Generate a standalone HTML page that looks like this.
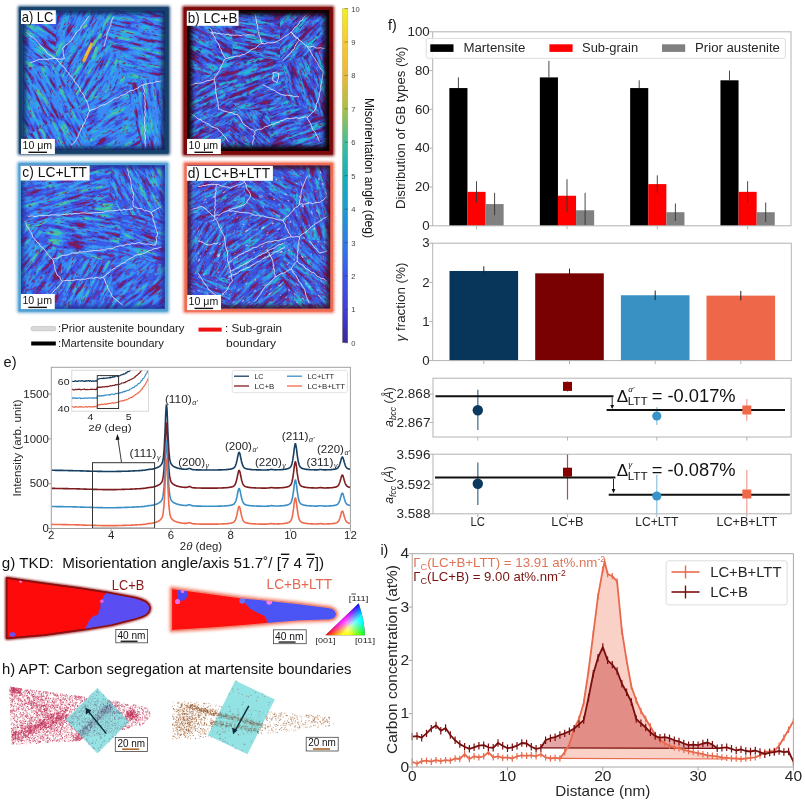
<!DOCTYPE html>
<html><head><meta charset="utf-8"><style>
html,body{margin:0;padding:0;background:#fff;width:805px;height:802px;overflow:hidden}
svg{display:block;font-family:"Liberation Sans",sans-serif}
text{font-family:"Liberation Sans",sans-serif}
</style></head><body>
<svg width="805" height="802" viewBox="0 0 805 802">
<defs><linearGradient id="parula" x1="0" y1="1" x2="0" y2="0"><stop offset="0.0" stop-color="#3a2a9a"/><stop offset="0.05" stop-color="#3d31b8"/><stop offset="0.1" stop-color="#4040d8"/><stop offset="0.2" stop-color="#3c56ea"/><stop offset="0.3" stop-color="#2d7ce8"/><stop offset="0.4" stop-color="#1a9ad8"/><stop offset="0.5" stop-color="#15b0bc"/><stop offset="0.6" stop-color="#40bea0"/><stop offset="0.7" stop-color="#a8c048"/><stop offset="0.8" stop-color="#eab83c"/><stop offset="0.9" stop-color="#f8c835"/><stop offset="1.0" stop-color="#f2f020"/></linearGradient><filter id="spka0" x="0" y="0" width="100%" height="100%" color-interpolation-filters="sRGB"><feTurbulence type="fractalNoise" baseFrequency="0.16 0.7" numOctaves="2" seed="77" result="n"/><feColorMatrix in="n" type="matrix" values="0 0 0 0 0  0 0 0 0 0  0 0 0 0 0  9.0 0 0 0 -5.80" result="m"/><feComposite in="SourceGraphic" in2="m" operator="in"/><feGaussianBlur stdDeviation="0.35"/></filter><filter id="spka1" x="0" y="0" width="100%" height="100%" color-interpolation-filters="sRGB"><feTurbulence type="fractalNoise" baseFrequency="0.14 0.6" numOctaves="2" seed="90" result="n"/><feColorMatrix in="n" type="matrix" values="0 0 0 0 0  0 0 0 0 0  0 0 0 0 0  9.0 0 0 0 -6.08" result="m"/><feComposite in="SourceGraphic" in2="m" operator="in"/><feGaussianBlur stdDeviation="0.35"/></filter><filter id="spkb0" x="0" y="0" width="100%" height="100%" color-interpolation-filters="sRGB"><feTurbulence type="fractalNoise" baseFrequency="0.16 0.7" numOctaves="2" seed="154" result="n"/><feColorMatrix in="n" type="matrix" values="0 0 0 0 0  0 0 0 0 0  0 0 0 0 0  9.0 0 0 0 -5.40" result="m"/><feComposite in="SourceGraphic" in2="m" operator="in"/><feGaussianBlur stdDeviation="0.35"/></filter><filter id="spkb1" x="0" y="0" width="100%" height="100%" color-interpolation-filters="sRGB"><feTurbulence type="fractalNoise" baseFrequency="0.14 0.6" numOctaves="2" seed="167" result="n"/><feColorMatrix in="n" type="matrix" values="0 0 0 0 0  0 0 0 0 0  0 0 0 0 0  9.0 0 0 0 -5.58" result="m"/><feComposite in="SourceGraphic" in2="m" operator="in"/><feGaussianBlur stdDeviation="0.35"/></filter><filter id="spkc0" x="0" y="0" width="100%" height="100%" color-interpolation-filters="sRGB"><feTurbulence type="fractalNoise" baseFrequency="0.16 0.7" numOctaves="2" seed="231" result="n"/><feColorMatrix in="n" type="matrix" values="0 0 0 0 0  0 0 0 0 0  0 0 0 0 0  9.0 0 0 0 -5.54" result="m"/><feComposite in="SourceGraphic" in2="m" operator="in"/><feGaussianBlur stdDeviation="0.35"/></filter><filter id="spkc1" x="0" y="0" width="100%" height="100%" color-interpolation-filters="sRGB"><feTurbulence type="fractalNoise" baseFrequency="0.14 0.6" numOctaves="2" seed="244" result="n"/><feColorMatrix in="n" type="matrix" values="0 0 0 0 0  0 0 0 0 0  0 0 0 0 0  9.0 0 0 0 -5.85" result="m"/><feComposite in="SourceGraphic" in2="m" operator="in"/><feGaussianBlur stdDeviation="0.35"/></filter><filter id="spkd0" x="0" y="0" width="100%" height="100%" color-interpolation-filters="sRGB"><feTurbulence type="fractalNoise" baseFrequency="0.16 0.7" numOctaves="2" seed="308" result="n"/><feColorMatrix in="n" type="matrix" values="0 0 0 0 0  0 0 0 0 0  0 0 0 0 0  9.0 0 0 0 -5.45" result="m"/><feComposite in="SourceGraphic" in2="m" operator="in"/><feGaussianBlur stdDeviation="0.35"/></filter><filter id="spkd1" x="0" y="0" width="100%" height="100%" color-interpolation-filters="sRGB"><feTurbulence type="fractalNoise" baseFrequency="0.14 0.6" numOctaves="2" seed="321" result="n"/><feColorMatrix in="n" type="matrix" values="0 0 0 0 0  0 0 0 0 0  0 0 0 0 0  9.0 0 0 0 -5.76" result="m"/><feComposite in="SourceGraphic" in2="m" operator="in"/><feGaussianBlur stdDeviation="0.35"/></filter><filter id="spkd2" x="0" y="0" width="100%" height="100%" color-interpolation-filters="sRGB"><feTurbulence type="fractalNoise" baseFrequency="0.2 0.6" numOctaves="2" seed="334" result="n"/><feColorMatrix in="n" type="matrix" values="0 0 0 0 0  0 0 0 0 0  0 0 0 0 0  9.0 0 0 0 -6.21" result="m"/><feComposite in="SourceGraphic" in2="m" operator="in"/><feGaussianBlur stdDeviation="0.35"/></filter><filter id="nfa0" x="0" y="0" width="100%" height="100%" color-interpolation-filters="sRGB"><feTurbulence type="fractalNoise" baseFrequency="0.045 0.28" numOctaves="2" seed="11"/><feColorMatrix type="matrix" values="1 0 0 0 0  1 0 0 0 0  1 0 0 0 0  0 0 0 0 1"/><feComponentTransfer><feFuncR type="linear" slope="2.3" intercept="-0.6499999999999999"/><feFuncG type="linear" slope="2.3" intercept="-0.6499999999999999"/><feFuncB type="linear" slope="2.3" intercept="-0.6499999999999999"/></feComponentTransfer><feComponentTransfer><feFuncR type="discrete" tableValues="0.478 0.227 0.290 0.290 0.290 0.290 0.227 0.227 0.227 0.227 0.227 0.227 0.227 0.227 0.227 0.227 0.227 0.227 0.227 0.227 0.227 0.227 0.227 0.227 0.227 0.227 0.227 0.227 0.196 0.196 0.196 0.196 0.196 0.196 0.196 0.133 0.133 0.133 0.133 0.298"/><feFuncG type="discrete" tableValues="0.102 0.165 0.282 0.282 0.282 0.282 0.384 0.384 0.384 0.384 0.384 0.384 0.384 0.384 0.549 0.549 0.549 0.549 0.549 0.549 0.549 0.549 0.549 0.549 0.549 0.549 0.549 0.549 0.651 0.651 0.651 0.651 0.651 0.651 0.651 0.722 0.722 0.722 0.722 0.769"/><feFuncB type="discrete" tableValues="0.353 0.565 0.847 0.847 0.847 0.847 0.918 0.918 0.918 0.918 0.918 0.918 0.918 0.918 0.961 0.961 0.961 0.961 0.961 0.961 0.961 0.961 0.961 0.961 0.961 0.961 0.961 0.961 0.933 0.933 0.933 0.933 0.933 0.933 0.933 0.816 0.816 0.816 0.816 0.627"/></feComponentTransfer><feGaussianBlur stdDeviation="0.45"/></filter><filter id="nfa1" x="0" y="0" width="100%" height="100%" color-interpolation-filters="sRGB"><feTurbulence type="fractalNoise" baseFrequency="0.045 0.28" numOctaves="2" seed="28"/><feColorMatrix type="matrix" values="1 0 0 0 0  1 0 0 0 0  1 0 0 0 0  0 0 0 0 1"/><feComponentTransfer><feFuncR type="linear" slope="2.3" intercept="-0.6499999999999999"/><feFuncG type="linear" slope="2.3" intercept="-0.6499999999999999"/><feFuncB type="linear" slope="2.3" intercept="-0.6499999999999999"/></feComponentTransfer><feComponentTransfer><feFuncR type="discrete" tableValues="0.478 0.227 0.290 0.290 0.290 0.290 0.227 0.227 0.227 0.227 0.227 0.227 0.227 0.227 0.227 0.227 0.227 0.227 0.227 0.227 0.227 0.227 0.227 0.227 0.227 0.227 0.227 0.227 0.196 0.196 0.196 0.196 0.196 0.196 0.196 0.133 0.133 0.133 0.133 0.298"/><feFuncG type="discrete" tableValues="0.102 0.165 0.282 0.282 0.282 0.282 0.384 0.384 0.384 0.384 0.384 0.384 0.384 0.384 0.549 0.549 0.549 0.549 0.549 0.549 0.549 0.549 0.549 0.549 0.549 0.549 0.549 0.549 0.651 0.651 0.651 0.651 0.651 0.651 0.651 0.722 0.722 0.722 0.722 0.769"/><feFuncB type="discrete" tableValues="0.353 0.565 0.847 0.847 0.847 0.847 0.918 0.918 0.918 0.918 0.918 0.918 0.918 0.918 0.961 0.961 0.961 0.961 0.961 0.961 0.961 0.961 0.961 0.961 0.961 0.961 0.961 0.961 0.933 0.933 0.933 0.933 0.933 0.933 0.933 0.816 0.816 0.816 0.816 0.627"/></feComponentTransfer><feGaussianBlur stdDeviation="0.45"/></filter><filter id="nfa2" x="0" y="0" width="100%" height="100%" color-interpolation-filters="sRGB"><feTurbulence type="fractalNoise" baseFrequency="0.045 0.28" numOctaves="2" seed="45"/><feColorMatrix type="matrix" values="1 0 0 0 0  1 0 0 0 0  1 0 0 0 0  0 0 0 0 1"/><feComponentTransfer><feFuncR type="linear" slope="2.3" intercept="-0.6499999999999999"/><feFuncG type="linear" slope="2.3" intercept="-0.6499999999999999"/><feFuncB type="linear" slope="2.3" intercept="-0.6499999999999999"/></feComponentTransfer><feComponentTransfer><feFuncR type="discrete" tableValues="0.478 0.227 0.290 0.290 0.290 0.290 0.227 0.227 0.227 0.227 0.227 0.227 0.227 0.227 0.227 0.227 0.227 0.227 0.227 0.227 0.227 0.227 0.227 0.227 0.227 0.227 0.227 0.227 0.196 0.196 0.196 0.196 0.196 0.196 0.196 0.133 0.133 0.133 0.133 0.298"/><feFuncG type="discrete" tableValues="0.102 0.165 0.282 0.282 0.282 0.282 0.384 0.384 0.384 0.384 0.384 0.384 0.384 0.384 0.549 0.549 0.549 0.549 0.549 0.549 0.549 0.549 0.549 0.549 0.549 0.549 0.549 0.549 0.651 0.651 0.651 0.651 0.651 0.651 0.651 0.722 0.722 0.722 0.722 0.769"/><feFuncB type="discrete" tableValues="0.353 0.565 0.847 0.847 0.847 0.847 0.918 0.918 0.918 0.918 0.918 0.918 0.918 0.918 0.961 0.961 0.961 0.961 0.961 0.961 0.961 0.961 0.961 0.961 0.961 0.961 0.961 0.961 0.933 0.933 0.933 0.933 0.933 0.933 0.933 0.816 0.816 0.816 0.816 0.627"/></feComponentTransfer><feGaussianBlur stdDeviation="0.45"/></filter><filter id="nfb0" x="0" y="0" width="100%" height="100%" color-interpolation-filters="sRGB"><feTurbulence type="fractalNoise" baseFrequency="0.045 0.28" numOctaves="2" seed="22"/><feColorMatrix type="matrix" values="1 0 0 0 0  1 0 0 0 0  1 0 0 0 0  0 0 0 0 1"/><feComponentTransfer><feFuncR type="linear" slope="2.6" intercept="-0.8"/><feFuncG type="linear" slope="2.6" intercept="-0.8"/><feFuncB type="linear" slope="2.6" intercept="-0.8"/></feComponentTransfer><feComponentTransfer><feFuncR type="discrete" tableValues="0.478 0.478 0.200 0.200 0.200 0.200 0.290 0.290 0.290 0.290 0.290 0.290 0.290 0.227 0.227 0.227 0.227 0.227 0.227 0.227 0.227 0.227 0.227 0.227 0.227 0.227 0.227 0.227 0.227 0.227 0.227 0.227 0.227 0.227 0.196 0.196 0.196 0.196 0.133 0.133"/><feFuncG type="discrete" tableValues="0.102 0.102 0.157 0.157 0.157 0.157 0.267 0.267 0.267 0.267 0.267 0.267 0.267 0.353 0.353 0.353 0.353 0.353 0.353 0.353 0.353 0.353 0.353 0.533 0.533 0.533 0.533 0.533 0.533 0.533 0.533 0.533 0.533 0.533 0.651 0.651 0.651 0.651 0.722 0.722"/><feFuncB type="discrete" tableValues="0.353 0.353 0.541 0.541 0.541 0.541 0.816 0.816 0.816 0.816 0.816 0.816 0.816 0.902 0.902 0.902 0.902 0.902 0.902 0.902 0.902 0.902 0.902 0.941 0.941 0.941 0.941 0.941 0.941 0.941 0.941 0.941 0.941 0.941 0.933 0.933 0.933 0.933 0.816 0.816"/></feComponentTransfer><feGaussianBlur stdDeviation="0.45"/></filter><filter id="nfb1" x="0" y="0" width="100%" height="100%" color-interpolation-filters="sRGB"><feTurbulence type="fractalNoise" baseFrequency="0.045 0.28" numOctaves="2" seed="39"/><feColorMatrix type="matrix" values="1 0 0 0 0  1 0 0 0 0  1 0 0 0 0  0 0 0 0 1"/><feComponentTransfer><feFuncR type="linear" slope="2.6" intercept="-0.8"/><feFuncG type="linear" slope="2.6" intercept="-0.8"/><feFuncB type="linear" slope="2.6" intercept="-0.8"/></feComponentTransfer><feComponentTransfer><feFuncR type="discrete" tableValues="0.478 0.478 0.200 0.200 0.200 0.200 0.290 0.290 0.290 0.290 0.290 0.290 0.290 0.227 0.227 0.227 0.227 0.227 0.227 0.227 0.227 0.227 0.227 0.227 0.227 0.227 0.227 0.227 0.227 0.227 0.227 0.227 0.227 0.227 0.196 0.196 0.196 0.196 0.133 0.133"/><feFuncG type="discrete" tableValues="0.102 0.102 0.157 0.157 0.157 0.157 0.267 0.267 0.267 0.267 0.267 0.267 0.267 0.353 0.353 0.353 0.353 0.353 0.353 0.353 0.353 0.353 0.353 0.533 0.533 0.533 0.533 0.533 0.533 0.533 0.533 0.533 0.533 0.533 0.651 0.651 0.651 0.651 0.722 0.722"/><feFuncB type="discrete" tableValues="0.353 0.353 0.541 0.541 0.541 0.541 0.816 0.816 0.816 0.816 0.816 0.816 0.816 0.902 0.902 0.902 0.902 0.902 0.902 0.902 0.902 0.902 0.902 0.941 0.941 0.941 0.941 0.941 0.941 0.941 0.941 0.941 0.941 0.941 0.933 0.933 0.933 0.933 0.816 0.816"/></feComponentTransfer><feGaussianBlur stdDeviation="0.45"/></filter><filter id="nfb2" x="0" y="0" width="100%" height="100%" color-interpolation-filters="sRGB"><feTurbulence type="fractalNoise" baseFrequency="0.045 0.28" numOctaves="2" seed="56"/><feColorMatrix type="matrix" values="1 0 0 0 0  1 0 0 0 0  1 0 0 0 0  0 0 0 0 1"/><feComponentTransfer><feFuncR type="linear" slope="2.6" intercept="-0.8"/><feFuncG type="linear" slope="2.6" intercept="-0.8"/><feFuncB type="linear" slope="2.6" intercept="-0.8"/></feComponentTransfer><feComponentTransfer><feFuncR type="discrete" tableValues="0.478 0.478 0.200 0.200 0.200 0.200 0.290 0.290 0.290 0.290 0.290 0.290 0.290 0.227 0.227 0.227 0.227 0.227 0.227 0.227 0.227 0.227 0.227 0.227 0.227 0.227 0.227 0.227 0.227 0.227 0.227 0.227 0.227 0.227 0.196 0.196 0.196 0.196 0.133 0.133"/><feFuncG type="discrete" tableValues="0.102 0.102 0.157 0.157 0.157 0.157 0.267 0.267 0.267 0.267 0.267 0.267 0.267 0.353 0.353 0.353 0.353 0.353 0.353 0.353 0.353 0.353 0.353 0.533 0.533 0.533 0.533 0.533 0.533 0.533 0.533 0.533 0.533 0.533 0.651 0.651 0.651 0.651 0.722 0.722"/><feFuncB type="discrete" tableValues="0.353 0.353 0.541 0.541 0.541 0.541 0.816 0.816 0.816 0.816 0.816 0.816 0.816 0.902 0.902 0.902 0.902 0.902 0.902 0.902 0.902 0.902 0.902 0.941 0.941 0.941 0.941 0.941 0.941 0.941 0.941 0.941 0.941 0.941 0.933 0.933 0.933 0.933 0.816 0.816"/></feComponentTransfer><feGaussianBlur stdDeviation="0.45"/></filter><filter id="nfc0" x="0" y="0" width="100%" height="100%" color-interpolation-filters="sRGB"><feTurbulence type="fractalNoise" baseFrequency="0.045 0.28" numOctaves="2" seed="33"/><feColorMatrix type="matrix" values="1 0 0 0 0  1 0 0 0 0  1 0 0 0 0  0 0 0 0 1"/><feComponentTransfer><feFuncR type="linear" slope="2.3" intercept="-0.6499999999999999"/><feFuncG type="linear" slope="2.3" intercept="-0.6499999999999999"/><feFuncB type="linear" slope="2.3" intercept="-0.6499999999999999"/></feComponentTransfer><feComponentTransfer><feFuncR type="discrete" tableValues="0.502 0.227 0.227 0.290 0.290 0.290 0.290 0.290 0.227 0.227 0.227 0.227 0.227 0.227 0.227 0.227 0.227 0.227 0.227 0.227 0.227 0.227 0.227 0.227 0.227 0.227 0.227 0.227 0.227 0.227 0.227 0.227 0.204 0.204 0.204 0.204 0.204 0.133 0.133 0.298"/><feFuncG type="discrete" tableValues="0.110 0.165 0.165 0.267 0.267 0.267 0.267 0.267 0.361 0.361 0.361 0.361 0.361 0.361 0.361 0.361 0.361 0.361 0.361 0.361 0.549 0.549 0.549 0.549 0.549 0.549 0.549 0.549 0.549 0.549 0.549 0.549 0.659 0.659 0.659 0.659 0.659 0.722 0.722 0.769"/><feFuncB type="discrete" tableValues="0.353 0.565 0.565 0.847 0.847 0.847 0.847 0.847 0.918 0.918 0.918 0.918 0.918 0.918 0.918 0.918 0.918 0.918 0.918 0.918 0.961 0.961 0.961 0.961 0.961 0.961 0.961 0.961 0.961 0.961 0.961 0.961 0.933 0.933 0.933 0.933 0.933 0.816 0.816 0.627"/></feComponentTransfer><feGaussianBlur stdDeviation="0.45"/></filter><filter id="nfc1" x="0" y="0" width="100%" height="100%" color-interpolation-filters="sRGB"><feTurbulence type="fractalNoise" baseFrequency="0.045 0.28" numOctaves="2" seed="50"/><feColorMatrix type="matrix" values="1 0 0 0 0  1 0 0 0 0  1 0 0 0 0  0 0 0 0 1"/><feComponentTransfer><feFuncR type="linear" slope="2.3" intercept="-0.6499999999999999"/><feFuncG type="linear" slope="2.3" intercept="-0.6499999999999999"/><feFuncB type="linear" slope="2.3" intercept="-0.6499999999999999"/></feComponentTransfer><feComponentTransfer><feFuncR type="discrete" tableValues="0.502 0.227 0.227 0.290 0.290 0.290 0.290 0.290 0.227 0.227 0.227 0.227 0.227 0.227 0.227 0.227 0.227 0.227 0.227 0.227 0.227 0.227 0.227 0.227 0.227 0.227 0.227 0.227 0.227 0.227 0.227 0.227 0.204 0.204 0.204 0.204 0.204 0.133 0.133 0.298"/><feFuncG type="discrete" tableValues="0.110 0.165 0.165 0.267 0.267 0.267 0.267 0.267 0.361 0.361 0.361 0.361 0.361 0.361 0.361 0.361 0.361 0.361 0.361 0.361 0.549 0.549 0.549 0.549 0.549 0.549 0.549 0.549 0.549 0.549 0.549 0.549 0.659 0.659 0.659 0.659 0.659 0.722 0.722 0.769"/><feFuncB type="discrete" tableValues="0.353 0.565 0.565 0.847 0.847 0.847 0.847 0.847 0.918 0.918 0.918 0.918 0.918 0.918 0.918 0.918 0.918 0.918 0.918 0.918 0.961 0.961 0.961 0.961 0.961 0.961 0.961 0.961 0.961 0.961 0.961 0.961 0.933 0.933 0.933 0.933 0.933 0.816 0.816 0.627"/></feComponentTransfer><feGaussianBlur stdDeviation="0.45"/></filter><filter id="nfc2" x="0" y="0" width="100%" height="100%" color-interpolation-filters="sRGB"><feTurbulence type="fractalNoise" baseFrequency="0.045 0.28" numOctaves="2" seed="67"/><feColorMatrix type="matrix" values="1 0 0 0 0  1 0 0 0 0  1 0 0 0 0  0 0 0 0 1"/><feComponentTransfer><feFuncR type="linear" slope="2.3" intercept="-0.6499999999999999"/><feFuncG type="linear" slope="2.3" intercept="-0.6499999999999999"/><feFuncB type="linear" slope="2.3" intercept="-0.6499999999999999"/></feComponentTransfer><feComponentTransfer><feFuncR type="discrete" tableValues="0.502 0.227 0.227 0.290 0.290 0.290 0.290 0.290 0.227 0.227 0.227 0.227 0.227 0.227 0.227 0.227 0.227 0.227 0.227 0.227 0.227 0.227 0.227 0.227 0.227 0.227 0.227 0.227 0.227 0.227 0.227 0.227 0.204 0.204 0.204 0.204 0.204 0.133 0.133 0.298"/><feFuncG type="discrete" tableValues="0.110 0.165 0.165 0.267 0.267 0.267 0.267 0.267 0.361 0.361 0.361 0.361 0.361 0.361 0.361 0.361 0.361 0.361 0.361 0.361 0.549 0.549 0.549 0.549 0.549 0.549 0.549 0.549 0.549 0.549 0.549 0.549 0.659 0.659 0.659 0.659 0.659 0.722 0.722 0.769"/><feFuncB type="discrete" tableValues="0.353 0.565 0.565 0.847 0.847 0.847 0.847 0.847 0.918 0.918 0.918 0.918 0.918 0.918 0.918 0.918 0.918 0.918 0.918 0.918 0.961 0.961 0.961 0.961 0.961 0.961 0.961 0.961 0.961 0.961 0.961 0.961 0.933 0.933 0.933 0.933 0.933 0.816 0.816 0.627"/></feComponentTransfer><feGaussianBlur stdDeviation="0.45"/></filter><filter id="nfd0" x="0" y="0" width="100%" height="100%" color-interpolation-filters="sRGB"><feTurbulence type="fractalNoise" baseFrequency="0.045 0.28" numOctaves="2" seed="44"/><feColorMatrix type="matrix" values="1 0 0 0 0  1 0 0 0 0  1 0 0 0 0  0 0 0 0 1"/><feComponentTransfer><feFuncR type="linear" slope="2.3" intercept="-0.6499999999999999"/><feFuncG type="linear" slope="2.3" intercept="-0.6499999999999999"/><feFuncB type="linear" slope="2.3" intercept="-0.6499999999999999"/></feComponentTransfer><feComponentTransfer><feFuncR type="discrete" tableValues="0.502 0.502 0.227 0.227 0.227 0.290 0.290 0.290 0.290 0.290 0.290 0.290 0.227 0.227 0.227 0.227 0.227 0.227 0.227 0.227 0.227 0.227 0.227 0.227 0.227 0.227 0.227 0.227 0.227 0.227 0.227 0.227 0.227 0.227 0.196 0.196 0.196 0.196 0.133 0.133"/><feFuncG type="discrete" tableValues="0.110 0.110 0.165 0.165 0.165 0.267 0.267 0.267 0.267 0.267 0.267 0.267 0.353 0.353 0.353 0.353 0.353 0.353 0.353 0.353 0.353 0.353 0.353 0.533 0.533 0.533 0.533 0.533 0.533 0.533 0.533 0.533 0.533 0.533 0.651 0.651 0.651 0.651 0.722 0.722"/><feFuncB type="discrete" tableValues="0.353 0.353 0.565 0.565 0.565 0.816 0.816 0.816 0.816 0.816 0.816 0.816 0.902 0.902 0.902 0.902 0.902 0.902 0.902 0.902 0.902 0.902 0.902 0.941 0.941 0.941 0.941 0.941 0.941 0.941 0.941 0.941 0.941 0.941 0.933 0.933 0.933 0.933 0.816 0.816"/></feComponentTransfer><feGaussianBlur stdDeviation="0.45"/></filter><filter id="nfd1" x="0" y="0" width="100%" height="100%" color-interpolation-filters="sRGB"><feTurbulence type="fractalNoise" baseFrequency="0.045 0.28" numOctaves="2" seed="61"/><feColorMatrix type="matrix" values="1 0 0 0 0  1 0 0 0 0  1 0 0 0 0  0 0 0 0 1"/><feComponentTransfer><feFuncR type="linear" slope="2.3" intercept="-0.6499999999999999"/><feFuncG type="linear" slope="2.3" intercept="-0.6499999999999999"/><feFuncB type="linear" slope="2.3" intercept="-0.6499999999999999"/></feComponentTransfer><feComponentTransfer><feFuncR type="discrete" tableValues="0.502 0.502 0.227 0.227 0.227 0.290 0.290 0.290 0.290 0.290 0.290 0.290 0.227 0.227 0.227 0.227 0.227 0.227 0.227 0.227 0.227 0.227 0.227 0.227 0.227 0.227 0.227 0.227 0.227 0.227 0.227 0.227 0.227 0.227 0.196 0.196 0.196 0.196 0.133 0.133"/><feFuncG type="discrete" tableValues="0.110 0.110 0.165 0.165 0.165 0.267 0.267 0.267 0.267 0.267 0.267 0.267 0.353 0.353 0.353 0.353 0.353 0.353 0.353 0.353 0.353 0.353 0.353 0.533 0.533 0.533 0.533 0.533 0.533 0.533 0.533 0.533 0.533 0.533 0.651 0.651 0.651 0.651 0.722 0.722"/><feFuncB type="discrete" tableValues="0.353 0.353 0.565 0.565 0.565 0.816 0.816 0.816 0.816 0.816 0.816 0.816 0.902 0.902 0.902 0.902 0.902 0.902 0.902 0.902 0.902 0.902 0.902 0.941 0.941 0.941 0.941 0.941 0.941 0.941 0.941 0.941 0.941 0.941 0.933 0.933 0.933 0.933 0.816 0.816"/></feComponentTransfer><feGaussianBlur stdDeviation="0.45"/></filter><filter id="nfd2" x="0" y="0" width="100%" height="100%" color-interpolation-filters="sRGB"><feTurbulence type="fractalNoise" baseFrequency="0.045 0.28" numOctaves="2" seed="78"/><feColorMatrix type="matrix" values="1 0 0 0 0  1 0 0 0 0  1 0 0 0 0  0 0 0 0 1"/><feComponentTransfer><feFuncR type="linear" slope="2.3" intercept="-0.6499999999999999"/><feFuncG type="linear" slope="2.3" intercept="-0.6499999999999999"/><feFuncB type="linear" slope="2.3" intercept="-0.6499999999999999"/></feComponentTransfer><feComponentTransfer><feFuncR type="discrete" tableValues="0.502 0.502 0.227 0.227 0.227 0.290 0.290 0.290 0.290 0.290 0.290 0.290 0.227 0.227 0.227 0.227 0.227 0.227 0.227 0.227 0.227 0.227 0.227 0.227 0.227 0.227 0.227 0.227 0.227 0.227 0.227 0.227 0.227 0.227 0.196 0.196 0.196 0.196 0.133 0.133"/><feFuncG type="discrete" tableValues="0.110 0.110 0.165 0.165 0.165 0.267 0.267 0.267 0.267 0.267 0.267 0.267 0.353 0.353 0.353 0.353 0.353 0.353 0.353 0.353 0.353 0.353 0.353 0.533 0.533 0.533 0.533 0.533 0.533 0.533 0.533 0.533 0.533 0.533 0.651 0.651 0.651 0.651 0.722 0.722"/><feFuncB type="discrete" tableValues="0.353 0.353 0.565 0.565 0.565 0.816 0.816 0.816 0.816 0.816 0.816 0.816 0.902 0.902 0.902 0.902 0.902 0.902 0.902 0.902 0.902 0.902 0.902 0.941 0.941 0.941 0.941 0.941 0.941 0.941 0.941 0.941 0.941 0.941 0.933 0.933 0.933 0.933 0.816 0.816"/></feComponentTransfer><feGaussianBlur stdDeviation="0.45"/></filter><filter id="gblur" x="-10%" y="-20%" width="120%" height="140%"><feGaussianBlur stdDeviation="1.2"/></filter><filter id="gblur2" x="-10%" y="-30%" width="120%" height="160%"><feGaussianBlur stdDeviation="1.8"/></filter><linearGradient id="ipfR" gradientUnits="userSpaceOnUse" x1="325.3" y1="635.3" x2="363.5" y2="627.8"><stop offset="0" stop-color="#ff0000"/><stop offset="0.6" stop-color="#ff0000"/><stop offset="1" stop-color="#000"/></linearGradient><linearGradient id="ipfG" gradientUnits="userSpaceOnUse" x1="365.0" y1="635.3" x2="346.0" y2="615.5"><stop offset="0" stop-color="#00ff00"/><stop offset="0.6" stop-color="#00ff00"/><stop offset="1" stop-color="#000"/></linearGradient><linearGradient id="ipfB" gradientUnits="userSpaceOnUse" x1="358.7" y1="603.3" x2="358.7" y2="635.3"><stop offset="0" stop-color="#0000ff"/><stop offset="0.6" stop-color="#0000ff"/><stop offset="1" stop-color="#000"/></linearGradient><filter id="glow" x="-10%" y="-10%" width="120%" height="120%"><feGaussianBlur stdDeviation="1.6"/></filter><filter id="vblur" x="-10%" y="-10%" width="120%" height="120%"><feGaussianBlur stdDeviation="2.2"/></filter><filter id="soft" x="-20%" y="-20%" width="140%" height="140%"><feGaussianBlur stdDeviation="1.2"/></filter></defs>
<rect width="805" height="802" fill="#fff"/>
<g id="panel_f">
<text x="388.00" y="29.60" font-size="14.20" text-anchor="start" fill="#111">f)</text>
<rect x="449.35" y="88.06" width="18.10" height="137.74" fill="#000"/>
<rect x="467.45" y="191.85" width="18.10" height="33.95" fill="#ff0000"/>
<rect x="485.55" y="204.07" width="18.10" height="21.73" fill="#808080"/>
<line x1="458.40" y1="77.39" x2="458.40" y2="88.06" stroke="#333" stroke-width="0.9"/>
<line x1="476.50" y1="181.18" x2="476.50" y2="202.52" stroke="#333" stroke-width="0.9"/>
<line x1="494.60" y1="192.82" x2="494.60" y2="215.13" stroke="#333" stroke-width="0.9"/>
<rect x="539.85" y="77.39" width="18.10" height="148.41" fill="#000"/>
<rect x="557.95" y="195.73" width="18.10" height="30.07" fill="#ff0000"/>
<rect x="576.05" y="210.28" width="18.10" height="15.52" fill="#808080"/>
<line x1="548.90" y1="60.90" x2="548.90" y2="77.39" stroke="#333" stroke-width="0.9"/>
<line x1="567.00" y1="179.24" x2="567.00" y2="212.22" stroke="#333" stroke-width="0.9"/>
<line x1="585.10" y1="192.82" x2="585.10" y2="224.83" stroke="#333" stroke-width="0.9"/>
<rect x="630.15" y="88.06" width="18.10" height="137.74" fill="#000"/>
<rect x="648.25" y="184.09" width="18.10" height="41.71" fill="#ff0000"/>
<rect x="666.35" y="212.22" width="18.10" height="13.58" fill="#808080"/>
<line x1="639.20" y1="80.30" x2="639.20" y2="88.06" stroke="#333" stroke-width="0.9"/>
<line x1="657.30" y1="175.36" x2="657.30" y2="192.82" stroke="#333" stroke-width="0.9"/>
<line x1="675.40" y1="203.49" x2="675.40" y2="220.95" stroke="#333" stroke-width="0.9"/>
<rect x="720.45" y="80.30" width="18.10" height="145.50" fill="#000"/>
<rect x="738.55" y="191.85" width="18.10" height="33.95" fill="#ff0000"/>
<rect x="756.65" y="212.22" width="18.10" height="13.58" fill="#808080"/>
<line x1="729.50" y1="70.60" x2="729.50" y2="80.30" stroke="#333" stroke-width="0.9"/>
<line x1="747.60" y1="181.18" x2="747.60" y2="202.52" stroke="#333" stroke-width="0.9"/>
<line x1="765.70" y1="202.52" x2="765.70" y2="221.92" stroke="#333" stroke-width="0.9"/>
<rect x="432.7" y="31.8" width="358.3" height="194.0" fill="none" stroke="#b3b3b3" stroke-width="1"/>
<line x1="429.20" y1="225.80" x2="432.70" y2="225.80" stroke="#b3b3b3" stroke-width="1"/>
<text x="429.70" y="230.00" font-size="12.30" text-anchor="end" fill="#262626" textLength="7.38" lengthAdjust="spacingAndGlyphs">0</text>
<line x1="429.20" y1="187.00" x2="432.70" y2="187.00" stroke="#b3b3b3" stroke-width="1"/>
<text x="429.70" y="191.20" font-size="12.30" text-anchor="end" fill="#262626" textLength="14.76" lengthAdjust="spacingAndGlyphs">20</text>
<line x1="429.20" y1="148.20" x2="432.70" y2="148.20" stroke="#b3b3b3" stroke-width="1"/>
<text x="429.70" y="152.40" font-size="12.30" text-anchor="end" fill="#262626" textLength="14.76" lengthAdjust="spacingAndGlyphs">40</text>
<line x1="429.20" y1="109.40" x2="432.70" y2="109.40" stroke="#b3b3b3" stroke-width="1"/>
<text x="429.70" y="113.60" font-size="12.30" text-anchor="end" fill="#262626" textLength="14.76" lengthAdjust="spacingAndGlyphs">60</text>
<line x1="429.20" y1="70.60" x2="432.70" y2="70.60" stroke="#b3b3b3" stroke-width="1"/>
<text x="429.70" y="74.80" font-size="12.30" text-anchor="end" fill="#262626" textLength="14.76" lengthAdjust="spacingAndGlyphs">80</text>
<line x1="429.20" y1="31.80" x2="432.70" y2="31.80" stroke="#b3b3b3" stroke-width="1"/>
<text x="429.70" y="36.00" font-size="12.30" text-anchor="end" fill="#262626" textLength="22.14" lengthAdjust="spacingAndGlyphs">100</text>
<line x1="476.50" y1="225.80" x2="476.50" y2="229.30" stroke="#b3b3b3" stroke-width="1"/>
<line x1="567.00" y1="225.80" x2="567.00" y2="229.30" stroke="#b3b3b3" stroke-width="1"/>
<line x1="657.30" y1="225.80" x2="657.30" y2="229.30" stroke="#b3b3b3" stroke-width="1"/>
<line x1="747.60" y1="225.80" x2="747.60" y2="229.30" stroke="#b3b3b3" stroke-width="1"/>
<rect x="426.2" y="38.4" width="359.2" height="19.9" rx="2" fill="#fff" fill-opacity="0.85" stroke="#dcdcdc" stroke-width="1"/>
<rect x="430.30" y="44.30" width="23.20" height="7.60" fill="#000"/>
<text x="463.40" y="52.40" font-size="12.30" text-anchor="start" fill="#262626" textLength="61.88" lengthAdjust="spacingAndGlyphs">Martensite</text>
<rect x="549.40" y="44.30" width="23.20" height="7.60" fill="#ff0000"/>
<text x="582.00" y="52.40" font-size="12.30" text-anchor="start" fill="#262626" textLength="56.08" lengthAdjust="spacingAndGlyphs">Sub-grain</text>
<rect x="662.00" y="44.30" width="23.20" height="7.60" fill="#808080"/>
<text x="695.10" y="52.40" font-size="12.30" text-anchor="start" fill="#262626" textLength="84.79" lengthAdjust="spacingAndGlyphs">Prior austenite</text>
<text x="405.20" y="127.80" font-size="12.30" text-anchor="middle" fill="#262626" textLength="162.58" lengthAdjust="spacingAndGlyphs" transform="rotate(-90 405.20 127.80)">Distribution of GB types (%)</text>
<rect x="449.50" y="270.98" width="68.60" height="89.62" fill="#07365a"/>
<line x1="483.80" y1="266.29" x2="483.80" y2="275.68" stroke="#222" stroke-width="1"/>
<rect x="535.20" y="273.33" width="68.60" height="87.27" fill="#7a0101"/>
<line x1="569.50" y1="268.64" x2="569.50" y2="278.03" stroke="#222" stroke-width="1"/>
<rect x="620.90" y="295.25" width="68.60" height="65.35" fill="#3990c3"/>
<line x1="655.20" y1="290.55" x2="655.20" y2="299.94" stroke="#222" stroke-width="1"/>
<rect x="706.50" y="295.64" width="68.60" height="64.96" fill="#ee6749"/>
<line x1="740.80" y1="290.94" x2="740.80" y2="300.33" stroke="#222" stroke-width="1"/>
<rect x="432.7" y="243.2" width="358.59999999999997" height="117.40000000000003" fill="none" stroke="#b3b3b3" stroke-width="1"/>
<line x1="429.20" y1="360.60" x2="432.70" y2="360.60" stroke="#b3b3b3" stroke-width="1"/>
<text x="429.70" y="364.80" font-size="12.30" text-anchor="end" fill="#262626" textLength="7.38" lengthAdjust="spacingAndGlyphs">0</text>
<line x1="429.20" y1="321.47" x2="432.70" y2="321.47" stroke="#b3b3b3" stroke-width="1"/>
<text x="429.70" y="325.67" font-size="12.30" text-anchor="end" fill="#262626" textLength="7.38" lengthAdjust="spacingAndGlyphs">1</text>
<line x1="429.20" y1="282.33" x2="432.70" y2="282.33" stroke="#b3b3b3" stroke-width="1"/>
<text x="429.70" y="286.53" font-size="12.30" text-anchor="end" fill="#262626" textLength="7.38" lengthAdjust="spacingAndGlyphs">2</text>
<line x1="429.20" y1="243.20" x2="432.70" y2="243.20" stroke="#b3b3b3" stroke-width="1"/>
<text x="429.70" y="247.40" font-size="12.30" text-anchor="end" fill="#262626" textLength="7.38" lengthAdjust="spacingAndGlyphs">3</text>
<line x1="483.80" y1="360.60" x2="483.80" y2="364.10" stroke="#b3b3b3" stroke-width="1"/>
<line x1="569.50" y1="360.60" x2="569.50" y2="364.10" stroke="#b3b3b3" stroke-width="1"/>
<line x1="655.20" y1="360.60" x2="655.20" y2="364.10" stroke="#b3b3b3" stroke-width="1"/>
<line x1="740.80" y1="360.60" x2="740.80" y2="364.10" stroke="#b3b3b3" stroke-width="1"/>
<text x="405.2" y="302" font-size="12.3" text-anchor="middle" fill="#262626" transform="rotate(-90 405.2 302)" textLength="78.9" lengthAdjust="spacingAndGlyphs"><tspan font-style="italic">γ</tspan> fraction (%)</text>
<rect x="433.0" y="378.2" width="358.1" height="58.80000000000001" fill="none" stroke="#b3b3b3" stroke-width="1"/>
<line x1="429.50" y1="394.00" x2="433.00" y2="394.00" stroke="#b3b3b3" stroke-width="1"/>
<text x="430.40" y="398.30" font-size="12.51" text-anchor="end" fill="#262626" textLength="33.78" lengthAdjust="spacingAndGlyphs">2.868</text>
<line x1="429.50" y1="422.50" x2="433.00" y2="422.50" stroke="#b3b3b3" stroke-width="1"/>
<text x="430.40" y="426.80" font-size="12.51" text-anchor="end" fill="#262626" textLength="33.78" lengthAdjust="spacingAndGlyphs">2.867</text>
<line x1="477.80" y1="437.00" x2="477.80" y2="440.50" stroke="#b3b3b3" stroke-width="1"/>
<line x1="567.50" y1="437.00" x2="567.50" y2="440.50" stroke="#b3b3b3" stroke-width="1"/>
<line x1="656.80" y1="437.00" x2="656.80" y2="440.50" stroke="#b3b3b3" stroke-width="1"/>
<line x1="746.80" y1="437.00" x2="746.80" y2="440.50" stroke="#b3b3b3" stroke-width="1"/>
<line x1="477.80" y1="389.70" x2="477.80" y2="430.00" stroke="#6b8fa8" stroke-width="1.6"/>
<line x1="567.50" y1="381.50" x2="567.50" y2="391.50" stroke="#a65050" stroke-width="1.2"/>
<line x1="656.80" y1="407.00" x2="656.80" y2="425.00" stroke="#8cc0e0" stroke-width="1.2"/>
<line x1="746.80" y1="399.00" x2="746.80" y2="421.00" stroke="#f0a090" stroke-width="1.2"/>
<line x1="435.50" y1="396.20" x2="613.50" y2="396.20" stroke="#111" stroke-width="2"/>
<line x1="606.60" y1="410.00" x2="785.00" y2="410.00" stroke="#111" stroke-width="2"/>
<line x1="612.20" y1="397.50" x2="612.20" y2="407.50" stroke="#111" stroke-width="0.9"/>
<polygon points="610.3,405.0 614.1,405.0 612.2,409.0" fill="#111"/>
<circle cx="477.8" cy="410.2" r="5.2" fill="#0b3a5e"/>
<rect x="563.00" y="381.90" width="9.00" height="9.00" fill="#870000"/>
<circle cx="656.8" cy="416.0" r="4.6" fill="#3a93c8"/>
<rect x="742.30" y="405.50" width="9.00" height="9.00" fill="#ef6a4b"/>
<text x="616.7" y="401.5" font-size="17" fill="#111">Δ</text>
<text x="628.2" y="392.0" font-size="8" fill="#111" font-style="italic">α'</text>
<text x="627.7" y="405.0" font-size="11" fill="#111" textLength="20" lengthAdjust="spacingAndGlyphs">LTT</text>
<text x="651.7" y="401.5" font-size="19" fill="#111" textLength="83.9" lengthAdjust="spacingAndGlyphs">= -0.017%</text>
<text x="392.6" y="407.0" font-size="12.3" text-anchor="middle" fill="#262626" transform="rotate(-90 392.6 407.0)"><tspan font-style="italic">a</tspan><tspan font-size="8.5" font-style="italic" dy="3">bcc</tspan><tspan dy="-3"> (</tspan><tspan font-style="italic">Å</tspan>)</text>
<rect x="433.0" y="454.2" width="358.1" height="59.599999999999966" fill="none" stroke="#b3b3b3" stroke-width="1"/>
<line x1="429.50" y1="454.20" x2="433.00" y2="454.20" stroke="#b3b3b3" stroke-width="1"/>
<text x="430.40" y="458.50" font-size="12.51" text-anchor="end" fill="#262626" textLength="33.78" lengthAdjust="spacingAndGlyphs">3.596</text>
<line x1="429.50" y1="484.30" x2="433.00" y2="484.30" stroke="#b3b3b3" stroke-width="1"/>
<text x="430.40" y="488.60" font-size="12.51" text-anchor="end" fill="#262626" textLength="33.78" lengthAdjust="spacingAndGlyphs">3.592</text>
<line x1="429.50" y1="513.80" x2="433.00" y2="513.80" stroke="#b3b3b3" stroke-width="1"/>
<text x="430.40" y="518.10" font-size="12.51" text-anchor="end" fill="#262626" textLength="33.78" lengthAdjust="spacingAndGlyphs">3.588</text>
<line x1="477.80" y1="513.80" x2="477.80" y2="517.30" stroke="#b3b3b3" stroke-width="1"/>
<line x1="567.50" y1="513.80" x2="567.50" y2="517.30" stroke="#b3b3b3" stroke-width="1"/>
<line x1="656.80" y1="513.80" x2="656.80" y2="517.30" stroke="#b3b3b3" stroke-width="1"/>
<line x1="746.80" y1="513.80" x2="746.80" y2="517.30" stroke="#b3b3b3" stroke-width="1"/>
<line x1="477.80" y1="462.40" x2="477.80" y2="505.00" stroke="#6b8fa8" stroke-width="1.6"/>
<line x1="567.50" y1="454.50" x2="567.50" y2="499.60" stroke="#a65050" stroke-width="1.2"/>
<line x1="656.80" y1="474.70" x2="656.80" y2="513.80" stroke="#8cc0e0" stroke-width="1.2"/>
<line x1="746.80" y1="470.00" x2="746.80" y2="513.80" stroke="#f0a090" stroke-width="1.2"/>
<line x1="435.00" y1="477.40" x2="615.40" y2="477.40" stroke="#111" stroke-width="2"/>
<line x1="608.70" y1="494.80" x2="789.80" y2="494.80" stroke="#111" stroke-width="2"/>
<line x1="613.50" y1="479.00" x2="613.50" y2="491.50" stroke="#111" stroke-width="0.9"/>
<polygon points="611.6,489.0 615.4,489.0 613.5,493.3" fill="#111"/>
<circle cx="477.8" cy="483.7" r="5.2" fill="#0b3a5e"/>
<rect x="563.00" y="467.70" width="9.00" height="9.00" fill="#870000"/>
<circle cx="656.8" cy="496.0" r="4.6" fill="#3a93c8"/>
<rect x="742.30" y="489.50" width="9.00" height="9.00" fill="#ef6a4b"/>
<text x="616.7" y="476.0" font-size="17" fill="#111">Δ</text>
<text x="628.2" y="466.5" font-size="8" fill="#111" font-style="italic">γ</text>
<text x="627.7" y="479.5" font-size="11" fill="#111" textLength="20" lengthAdjust="spacingAndGlyphs">LTT</text>
<text x="651.7" y="476.0" font-size="19" fill="#111" textLength="83.9" lengthAdjust="spacingAndGlyphs">= -0.087%</text>
<text x="392.6" y="485.0" font-size="12.3" text-anchor="middle" fill="#262626" transform="rotate(-90 392.6 485.0)"><tspan font-style="italic">a</tspan><tspan font-size="8.5" font-style="italic" dy="3">fcc</tspan><tspan dy="-3"> (</tspan><tspan font-style="italic">Å</tspan>)</text>
<text x="477.80" y="525.80" font-size="12.30" text-anchor="middle" fill="#262626" textLength="14.56" lengthAdjust="spacingAndGlyphs">LC</text>
<text x="567.50" y="525.80" font-size="12.30" text-anchor="middle" fill="#262626" textLength="32.24" lengthAdjust="spacingAndGlyphs">LC+B</text>
<text x="656.80" y="525.80" font-size="12.30" text-anchor="middle" fill="#262626" textLength="43.12" lengthAdjust="spacingAndGlyphs">LC+LTT</text>
<text x="746.80" y="525.80" font-size="12.30" text-anchor="middle" fill="#262626" textLength="60.79" lengthAdjust="spacingAndGlyphs">LC+B+LTT</text>
</g>
<g id="panel_e">
<text x="3.60" y="367.10" font-size="14.60" text-anchor="start" fill="#111">e)</text>
<clipPath id="xrdclip"><rect x="51.3" y="367.3" width="299.09999999999997" height="161.2"/></clipPath>
<g clip-path="url(#xrdclip)">
<polyline points="51.3,470.3 51.6,470.3 52.0,470.3 52.3,470.3 52.6,470.3 53.0,470.3 53.3,470.3 53.6,470.3 54.0,470.3 54.3,470.3 54.6,470.3 55.0,470.3 55.3,470.4 55.6,470.4 56.0,470.4 56.3,470.4 56.6,470.4 56.9,470.4 57.3,470.4 57.6,470.4 57.9,470.4 58.3,470.4 58.6,470.4 58.9,470.4 59.3,470.4 59.6,470.4 59.9,470.4 60.3,470.4 60.6,470.4 60.9,470.4 61.3,470.4 61.6,470.4 61.9,470.4 62.3,470.4 62.6,470.4 62.9,470.4 63.3,470.5 63.6,470.5 63.9,470.5 64.3,470.5 64.6,470.5 64.9,470.5 65.3,470.5 65.6,470.5 65.9,470.5 66.3,470.5 66.6,470.5 66.9,470.5 67.3,470.5 67.6,470.5 67.9,470.5 68.2,470.5 68.6,470.6 68.9,470.6 69.2,470.6 69.6,470.6 69.9,470.6 70.2,470.6 70.6,470.6 70.9,470.6 71.2,470.6 71.6,470.6 71.9,470.6 72.2,470.6 72.6,470.6 72.9,470.7 73.2,470.7 73.6,470.7 73.9,470.7 74.2,470.7 74.6,470.7 74.9,470.7 75.2,470.7 75.6,470.7 75.9,470.7 76.2,470.7 76.6,470.8 76.9,470.8 77.2,470.8 77.6,470.8 77.9,470.8 78.2,470.8 78.6,470.8 78.9,470.8 79.2,470.8 79.5,470.8 79.9,470.8 80.2,470.9 80.5,470.9 80.9,470.9 81.2,470.9 81.5,470.9 81.9,470.9 82.2,470.9 82.5,470.9 82.9,470.9 83.2,470.9 83.5,471.0 83.9,471.0 84.2,471.0 84.5,471.0 84.9,471.0 85.2,471.0 85.5,471.0 85.9,471.0 86.2,471.0 86.5,471.0 86.9,471.1 87.2,471.1 87.5,471.1 87.9,471.1 88.2,471.1 88.5,471.1 88.9,471.1 89.2,471.1 89.5,471.1 89.9,471.2 90.2,471.2 90.5,471.2 90.8,471.2 91.2,471.2 91.5,471.2 91.8,471.2 92.2,471.2 92.5,471.2 92.8,471.2 93.2,471.2 93.5,471.3 93.8,471.3 94.2,471.3 94.5,471.3 94.8,471.3 95.2,471.3 95.5,471.3 95.8,471.3 96.2,471.3 96.5,471.3 96.8,471.3 97.2,471.3 97.5,471.4 97.8,471.4 98.2,471.4 98.5,471.4 98.8,471.4 99.2,471.4 99.5,471.4 99.8,471.4 100.2,471.4 100.5,471.4 100.8,471.4 101.2,471.4 101.5,471.4 101.8,471.4 102.1,471.4 102.5,471.5 102.8,471.5 103.1,471.5 103.5,471.5 103.8,471.5 104.1,471.5 104.5,471.5 104.8,471.5 105.1,471.5 105.5,471.5 105.8,471.5 106.1,471.5 106.5,471.5 106.8,471.5 107.1,471.5 107.5,471.5 107.8,471.5 108.1,471.5 108.5,471.5 108.8,471.5 109.1,471.5 109.5,471.5 109.8,471.5 110.1,471.5 110.5,471.5 110.8,471.5 111.1,471.5 111.5,471.5 111.8,471.5 112.1,471.5 112.4,471.5 112.8,471.5 113.1,471.5 113.4,471.5 113.8,471.5 114.1,471.5 114.4,471.5 114.8,471.5 115.1,471.5 115.4,471.5 115.8,471.5 116.1,471.5 116.4,471.5 116.8,471.4 117.1,471.4 117.4,471.4 117.8,471.4 118.1,471.4 118.4,471.4 118.8,471.4 119.1,471.4 119.4,471.4 119.8,471.4 120.1,471.4 120.4,471.4 120.8,471.4 121.1,471.4 121.4,471.4 121.8,471.3 122.1,471.3 122.4,471.3 122.8,471.3 123.1,471.3 123.4,471.3 123.7,471.3 124.1,471.3 124.4,471.3 124.7,471.3 125.1,471.2 125.4,471.2 125.7,471.2 126.1,471.2 126.4,471.2 126.7,471.2 127.1,471.2 127.4,471.2 127.7,471.2 128.1,471.1 128.4,471.1 128.7,471.1 129.1,471.1 129.4,471.1 129.7,471.1 130.1,471.1 130.4,471.0 130.7,471.0 131.1,471.0 131.4,471.0 131.7,471.0 132.1,471.0 132.4,471.0 132.7,470.9 133.1,470.9 133.4,470.9 133.7,470.9 134.1,470.9 134.4,470.9 134.7,470.9 135.0,470.8 135.4,470.8 135.7,470.8 136.0,470.8 136.4,470.8 136.7,470.7 137.0,470.7 137.4,470.7 137.7,470.7 138.0,470.7 138.4,470.7 138.7,470.6 139.0,470.6 139.4,470.6 139.7,470.6 140.0,470.6 140.4,470.5 140.7,470.5 141.0,470.5 141.4,470.5 141.7,470.4 142.0,470.4 142.4,470.4 142.7,470.4 143.0,470.3 143.4,470.3 143.7,470.3 144.0,470.2 144.4,470.2 144.7,470.2 145.0,470.1 145.4,470.1 145.7,470.0 146.0,470.0 146.3,469.9 146.7,469.8 147.0,469.8 147.3,469.7 147.7,469.6 148.0,469.5 148.3,469.5 148.7,469.4 149.0,469.4 149.3,469.4 149.7,469.4 150.0,469.3 150.3,469.3 150.7,469.3 151.0,469.3 151.3,469.2 151.7,469.2 152.0,469.1 152.3,469.1 152.7,469.0 153.0,468.9 153.3,468.9 153.7,468.8 154.0,468.7 154.3,468.6 154.7,468.5 155.0,468.4 155.3,468.3 155.7,468.2 156.0,468.1 156.3,468.0 156.6,467.9 157.0,467.7 157.3,467.6 157.6,467.4 158.0,467.3 158.3,467.1 158.6,466.9 159.0,466.7 159.3,466.5 159.6,466.3 160.0,466.0 160.3,465.7 160.6,465.4 161.0,465.0 161.3,464.6 161.6,464.1 162.0,463.5 162.3,462.6 162.6,461.5 163.0,460.0 163.3,457.9 163.6,455.0 164.0,451.2 164.3,446.2 164.6,439.9 165.0,432.5 165.3,424.3 165.6,416.1 166.0,409.2 166.3,405.0 166.6,405.0 167.0,409.1 167.3,416.1 167.6,424.3 167.9,432.5 168.3,439.8 168.6,446.1 168.9,451.1 169.3,455.0 169.6,457.9 169.9,459.9 170.3,461.4 170.6,462.5 170.9,463.4 171.3,464.0 171.6,464.5 171.9,464.9 172.3,465.3 172.6,465.6 172.9,465.9 173.3,466.1 173.6,466.4 173.9,466.6 174.3,466.7 174.6,466.9 174.9,467.1 175.3,467.2 175.6,467.4 175.9,467.5 176.3,467.6 176.6,467.8 176.9,467.9 177.3,468.0 177.6,468.1 177.9,468.2 178.3,468.2 178.6,468.3 178.9,468.4 179.2,468.5 179.6,468.6 179.9,468.6 180.2,468.7 180.6,468.8 180.9,468.8 181.2,468.9 181.6,468.9 181.9,469.0 182.2,469.0 182.6,469.1 182.9,469.1 183.2,469.1 183.6,469.2 183.9,469.2 184.2,469.2 184.6,469.3 184.9,469.3 185.2,469.3 185.6,469.3 185.9,469.3 186.2,469.3 186.6,469.2 186.9,469.2 187.2,469.1 187.6,469.0 187.9,468.9 188.2,468.8 188.6,468.6 188.9,468.5 189.2,468.5 189.6,468.5 189.9,468.5 190.2,468.6 190.5,468.8 190.9,469.0 191.2,469.1 191.5,469.3 191.9,469.4 192.2,469.5 192.5,469.6 192.9,469.6 193.2,469.7 193.5,469.7 193.9,469.7 194.2,469.8 194.5,469.8 194.9,469.8 195.2,469.8 195.5,469.8 195.9,469.8 196.2,469.9 196.5,469.9 196.9,469.9 197.2,469.9 197.5,469.9 197.9,469.9 198.2,469.9 198.5,469.9 198.9,469.9 199.2,469.9 199.5,469.9 199.9,469.9 200.2,469.9 200.5,469.9 200.8,469.9 201.2,470.0 201.5,470.0 201.8,470.0 202.2,470.0 202.5,470.0 202.8,470.0 203.2,470.0 203.5,470.0 203.8,470.0 204.2,470.0 204.5,470.0 204.8,470.0 205.2,470.0 205.5,470.0 205.8,470.0 206.2,470.0 206.5,470.0 206.8,470.0 207.2,470.0 207.5,470.0 207.8,470.0 208.2,470.0 208.5,470.0 208.8,470.0 209.2,470.0 209.5,470.0 209.8,470.0 210.2,470.0 210.5,470.0 210.8,470.0 211.2,470.0 211.5,470.0 211.8,470.0 212.1,470.0 212.5,470.0 212.8,470.0 213.1,470.0 213.5,470.0 213.8,470.0 214.1,470.0 214.5,470.0 214.8,470.0 215.1,470.0 215.5,470.0 215.8,470.0 216.1,470.0 216.5,470.0 216.8,470.0 217.1,470.0 217.5,470.0 217.8,469.9 218.1,469.9 218.5,469.9 218.8,469.9 219.1,469.9 219.5,469.9 219.8,469.9 220.1,469.9 220.5,469.9 220.8,469.9 221.1,469.9 221.5,469.9 221.8,469.9 222.1,469.8 222.5,469.8 222.8,469.8 223.1,469.8 223.4,469.8 223.8,469.8 224.1,469.8 224.4,469.7 224.8,469.7 225.1,469.7 225.4,469.7 225.8,469.7 226.1,469.6 226.4,469.6 226.8,469.6 227.1,469.5 227.4,469.5 227.8,469.5 228.1,469.4 228.4,469.4 228.8,469.4 229.1,469.3 229.4,469.3 229.8,469.2 230.1,469.2 230.4,469.1 230.8,469.1 231.1,469.0 231.4,468.9 231.8,468.8 232.1,468.7 232.4,468.6 232.8,468.5 233.1,468.3 233.4,468.2 233.8,468.0 234.1,467.7 234.4,467.4 234.7,466.9 235.1,466.4 235.4,465.8 235.7,464.9 236.1,464.0 236.4,462.8 236.7,461.5 237.1,460.0 237.4,458.3 237.7,456.7 238.1,455.1 238.4,453.7 238.7,452.7 239.1,452.3 239.4,452.5 239.7,453.2 240.1,454.5 240.4,456.0 240.7,457.7 241.1,459.3 241.4,460.9 241.7,462.3 242.1,463.5 242.4,464.6 242.7,465.5 243.1,466.2 243.4,466.7 243.7,467.2 244.1,467.6 244.4,467.9 244.7,468.1 245.1,468.3 245.4,468.4 245.7,468.6 246.0,468.7 246.4,468.8 246.7,468.9 247.0,469.0 247.4,469.0 247.7,469.1 248.0,469.2 248.4,469.2 248.7,469.3 249.0,469.3 249.4,469.4 249.7,469.4 250.0,469.4 250.4,469.5 250.7,469.5 251.0,469.5 251.4,469.6 251.7,469.6 252.0,469.6 252.4,469.7 252.7,469.7 253.0,469.7 253.4,469.7 253.7,469.7 254.0,469.8 254.4,469.8 254.7,469.8 255.0,469.8 255.4,469.8 255.7,469.8 256.0,469.8 256.3,469.9 256.7,469.9 257.0,469.9 257.3,469.9 257.7,469.9 258.0,469.9 258.3,469.9 258.7,469.9 259.0,469.9 259.3,469.9 259.7,469.9 260.0,469.9 260.3,469.9 260.7,469.9 261.0,470.0 261.3,470.0 261.7,470.0 262.0,470.0 262.3,470.0 262.7,470.0 263.0,470.0 263.3,470.0 263.7,470.0 264.0,470.0 264.3,470.0 264.7,470.0 265.0,470.0 265.3,470.0 265.7,470.0 266.0,470.0 266.3,470.0 266.7,470.0 267.0,469.9 267.3,469.9 267.6,469.9 268.0,469.9 268.3,469.9 268.6,469.9 269.0,469.8 269.3,469.8 269.6,469.7 270.0,469.7 270.3,469.6 270.6,469.5 271.0,469.5 271.3,469.4 271.6,469.4 272.0,469.5 272.3,469.5 272.6,469.6 273.0,469.6 273.3,469.7 273.6,469.7 274.0,469.8 274.3,469.8 274.6,469.8 275.0,469.8 275.3,469.8 275.6,469.9 276.0,469.9 276.3,469.8 276.6,469.8 277.0,469.8 277.3,469.8 277.6,469.8 278.0,469.8 278.3,469.8 278.6,469.8 278.9,469.8 279.3,469.8 279.6,469.7 279.9,469.7 280.3,469.7 280.6,469.7 280.9,469.7 281.3,469.6 281.6,469.6 281.9,469.6 282.3,469.6 282.6,469.5 282.9,469.5 283.3,469.5 283.6,469.4 283.9,469.4 284.3,469.4 284.6,469.3 284.9,469.3 285.3,469.2 285.6,469.2 285.9,469.1 286.3,469.0 286.6,469.0 286.9,468.9 287.3,468.8 287.6,468.7 287.9,468.6 288.3,468.5 288.6,468.4 288.9,468.2 289.3,468.0 289.6,467.8 289.9,467.6 290.2,467.3 290.6,466.9 290.9,466.4 291.2,465.8 291.6,464.9 291.9,463.9 292.2,462.6 292.6,460.9 292.9,459.0 293.2,456.8 293.6,454.3 293.9,451.7 294.2,449.0 294.6,446.6 294.9,444.8 295.2,443.8 295.6,443.9 295.9,445.1 296.2,447.1 296.6,449.5 296.9,452.2 297.2,454.8 297.6,457.3 297.9,459.4 298.2,461.3 298.6,462.8 298.9,464.1 299.2,465.1 299.6,465.9 299.9,466.5 300.2,467.0 300.6,467.4 300.9,467.7 301.2,467.9 301.5,468.1 301.9,468.2 302.2,468.4 302.5,468.5 302.9,468.6 303.2,468.7 303.5,468.8 303.9,468.9 304.2,469.0 304.5,469.0 304.9,469.1 305.2,469.2 305.5,469.2 305.9,469.3 306.2,469.3 306.5,469.4 306.9,469.4 307.2,469.4 307.5,469.5 307.9,469.5 308.2,469.5 308.5,469.6 308.9,469.6 309.2,469.6 309.5,469.6 309.9,469.7 310.2,469.7 310.5,469.7 310.9,469.7 311.2,469.7 311.5,469.8 311.8,469.8 312.2,469.8 312.5,469.8 312.8,469.8 313.2,469.8 313.5,469.8 313.8,469.8 314.2,469.8 314.5,469.9 314.8,469.9 315.2,469.9 315.5,469.9 315.8,469.9 316.2,469.9 316.5,469.9 316.8,469.9 317.2,469.9 317.5,469.8 317.8,469.8 318.2,469.8 318.5,469.7 318.8,469.7 319.2,469.6 319.5,469.6 319.8,469.5 320.2,469.5 320.5,469.5 320.8,469.5 321.2,469.5 321.5,469.6 321.8,469.6 322.2,469.7 322.5,469.7 322.8,469.8 323.1,469.8 323.5,469.8 323.8,469.8 324.1,469.9 324.5,469.9 324.8,469.9 325.1,469.9 325.5,469.9 325.8,469.9 326.1,469.9 326.5,469.8 326.8,469.8 327.1,469.8 327.5,469.8 327.8,469.8 328.1,469.8 328.5,469.8 328.8,469.8 329.1,469.8 329.5,469.7 329.8,469.7 330.1,469.7 330.5,469.7 330.8,469.7 331.1,469.6 331.5,469.6 331.8,469.6 332.1,469.5 332.5,469.5 332.8,469.5 333.1,469.4 333.5,469.4 333.8,469.3 334.1,469.3 334.4,469.2 334.8,469.2 335.1,469.1 335.4,469.0 335.8,469.0 336.1,468.9 336.4,468.7 336.8,468.6 337.1,468.4 337.4,468.2 337.8,467.9 338.1,467.6 338.4,467.1 338.8,466.6 339.1,465.9 339.4,465.2 339.8,464.2 340.1,463.2 340.4,462.0 340.8,460.8 341.1,459.6 341.4,458.5 341.8,457.6 342.1,457.0 342.4,457.0 342.8,457.3 343.1,458.1 343.4,459.1 343.8,460.3 344.1,461.6 344.4,462.7 344.8,463.8 345.1,464.8 345.4,465.7 345.7,466.4 346.1,467.0 346.4,467.4 346.7,467.8 347.1,468.1 347.4,468.4 347.7,468.6 348.1,468.7 348.4,468.8 348.7,468.9 349.1,469.0 349.4,469.1 349.7,469.2 350.1,469.3 350.4,469.3" fill="none" stroke="#173f61" stroke-width="1.6" stroke-linejoin="round"/>
<polyline points="51.3,488.4 51.6,488.4 52.0,488.4 52.3,488.4 52.6,488.4 53.0,488.4 53.3,488.4 53.6,488.4 54.0,488.4 54.3,488.4 54.6,488.4 55.0,488.4 55.3,488.5 55.6,488.5 56.0,488.5 56.3,488.5 56.6,488.5 56.9,488.5 57.3,488.5 57.6,488.5 57.9,488.5 58.3,488.5 58.6,488.5 58.9,488.5 59.3,488.5 59.6,488.5 59.9,488.5 60.3,488.5 60.6,488.5 60.9,488.5 61.3,488.5 61.6,488.5 61.9,488.5 62.3,488.5 62.6,488.5 62.9,488.5 63.3,488.6 63.6,488.6 63.9,488.6 64.3,488.6 64.6,488.6 64.9,488.6 65.3,488.6 65.6,488.6 65.9,488.6 66.3,488.6 66.6,488.6 66.9,488.6 67.3,488.6 67.6,488.6 67.9,488.6 68.2,488.6 68.6,488.7 68.9,488.7 69.2,488.7 69.6,488.7 69.9,488.7 70.2,488.7 70.6,488.7 70.9,488.7 71.2,488.7 71.6,488.7 71.9,488.7 72.2,488.7 72.6,488.7 72.9,488.8 73.2,488.8 73.6,488.8 73.9,488.8 74.2,488.8 74.6,488.8 74.9,488.8 75.2,488.8 75.6,488.8 75.9,488.8 76.2,488.8 76.6,488.8 76.9,488.9 77.2,488.9 77.6,488.9 77.9,488.9 78.2,488.9 78.6,488.9 78.9,488.9 79.2,488.9 79.5,488.9 79.9,488.9 80.2,489.0 80.5,489.0 80.9,489.0 81.2,489.0 81.5,489.0 81.9,489.0 82.2,489.0 82.5,489.0 82.9,489.0 83.2,489.0 83.5,489.1 83.9,489.1 84.2,489.1 84.5,489.1 84.9,489.1 85.2,489.1 85.5,489.1 85.9,489.1 86.2,489.1 86.5,489.1 86.9,489.2 87.2,489.2 87.5,489.2 87.9,489.2 88.2,489.2 88.5,489.2 88.9,489.2 89.2,489.2 89.5,489.2 89.9,489.2 90.2,489.3 90.5,489.3 90.8,489.3 91.2,489.3 91.5,489.3 91.8,489.3 92.2,489.3 92.5,489.3 92.8,489.3 93.2,489.3 93.5,489.4 93.8,489.4 94.2,489.4 94.5,489.4 94.8,489.4 95.2,489.4 95.5,489.4 95.8,489.4 96.2,489.4 96.5,489.4 96.8,489.4 97.2,489.4 97.5,489.5 97.8,489.5 98.2,489.5 98.5,489.5 98.8,489.5 99.2,489.5 99.5,489.5 99.8,489.5 100.2,489.5 100.5,489.5 100.8,489.5 101.2,489.5 101.5,489.5 101.8,489.5 102.1,489.5 102.5,489.6 102.8,489.6 103.1,489.6 103.5,489.6 103.8,489.6 104.1,489.6 104.5,489.6 104.8,489.6 105.1,489.6 105.5,489.6 105.8,489.6 106.1,489.6 106.5,489.6 106.8,489.6 107.1,489.6 107.5,489.6 107.8,489.6 108.1,489.6 108.5,489.6 108.8,489.6 109.1,489.6 109.5,489.6 109.8,489.6 110.1,489.6 110.5,489.6 110.8,489.6 111.1,489.6 111.5,489.6 111.8,489.6 112.1,489.6 112.4,489.6 112.8,489.6 113.1,489.6 113.4,489.6 113.8,489.6 114.1,489.6 114.4,489.6 114.8,489.6 115.1,489.6 115.4,489.6 115.8,489.6 116.1,489.6 116.4,489.6 116.8,489.5 117.1,489.5 117.4,489.5 117.8,489.5 118.1,489.5 118.4,489.5 118.8,489.5 119.1,489.5 119.4,489.5 119.8,489.5 120.1,489.5 120.4,489.5 120.8,489.5 121.1,489.5 121.4,489.5 121.8,489.4 122.1,489.4 122.4,489.4 122.8,489.4 123.1,489.4 123.4,489.4 123.7,489.4 124.1,489.4 124.4,489.4 124.7,489.4 125.1,489.3 125.4,489.3 125.7,489.3 126.1,489.3 126.4,489.3 126.7,489.3 127.1,489.3 127.4,489.3 127.7,489.3 128.1,489.2 128.4,489.2 128.7,489.2 129.1,489.2 129.4,489.2 129.7,489.2 130.1,489.2 130.4,489.1 130.7,489.1 131.1,489.1 131.4,489.1 131.7,489.1 132.1,489.1 132.4,489.1 132.7,489.0 133.1,489.0 133.4,489.0 133.7,489.0 134.1,489.0 134.4,489.0 134.7,489.0 135.0,488.9 135.4,488.9 135.7,488.9 136.0,488.9 136.4,488.9 136.7,488.8 137.0,488.8 137.4,488.8 137.7,488.8 138.0,488.8 138.4,488.8 138.7,488.7 139.0,488.7 139.4,488.7 139.7,488.7 140.0,488.7 140.4,488.6 140.7,488.6 141.0,488.6 141.4,488.6 141.7,488.5 142.0,488.5 142.4,488.5 142.7,488.5 143.0,488.4 143.4,488.4 143.7,488.4 144.0,488.3 144.4,488.3 144.7,488.3 145.0,488.2 145.4,488.2 145.7,488.1 146.0,488.1 146.3,488.0 146.7,487.9 147.0,487.9 147.3,487.8 147.7,487.7 148.0,487.6 148.3,487.6 148.7,487.5 149.0,487.5 149.3,487.5 149.7,487.5 150.0,487.4 150.3,487.4 150.7,487.4 151.0,487.4 151.3,487.3 151.7,487.3 152.0,487.2 152.3,487.2 152.7,487.1 153.0,487.0 153.3,487.0 153.7,486.9 154.0,486.8 154.3,486.7 154.7,486.6 155.0,486.5 155.3,486.4 155.7,486.3 156.0,486.2 156.3,486.1 156.6,486.0 157.0,485.8 157.3,485.7 157.6,485.5 158.0,485.4 158.3,485.2 158.6,485.0 159.0,484.8 159.3,484.6 159.6,484.4 160.0,484.1 160.3,483.8 160.6,483.5 161.0,483.1 161.3,482.7 161.6,482.2 162.0,481.6 162.3,480.7 162.6,479.6 163.0,478.1 163.3,476.0 163.6,473.1 164.0,469.3 164.3,464.3 164.6,458.0 165.0,450.6 165.3,442.4 165.6,434.2 166.0,427.3 166.3,423.1 166.6,423.1 167.0,427.2 167.3,434.2 167.6,442.4 167.9,450.6 168.3,457.9 168.6,464.2 168.9,469.2 169.3,473.1 169.6,476.0 169.9,478.0 170.3,479.5 170.6,480.6 170.9,481.5 171.3,482.1 171.6,482.6 171.9,483.0 172.3,483.4 172.6,483.7 172.9,484.0 173.3,484.2 173.6,484.5 173.9,484.7 174.3,484.8 174.6,485.0 174.9,485.2 175.3,485.3 175.6,485.5 175.9,485.6 176.3,485.7 176.6,485.8 176.9,486.0 177.3,486.1 177.6,486.2 177.9,486.3 178.3,486.3 178.6,486.4 178.9,486.5 179.2,486.6 179.6,486.7 179.9,486.7 180.2,486.8 180.6,486.9 180.9,486.9 181.2,487.0 181.6,487.0 181.9,487.1 182.2,487.1 182.6,487.2 182.9,487.2 183.2,487.2 183.6,487.3 183.9,487.3 184.2,487.3 184.6,487.4 184.9,487.4 185.2,487.4 185.6,487.4 185.9,487.4 186.2,487.4 186.6,487.3 186.9,487.3 187.2,487.2 187.6,487.1 187.9,487.0 188.2,486.9 188.6,486.7 188.9,486.6 189.2,486.6 189.6,486.6 189.9,486.6 190.2,486.7 190.5,486.9 190.9,487.1 191.2,487.2 191.5,487.4 191.9,487.5 192.2,487.6 192.5,487.7 192.9,487.7 193.2,487.8 193.5,487.8 193.9,487.8 194.2,487.9 194.5,487.9 194.9,487.9 195.2,487.9 195.5,487.9 195.9,487.9 196.2,488.0 196.5,488.0 196.9,488.0 197.2,488.0 197.5,488.0 197.9,488.0 198.2,488.0 198.5,488.0 198.9,488.0 199.2,488.0 199.5,488.0 199.9,488.0 200.2,488.0 200.5,488.0 200.8,488.0 201.2,488.1 201.5,488.1 201.8,488.1 202.2,488.1 202.5,488.1 202.8,488.1 203.2,488.1 203.5,488.1 203.8,488.1 204.2,488.1 204.5,488.1 204.8,488.1 205.2,488.1 205.5,488.1 205.8,488.1 206.2,488.1 206.5,488.1 206.8,488.1 207.2,488.1 207.5,488.1 207.8,488.1 208.2,488.1 208.5,488.1 208.8,488.1 209.2,488.1 209.5,488.1 209.8,488.1 210.2,488.1 210.5,488.1 210.8,488.1 211.2,488.1 211.5,488.1 211.8,488.1 212.1,488.1 212.5,488.1 212.8,488.1 213.1,488.1 213.5,488.1 213.8,488.1 214.1,488.1 214.5,488.1 214.8,488.1 215.1,488.1 215.5,488.1 215.8,488.1 216.1,488.1 216.5,488.1 216.8,488.1 217.1,488.1 217.5,488.1 217.8,488.0 218.1,488.0 218.5,488.0 218.8,488.0 219.1,488.0 219.5,488.0 219.8,488.0 220.1,488.0 220.5,488.0 220.8,488.0 221.1,488.0 221.5,488.0 221.8,488.0 222.1,487.9 222.5,487.9 222.8,487.9 223.1,487.9 223.4,487.9 223.8,487.9 224.1,487.9 224.4,487.8 224.8,487.8 225.1,487.8 225.4,487.8 225.8,487.8 226.1,487.7 226.4,487.7 226.8,487.7 227.1,487.6 227.4,487.6 227.8,487.6 228.1,487.5 228.4,487.5 228.8,487.5 229.1,487.4 229.4,487.4 229.8,487.3 230.1,487.3 230.4,487.2 230.8,487.1 231.1,487.1 231.4,487.0 231.8,486.9 232.1,486.8 232.4,486.7 232.8,486.6 233.1,486.4 233.4,486.3 233.8,486.1 234.1,485.8 234.4,485.5 234.7,485.0 235.1,484.5 235.4,483.9 235.7,483.0 236.1,482.1 236.4,480.9 236.7,479.6 237.1,478.1 237.4,476.4 237.7,474.8 238.1,473.2 238.4,471.8 238.7,470.8 239.1,470.4 239.4,470.6 239.7,471.3 240.1,472.6 240.4,474.1 240.7,475.8 241.1,477.4 241.4,479.0 241.7,480.4 242.1,481.6 242.4,482.7 242.7,483.6 243.1,484.3 243.4,484.8 243.7,485.3 244.1,485.7 244.4,486.0 244.7,486.2 245.1,486.4 245.4,486.5 245.7,486.7 246.0,486.8 246.4,486.9 246.7,487.0 247.0,487.1 247.4,487.1 247.7,487.2 248.0,487.3 248.4,487.3 248.7,487.4 249.0,487.4 249.4,487.5 249.7,487.5 250.0,487.5 250.4,487.6 250.7,487.6 251.0,487.6 251.4,487.7 251.7,487.7 252.0,487.7 252.4,487.7 252.7,487.8 253.0,487.8 253.4,487.8 253.7,487.8 254.0,487.9 254.4,487.9 254.7,487.9 255.0,487.9 255.4,487.9 255.7,487.9 256.0,487.9 256.3,488.0 256.7,488.0 257.0,488.0 257.3,488.0 257.7,488.0 258.0,488.0 258.3,488.0 258.7,488.0 259.0,488.0 259.3,488.0 259.7,488.0 260.0,488.0 260.3,488.0 260.7,488.0 261.0,488.1 261.3,488.1 261.7,488.1 262.0,488.1 262.3,488.1 262.7,488.1 263.0,488.1 263.3,488.1 263.7,488.1 264.0,488.1 264.3,488.1 264.7,488.1 265.0,488.1 265.3,488.1 265.7,488.1 266.0,488.1 266.3,488.1 266.7,488.1 267.0,488.0 267.3,488.0 267.6,488.0 268.0,488.0 268.3,488.0 268.6,488.0 269.0,487.9 269.3,487.9 269.6,487.8 270.0,487.8 270.3,487.7 270.6,487.6 271.0,487.6 271.3,487.5 271.6,487.5 272.0,487.6 272.3,487.6 272.6,487.7 273.0,487.7 273.3,487.8 273.6,487.8 274.0,487.9 274.3,487.9 274.6,487.9 275.0,487.9 275.3,487.9 275.6,488.0 276.0,488.0 276.3,487.9 276.6,487.9 277.0,487.9 277.3,487.9 277.6,487.9 278.0,487.9 278.3,487.9 278.6,487.9 278.9,487.9 279.3,487.9 279.6,487.8 279.9,487.8 280.3,487.8 280.6,487.8 280.9,487.8 281.3,487.7 281.6,487.7 281.9,487.7 282.3,487.7 282.6,487.6 282.9,487.6 283.3,487.6 283.6,487.5 283.9,487.5 284.3,487.5 284.6,487.4 284.9,487.4 285.3,487.3 285.6,487.3 285.9,487.2 286.3,487.1 286.6,487.1 286.9,487.0 287.3,486.9 287.6,486.8 287.9,486.7 288.3,486.6 288.6,486.5 288.9,486.3 289.3,486.1 289.6,485.9 289.9,485.7 290.2,485.4 290.6,485.0 290.9,484.5 291.2,483.9 291.6,483.0 291.9,482.0 292.2,480.7 292.6,479.0 292.9,477.1 293.2,474.9 293.6,472.4 293.9,469.8 294.2,467.1 294.6,464.7 294.9,462.9 295.2,461.9 295.6,462.0 295.9,463.2 296.2,465.2 296.6,467.6 296.9,470.3 297.2,472.9 297.6,475.4 297.9,477.5 298.2,479.4 298.6,480.9 298.9,482.2 299.2,483.2 299.6,484.0 299.9,484.6 300.2,485.1 300.6,485.5 300.9,485.8 301.2,486.0 301.5,486.2 301.9,486.3 302.2,486.5 302.5,486.6 302.9,486.7 303.2,486.8 303.5,486.9 303.9,487.0 304.2,487.1 304.5,487.1 304.9,487.2 305.2,487.3 305.5,487.3 305.9,487.4 306.2,487.4 306.5,487.5 306.9,487.5 307.2,487.5 307.5,487.6 307.9,487.6 308.2,487.6 308.5,487.7 308.9,487.7 309.2,487.7 309.5,487.7 309.9,487.8 310.2,487.8 310.5,487.8 310.9,487.8 311.2,487.8 311.5,487.9 311.8,487.9 312.2,487.9 312.5,487.9 312.8,487.9 313.2,487.9 313.5,487.9 313.8,487.9 314.2,487.9 314.5,488.0 314.8,488.0 315.2,488.0 315.5,488.0 315.8,488.0 316.2,488.0 316.5,488.0 316.8,488.0 317.2,488.0 317.5,487.9 317.8,487.9 318.2,487.9 318.5,487.8 318.8,487.8 319.2,487.7 319.5,487.7 319.8,487.6 320.2,487.6 320.5,487.6 320.8,487.6 321.2,487.6 321.5,487.7 321.8,487.7 322.2,487.8 322.5,487.8 322.8,487.9 323.1,487.9 323.5,487.9 323.8,487.9 324.1,488.0 324.5,488.0 324.8,488.0 325.1,488.0 325.5,488.0 325.8,488.0 326.1,488.0 326.5,487.9 326.8,487.9 327.1,487.9 327.5,487.9 327.8,487.9 328.1,487.9 328.5,487.9 328.8,487.9 329.1,487.9 329.5,487.8 329.8,487.8 330.1,487.8 330.5,487.8 330.8,487.7 331.1,487.7 331.5,487.7 331.8,487.7 332.1,487.6 332.5,487.6 332.8,487.6 333.1,487.5 333.5,487.5 333.8,487.4 334.1,487.4 334.4,487.3 334.8,487.3 335.1,487.2 335.4,487.1 335.8,487.1 336.1,487.0 336.4,486.8 336.8,486.7 337.1,486.5 337.4,486.3 337.8,486.0 338.1,485.7 338.4,485.2 338.8,484.7 339.1,484.0 339.4,483.3 339.8,482.3 340.1,481.3 340.4,480.1 340.8,478.9 341.1,477.7 341.4,476.6 341.8,475.7 342.1,475.1 342.4,475.1 342.8,475.4 343.1,476.2 343.4,477.2 343.8,478.4 344.1,479.7 344.4,480.8 344.8,481.9 345.1,482.9 345.4,483.8 345.7,484.5 346.1,485.1 346.4,485.5 346.7,485.9 347.1,486.2 347.4,486.5 347.7,486.7 348.1,486.8 348.4,486.9 348.7,487.0 349.1,487.1 349.4,487.2 349.7,487.3 350.1,487.4 350.4,487.4" fill="none" stroke="#7d1d1f" stroke-width="1.6" stroke-linejoin="round"/>
<polyline points="51.3,506.5 51.6,506.5 52.0,506.5 52.3,506.5 52.6,506.5 53.0,506.5 53.3,506.5 53.6,506.5 54.0,506.5 54.3,506.5 54.6,506.5 55.0,506.5 55.3,506.5 55.6,506.6 56.0,506.6 56.3,506.6 56.6,506.6 56.9,506.6 57.3,506.6 57.6,506.6 57.9,506.6 58.3,506.6 58.6,506.6 58.9,506.6 59.3,506.6 59.6,506.6 59.9,506.6 60.3,506.6 60.6,506.6 60.9,506.6 61.3,506.6 61.6,506.6 61.9,506.6 62.3,506.6 62.6,506.6 62.9,506.6 63.3,506.7 63.6,506.7 63.9,506.7 64.3,506.7 64.6,506.7 64.9,506.7 65.3,506.7 65.6,506.7 65.9,506.7 66.3,506.7 66.6,506.7 66.9,506.7 67.3,506.7 67.6,506.7 67.9,506.7 68.2,506.7 68.6,506.8 68.9,506.8 69.2,506.8 69.6,506.8 69.9,506.8 70.2,506.8 70.6,506.8 70.9,506.8 71.2,506.8 71.6,506.8 71.9,506.8 72.2,506.8 72.6,506.8 72.9,506.9 73.2,506.9 73.6,506.9 73.9,506.9 74.2,506.9 74.6,506.9 74.9,506.9 75.2,506.9 75.6,506.9 75.9,506.9 76.2,506.9 76.6,506.9 76.9,507.0 77.2,507.0 77.6,507.0 77.9,507.0 78.2,507.0 78.6,507.0 78.9,507.0 79.2,507.0 79.5,507.0 79.9,507.0 80.2,507.1 80.5,507.1 80.9,507.1 81.2,507.1 81.5,507.1 81.9,507.1 82.2,507.1 82.5,507.1 82.9,507.1 83.2,507.1 83.5,507.2 83.9,507.2 84.2,507.2 84.5,507.2 84.9,507.2 85.2,507.2 85.5,507.2 85.9,507.2 86.2,507.2 86.5,507.2 86.9,507.3 87.2,507.3 87.5,507.3 87.9,507.3 88.2,507.3 88.5,507.3 88.9,507.3 89.2,507.3 89.5,507.3 89.9,507.3 90.2,507.4 90.5,507.4 90.8,507.4 91.2,507.4 91.5,507.4 91.8,507.4 92.2,507.4 92.5,507.4 92.8,507.4 93.2,507.4 93.5,507.5 93.8,507.5 94.2,507.5 94.5,507.5 94.8,507.5 95.2,507.5 95.5,507.5 95.8,507.5 96.2,507.5 96.5,507.5 96.8,507.5 97.2,507.5 97.5,507.6 97.8,507.6 98.2,507.6 98.5,507.6 98.8,507.6 99.2,507.6 99.5,507.6 99.8,507.6 100.2,507.6 100.5,507.6 100.8,507.6 101.2,507.6 101.5,507.6 101.8,507.6 102.1,507.6 102.5,507.6 102.8,507.7 103.1,507.7 103.5,507.7 103.8,507.7 104.1,507.7 104.5,507.7 104.8,507.7 105.1,507.7 105.5,507.7 105.8,507.7 106.1,507.7 106.5,507.7 106.8,507.7 107.1,507.7 107.5,507.7 107.8,507.7 108.1,507.7 108.5,507.7 108.8,507.7 109.1,507.7 109.5,507.7 109.8,507.7 110.1,507.7 110.5,507.7 110.8,507.7 111.1,507.7 111.5,507.7 111.8,507.7 112.1,507.7 112.4,507.7 112.8,507.7 113.1,507.7 113.4,507.7 113.8,507.7 114.1,507.7 114.4,507.7 114.8,507.7 115.1,507.7 115.4,507.7 115.8,507.7 116.1,507.7 116.4,507.7 116.8,507.6 117.1,507.6 117.4,507.6 117.8,507.6 118.1,507.6 118.4,507.6 118.8,507.6 119.1,507.6 119.4,507.6 119.8,507.6 120.1,507.6 120.4,507.6 120.8,507.6 121.1,507.6 121.4,507.5 121.8,507.5 122.1,507.5 122.4,507.5 122.8,507.5 123.1,507.5 123.4,507.5 123.7,507.5 124.1,507.5 124.4,507.5 124.7,507.5 125.1,507.4 125.4,507.4 125.7,507.4 126.1,507.4 126.4,507.4 126.7,507.4 127.1,507.4 127.4,507.4 127.7,507.3 128.1,507.3 128.4,507.3 128.7,507.3 129.1,507.3 129.4,507.3 129.7,507.3 130.1,507.3 130.4,507.2 130.7,507.2 131.1,507.2 131.4,507.2 131.7,507.2 132.1,507.2 132.4,507.2 132.7,507.1 133.1,507.1 133.4,507.1 133.7,507.1 134.1,507.1 134.4,507.1 134.7,507.0 135.0,507.0 135.4,507.0 135.7,507.0 136.0,507.0 136.4,507.0 136.7,506.9 137.0,506.9 137.4,506.9 137.7,506.9 138.0,506.9 138.4,506.9 138.7,506.8 139.0,506.8 139.4,506.8 139.7,506.8 140.0,506.8 140.4,506.7 140.7,506.7 141.0,506.7 141.4,506.7 141.7,506.6 142.0,506.6 142.4,506.6 142.7,506.6 143.0,506.5 143.4,506.5 143.7,506.5 144.0,506.4 144.4,506.4 144.7,506.4 145.0,506.3 145.4,506.3 145.7,506.2 146.0,506.2 146.3,506.1 146.7,506.0 147.0,506.0 147.3,505.9 147.7,505.8 148.0,505.7 148.3,505.7 148.7,505.6 149.0,505.6 149.3,505.6 149.7,505.6 150.0,505.5 150.3,505.5 150.7,505.5 151.0,505.5 151.3,505.4 151.7,505.4 152.0,505.3 152.3,505.3 152.7,505.2 153.0,505.1 153.3,505.1 153.7,505.0 154.0,504.9 154.3,504.8 154.7,504.7 155.0,504.6 155.3,504.5 155.7,504.4 156.0,504.3 156.3,504.2 156.6,504.1 157.0,503.9 157.3,503.8 157.6,503.6 158.0,503.5 158.3,503.3 158.6,503.1 159.0,502.9 159.3,502.7 159.6,502.5 160.0,502.2 160.3,501.9 160.6,501.6 161.0,501.2 161.3,500.8 161.6,500.3 162.0,499.7 162.3,498.8 162.6,497.7 163.0,496.2 163.3,494.1 163.6,491.2 164.0,487.4 164.3,482.4 164.6,476.1 165.0,468.7 165.3,460.5 165.6,452.3 166.0,445.4 166.3,441.2 166.6,441.2 167.0,445.3 167.3,452.3 167.6,460.5 167.9,468.7 168.3,476.0 168.6,482.3 168.9,487.3 169.3,491.2 169.6,494.1 169.9,496.1 170.3,497.6 170.6,498.7 170.9,499.6 171.3,500.2 171.6,500.7 171.9,501.1 172.3,501.5 172.6,501.8 172.9,502.1 173.3,502.3 173.6,502.5 173.9,502.8 174.3,502.9 174.6,503.1 174.9,503.3 175.3,503.4 175.6,503.6 175.9,503.7 176.3,503.8 176.6,503.9 176.9,504.1 177.3,504.2 177.6,504.3 177.9,504.4 178.3,504.4 178.6,504.5 178.9,504.6 179.2,504.7 179.6,504.8 179.9,504.8 180.2,504.9 180.6,505.0 180.9,505.0 181.2,505.1 181.6,505.1 181.9,505.2 182.2,505.2 182.6,505.3 182.9,505.3 183.2,505.3 183.6,505.4 183.9,505.4 184.2,505.4 184.6,505.5 184.9,505.5 185.2,505.5 185.6,505.5 185.9,505.5 186.2,505.5 186.6,505.4 186.9,505.4 187.2,505.3 187.6,505.2 187.9,505.1 188.2,505.0 188.6,504.8 188.9,504.7 189.2,504.7 189.6,504.7 189.9,504.7 190.2,504.8 190.5,505.0 190.9,505.2 191.2,505.3 191.5,505.5 191.9,505.6 192.2,505.7 192.5,505.8 192.9,505.8 193.2,505.9 193.5,505.9 193.9,505.9 194.2,506.0 194.5,506.0 194.9,506.0 195.2,506.0 195.5,506.0 195.9,506.0 196.2,506.1 196.5,506.1 196.9,506.1 197.2,506.1 197.5,506.1 197.9,506.1 198.2,506.1 198.5,506.1 198.9,506.1 199.2,506.1 199.5,506.1 199.9,506.1 200.2,506.1 200.5,506.1 200.8,506.1 201.2,506.1 201.5,506.2 201.8,506.2 202.2,506.2 202.5,506.2 202.8,506.2 203.2,506.2 203.5,506.2 203.8,506.2 204.2,506.2 204.5,506.2 204.8,506.2 205.2,506.2 205.5,506.2 205.8,506.2 206.2,506.2 206.5,506.2 206.8,506.2 207.2,506.2 207.5,506.2 207.8,506.2 208.2,506.2 208.5,506.2 208.8,506.2 209.2,506.2 209.5,506.2 209.8,506.2 210.2,506.2 210.5,506.2 210.8,506.2 211.2,506.2 211.5,506.2 211.8,506.2 212.1,506.2 212.5,506.2 212.8,506.2 213.1,506.2 213.5,506.2 213.8,506.2 214.1,506.2 214.5,506.2 214.8,506.2 215.1,506.2 215.5,506.2 215.8,506.2 216.1,506.2 216.5,506.2 216.8,506.2 217.1,506.2 217.5,506.2 217.8,506.1 218.1,506.1 218.5,506.1 218.8,506.1 219.1,506.1 219.5,506.1 219.8,506.1 220.1,506.1 220.5,506.1 220.8,506.1 221.1,506.1 221.5,506.1 221.8,506.1 222.1,506.0 222.5,506.0 222.8,506.0 223.1,506.0 223.4,506.0 223.8,506.0 224.1,506.0 224.4,505.9 224.8,505.9 225.1,505.9 225.4,505.9 225.8,505.9 226.1,505.8 226.4,505.8 226.8,505.8 227.1,505.7 227.4,505.7 227.8,505.7 228.1,505.6 228.4,505.6 228.8,505.6 229.1,505.5 229.4,505.5 229.8,505.4 230.1,505.4 230.4,505.3 230.8,505.2 231.1,505.2 231.4,505.1 231.8,505.0 232.1,504.9 232.4,504.8 232.8,504.7 233.1,504.5 233.4,504.4 233.8,504.2 234.1,503.9 234.4,503.6 234.7,503.1 235.1,502.6 235.4,502.0 235.7,501.1 236.1,500.2 236.4,499.0 236.7,497.7 237.1,496.2 237.4,494.5 237.7,492.9 238.1,491.3 238.4,489.9 238.7,488.9 239.1,488.5 239.4,488.7 239.7,489.4 240.1,490.7 240.4,492.2 240.7,493.9 241.1,495.5 241.4,497.1 241.7,498.5 242.1,499.7 242.4,500.8 242.7,501.7 243.1,502.4 243.4,502.9 243.7,503.4 244.1,503.8 244.4,504.1 244.7,504.3 245.1,504.5 245.4,504.6 245.7,504.8 246.0,504.9 246.4,505.0 246.7,505.1 247.0,505.2 247.4,505.2 247.7,505.3 248.0,505.4 248.4,505.4 248.7,505.5 249.0,505.5 249.4,505.6 249.7,505.6 250.0,505.6 250.4,505.7 250.7,505.7 251.0,505.7 251.4,505.8 251.7,505.8 252.0,505.8 252.4,505.8 252.7,505.9 253.0,505.9 253.4,505.9 253.7,505.9 254.0,506.0 254.4,506.0 254.7,506.0 255.0,506.0 255.4,506.0 255.7,506.0 256.0,506.0 256.3,506.1 256.7,506.1 257.0,506.1 257.3,506.1 257.7,506.1 258.0,506.1 258.3,506.1 258.7,506.1 259.0,506.1 259.3,506.1 259.7,506.1 260.0,506.1 260.3,506.1 260.7,506.1 261.0,506.1 261.3,506.2 261.7,506.2 262.0,506.2 262.3,506.2 262.7,506.2 263.0,506.2 263.3,506.2 263.7,506.2 264.0,506.2 264.3,506.2 264.7,506.2 265.0,506.2 265.3,506.2 265.7,506.2 266.0,506.2 266.3,506.2 266.7,506.2 267.0,506.1 267.3,506.1 267.6,506.1 268.0,506.1 268.3,506.1 268.6,506.1 269.0,506.0 269.3,506.0 269.6,505.9 270.0,505.8 270.3,505.8 270.6,505.7 271.0,505.7 271.3,505.6 271.6,505.6 272.0,505.7 272.3,505.7 272.6,505.8 273.0,505.8 273.3,505.9 273.6,505.9 274.0,506.0 274.3,506.0 274.6,506.0 275.0,506.0 275.3,506.0 275.6,506.0 276.0,506.0 276.3,506.0 276.6,506.0 277.0,506.0 277.3,506.0 277.6,506.0 278.0,506.0 278.3,506.0 278.6,506.0 278.9,506.0 279.3,506.0 279.6,505.9 279.9,505.9 280.3,505.9 280.6,505.9 280.9,505.9 281.3,505.8 281.6,505.8 281.9,505.8 282.3,505.8 282.6,505.7 282.9,505.7 283.3,505.7 283.6,505.6 283.9,505.6 284.3,505.6 284.6,505.5 284.9,505.5 285.3,505.4 285.6,505.4 285.9,505.3 286.3,505.2 286.6,505.2 286.9,505.1 287.3,505.0 287.6,504.9 287.9,504.8 288.3,504.7 288.6,504.6 288.9,504.4 289.3,504.2 289.6,504.0 289.9,503.8 290.2,503.5 290.6,503.1 290.9,502.6 291.2,502.0 291.6,501.1 291.9,500.1 292.2,498.8 292.6,497.1 292.9,495.2 293.2,493.0 293.6,490.5 293.9,487.9 294.2,485.2 294.6,482.8 294.9,481.0 295.2,480.0 295.6,480.1 295.9,481.3 296.2,483.3 296.6,485.7 296.9,488.4 297.2,491.0 297.6,493.5 297.9,495.6 298.2,497.5 298.6,499.0 298.9,500.3 299.2,501.3 299.6,502.1 299.9,502.7 300.2,503.2 300.6,503.6 300.9,503.8 301.2,504.1 301.5,504.3 301.9,504.4 302.2,504.6 302.5,504.7 302.9,504.8 303.2,504.9 303.5,505.0 303.9,505.1 304.2,505.2 304.5,505.2 304.9,505.3 305.2,505.4 305.5,505.4 305.9,505.5 306.2,505.5 306.5,505.6 306.9,505.6 307.2,505.6 307.5,505.7 307.9,505.7 308.2,505.7 308.5,505.8 308.9,505.8 309.2,505.8 309.5,505.8 309.9,505.9 310.2,505.9 310.5,505.9 310.9,505.9 311.2,505.9 311.5,506.0 311.8,506.0 312.2,506.0 312.5,506.0 312.8,506.0 313.2,506.0 313.5,506.0 313.8,506.0 314.2,506.0 314.5,506.1 314.8,506.1 315.2,506.1 315.5,506.1 315.8,506.1 316.2,506.1 316.5,506.1 316.8,506.1 317.2,506.1 317.5,506.0 317.8,506.0 318.2,506.0 318.5,505.9 318.8,505.9 319.2,505.8 319.5,505.8 319.8,505.7 320.2,505.7 320.5,505.7 320.8,505.7 321.2,505.7 321.5,505.8 321.8,505.8 322.2,505.9 322.5,505.9 322.8,506.0 323.1,506.0 323.5,506.0 323.8,506.0 324.1,506.1 324.5,506.1 324.8,506.1 325.1,506.1 325.5,506.1 325.8,506.1 326.1,506.1 326.5,506.0 326.8,506.0 327.1,506.0 327.5,506.0 327.8,506.0 328.1,506.0 328.5,506.0 328.8,506.0 329.1,505.9 329.5,505.9 329.8,505.9 330.1,505.9 330.5,505.9 330.8,505.8 331.1,505.8 331.5,505.8 331.8,505.8 332.1,505.7 332.5,505.7 332.8,505.7 333.1,505.6 333.5,505.6 333.8,505.5 334.1,505.5 334.4,505.4 334.8,505.4 335.1,505.3 335.4,505.2 335.8,505.2 336.1,505.1 336.4,504.9 336.8,504.8 337.1,504.6 337.4,504.4 337.8,504.1 338.1,503.8 338.4,503.3 338.8,502.8 339.1,502.1 339.4,501.4 339.8,500.4 340.1,499.4 340.4,498.2 340.8,497.0 341.1,495.8 341.4,494.7 341.8,493.8 342.1,493.2 342.4,493.2 342.8,493.5 343.1,494.3 343.4,495.3 343.8,496.5 344.1,497.8 344.4,498.9 344.8,500.0 345.1,501.0 345.4,501.9 345.7,502.6 346.1,503.2 346.4,503.6 346.7,504.0 347.1,504.3 347.4,504.6 347.7,504.8 348.1,504.9 348.4,505.0 348.7,505.1 349.1,505.2 349.4,505.3 349.7,505.4 350.1,505.5 350.4,505.5" fill="none" stroke="#3b8fc6" stroke-width="1.6" stroke-linejoin="round"/>
<polyline points="51.3,524.4 51.6,524.4 52.0,524.4 52.3,524.4 52.6,524.4 53.0,524.4 53.3,524.5 53.6,524.5 54.0,524.5 54.3,524.5 54.6,524.5 55.0,524.5 55.3,524.5 55.6,524.5 56.0,524.5 56.3,524.5 56.6,524.5 56.9,524.5 57.3,524.5 57.6,524.5 57.9,524.5 58.3,524.5 58.6,524.5 58.9,524.5 59.3,524.5 59.6,524.5 59.9,524.5 60.3,524.5 60.6,524.5 60.9,524.5 61.3,524.5 61.6,524.5 61.9,524.6 62.3,524.6 62.6,524.6 62.9,524.6 63.3,524.6 63.6,524.6 63.9,524.6 64.3,524.6 64.6,524.6 64.9,524.6 65.3,524.6 65.6,524.6 65.9,524.6 66.3,524.6 66.6,524.6 66.9,524.6 67.3,524.6 67.6,524.7 67.9,524.7 68.2,524.7 68.6,524.7 68.9,524.7 69.2,524.7 69.6,524.7 69.9,524.7 70.2,524.7 70.6,524.7 70.9,524.7 71.2,524.7 71.6,524.7 71.9,524.7 72.2,524.8 72.6,524.8 72.9,524.8 73.2,524.8 73.6,524.8 73.9,524.8 74.2,524.8 74.6,524.8 74.9,524.8 75.2,524.8 75.6,524.8 75.9,524.9 76.2,524.9 76.6,524.9 76.9,524.9 77.2,524.9 77.6,524.9 77.9,524.9 78.2,524.9 78.6,524.9 78.9,524.9 79.2,524.9 79.5,525.0 79.9,525.0 80.2,525.0 80.5,525.0 80.9,525.0 81.2,525.0 81.5,525.0 81.9,525.0 82.2,525.0 82.5,525.0 82.9,525.1 83.2,525.1 83.5,525.1 83.9,525.1 84.2,525.1 84.5,525.1 84.9,525.1 85.2,525.1 85.5,525.1 85.9,525.1 86.2,525.2 86.5,525.2 86.9,525.2 87.2,525.2 87.5,525.2 87.9,525.2 88.2,525.2 88.5,525.2 88.9,525.2 89.2,525.2 89.5,525.3 89.9,525.3 90.2,525.3 90.5,525.3 90.8,525.3 91.2,525.3 91.5,525.3 91.8,525.3 92.2,525.3 92.5,525.3 92.8,525.4 93.2,525.4 93.5,525.4 93.8,525.4 94.2,525.4 94.5,525.4 94.8,525.4 95.2,525.4 95.5,525.4 95.8,525.4 96.2,525.4 96.5,525.5 96.8,525.5 97.2,525.5 97.5,525.5 97.8,525.5 98.2,525.5 98.5,525.5 98.8,525.5 99.2,525.5 99.5,525.5 99.8,525.5 100.2,525.5 100.5,525.5 100.8,525.5 101.2,525.5 101.5,525.6 101.8,525.6 102.1,525.6 102.5,525.6 102.8,525.6 103.1,525.6 103.5,525.6 103.8,525.6 104.1,525.6 104.5,525.6 104.8,525.6 105.1,525.6 105.5,525.6 105.8,525.6 106.1,525.6 106.5,525.6 106.8,525.6 107.1,525.6 107.5,525.6 107.8,525.6 108.1,525.6 108.5,525.6 108.8,525.6 109.1,525.6 109.5,525.6 109.8,525.6 110.1,525.6 110.5,525.6 110.8,525.6 111.1,525.6 111.5,525.6 111.8,525.6 112.1,525.6 112.4,525.6 112.8,525.6 113.1,525.6 113.4,525.6 113.8,525.6 114.1,525.6 114.4,525.6 114.8,525.6 115.1,525.6 115.4,525.6 115.8,525.6 116.1,525.6 116.4,525.6 116.8,525.6 117.1,525.6 117.4,525.6 117.8,525.5 118.1,525.5 118.4,525.5 118.8,525.5 119.1,525.5 119.4,525.5 119.8,525.5 120.1,525.5 120.4,525.5 120.8,525.5 121.1,525.5 121.4,525.5 121.8,525.5 122.1,525.5 122.4,525.4 122.8,525.4 123.1,525.4 123.4,525.4 123.7,525.4 124.1,525.4 124.4,525.4 124.7,525.4 125.1,525.4 125.4,525.4 125.7,525.3 126.1,525.3 126.4,525.3 126.7,525.3 127.1,525.3 127.4,525.3 127.7,525.3 128.1,525.3 128.4,525.2 128.7,525.2 129.1,525.2 129.4,525.2 129.7,525.2 130.1,525.2 130.4,525.2 130.7,525.2 131.1,525.1 131.4,525.1 131.7,525.1 132.1,525.1 132.4,525.1 132.7,525.1 133.1,525.0 133.4,525.0 133.7,525.0 134.1,525.0 134.4,525.0 134.7,525.0 135.0,525.0 135.4,524.9 135.7,524.9 136.0,524.9 136.4,524.9 136.7,524.9 137.0,524.8 137.4,524.8 137.7,524.8 138.0,524.8 138.4,524.8 138.7,524.8 139.0,524.7 139.4,524.7 139.7,524.7 140.0,524.7 140.4,524.7 140.7,524.6 141.0,524.6 141.4,524.6 141.7,524.6 142.0,524.5 142.4,524.5 142.7,524.5 143.0,524.5 143.4,524.4 143.7,524.4 144.0,524.4 144.4,524.3 144.7,524.3 145.0,524.2 145.4,524.2 145.7,524.2 146.0,524.1 146.3,524.0 146.7,524.0 147.0,523.9 147.3,523.8 147.7,523.7 148.0,523.6 148.3,523.6 148.7,523.5 149.0,523.5 149.3,523.5 149.7,523.5 150.0,523.5 150.3,523.5 150.7,523.4 151.0,523.4 151.3,523.4 151.7,523.3 152.0,523.3 152.3,523.2 152.7,523.1 153.0,523.1 153.3,523.0 153.7,522.9 154.0,522.8 154.3,522.7 154.7,522.6 155.0,522.6 155.3,522.4 155.7,522.3 156.0,522.2 156.3,522.1 156.6,522.0 157.0,521.9 157.3,521.7 157.6,521.6 158.0,521.4 158.3,521.2 158.6,521.0 159.0,520.9 159.3,520.6 159.6,520.4 160.0,520.1 160.3,519.9 160.6,519.5 161.0,519.2 161.3,518.7 161.6,518.2 162.0,517.6 162.3,516.8 162.6,515.7 163.0,514.1 163.3,512.0 163.6,509.2 164.0,505.3 164.3,500.3 164.6,494.0 165.0,486.6 165.3,478.4 165.6,470.2 166.0,463.3 166.3,459.2 166.6,459.2 167.0,463.3 167.3,470.2 167.6,478.4 167.9,486.6 168.3,494.0 168.6,500.2 168.9,505.2 169.3,509.1 169.6,512.0 169.9,514.1 170.3,515.6 170.6,516.7 170.9,517.5 171.3,518.1 171.6,518.6 171.9,519.0 172.3,519.4 172.6,519.7 172.9,520.0 173.3,520.2 173.6,520.5 173.9,520.7 174.3,520.9 174.6,521.0 174.9,521.2 175.3,521.4 175.6,521.5 175.9,521.6 176.3,521.8 176.6,521.9 176.9,522.0 177.3,522.1 177.6,522.2 177.9,522.3 178.3,522.4 178.6,522.4 178.9,522.5 179.2,522.6 179.6,522.7 179.9,522.7 180.2,522.8 180.6,522.9 180.9,522.9 181.2,523.0 181.6,523.0 181.9,523.1 182.2,523.1 182.6,523.2 182.9,523.2 183.2,523.3 183.6,523.3 183.9,523.3 184.2,523.4 184.6,523.4 184.9,523.4 185.2,523.4 185.6,523.4 185.9,523.4 186.2,523.4 186.6,523.4 186.9,523.3 187.2,523.2 187.6,523.1 187.9,523.0 188.2,522.9 188.6,522.8 188.9,522.6 189.2,522.6 189.6,522.6 189.9,522.6 190.2,522.8 190.5,522.9 190.9,523.1 191.2,523.2 191.5,523.4 191.9,523.5 192.2,523.6 192.5,523.7 192.9,523.8 193.2,523.8 193.5,523.8 193.9,523.9 194.2,523.9 194.5,523.9 194.9,523.9 195.2,523.9 195.5,524.0 195.9,524.0 196.2,524.0 196.5,524.0 196.9,524.0 197.2,524.0 197.5,524.0 197.9,524.0 198.2,524.0 198.5,524.0 198.9,524.0 199.2,524.0 199.5,524.0 199.9,524.1 200.2,524.1 200.5,524.1 200.8,524.1 201.2,524.1 201.5,524.1 201.8,524.1 202.2,524.1 202.5,524.1 202.8,524.1 203.2,524.1 203.5,524.1 203.8,524.1 204.2,524.1 204.5,524.1 204.8,524.1 205.2,524.1 205.5,524.1 205.8,524.1 206.2,524.1 206.5,524.1 206.8,524.1 207.2,524.1 207.5,524.1 207.8,524.1 208.2,524.1 208.5,524.1 208.8,524.1 209.2,524.1 209.5,524.1 209.8,524.1 210.2,524.1 210.5,524.1 210.8,524.1 211.2,524.1 211.5,524.1 211.8,524.1 212.1,524.1 212.5,524.1 212.8,524.1 213.1,524.1 213.5,524.1 213.8,524.1 214.1,524.1 214.5,524.1 214.8,524.1 215.1,524.1 215.5,524.1 215.8,524.1 216.1,524.1 216.5,524.1 216.8,524.1 217.1,524.1 217.5,524.1 217.8,524.1 218.1,524.1 218.5,524.1 218.8,524.0 219.1,524.0 219.5,524.0 219.8,524.0 220.1,524.0 220.5,524.0 220.8,524.0 221.1,524.0 221.5,524.0 221.8,524.0 222.1,524.0 222.5,524.0 222.8,523.9 223.1,523.9 223.4,523.9 223.8,523.9 224.1,523.9 224.4,523.9 224.8,523.8 225.1,523.8 225.4,523.8 225.8,523.8 226.1,523.8 226.4,523.7 226.8,523.7 227.1,523.7 227.4,523.6 227.8,523.6 228.1,523.6 228.4,523.5 228.8,523.5 229.1,523.4 229.4,523.4 229.8,523.3 230.1,523.3 230.4,523.2 230.8,523.2 231.1,523.1 231.4,523.0 231.8,522.9 232.1,522.8 232.4,522.7 232.8,522.6 233.1,522.5 233.4,522.3 233.8,522.1 234.1,521.8 234.4,521.5 234.7,521.1 235.1,520.5 235.4,519.9 235.7,519.1 236.1,518.1 236.4,516.9 236.7,515.6 237.1,514.1 237.4,512.5 237.7,510.8 238.1,509.2 238.4,507.8 238.7,506.8 239.1,506.4 239.4,506.6 239.7,507.4 240.1,508.6 240.4,510.1 240.7,511.8 241.1,513.4 241.4,515.0 241.7,516.4 242.1,517.6 242.4,518.7 242.7,519.6 243.1,520.3 243.4,520.9 243.7,521.3 244.1,521.7 244.4,522.0 244.7,522.2 245.1,522.4 245.4,522.6 245.7,522.7 246.0,522.8 246.4,522.9 246.7,523.0 247.0,523.1 247.4,523.1 247.7,523.2 248.0,523.3 248.4,523.3 248.7,523.4 249.0,523.4 249.4,523.5 249.7,523.5 250.0,523.6 250.4,523.6 250.7,523.6 251.0,523.7 251.4,523.7 251.7,523.7 252.0,523.7 252.4,523.8 252.7,523.8 253.0,523.8 253.4,523.8 253.7,523.9 254.0,523.9 254.4,523.9 254.7,523.9 255.0,523.9 255.4,523.9 255.7,523.9 256.0,524.0 256.3,524.0 256.7,524.0 257.0,524.0 257.3,524.0 257.7,524.0 258.0,524.0 258.3,524.0 258.7,524.0 259.0,524.0 259.3,524.0 259.7,524.1 260.0,524.1 260.3,524.1 260.7,524.1 261.0,524.1 261.3,524.1 261.7,524.1 262.0,524.1 262.3,524.1 262.7,524.1 263.0,524.1 263.3,524.1 263.7,524.1 264.0,524.1 264.3,524.1 264.7,524.1 265.0,524.1 265.3,524.1 265.7,524.1 266.0,524.1 266.3,524.1 266.7,524.1 267.0,524.1 267.3,524.1 267.6,524.0 268.0,524.0 268.3,524.0 268.6,524.0 269.0,523.9 269.3,523.9 269.6,523.8 270.0,523.8 270.3,523.7 270.6,523.6 271.0,523.6 271.3,523.6 271.6,523.6 272.0,523.6 272.3,523.6 272.6,523.7 273.0,523.8 273.3,523.8 273.6,523.9 274.0,523.9 274.3,523.9 274.6,523.9 275.0,524.0 275.3,524.0 275.6,524.0 276.0,524.0 276.3,524.0 276.6,524.0 277.0,524.0 277.3,523.9 277.6,523.9 278.0,523.9 278.3,523.9 278.6,523.9 278.9,523.9 279.3,523.9 279.6,523.9 279.9,523.8 280.3,523.8 280.6,523.8 280.9,523.8 281.3,523.8 281.6,523.7 281.9,523.7 282.3,523.7 282.6,523.7 282.9,523.6 283.3,523.6 283.6,523.6 283.9,523.5 284.3,523.5 284.6,523.4 284.9,523.4 285.3,523.3 285.6,523.3 285.9,523.2 286.3,523.1 286.6,523.1 286.9,523.0 287.3,522.9 287.6,522.8 287.9,522.7 288.3,522.6 288.6,522.5 288.9,522.3 289.3,522.2 289.6,522.0 289.9,521.7 290.2,521.4 290.6,521.0 290.9,520.5 291.2,519.9 291.6,519.1 291.9,518.0 292.2,516.7 292.6,515.1 292.9,513.1 293.2,510.9 293.6,508.4 293.9,505.8 294.2,503.2 294.6,500.8 294.9,498.9 295.2,498.0 295.6,498.1 295.9,499.2 296.2,501.2 296.6,503.7 296.9,506.3 297.2,508.9 297.6,511.4 297.9,513.6 298.2,515.4 298.6,517.0 298.9,518.2 299.2,519.2 299.6,520.0 299.9,520.6 300.2,521.1 300.6,521.5 300.9,521.8 301.2,522.0 301.5,522.2 301.9,522.4 302.2,522.5 302.5,522.6 302.9,522.7 303.2,522.8 303.5,522.9 303.9,523.0 304.2,523.1 304.5,523.2 304.9,523.2 305.2,523.3 305.5,523.3 305.9,523.4 306.2,523.4 306.5,523.5 306.9,523.5 307.2,523.6 307.5,523.6 307.9,523.6 308.2,523.7 308.5,523.7 308.9,523.7 309.2,523.7 309.5,523.8 309.9,523.8 310.2,523.8 310.5,523.8 310.9,523.8 311.2,523.9 311.5,523.9 311.8,523.9 312.2,523.9 312.5,523.9 312.8,523.9 313.2,523.9 313.5,524.0 313.8,524.0 314.2,524.0 314.5,524.0 314.8,524.0 315.2,524.0 315.5,524.0 315.8,524.0 316.2,524.0 316.5,524.0 316.8,524.0 317.2,524.0 317.5,524.0 317.8,523.9 318.2,523.9 318.5,523.9 318.8,523.8 319.2,523.8 319.5,523.7 319.8,523.7 320.2,523.6 320.5,523.6 320.8,523.6 321.2,523.7 321.5,523.7 321.8,523.8 322.2,523.8 322.5,523.9 322.8,523.9 323.1,523.9 323.5,524.0 323.8,524.0 324.1,524.0 324.5,524.0 324.8,524.0 325.1,524.0 325.5,524.0 325.8,524.0 326.1,524.0 326.5,524.0 326.8,524.0 327.1,523.9 327.5,523.9 327.8,523.9 328.1,523.9 328.5,523.9 328.8,523.9 329.1,523.9 329.5,523.9 329.8,523.8 330.1,523.8 330.5,523.8 330.8,523.8 331.1,523.7 331.5,523.7 331.8,523.7 332.1,523.7 332.5,523.6 332.8,523.6 333.1,523.5 333.5,523.5 333.8,523.5 334.1,523.4 334.4,523.4 334.8,523.3 335.1,523.2 335.4,523.2 335.8,523.1 336.1,523.0 336.4,522.9 336.8,522.7 337.1,522.5 337.4,522.3 337.8,522.0 338.1,521.7 338.4,521.3 338.8,520.7 339.1,520.1 339.4,519.3 339.8,518.3 340.1,517.3 340.4,516.1 340.8,514.9 341.1,513.7 341.4,512.6 341.8,511.7 342.1,511.2 342.4,511.1 342.8,511.4 343.1,512.2 343.4,513.3 343.8,514.4 344.1,515.7 344.4,516.9 344.8,518.0 345.1,518.9 345.4,519.8 345.7,520.5 346.1,521.1 346.4,521.6 346.7,521.9 347.1,522.2 347.4,522.5 347.7,522.7 348.1,522.8 348.4,523.0 348.7,523.1 349.1,523.2 349.4,523.2 349.7,523.3 350.1,523.4 350.4,523.4" fill="none" stroke="#ee6a4c" stroke-width="1.6" stroke-linejoin="round"/>
</g>
<rect x="92.5" y="462.7" width="62.1" height="65.5" fill="none" stroke="#333" stroke-width="1"/>
<rect x="51.3" y="367.3" width="299.09999999999997" height="161.2" fill="none" stroke="#a0a0a0" stroke-width="1"/>
<line x1="48.30" y1="528.50" x2="51.30" y2="528.50" stroke="#a0a0a0" stroke-width="1"/>
<text x="48.80" y="532.10" font-size="10.60" text-anchor="end" fill="#262626" textLength="6.36" lengthAdjust="spacingAndGlyphs">0</text>
<line x1="48.30" y1="483.70" x2="51.30" y2="483.70" stroke="#a0a0a0" stroke-width="1"/>
<text x="48.80" y="487.30" font-size="10.60" text-anchor="end" fill="#262626" textLength="19.09" lengthAdjust="spacingAndGlyphs">500</text>
<line x1="48.30" y1="438.90" x2="51.30" y2="438.90" stroke="#a0a0a0" stroke-width="1"/>
<text x="48.80" y="442.50" font-size="10.60" text-anchor="end" fill="#262626" textLength="25.45" lengthAdjust="spacingAndGlyphs">1000</text>
<line x1="48.30" y1="394.10" x2="51.30" y2="394.10" stroke="#a0a0a0" stroke-width="1"/>
<text x="48.80" y="397.70" font-size="10.60" text-anchor="end" fill="#262626" textLength="25.45" lengthAdjust="spacingAndGlyphs">1500</text>
<line x1="51.30" y1="528.50" x2="51.30" y2="531.50" stroke="#a0a0a0" stroke-width="1"/>
<text x="51.30" y="539.00" font-size="10.60" text-anchor="middle" fill="#262626" textLength="6.36" lengthAdjust="spacingAndGlyphs">2</text>
<line x1="111.12" y1="528.50" x2="111.12" y2="531.50" stroke="#a0a0a0" stroke-width="1"/>
<text x="111.12" y="539.00" font-size="10.60" text-anchor="middle" fill="#262626" textLength="6.36" lengthAdjust="spacingAndGlyphs">4</text>
<line x1="170.94" y1="528.50" x2="170.94" y2="531.50" stroke="#a0a0a0" stroke-width="1"/>
<text x="170.94" y="539.00" font-size="10.60" text-anchor="middle" fill="#262626" textLength="6.36" lengthAdjust="spacingAndGlyphs">6</text>
<line x1="230.76" y1="528.50" x2="230.76" y2="531.50" stroke="#a0a0a0" stroke-width="1"/>
<text x="230.76" y="539.00" font-size="10.60" text-anchor="middle" fill="#262626" textLength="6.36" lengthAdjust="spacingAndGlyphs">8</text>
<line x1="290.58" y1="528.50" x2="290.58" y2="531.50" stroke="#a0a0a0" stroke-width="1"/>
<text x="290.58" y="539.00" font-size="10.60" text-anchor="middle" fill="#262626" textLength="12.72" lengthAdjust="spacingAndGlyphs">10</text>
<line x1="350.40" y1="528.50" x2="350.40" y2="531.50" stroke="#a0a0a0" stroke-width="1"/>
<text x="350.40" y="539.00" font-size="10.60" text-anchor="middle" fill="#262626" textLength="12.72" lengthAdjust="spacingAndGlyphs">12</text>
<text x="201.0" y="550.2" font-size="10.6" text-anchor="middle" fill="#262626" textLength="42.3" lengthAdjust="spacingAndGlyphs">2<tspan font-style="italic">θ</tspan> (deg)</text>
<text x="20.60" y="448.10" font-size="10.60" text-anchor="middle" fill="#262626" textLength="96.83" lengthAdjust="spacingAndGlyphs" transform="rotate(-90 20.60 448.10)">Intensity (arb. unit)</text>
<text x="164.90" y="403.20" font-size="10.60" text-anchor="start" fill="#262626" textLength="26.89" lengthAdjust="spacingAndGlyphs">(110)</text>
<text x="192.3" y="405.4" font-size="7" fill="#262626" font-style="italic">α'</text>
<text x="225.00" y="449.60" font-size="10.60" text-anchor="start" fill="#262626" textLength="26.89" lengthAdjust="spacingAndGlyphs">(200)</text>
<text x="252.4" y="451.8" font-size="7" fill="#262626" font-style="italic">α'</text>
<text x="281.70" y="440.00" font-size="10.60" text-anchor="start" fill="#262626" textLength="26.89" lengthAdjust="spacingAndGlyphs">(211)</text>
<text x="309.1" y="442.2" font-size="7" fill="#262626" font-style="italic">α'</text>
<text x="317.00" y="452.70" font-size="10.60" text-anchor="start" fill="#262626" textLength="26.89" lengthAdjust="spacingAndGlyphs">(220)</text>
<text x="344.4" y="454.9" font-size="7" fill="#262626" font-style="italic">α'</text>
<text x="178.20" y="465.70" font-size="10.60" text-anchor="start" fill="#262626" textLength="26.89" lengthAdjust="spacingAndGlyphs">(200)</text>
<text x="205.6" y="467.9" font-size="7" fill="#262626" font-style="italic">γ</text>
<text x="254.90" y="465.70" font-size="10.60" text-anchor="start" fill="#262626" textLength="26.89" lengthAdjust="spacingAndGlyphs">(220)</text>
<text x="282.3" y="467.9" font-size="7" fill="#262626" font-style="italic">γ</text>
<text x="306.50" y="465.70" font-size="10.60" text-anchor="start" fill="#262626" textLength="26.89" lengthAdjust="spacingAndGlyphs">(311)</text>
<text x="333.9" y="467.9" font-size="7" fill="#262626" font-style="italic">γ</text>
<text x="129.50" y="457.30" font-size="10.60" text-anchor="start" fill="#262626" textLength="26.89" lengthAdjust="spacingAndGlyphs">(111)</text>
<text x="156.9" y="459.5" font-size="7" fill="#262626" font-style="italic">γ</text>
<line x1="121.50" y1="462.50" x2="118.00" y2="439.00" stroke="#222" stroke-width="0.9"/>
<polygon points="117.4,434.0 115.6,440.0 119.6,439.6" fill="#111"/>
<rect x="232.2" y="370.4" width="115.3" height="22.2" rx="2" fill="#fff" fill-opacity="0.85" stroke="#dcdcdc" stroke-width="0.8"/>
<line x1="234.00" y1="376.20" x2="249.00" y2="376.20" stroke="#173f61" stroke-width="1.3"/>
<text x="254.40" y="378.80" font-size="7.63" text-anchor="start" fill="#262626" textLength="9.04" lengthAdjust="spacingAndGlyphs">LC</text>
<line x1="234.00" y1="386.00" x2="249.00" y2="386.00" stroke="#7d1d1f" stroke-width="1.3"/>
<text x="254.40" y="388.60" font-size="7.63" text-anchor="start" fill="#262626" textLength="20.01" lengthAdjust="spacingAndGlyphs">LC+B</text>
<line x1="287.00" y1="376.20" x2="302.00" y2="376.20" stroke="#3b8fc6" stroke-width="1.3"/>
<text x="307.40" y="378.80" font-size="7.63" text-anchor="start" fill="#262626" textLength="26.76" lengthAdjust="spacingAndGlyphs">LC+LTT</text>
<line x1="287.00" y1="386.00" x2="302.00" y2="386.00" stroke="#ee6a4c" stroke-width="1.3"/>
<text x="307.40" y="388.60" font-size="7.63" text-anchor="start" fill="#262626" textLength="37.73" lengthAdjust="spacingAndGlyphs">LC+B+LTT</text>
<rect x="71.80" y="370.20" width="76.60" height="41.00" fill="#fff"/>
<clipPath id="insclip"><rect x="71.8" y="370.2" width="76.60000000000001" height="41.0"/></clipPath>
<g clip-path="url(#insclip)">
<polyline points="71.3,381.2 72.0,381.3 72.6,381.4 73.3,381.5 74.0,381.3 74.6,381.5 75.3,380.7 76.0,381.0 76.6,381.5 77.3,381.2 78.0,381.4 78.7,380.7 79.3,381.0 80.0,380.8 80.7,381.1 81.3,381.1 82.0,380.6 82.7,380.8 83.3,380.9 84.0,381.4 84.7,381.3 85.3,380.7 86.0,381.3 86.7,380.7 87.3,381.1 88.0,380.7 88.7,380.6 89.3,381.3 90.0,380.7 90.7,380.7 91.4,381.4 92.0,381.3 92.7,380.8 93.4,381.4 94.0,381.0 94.7,381.1 95.4,380.7 96.0,381.3 96.7,381.1 97.4,379.6 98.0,379.4 98.7,378.8 99.4,378.8 100.0,378.6 100.7,378.5 101.4,378.3 102.1,378.5 102.7,378.7 103.4,378.0 104.1,378.6 104.7,378.2 105.4,378.1 106.1,378.4 106.7,378.0 107.4,377.8 108.1,377.9 108.7,378.0 109.4,377.3 110.1,378.0 110.7,377.0 111.4,377.6 112.1,377.5 112.7,376.7 113.4,377.2 114.1,376.7 114.8,376.8 115.4,376.1 116.1,376.0 116.8,376.0 117.4,376.5 118.1,375.6 118.8,376.0 119.4,375.9 120.1,375.7 120.8,375.0 121.4,374.8 122.1,374.7 122.8,374.6 123.4,373.8 124.1,374.1 124.8,373.8 125.4,373.6 126.1,372.5 126.8,372.9 127.5,371.8 128.1,371.6 128.8,371.4 129.5,371.3 130.1,370.3 130.8,370.3 131.5,369.4 132.1,368.6 132.8,368.0 133.5,367.2 134.1,366.4 134.8,365.7 135.5,365.4 136.1,364.8 136.8,363.1 137.5,362.0 138.2,361.8 138.8,360.3 139.5,359.0 140.2,357.5 140.8,356.5 141.5,355.2 142.2,353.3 142.8,351.6 143.5,349.4 144.2,348.3 144.8,345.4 145.5,343.6 146.2,341.6 146.8,338.4 147.5,336.2 148.2,333.5 148.8,330.1 149.5,326.9 150.2,322.7 150.9,319.2 151.5,314.8" fill="none" stroke="#173f61" stroke-width="1.2" stroke-linejoin="round"/>
<polyline points="71.3,389.8 72.0,389.3 72.6,389.4 73.3,389.9 74.0,389.8 74.6,389.9 75.3,389.4 76.0,389.4 76.6,389.7 77.3,389.4 78.0,389.3 78.7,389.4 79.3,389.1 80.0,389.3 80.7,389.9 81.3,389.8 82.0,389.5 82.7,389.4 83.3,389.3 84.0,389.0 84.7,389.2 85.3,389.7 86.0,389.7 86.7,389.3 87.3,389.6 88.0,389.6 88.7,389.5 89.3,389.5 90.0,389.6 90.7,389.2 91.4,389.5 92.0,389.1 92.7,389.3 93.4,389.5 94.0,389.5 94.7,389.1 95.4,389.7 96.0,389.4 96.7,389.3 97.4,387.0 98.0,387.4 98.7,387.1 99.4,387.4 100.0,387.1 100.7,387.4 101.4,387.2 102.1,387.2 102.7,386.7 103.4,386.9 104.1,386.9 104.7,386.9 105.4,386.4 106.1,386.8 106.7,386.7 107.4,386.4 108.1,386.6 108.7,386.5 109.4,386.0 110.1,385.9 110.7,385.5 111.4,386.0 112.1,385.9 112.7,385.4 113.4,385.5 114.1,385.4 114.8,385.3 115.4,384.6 116.1,385.0 116.8,384.7 117.4,384.7 118.1,384.3 118.8,384.3 119.4,384.3 120.1,384.0 120.8,383.9 121.4,383.1 122.1,383.0 122.8,383.0 123.4,383.0 124.1,382.4 124.8,382.6 125.4,382.3 126.1,381.5 126.8,381.6 127.5,381.1 128.1,380.7 128.8,380.4 129.5,380.3 130.1,379.8 130.8,379.5 131.5,379.0 132.1,378.9 132.8,378.5 133.5,378.2 134.1,377.7 134.8,376.9 135.5,377.0 136.1,375.7 136.8,375.5 137.5,374.8 138.2,374.3 138.8,373.3 139.5,373.3 140.2,372.1 140.8,371.0 141.5,370.7 142.2,369.4 142.8,368.9 143.5,367.7 144.2,366.9 144.8,366.1 145.5,364.9 146.2,363.3 146.8,362.3 147.5,360.8 148.2,359.1 148.8,357.4 149.5,356.2 150.2,354.5 150.9,353.0 151.5,351.1" fill="none" stroke="#7d1d1f" stroke-width="1.2" stroke-linejoin="round"/>
<polyline points="71.3,398.3 72.0,398.0 72.6,398.5 73.3,397.7 74.0,397.8 74.6,398.2 75.3,398.3 76.0,397.8 76.6,398.3 77.3,398.5 78.0,398.0 78.7,398.1 79.3,397.9 80.0,398.0 80.7,398.6 81.3,398.0 82.0,398.5 82.7,398.5 83.3,398.2 84.0,397.9 84.7,398.5 85.3,398.1 86.0,398.0 86.7,397.9 87.3,398.5 88.0,398.1 88.7,397.9 89.3,398.0 90.0,397.7 90.7,398.2 91.4,398.0 92.0,397.8 92.7,398.3 93.4,398.3 94.0,397.6 94.7,398.0 95.4,397.8 96.0,398.4 96.7,398.2 97.4,396.0 98.0,395.9 98.7,395.7 99.4,396.4 100.0,395.7 100.7,395.9 101.4,395.7 102.1,395.8 102.7,395.7 103.4,395.8 104.1,395.1 104.7,395.6 105.4,395.1 106.1,395.2 106.7,395.0 107.4,394.9 108.1,395.0 108.7,394.8 109.4,394.6 110.1,394.9 110.7,394.6 111.4,394.0 112.1,394.1 112.7,394.2 113.4,394.5 114.1,394.4 114.8,393.9 115.4,393.3 116.1,393.9 116.8,393.4 117.4,393.4 118.1,393.4 118.8,393.2 119.4,392.9 120.1,393.1 120.8,392.5 121.4,392.3 122.1,392.6 122.8,391.8 123.4,391.7 124.1,391.9 124.8,391.0 125.4,391.5 126.1,391.1 126.8,390.7 127.5,390.3 128.1,390.5 128.8,390.3 129.5,389.3 130.1,389.3 130.8,389.0 131.5,388.6 132.1,388.1 132.8,387.6 133.5,387.6 134.1,387.4 134.8,386.2 135.5,385.9 136.1,386.0 136.8,385.4 137.5,384.8 138.2,383.6 138.8,383.6 139.5,383.2 140.2,382.6 140.8,381.6 141.5,380.3 142.2,380.2 142.8,378.8 143.5,378.3 144.2,377.6 144.8,376.4 145.5,374.9 146.2,373.9 146.8,373.3 147.5,371.4 148.2,370.5 148.8,368.9 149.5,367.2 150.2,366.1 150.9,364.0 151.5,362.3" fill="none" stroke="#3b8fc6" stroke-width="1.2" stroke-linejoin="round"/>
<polyline points="71.3,406.9 72.0,406.6 72.6,406.6 73.3,407.0 74.0,407.2 74.6,407.3 75.3,406.6 76.0,406.9 76.6,406.8 77.3,407.0 78.0,406.9 78.7,407.3 79.3,406.8 80.0,406.5 80.7,407.1 81.3,406.6 82.0,407.0 82.7,406.9 83.3,407.3 84.0,407.0 84.7,407.0 85.3,406.7 86.0,406.9 86.7,406.7 87.3,407.1 88.0,406.9 88.7,406.5 89.3,406.6 90.0,406.7 90.7,407.1 91.4,406.6 92.0,407.0 92.7,407.0 93.4,406.4 94.0,407.0 94.7,406.4 95.4,406.4 96.0,406.9 96.7,406.5 97.4,405.3 98.0,404.9 98.7,404.7 99.4,405.0 100.0,404.3 100.7,404.8 101.4,404.2 102.1,404.2 102.7,404.8 103.4,404.5 104.1,404.0 104.7,403.8 105.4,404.5 106.1,404.2 106.7,404.2 107.4,403.5 108.1,403.9 108.7,403.5 109.4,403.3 110.1,403.3 110.7,403.5 111.4,403.1 112.1,403.0 112.7,402.7 113.4,403.2 114.1,402.9 114.8,403.0 115.4,402.5 116.1,402.8 116.8,402.3 117.4,402.3 118.1,402.1 118.8,402.1 119.4,401.6 120.1,401.2 120.8,401.0 121.4,401.0 122.1,400.6 122.8,401.2 123.4,400.6 124.1,400.7 124.8,399.8 125.4,400.0 126.1,400.1 126.8,399.6 127.5,399.2 128.1,399.0 128.8,398.4 129.5,398.1 130.1,397.8 130.8,397.7 131.5,397.3 132.1,397.4 132.8,396.4 133.5,396.1 134.1,395.7 134.8,395.1 135.5,394.8 136.1,394.2 136.8,393.9 137.5,393.0 138.2,393.2 138.8,392.1 139.5,392.0 140.2,391.1 140.8,390.4 141.5,389.4 142.2,389.1 142.8,387.5 143.5,387.1 144.2,385.8 144.8,385.2 145.5,384.2 146.2,382.6 146.8,381.5 147.5,380.1 148.2,378.9 148.8,377.4 149.5,376.3 150.2,375.2 150.9,373.0 151.5,371.3" fill="none" stroke="#ee6a4c" stroke-width="1.2" stroke-linejoin="round"/>
</g>
<rect x="97.3" y="375.6" width="21.3" height="32.9" fill="none" stroke="#333" stroke-width="1"/>
<rect x="71.8" y="370.2" width="76.60000000000001" height="41.0" fill="none" stroke="#cfcfcf" stroke-width="0.8"/>
<text x="69.60" y="384.90" font-size="9.75" text-anchor="end" fill="#262626" textLength="11.71" lengthAdjust="spacingAndGlyphs">60</text>
<text x="69.60" y="411.60" font-size="9.75" text-anchor="end" fill="#262626" textLength="11.71" lengthAdjust="spacingAndGlyphs">40</text>
<text x="90.40" y="419.80" font-size="9.75" text-anchor="middle" fill="#262626" textLength="5.85" lengthAdjust="spacingAndGlyphs">4</text>
<text x="128.60" y="419.80" font-size="9.75" text-anchor="middle" fill="#262626" textLength="5.85" lengthAdjust="spacingAndGlyphs">5</text>
<text x="110.0" y="431.2" font-size="9.8" text-anchor="middle" fill="#262626" textLength="43.5" lengthAdjust="spacingAndGlyphs">2<tspan font-style="italic">θ</tspan> (deg)</text>
</g>
<g id="panel_ebsd">
<rect x="18.0" y="6.0" width="151.8" height="148.8" fill="#15406a" filter="url(#glow)"/>
<rect x="19.2" y="7.2" width="149.4" height="146.4" fill="#15406a"/>
<clipPath id="clipa"><rect x="22.5" y="10.5" width="142.7" height="139.8"/></clipPath>
<g clip-path="url(#clipa)">
<rect x="22.50" y="10.50" width="142.70" height="139.80" fill="#3468e8"/>
<clipPath id="vca0"><polygon points="22.5,10.5 57.4,10.5 54.9,62.8 53.4,65.5 22.5,67.5"/></clipPath>
<g clip-path="url(#vca0)"><g transform="rotate(35 35.0 28.0)"><rect x="-70.0" y="-77.0" width="210" height="210" filter="url(#nfa0)"/><rect x="-70.0" y="-77.0" width="210" height="210" fill="#8a2060" opacity="0.9" filter="url(#spka0)"/><rect x="-70.0" y="-77.0" width="210" height="210" fill="#4a2a8a" opacity="0.9" filter="url(#spka1)"/></g></g>
<clipPath id="vca1"><polygon points="22.5,138.2 22.5,67.5 53.4,65.5 81.2,101.0 80.1,105.3"/></clipPath>
<g clip-path="url(#vca1)"><g transform="rotate(62 40.0 105.0)"><rect x="-65.0" y="0.0" width="210" height="210" filter="url(#nfa1)"/><rect x="-65.0" y="0.0" width="210" height="210" fill="#8a2060" opacity="0.9" filter="url(#spka0)"/><rect x="-65.0" y="0.0" width="210" height="210" fill="#4a2a8a" opacity="0.9" filter="url(#spka1)"/></g></g>
<clipPath id="vca2"><polygon points="57.4,10.5 113.6,10.5 107.2,35.0 54.9,62.8"/></clipPath>
<g clip-path="url(#vca2)"><g transform="rotate(-62 78.0 30.0)"><rect x="-27.0" y="-75.0" width="210" height="210" filter="url(#nfa2)"/><rect x="-27.0" y="-75.0" width="210" height="210" fill="#8a2060" opacity="0.9" filter="url(#spka0)"/><rect x="-27.0" y="-75.0" width="210" height="210" fill="#4a2a8a" opacity="0.9" filter="url(#spka1)"/></g></g>
<clipPath id="vca3"><polygon points="81.2,101.0 53.4,65.5 54.9,62.8 107.2,35.0 128.3,84.8 126.7,86.6"/></clipPath>
<g clip-path="url(#vca3)"><g transform="rotate(-60 95.0 62.0)"><rect x="-10.0" y="-43.0" width="210" height="210" filter="url(#nfa0)"/><rect x="-10.0" y="-43.0" width="210" height="210" fill="#8a2060" opacity="0.9" filter="url(#spka0)"/><rect x="-10.0" y="-43.0" width="210" height="210" fill="#4a2a8a" opacity="0.9" filter="url(#spka1)"/></g></g>
<clipPath id="vca4"><polygon points="113.6,10.5 165.2,10.5 165.2,74.2 128.3,84.8 107.2,35.0"/></clipPath>
<g clip-path="url(#vca4)"><g transform="rotate(12 135.0 45.0)"><rect x="30.0" y="-60.0" width="210" height="210" filter="url(#nfa1)"/><rect x="30.0" y="-60.0" width="210" height="210" fill="#8a2060" opacity="0.9" filter="url(#spka0)"/><rect x="30.0" y="-60.0" width="210" height="210" fill="#4a2a8a" opacity="0.9" filter="url(#spka1)"/></g></g>
<clipPath id="vca5"><polygon points="142.6,150.3 92.4,150.3 80.1,105.3 81.2,101.0 126.7,86.6"/></clipPath>
<g clip-path="url(#vca5)"><g transform="rotate(-30 115.0 125.0)"><rect x="10.0" y="20.0" width="210" height="210" filter="url(#nfa2)"/><rect x="10.0" y="20.0" width="210" height="210" fill="#8a2060" opacity="0.9" filter="url(#spka0)"/><rect x="10.0" y="20.0" width="210" height="210" fill="#4a2a8a" opacity="0.9" filter="url(#spka1)"/></g></g>
<clipPath id="vca6"><polygon points="165.2,74.2 165.2,150.3 142.6,150.3 126.7,86.6 128.3,84.8"/></clipPath>
<g clip-path="url(#vca6)"><g transform="rotate(80 155.0 115.0)"><rect x="50.0" y="10.0" width="210" height="210" filter="url(#nfa0)"/><rect x="50.0" y="10.0" width="210" height="210" fill="#8a2060" opacity="0.9" filter="url(#spka0)"/><rect x="50.0" y="10.0" width="210" height="210" fill="#4a2a8a" opacity="0.9" filter="url(#spka1)"/></g></g>
<clipPath id="vca7"><polygon points="92.4,150.3 22.5,150.3 22.5,138.2 80.1,105.3"/></clipPath>
<g clip-path="url(#vca7)"><g transform="rotate(60 60.0 140.0)"><rect x="-45.0" y="35.0" width="210" height="210" filter="url(#nfa1)"/><rect x="-45.0" y="35.0" width="210" height="210" fill="#8a2060" opacity="0.9" filter="url(#spka0)"/><rect x="-45.0" y="35.0" width="210" height="210" fill="#4a2a8a" opacity="0.9" filter="url(#spka1)"/></g></g>
<path d="M83.5 61.5L92.2 43.0" stroke="#e8b030" stroke-width="3.2"/><path d="M85.5 56L90.5 46" stroke="#f5c040" stroke-width="1.6"/><path d="M93 46l3 -6M95 52l2 -5M83 28l4 -3M99 38l2 -4" stroke="#5cc890" stroke-width="2.4"/>
<polyline points="26.1,32.3 28.4,33.6 30.1,35.7 32.3,37.0 34.4,38.5 36.2,40.4 37.8,42.2 39.3,43.9 40.8,45.7 42.3,47.4 44.0,49.0 45.6,50.8 46.7,52.9 48.4,54.5 50.5,55.4 52.3,56.7 54.3,57.9 56.4,58.6 59.1,59.0 61.8,59.1 64.5,58.6 63.7,56.1 63.2,53.6 63.3,50.9 62.5,48.5 64.2,46.9 65.6,44.9 67.7,43.6 69.5,42.1 71.2,40.3 72.6,38.4 73.8,36.2 75.4,34.2 76.7,32.0 78.7,30.3 80.6,28.6 81.3,26.1 83.2,24.4 84.5,22.2 86.0,20.3 87.3,18.2 88.8,16.2" fill="none" stroke="#e8e2ff" stroke-width="0.95" stroke-opacity="0.9" stroke-linejoin="round"/>
<polyline points="30.2,62.6 32.9,61.8 35.7,60.9 38.3,59.6 40.5,59.5 42.8,59.3 45.1,59.1 47.4,59.7 49.6,58.7 51.9,58.4 54.1,58.4 56.4,58.6" fill="none" stroke="#e8e2ff" stroke-width="0.95" stroke-opacity="0.9" stroke-linejoin="round"/>
<polyline points="56.4,58.6 57.6,60.7 59.3,62.3 60.7,64.1 62.1,66.0 64.2,67.2 65.4,69.3 66.7,71.3 68.6,72.7 69.6,75.0 71.4,76.8 73.2,78.5 74.4,80.7 75.3,83.2 77.6,84.6 78.7,86.9 80.0,88.8 80.5,91.2 82.2,92.9 83.6,94.8 84.6,96.8 85.2,99.2 86.7,101.0 87.7,103.5 88.3,106.0 88.9,108.6 89.8,111.1 88.4,112.9 87.8,115.1 87.2,117.4 85.6,119.1 85.2,121.4 84.1,123.4 82.7,125.2 82.0,127.7 80.5,129.8 79.9,132.4 78.4,134.6 78.0,137.2 76.6,139.4 74.9,141.7 73.0,143.8 70.6,145.4" fill="none" stroke="#e8e2ff" stroke-width="0.95" stroke-opacity="0.9" stroke-linejoin="round"/>
<polyline points="89.8,111.1 91.8,109.7 94.2,109.3 96.4,108.2 98.5,107.0 100.6,105.7 102.9,105.0 105.1,104.3 107.1,103.3 109.0,102.0 111.0,101.0 112.8,99.7 114.7,98.4 117.0,97.8 119.1,97.0 120.8,95.5 123.1,94.9 125.3,94.2 127.0,92.6 129.0,91.6 130.9,90.4 133.5,90.4 135.3,89.1 137.4,88.3 139.3,87.0 141.0,85.3 143.3,84.8 145.5,84.1 147.8,83.8 150.0,82.9 152.5,83.3 154.6,82.2 156.8,81.4 159.3,81.7 161.5,80.8" fill="none" stroke="#e8e2ff" stroke-width="0.95" stroke-opacity="0.9" stroke-linejoin="round"/>
<polyline points="143.3,84.8 143.0,87.1 144.2,89.3 144.5,91.5 143.6,93.9 144.8,96.0 145.1,98.3 144.7,100.6 145.3,102.8 145.3,105.0 144.8,107.3 145.5,109.5 144.6,111.8 145.3,114.0 145.0,116.2 144.5,118.5 144.8,120.7 144.4,123.0 144.9,125.2 144.7,127.6 145.5,129.9 144.6,132.3 145.0,134.7 145.4,137.0 145.5,139.4 144.8,141.7 145.2,144.1 145.3,146.4" fill="none" stroke="#e8e2ff" stroke-width="0.95" stroke-opacity="0.9" stroke-linejoin="round"/>
<polyline points="114.0,16.2 112.6,18.2 111.7,20.5 110.9,22.8 110.9,25.4 109.5,27.5 108.8,29.8 107.8,32.1 106.9,34.3 106.8,36.9 106.1,39.3 105.2,41.6 104.8,44.1 103.9,46.5" fill="none" stroke="#e8e2ff" stroke-width="0.95" stroke-opacity="0.9" stroke-linejoin="round"/>
<rect x="22.5" y="10.5" width="142.7" height="139.8" fill="none" stroke="#0a2450" stroke-width="6" filter="url(#vblur)"/>
</g>
<rect x="21.00" y="10.30" width="34.80" height="13.70" fill="#fff"/>
<text x="21.70" y="22.10" font-size="14.60" text-anchor="start" fill="#111" textLength="31.70" lengthAdjust="spacingAndGlyphs">a) LC</text>
<rect x="21.00" y="138.90" width="33.90" height="15.10" fill="#fff"/>
<text x="22.50" y="148.60" font-size="11.00" text-anchor="start" fill="#111" textLength="29.60" lengthAdjust="spacingAndGlyphs">10 μm</text>
<rect x="28.40" y="151.60" width="18.60" height="1.40" fill="#111"/>
<rect x="182.5" y="6.0" width="151.5" height="149.8" fill="#7c0a0a" filter="url(#glow)"/>
<rect x="183.7" y="7.2" width="149.1" height="147.4" fill="#7c0a0a"/>
<clipPath id="clipb"><rect x="187.0" y="10.0" width="142.5" height="141.0"/></clipPath>
<g clip-path="url(#clipb)">
<rect x="187.00" y="10.00" width="142.50" height="141.00" fill="#3a4ed8"/>
<clipPath id="vcb0"><polygon points="187.0,10.0 232.5,10.0 232.5,55.2 211.0,74.8 187.0,76.1"/></clipPath>
<g clip-path="url(#vcb0)"><g transform="rotate(30 205.0 30.0)"><rect x="100.0" y="-75.0" width="210" height="210" filter="url(#nfb0)"/><rect x="100.0" y="-75.0" width="210" height="210" fill="#8a2060" opacity="0.9" filter="url(#spkb0)"/><rect x="100.0" y="-75.0" width="210" height="210" fill="#3a2280" opacity="0.9" filter="url(#spkb1)"/></g></g>
<clipPath id="vcb1"><polygon points="237.1,108.5 211.0,74.8 232.5,55.2 280.0,59.5 283.3,62.3 286.5,100.2 270.0,111.8"/></clipPath>
<g clip-path="url(#vcb1)"><g transform="rotate(-20 255.0 85.0)"><rect x="150.0" y="-20.0" width="210" height="210" filter="url(#nfb1)"/><rect x="150.0" y="-20.0" width="210" height="210" fill="#8a2060" opacity="0.9" filter="url(#spkb0)"/><rect x="150.0" y="-20.0" width="210" height="210" fill="#3a2280" opacity="0.9" filter="url(#spkb1)"/></g></g>
<clipPath id="vcb2"><polygon points="280.0,10.0 329.5,10.0 329.5,48.4 283.3,62.3 280.0,59.5"/></clipPath>
<g clip-path="url(#vcb2)"><g transform="rotate(-45 300.0 30.0)"><rect x="195.0" y="-75.0" width="210" height="210" filter="url(#nfb2)"/><rect x="195.0" y="-75.0" width="210" height="210" fill="#8a2060" opacity="0.9" filter="url(#spkb0)"/><rect x="195.0" y="-75.0" width="210" height="210" fill="#3a2280" opacity="0.9" filter="url(#spkb1)"/></g></g>
<clipPath id="vcb3"><polygon points="329.5,48.4 329.5,119.8 286.5,100.2 283.3,62.3"/></clipPath>
<g clip-path="url(#vcb3)"><g transform="rotate(70 315.0 80.0)"><rect x="210.0" y="-25.0" width="210" height="210" filter="url(#nfb0)"/><rect x="210.0" y="-25.0" width="210" height="210" fill="#8a2060" opacity="0.9" filter="url(#spkb0)"/><rect x="210.0" y="-25.0" width="210" height="210" fill="#3a2280" opacity="0.9" filter="url(#spkb1)"/></g></g>
<clipPath id="vcb4"><polygon points="221.2,151.0 187.0,151.0 187.0,76.1 211.0,74.8 237.1,108.5"/></clipPath>
<g clip-path="url(#vcb4)"><g transform="rotate(-30 210.0 120.0)"><rect x="105.0" y="15.0" width="210" height="210" filter="url(#nfb1)"/><rect x="105.0" y="15.0" width="210" height="210" fill="#8a2060" opacity="0.9" filter="url(#spkb0)"/><rect x="105.0" y="15.0" width="210" height="210" fill="#3a2280" opacity="0.9" filter="url(#spkb1)"/></g></g>
<clipPath id="vcb5"><polygon points="329.5,119.8 329.5,151.0 270.0,151.0 270.0,111.8 286.5,100.2"/></clipPath>
<g clip-path="url(#vcb5)"><g transform="rotate(-20 290.0 135.0)"><rect x="185.0" y="30.0" width="210" height="210" filter="url(#nfb2)"/><rect x="185.0" y="30.0" width="210" height="210" fill="#8a2060" opacity="0.9" filter="url(#spkb0)"/><rect x="185.0" y="30.0" width="210" height="210" fill="#3a2280" opacity="0.9" filter="url(#spkb1)"/></g></g>
<clipPath id="vcb6"><polygon points="270.0,151.0 221.2,151.0 237.1,108.5 270.0,111.8"/></clipPath>
<g clip-path="url(#vcb6)"><g transform="rotate(45 250.0 135.0)"><rect x="145.0" y="30.0" width="210" height="210" filter="url(#nfb0)"/><rect x="145.0" y="30.0" width="210" height="210" fill="#8a2060" opacity="0.9" filter="url(#spkb0)"/><rect x="145.0" y="30.0" width="210" height="210" fill="#3a2280" opacity="0.9" filter="url(#spkb1)"/></g></g>
<clipPath id="vcb7"><polygon points="232.5,10.0 280.0,10.0 280.0,59.5 232.5,55.2"/></clipPath>
<g clip-path="url(#vcb7)"><g transform="rotate(10 260.0 30.0)"><rect x="155.0" y="-75.0" width="210" height="210" filter="url(#nfb1)"/><rect x="155.0" y="-75.0" width="210" height="210" fill="#8a2060" opacity="0.9" filter="url(#spkb0)"/><rect x="155.0" y="-75.0" width="210" height="210" fill="#3a2280" opacity="0.9" filter="url(#spkb1)"/></g></g>

<polyline points="210.3,28.3 211.8,30.4 212.4,32.9 213.3,35.3 214.9,37.2 215.3,39.7 216.6,41.7 218.2,43.5 219.3,45.7 219.7,48.1 221.4,49.9 221.9,52.4 223.1,54.4 224.4,56.5 225.5,58.6 224.0,60.4 223.1,62.6 222.1,64.6 221.1,66.7 220.2,68.8 219.2,70.9 217.8,72.8 216.7,74.8 215.2,76.6 214.4,78.8 212.0,79.8 209.5,80.5 206.9,80.7 204.6,81.9 202.2,82.8 199.8,83.0 197.4,83.4 194.9,83.5 192.6,84.8 190.1,84.8" fill="none" stroke="#e8e2ff" stroke-width="0.95" stroke-opacity="0.9" stroke-linejoin="round"/>
<polyline points="225.5,58.6 227.9,58.1 230.2,57.3 232.7,57.2 235.0,56.3 237.5,56.0 240.0,56.1 242.2,54.6 244.7,54.5 246.4,53.1 248.6,52.2 250.1,50.4 252.1,49.2 254.4,48.7 256.4,47.6 257.9,45.7 259.7,44.3 261.8,43.4 264.5,43.8 267.1,42.8 269.7,42.9 272.3,42.7 275.0,42.4 277.1,41.3 279.3,40.3 281.3,39.1 283.2,37.6 285.3,36.4 287.3,35.1 289.2,33.7 291.1,32.3 292.6,30.5 293.9,28.6 295.4,26.8 297.6,25.6 298.9,23.6 299.8,21.4 302.1,20.3 303.2,18.2 305.1,16.0 307.4,14.3 309.3,12.1" fill="none" stroke="#e8e2ff" stroke-width="0.95" stroke-opacity="0.9" stroke-linejoin="round"/>
<polyline points="254.8,14.1 255.6,16.3 255.8,18.5 256.7,20.6 256.4,23.0 257.6,25.0 257.7,27.3 257.8,29.6 258.9,31.6 258.7,34.0 259.5,36.1 260.3,38.2 260.8,40.4 261.8,43.4" fill="none" stroke="#e8e2ff" stroke-width="0.95" stroke-opacity="0.9" stroke-linejoin="round"/>
<polyline points="210.3,32.3 212.4,33.2 214.8,32.3 216.9,33.4 219.1,33.4 221.3,34.2 223.6,33.9 225.7,34.7 228.0,34.1 230.1,35.4 232.4,35.0 234.6,35.3 236.8,35.0 239.0,35.2 241.3,35.5 243.5,34.8 245.8,35.2 248.0,34.8 250.3,34.8 252.5,35.0 254.8,35.3" fill="none" stroke="#e8e2ff" stroke-width="0.95" stroke-opacity="0.9" stroke-linejoin="round"/>
<polyline points="291.1,32.3 292.8,34.0 294.4,35.8 296.5,37.0 298.1,38.8 299.7,40.6 301.9,41.8 303.5,43.5 305.3,45.1 307.3,46.5 309.5,47.1 311.9,46.4 314.1,46.8 316.3,48.1 318.6,48.0 320.9,47.7 323.1,48.5 325.4,48.5" fill="none" stroke="#e8e2ff" stroke-width="0.95" stroke-opacity="0.9" stroke-linejoin="round"/>
<polyline points="307.3,46.5 308.0,48.6 309.9,50.0 310.7,52.1 311.9,53.9 312.6,56.1 314.3,57.6 315.4,59.6 316.4,61.5 317.8,63.3 318.4,65.5 319.6,67.3 320.9,69.1 322.7,70.6 323.4,72.7 322.4,74.8 322.6,77.1 322.1,79.4 321.8,81.6 321.4,83.8 320.5,86.0 320.9,88.3 320.6,90.6 319.2,92.6 319.4,94.9 319.0,97.4 318.3,99.7 317.4,102.0 316.2,104.2 316.2,106.8 315.3,109.1 314.1,111.1 312.3,112.5 310.7,114.1 309.3,115.9 307.3,117.1 305.0,116.9 302.8,117.3 300.6,118.2 298.4,118.3 296.1,117.6 293.9,118.1 291.7,118.6 289.5,118.7 287.2,118.4 285.0,119.2 283.0,120.3 280.7,120.8 278.8,122.3 276.4,122.6 274.3,123.8 272.1,124.5 269.9,125.3 267.8,126.2 265.4,126.5 263.5,128.0 261.5,129.2 258.9,129.2 256.7,129.9 254.8,131.3 252.9,129.7 250.6,129.1 248.6,127.8 246.8,126.2 244.7,125.2 243.0,123.5 241.8,121.5 241.0,119.2 239.5,117.3 238.6,115.1 236.3,114.5 234.0,114.2 232.0,112.6 229.6,112.4 227.3,111.9 225.1,111.3 222.8,110.7 220.7,109.4 218.4,109.1 218.4,106.7 218.1,104.4 218.0,102.0 217.3,99.7 216.7,97.4 216.4,95.1 215.8,92.8 215.8,90.4 215.6,88.1 215.7,85.7 215.1,83.4 214.2,81.2 214.4,78.8" fill="none" stroke="#e8e2ff" stroke-width="0.95" stroke-opacity="0.9" stroke-linejoin="round"/>
<polyline points="254.8,131.3 254.9,133.7 253.5,135.9 254.2,138.4 253.1,140.7 252.7,143.0 252.7,145.4" fill="none" stroke="#e8e2ff" stroke-width="0.95" stroke-opacity="0.9" stroke-linejoin="round"/>
<polyline points="307.3,117.1 307.8,119.4 309.2,121.2 310.3,123.2 311.3,125.2 312.0,127.4 312.8,129.5 314.4,131.2 315.6,133.2 316.5,135.3 317.8,137.1 318.2,139.4 319.4,141.4" fill="none" stroke="#e8e2ff" stroke-width="0.95" stroke-opacity="0.9" stroke-linejoin="round"/>
<polyline points="272.9,72.7 276.1,72.7 279.0,73.7 278.4,76.0 278.5,78.4 277.5,80.5 277.0,82.8 275.2,81.3 272.9,80.8 272.7,78.1 273.5,75.4 272.9,72.7" fill="none" stroke="#e8e2ff" stroke-width="0.95" stroke-opacity="0.9" stroke-linejoin="round"/>
<polyline points="190.1,113.1 192.1,114.5 194.4,115.5 196.1,117.3 197.9,118.9 200.5,119.4 202.2,121.2 204.3,122.1 206.4,123.1 208.4,124.0 210.1,125.6 212.1,126.7 214.2,127.6 216.4,128.2 218.4,129.3 219.5,131.3 221.6,132.4 222.7,134.5 224.2,136.2 226.0,137.6 227.0,139.7 228.5,141.4" fill="none" stroke="#e8e2ff" stroke-width="0.95" stroke-opacity="0.9" stroke-linejoin="round"/>
<polyline points="291.1,32.3 293.0,33.7 294.0,35.9 295.6,37.5 298.0,38.4 299.2,40.4 297.5,42.2 296.3,44.3 295.0,46.3 294.3,48.8 292.1,50.3 291.1,52.5 289.6,54.2 287.6,55.5 286.2,57.3 284.4,58.8 283.0,60.6" fill="none" stroke="#e8e2ff" stroke-width="0.95" stroke-opacity="0.9" stroke-linejoin="round"/>
<polyline points="262.8,84.8 265.0,85.6 266.8,86.9 269.0,87.6 270.7,89.2 272.9,89.8 275.0,90.7 276.8,92.3 278.8,93.2 280.8,94.3 283.0,94.9 285.3,95.4 287.7,95.1 290.0,95.7 292.3,95.8 294.5,96.7 297.0,96.1 299.2,97.0" fill="none" stroke="#e8e2ff" stroke-width="0.95" stroke-opacity="0.9" stroke-linejoin="round"/>
<rect x="187.0" y="10.0" width="142.5" height="141.0" fill="none" stroke="#0a0004" stroke-width="10" filter="url(#vblur)"/>
</g>
<rect x="186.80" y="10.60" width="51.80" height="15.20" fill="#fff"/>
<text x="187.70" y="23.00" font-size="14.60" text-anchor="start" fill="#111" textLength="49.70" lengthAdjust="spacingAndGlyphs">b) LC+B</text>
<rect x="187.00" y="138.90" width="33.90" height="15.10" fill="#fff"/>
<text x="188.50" y="148.60" font-size="11.00" text-anchor="start" fill="#111" textLength="29.60" lengthAdjust="spacingAndGlyphs">10 μm</text>
<rect x="194.40" y="151.60" width="18.60" height="1.40" fill="#111"/>
<rect x="17.5" y="162.0" width="151.3" height="150.6" fill="#4f9fd2" filter="url(#glow)"/>
<rect x="18.7" y="163.2" width="148.9" height="148.2" fill="#4f9fd2"/>
<clipPath id="clipc"><rect x="21.0" y="165.3" width="143.8" height="143.5"/></clipPath>
<g clip-path="url(#clipc)">
<rect x="21.00" y="165.30" width="143.80" height="143.50" fill="#3458e2"/>
<clipPath id="vcc0"><polygon points="21.0,165.3 111.4,165.3 109.5,196.0 37.0,226.8 21.0,220.9"/></clipPath>
<g clip-path="url(#vcc0)"><g transform="rotate(-15 70.0 185.0)"><rect x="-35.0" y="80.0" width="210" height="210" filter="url(#nfc0)"/><rect x="-35.0" y="80.0" width="210" height="210" fill="#8a2060" opacity="0.9" filter="url(#spkc0)"/><rect x="-35.0" y="80.0" width="210" height="210" fill="#4a2a8a" opacity="0.9" filter="url(#spkc1)"/></g></g>
<clipPath id="vcc1"><polygon points="111.4,165.3 164.8,165.3 164.8,215.0 122.8,215.0 109.5,196.0"/></clipPath>
<g clip-path="url(#vcc1)"><g transform="rotate(60 150.0 190.0)"><rect x="45.0" y="85.0" width="210" height="210" filter="url(#nfc1)"/><rect x="45.0" y="85.0" width="210" height="210" fill="#8a2060" opacity="0.9" filter="url(#spkc0)"/><rect x="45.0" y="85.0" width="210" height="210" fill="#4a2a8a" opacity="0.9" filter="url(#spkc1)"/></g></g>
<clipPath id="vcc2"><polygon points="62.6,256.2 37.0,226.8 109.5,196.0 122.8,215.0 117.7,253.2 110.5,260.7"/></clipPath>
<g clip-path="url(#vcc2)"><g transform="rotate(10 90.0 232.0)"><rect x="-15.0" y="127.0" width="210" height="210" filter="url(#nfc2)"/><rect x="-15.0" y="127.0" width="210" height="210" fill="#8a2060" opacity="0.9" filter="url(#spkc0)"/><rect x="-15.0" y="127.0" width="210" height="210" fill="#4a2a8a" opacity="0.9" filter="url(#spkc1)"/></g></g>
<clipPath id="vcc3"><polygon points="57.4,308.8 21.0,308.8 21.0,220.9 37.0,226.8 62.6,256.2"/></clipPath>
<g clip-path="url(#vcc3)"><g transform="rotate(-50 35.0 280.0)"><rect x="-70.0" y="175.0" width="210" height="210" filter="url(#nfc0)"/><rect x="-70.0" y="175.0" width="210" height="210" fill="#8a2060" opacity="0.9" filter="url(#spkc0)"/><rect x="-70.0" y="175.0" width="210" height="210" fill="#4a2a8a" opacity="0.9" filter="url(#spkc1)"/></g></g>
<clipPath id="vcc4"><polygon points="114.9,308.8 57.4,308.8 62.6,256.2 110.5,260.7"/></clipPath>
<g clip-path="url(#vcc4)"><g transform="rotate(-60 85.0 285.0)"><rect x="-20.0" y="180.0" width="210" height="210" filter="url(#nfc1)"/><rect x="-20.0" y="180.0" width="210" height="210" fill="#8a2060" opacity="0.9" filter="url(#spkc0)"/><rect x="-20.0" y="180.0" width="210" height="210" fill="#4a2a8a" opacity="0.9" filter="url(#spkc1)"/></g></g>
<clipPath id="vcc5"><polygon points="164.8,264.9 164.8,308.8 114.9,308.8 110.5,260.7 117.7,253.2"/></clipPath>
<g clip-path="url(#vcc5)"><g transform="rotate(-40 140.0 280.0)"><rect x="35.0" y="175.0" width="210" height="210" filter="url(#nfc2)"/><rect x="35.0" y="175.0" width="210" height="210" fill="#8a2060" opacity="0.9" filter="url(#spkc0)"/><rect x="35.0" y="175.0" width="210" height="210" fill="#4a2a8a" opacity="0.9" filter="url(#spkc1)"/></g></g>
<clipPath id="vcc6"><polygon points="164.8,215.0 164.8,264.9 117.7,253.2 122.8,215.0"/></clipPath>
<g clip-path="url(#vcc6)"><g transform="rotate(20 150.0 240.0)"><rect x="45.0" y="135.0" width="210" height="210" filter="url(#nfc0)"/><rect x="45.0" y="135.0" width="210" height="210" fill="#8a2060" opacity="0.9" filter="url(#spkc0)"/><rect x="45.0" y="135.0" width="210" height="210" fill="#4a2a8a" opacity="0.9" filter="url(#spkc1)"/></g></g>

<polyline points="127.1,168.1 127.3,170.4 128.8,172.4 128.4,174.8 129.5,176.9 130.5,179.0 130.9,181.2 131.0,183.5 131.4,185.8 131.7,188.0 132.3,190.2 133.2,192.4 133.7,194.7 132.8,197.1 133.7,199.4 132.8,201.8 133.2,204.1 133.2,206.5 135.4,207.3 137.6,208.3 140.1,208.4 142.4,209.0 144.4,210.7 146.9,210.7 149.2,211.6 151.4,212.6 153.1,210.9 155.3,210.0 157.3,208.7 159.4,207.7 161.5,206.5" fill="none" stroke="#e8e2ff" stroke-width="0.95" stroke-opacity="0.9" stroke-linejoin="round"/>
<polyline points="28.2,216.6 30.4,216.0 32.7,216.0 35.0,216.6 37.3,216.1 39.6,215.7 41.9,215.6 44.2,215.7 46.5,215.3 48.8,215.6 51.0,214.8 53.3,214.9 55.6,214.7 57.9,215.1 60.2,215.1 62.5,214.6 64.8,214.5 67.1,214.8 69.3,213.7 71.7,214.2 73.9,213.6 76.2,213.4 78.5,213.7 80.8,213.0 83.1,212.8 85.4,213.0 87.7,213.2 90.0,213.1 92.3,213.2 94.5,212.5 96.8,212.6 99.1,212.5 101.4,212.6 103.7,212.3 105.9,211.2 108.2,211.1 110.4,210.7 112.7,210.9 115.0,210.5 117.3,210.4 119.5,209.8 121.9,210.3 124.0,209.1 126.4,209.9 128.7,209.4 130.9,209.1 133.2,208.5" fill="none" stroke="#e8e2ff" stroke-width="0.95" stroke-opacity="0.9" stroke-linejoin="round"/>
<polyline points="151.4,212.6 152.2,214.8 153.1,216.9 152.9,219.4 153.9,221.6 154.7,223.8 155.2,226.1 155.7,228.4 156.5,230.6 157.4,232.8 157.5,235.2 156.0,237.5 156.7,240.1 156.2,242.5 155.4,244.9 153.1,245.0 150.8,244.5 148.6,243.9 146.3,244.3 144.0,244.0 141.8,243.4 139.5,242.7 137.2,242.9 134.9,243.8 132.3,243.2 130.0,244.4 127.5,244.0 125.1,244.9 122.8,245.9 120.3,245.7 117.9,246.3 115.5,247.0 113.3,248.1 111.0,248.9 108.7,248.6 106.4,249.0 104.3,250.2 102.0,249.8 99.8,250.2 97.5,250.4 95.3,250.5 93.0,250.7 90.8,250.9 88.5,251.3 86.3,251.9 84.0,251.8 81.7,252.2 79.4,251.8 77.2,253.0 74.9,253.1 72.6,253.0 70.3,253.6 68.2,254.8 65.9,255.2 63.5,255.4 61.2,255.8 59.2,257.1 57.0,258.2 54.7,258.4 52.4,259.0" fill="none" stroke="#e8e2ff" stroke-width="0.95" stroke-opacity="0.9" stroke-linejoin="round"/>
<polyline points="24.1,220.6 25.7,222.4 26.3,224.7 27.0,227.0 29.0,228.5 29.4,230.9 31.2,232.5 32.1,234.7 32.7,237.0 34.2,238.8 35.9,240.3 37.1,242.3 39.1,243.5 40.0,245.8 41.8,247.2 43.7,248.5 45.1,250.3 46.4,252.2 47.6,254.2 49.3,255.7 50.5,257.7 52.4,259.0 53.5,261.2 53.8,263.7 54.9,265.9 54.7,268.5 55.5,270.9 56.4,273.1 57.5,275.5 59.9,276.8 60.6,279.5 62.5,281.2 61.2,283.3 59.6,285.0 58.1,286.9 56.4,288.5 54.4,290.0 53.2,292.1 51.4,293.7 49.7,295.4 48.4,297.4" fill="none" stroke="#e8e2ff" stroke-width="0.95" stroke-opacity="0.9" stroke-linejoin="round"/>
<polyline points="62.5,281.2 64.7,280.6 66.9,280.3 69.2,280.7 71.5,280.4 73.7,280.3 75.9,279.7 78.2,279.6 80.5,279.9 82.7,279.2 85.0,279.4 87.2,278.5 89.4,278.3 91.6,277.8 93.9,278.4 96.1,277.3 98.4,277.9 100.7,278.0 102.9,277.2 105.2,275.9 106.8,273.8 109.2,272.6 110.7,270.4 113.0,269.1 115.2,268.2 116.8,266.4 119.2,265.7 120.8,263.8 123.1,263.1 125.4,262.3 127.0,260.3 128.9,259.0 131.1,258.1 133.2,257.0 135.2,255.5 137.5,254.7 140.0,254.5 142.4,253.9 144.6,253.0 146.8,251.9 148.9,250.6 151.3,250.1 153.4,248.9 156.1,248.5 158.8,247.9 161.5,246.9" fill="none" stroke="#e8e2ff" stroke-width="0.95" stroke-opacity="0.9" stroke-linejoin="round"/>
<polyline points="102.9,277.2 104.3,279.0 105.3,281.1 105.7,283.3 107.3,285.1 107.5,287.5 108.6,289.5 109.7,291.5 111.0,293.3 111.6,295.5 113.0,297.4 115.2,298.8 117.0,300.7 119.1,302.1 121.1,303.8 123.1,305.5" fill="none" stroke="#e8e2ff" stroke-width="0.95" stroke-opacity="0.9" stroke-linejoin="round"/>
<rect x="21.0" y="165.3" width="143.8" height="143.5" fill="none" stroke="#1a2a90" stroke-width="5" filter="url(#vblur)"/>
</g>
<rect x="20.60" y="165.60" width="69.00" height="14.90" fill="#fff"/>
<text x="22.30" y="177.40" font-size="14.60" text-anchor="start" fill="#111" textLength="64.80" lengthAdjust="spacingAndGlyphs">c) LC+LTT</text>
<rect x="20.90" y="294.00" width="33.90" height="15.10" fill="#fff"/>
<text x="22.40" y="303.70" font-size="11.00" text-anchor="start" fill="#111" textLength="29.60" lengthAdjust="spacingAndGlyphs">10 μm</text>
<rect x="28.30" y="306.70" width="18.60" height="1.40" fill="#111"/>
<rect x="183.5" y="162.0" width="150.5" height="150.8" fill="#f06a50" filter="url(#glow)"/>
<rect x="184.7" y="163.2" width="148.1" height="148.4" fill="#f06a50"/>
<clipPath id="clipd"><rect x="187.5" y="165.5" width="142.7" height="143.1"/></clipPath>
<g clip-path="url(#clipd)">
<rect x="187.50" y="165.50" width="142.70" height="143.10" fill="#3a52de"/>
<clipPath id="vcd0"><polygon points="187.5,165.5 245.0,165.5 245.0,210.2 225.0,224.8 187.5,219.0"/></clipPath>
<g clip-path="url(#vcd0)"><g transform="rotate(-30 215.0 190.0)"><rect x="110.0" y="85.0" width="210" height="210" filter="url(#nfd0)"/><rect x="110.0" y="85.0" width="210" height="210" fill="#8a2060" opacity="0.9" filter="url(#spkd0)"/><rect x="110.0" y="85.0" width="210" height="210" fill="#4a2a8a" opacity="0.9" filter="url(#spkd1)"/><rect x="110.0" y="85.0" width="210" height="210" fill="#f0e8ff" opacity="0.85" filter="url(#spkd2)"/></g></g>
<clipPath id="vcd1"><polygon points="245.0,165.5 307.0,165.5 284.8,224.7 245.0,210.2"/></clipPath>
<g clip-path="url(#vcd1)"><g transform="rotate(30 275.0 190.0)"><rect x="170.0" y="85.0" width="210" height="210" filter="url(#nfd1)"/><rect x="170.0" y="85.0" width="210" height="210" fill="#8a2060" opacity="0.9" filter="url(#spkd0)"/><rect x="170.0" y="85.0" width="210" height="210" fill="#4a2a8a" opacity="0.9" filter="url(#spkd1)"/><rect x="170.0" y="85.0" width="210" height="210" fill="#f0e8ff" opacity="0.85" filter="url(#spkd2)"/></g></g>
<clipPath id="vcd2"><polygon points="307.0,165.5 330.2,165.5 330.2,241.3 294.1,238.7 284.8,224.7"/></clipPath>
<g clip-path="url(#vcd2)"><g transform="rotate(70 315.0 205.0)"><rect x="210.0" y="100.0" width="210" height="210" filter="url(#nfd2)"/><rect x="210.0" y="100.0" width="210" height="210" fill="#8a2060" opacity="0.9" filter="url(#spkd0)"/><rect x="210.0" y="100.0" width="210" height="210" fill="#4a2a8a" opacity="0.9" filter="url(#spkd1)"/><rect x="210.0" y="100.0" width="210" height="210" fill="#f0e8ff" opacity="0.85" filter="url(#spkd2)"/></g></g>
<clipPath id="vcd3"><polygon points="234.5,272.3 225.0,224.8 245.0,210.2 284.8,224.7 294.1,238.7 278.2,267.9"/></clipPath>
<g clip-path="url(#vcd3)"><g transform="rotate(-35 255.0 245.0)"><rect x="150.0" y="140.0" width="210" height="210" filter="url(#nfd0)"/><rect x="150.0" y="140.0" width="210" height="210" fill="#8a2060" opacity="0.9" filter="url(#spkd0)"/><rect x="150.0" y="140.0" width="210" height="210" fill="#4a2a8a" opacity="0.9" filter="url(#spkd1)"/><rect x="150.0" y="140.0" width="210" height="210" fill="#f0e8ff" opacity="0.85" filter="url(#spkd2)"/></g></g>
<clipPath id="vcd4"><polygon points="187.5,273.1 187.5,219.0 225.0,224.8 234.5,272.3 230.0,278.4"/></clipPath>
<g clip-path="url(#vcd4)"><g transform="rotate(-60 205.0 255.0)"><rect x="100.0" y="150.0" width="210" height="210" filter="url(#nfd1)"/><rect x="100.0" y="150.0" width="210" height="210" fill="#8a2060" opacity="0.9" filter="url(#spkd0)"/><rect x="100.0" y="150.0" width="210" height="210" fill="#4a2a8a" opacity="0.9" filter="url(#spkd1)"/><rect x="100.0" y="150.0" width="210" height="210" fill="#f0e8ff" opacity="0.85" filter="url(#spkd2)"/></g></g>
<clipPath id="vcd5"><polygon points="330.2,241.3 330.2,308.6 294.4,308.6 278.2,267.9 294.1,238.7"/></clipPath>
<g clip-path="url(#vcd5)"><g transform="rotate(45 310.0 275.0)"><rect x="205.0" y="170.0" width="210" height="210" filter="url(#nfd2)"/><rect x="205.0" y="170.0" width="210" height="210" fill="#8a2060" opacity="0.9" filter="url(#spkd0)"/><rect x="205.0" y="170.0" width="210" height="210" fill="#4a2a8a" opacity="0.9" filter="url(#spkd1)"/><rect x="205.0" y="170.0" width="210" height="210" fill="#f0e8ff" opacity="0.85" filter="url(#spkd2)"/></g></g>
<clipPath id="vcd6"><polygon points="294.4,308.6 230.0,308.6 230.0,278.4 234.5,272.3 278.2,267.9"/></clipPath>
<g clip-path="url(#vcd6)"><g transform="rotate(-40 260.0 295.0)"><rect x="155.0" y="190.0" width="210" height="210" filter="url(#nfd0)"/><rect x="155.0" y="190.0" width="210" height="210" fill="#8a2060" opacity="0.9" filter="url(#spkd0)"/><rect x="155.0" y="190.0" width="210" height="210" fill="#4a2a8a" opacity="0.9" filter="url(#spkd1)"/><rect x="155.0" y="190.0" width="210" height="210" fill="#f0e8ff" opacity="0.85" filter="url(#spkd2)"/></g></g>
<clipPath id="vcd7"><polygon points="230.0,308.6 187.5,308.6 187.5,273.1 230.0,278.4"/></clipPath>
<g clip-path="url(#vcd7)"><g transform="rotate(20 200.0 295.0)"><rect x="95.0" y="190.0" width="210" height="210" filter="url(#nfd1)"/><rect x="95.0" y="190.0" width="210" height="210" fill="#8a2060" opacity="0.9" filter="url(#spkd0)"/><rect x="95.0" y="190.0" width="210" height="210" fill="#4a2a8a" opacity="0.9" filter="url(#spkd1)"/><rect x="95.0" y="190.0" width="210" height="210" fill="#f0e8ff" opacity="0.85" filter="url(#spkd2)"/></g></g>

<polyline points="190.1,210.5 192.4,209.4 194.8,208.5 197.4,208.0 199.7,206.9 202.2,206.5 204.0,207.9 206.0,209.0 207.4,210.8 209.1,212.3 211.0,213.6 212.4,215.4 214.4,216.6 216.5,215.1 219.3,215.1 221.4,213.5 223.6,212.2 226.1,211.4 228.5,210.5 230.8,209.6 232.9,208.2 235.5,208.2 237.8,207.2 240.1,206.3 242.4,205.5 244.7,204.5 246.6,202.7 247.7,200.4 249.2,198.5 250.7,196.4 250.2,193.8 249.1,191.5 247.3,189.5 246.2,187.2 246.1,184.4 244.7,182.3 243.6,180.2 241.7,178.5 240.7,176.4 239.6,174.3 238.6,172.2" fill="none" stroke="#e8e2ff" stroke-width="0.95" stroke-opacity="0.9" stroke-linejoin="round"/>
<polyline points="214.4,216.6 215.1,218.7 216.7,220.5 217.8,222.4 218.5,224.6 219.1,226.8 220.6,228.6 221.0,230.9 222.3,232.8 223.4,234.8 224.5,236.8 224.7,239.0 225.0,241.2 225.4,243.4 225.4,245.6 225.9,247.8 226.5,249.9 227.4,252.0 227.5,254.2 227.9,256.4 227.4,258.7 227.6,260.9 228.5,263.0 229.1,265.3 229.2,267.7 230.5,269.8 230.1,272.2 231.5,274.3 231.1,276.8 231.9,279.0 232.5,281.2 230.7,283.0 229.4,285.1 228.3,287.3 227.2,289.6 225.6,291.5 223.5,293.1 222.4,295.4" fill="none" stroke="#e8e2ff" stroke-width="0.95" stroke-opacity="0.9" stroke-linejoin="round"/>
<polyline points="228.5,210.5 230.7,211.3 233.2,210.7 235.4,211.7 237.7,211.7 240.0,212.5 242.3,212.3 244.7,212.6 246.9,212.9 249.2,213.0 251.4,213.8 253.5,214.9 255.8,215.4 258.2,215.0 260.3,216.1 262.7,215.8 264.9,216.6 267.1,217.2 269.4,217.5 271.7,217.8 274.0,218.5 276.2,219.4 278.4,219.8 280.8,219.9 283.0,220.6 284.3,218.7 285.8,217.0 288.2,216.1 289.5,214.2 291.1,212.5 292.7,210.9 294.0,209.0 295.7,207.5 298.0,206.5 299.2,204.5 299.5,202.0 300.0,199.6 300.9,197.3 300.9,194.8 301.2,192.4 301.7,189.9 302.4,187.6 303.4,185.3 304.2,183.0 305.2,180.7 306.0,178.4 307.3,176.2" fill="none" stroke="#e8e2ff" stroke-width="0.95" stroke-opacity="0.9" stroke-linejoin="round"/>
<polyline points="283.0,220.6 284.0,222.7 285.4,224.5 285.6,226.9 286.9,228.8 288.0,230.8 288.6,233.0 290.5,234.6 291.1,236.8 293.8,237.1 296.5,236.5 299.2,236.8 300.8,235.1 302.7,233.8 304.8,232.8 306.8,231.6 308.4,229.9 310.0,228.1 311.6,226.5 313.6,225.3 315.3,223.8 317.4,222.7 319.4,221.4 321.4,220.2 323.2,218.6 325.3,217.5 327.5,216.6" fill="none" stroke="#e8e2ff" stroke-width="0.95" stroke-opacity="0.9" stroke-linejoin="round"/>
<polyline points="299.2,236.8 299.5,239.0 298.7,241.2 298.8,243.4 298.0,245.6 298.1,247.8 298.1,250.0 297.4,252.2 298.0,254.4 297.1,256.6 297.4,258.8 297.2,261.0 295.5,262.9 293.7,264.7 292.3,266.9 291.1,269.1 289.0,270.0 286.9,270.8 285.3,272.6 283.1,273.2 280.8,273.8 278.9,274.9 277.0,276.2 275.0,277.2 273.5,279.1 271.7,280.7 270.0,282.3 268.5,284.2 266.2,285.2 264.9,287.3 263.3,289.2 261.9,291.3 260.8,293.6 259.3,295.5 257.7,297.4 256.5,299.7 254.8,301.4" fill="none" stroke="#e8e2ff" stroke-width="0.95" stroke-opacity="0.9" stroke-linejoin="round"/>
<polyline points="228.5,263.0 230.5,261.4 232.6,259.9 234.4,258.0 236.9,257.0 238.6,255.0 240.7,254.3 242.8,253.4 244.6,252.1 246.8,251.6 248.8,250.6 250.8,249.5 252.5,248.0 254.7,247.5 257.0,247.1 258.8,245.7 260.8,244.6 262.9,243.9 264.9,242.9 267.0,242.0 269.3,241.8 271.6,241.8 273.8,241.0 276.0,240.5 278.4,240.7 280.6,239.7 282.8,239.2 285.0,238.8 287.9,237.3 291.1,236.8" fill="none" stroke="#e8e2ff" stroke-width="0.95" stroke-opacity="0.9" stroke-linejoin="round"/>
<polyline points="228.5,273.1 230.2,271.5 232.3,270.4 234.5,269.6 236.3,268.1 238.8,267.8 240.3,265.7 242.6,265.1 244.7,264.0 246.6,262.7 248.9,262.1 250.5,260.3 252.6,259.4 254.7,258.3 256.6,257.1 258.5,255.7 260.8,255.1 262.6,253.6 264.9,253.0 266.9,251.9 268.6,250.3 270.8,249.4 272.9,248.4 275.2,247.8 276.7,245.8 278.8,244.7 281.2,244.3 283.0,242.9" fill="none" stroke="#e8e2ff" stroke-width="0.95" stroke-opacity="0.9" stroke-linejoin="round"/>
<polyline points="297.2,261.0 298.8,263.1 301.2,264.3 303.5,265.6 304.9,267.9 307.3,269.1 309.3,270.4 311.1,272.1 313.6,272.7 315.6,274.2 317.1,276.3 319.4,277.2 321.2,278.5 323.7,278.7 325.5,280.2 327.5,281.2" fill="none" stroke="#e8e2ff" stroke-width="0.95" stroke-opacity="0.9" stroke-linejoin="round"/>
<polyline points="275.0,277.2 275.1,274.8 274.0,272.6 274.5,270.2 273.6,268.0 273.8,265.6 273.0,263.4 272.9,261.0 272.0,259.0 271.0,256.9 269.4,255.2 269.1,252.8 267.5,251.1 266.9,248.9" fill="none" stroke="#e8e2ff" stroke-width="0.95" stroke-opacity="0.9" stroke-linejoin="round"/>
<polyline points="198.2,273.1 199.4,275.2 200.6,277.2 202.0,279.2 203.1,281.3 204.5,283.2 205.8,285.2 207.4,287.1 208.3,289.3 210.6,290.6 212.2,292.7 214.7,293.8 216.2,295.9 218.4,297.4" fill="none" stroke="#e8e2ff" stroke-width="0.95" stroke-opacity="0.9" stroke-linejoin="round"/>
<polyline points="299.2,204.5 301.4,203.7 303.7,204.2 305.9,203.9 308.1,203.1 310.4,202.8 312.7,203.7 314.9,202.8 317.1,202.4 319.4,202.5 321.5,201.1 323.7,199.8 325.3,197.7 327.5,196.4" fill="none" stroke="#e8e2ff" stroke-width="0.95" stroke-opacity="0.9" stroke-linejoin="round"/>
<polyline points="198.2,186.3 200.5,186.6 202.7,185.5 205.0,185.6 207.2,184.9 209.5,184.5 211.8,184.4 214.1,184.7 216.4,184.3 218.8,184.7 221.0,185.8 223.4,186.5 225.8,187.0 228.3,187.1 230.5,188.3 232.7,186.9 235.1,186.1 237.5,185.1 240.1,184.7 242.4,183.5 244.7,182.3" fill="none" stroke="#e8e2ff" stroke-width="0.95" stroke-opacity="0.9" stroke-linejoin="round"/>
<polyline points="216.4,184.3 216.1,186.6 215.7,188.9 216.2,191.2 215.3,193.5 215.2,195.8 215.0,198.1 215.4,200.4 215.1,202.7 215.3,205.1 214.6,207.3 215.3,209.7 214.6,212.0 214.9,214.3 214.4,216.6" fill="none" stroke="#e8e2ff" stroke-width="0.95" stroke-opacity="0.9" stroke-linejoin="round"/>
<polyline points="228.5,277.2 230.5,276.2 232.4,274.9 234.7,274.4 236.7,273.5 238.7,272.3 240.4,270.6 242.5,269.8 244.7,269.1 246.6,267.8 249.0,267.4 250.8,266.0 252.7,264.7 254.9,263.8 256.5,262.1 258.9,261.6 260.9,260.5 262.7,258.9 264.8,257.9 266.9,257.0 268.8,255.8 271.2,255.2 272.9,253.5 274.7,252.0 277.2,251.7 279.2,250.6 280.9,249.0 283.2,248.2 285.0,246.9" fill="none" stroke="#e8e2ff" stroke-width="0.95" stroke-opacity="0.9" stroke-linejoin="round"/>
<polyline points="291.1,269.1 292.6,271.0 293.5,273.3 295.6,274.9 296.7,277.0 298.0,279.1 298.8,281.5 300.7,283.1 301.8,285.3 303.2,287.3 304.5,289.4 305.3,291.8 305.6,294.3 306.6,296.5 307.3,298.9 308.5,301.1 309.3,303.4" fill="none" stroke="#e8e2ff" stroke-width="0.95" stroke-opacity="0.9" stroke-linejoin="round"/>
<polyline points="198.2,240.8 200.8,241.7 203.3,242.7 205.6,244.3 208.3,244.9 210.9,244.8 213.3,243.6 216.0,243.8 218.4,242.9" fill="none" stroke="#e8e2ff" stroke-width="0.95" stroke-opacity="0.9" stroke-linejoin="round"/>
<polyline points="309.3,240.8 310.7,242.6 312.2,244.3 313.4,246.2 314.8,248.0 316.6,249.4 317.9,251.3 319.4,253.0 322.1,252.4 324.8,251.8 327.5,250.9" fill="none" stroke="#e8e2ff" stroke-width="0.95" stroke-opacity="0.9" stroke-linejoin="round"/>
<rect x="187.5" y="165.5" width="142.7" height="143.1" fill="none" stroke="#3a0820" stroke-width="6" filter="url(#vblur)"/>
</g>
<rect x="186.80" y="165.90" width="86.10" height="14.90" fill="#fff"/>
<text x="187.70" y="177.60" font-size="14.60" text-anchor="start" fill="#111" textLength="82.40" lengthAdjust="spacingAndGlyphs">d) LC+B+LTT</text>
<rect x="187.10" y="295.00" width="33.90" height="15.10" fill="#fff"/>
<text x="188.60" y="304.70" font-size="11.00" text-anchor="start" fill="#111" textLength="29.60" lengthAdjust="spacingAndGlyphs">10 μm</text>
<rect x="194.50" y="307.70" width="18.60" height="1.40" fill="#111"/>
<rect x="342.3" y="8.6" width="5.6" height="334.2" fill="url(#parula)" stroke="#b0a060" stroke-width="0.3"/>
<line x1="344.50" y1="342.80" x2="347.90" y2="342.80" stroke="#333" stroke-width="0.4"/>
<text x="351.30" y="345.80" font-size="7.60" text-anchor="start" fill="#444">0</text>
<line x1="344.50" y1="309.38" x2="347.90" y2="309.38" stroke="#333" stroke-width="0.4"/>
<text x="351.30" y="312.38" font-size="7.60" text-anchor="start" fill="#444">1</text>
<line x1="344.50" y1="275.96" x2="347.90" y2="275.96" stroke="#333" stroke-width="0.4"/>
<text x="351.30" y="278.96" font-size="7.60" text-anchor="start" fill="#444">2</text>
<line x1="344.50" y1="242.54" x2="347.90" y2="242.54" stroke="#333" stroke-width="0.4"/>
<text x="351.30" y="245.54" font-size="7.60" text-anchor="start" fill="#444">3</text>
<line x1="344.50" y1="209.12" x2="347.90" y2="209.12" stroke="#333" stroke-width="0.4"/>
<text x="351.30" y="212.12" font-size="7.60" text-anchor="start" fill="#444">4</text>
<line x1="344.50" y1="175.70" x2="347.90" y2="175.70" stroke="#333" stroke-width="0.4"/>
<text x="351.30" y="178.70" font-size="7.60" text-anchor="start" fill="#444">5</text>
<line x1="344.50" y1="142.28" x2="347.90" y2="142.28" stroke="#333" stroke-width="0.4"/>
<text x="351.30" y="145.28" font-size="7.60" text-anchor="start" fill="#444">6</text>
<line x1="344.50" y1="108.86" x2="347.90" y2="108.86" stroke="#333" stroke-width="0.4"/>
<text x="351.30" y="111.86" font-size="7.60" text-anchor="start" fill="#444">7</text>
<line x1="344.50" y1="75.44" x2="347.90" y2="75.44" stroke="#333" stroke-width="0.4"/>
<text x="351.30" y="78.44" font-size="7.60" text-anchor="start" fill="#444">8</text>
<line x1="344.50" y1="42.02" x2="347.90" y2="42.02" stroke="#333" stroke-width="0.4"/>
<text x="351.30" y="45.02" font-size="7.60" text-anchor="start" fill="#444">9</text>
<line x1="344.50" y1="8.60" x2="347.90" y2="8.60" stroke="#333" stroke-width="0.4"/>
<text x="351.30" y="11.60" font-size="7.60" text-anchor="start" fill="#444">10</text>
<text x="365.30" y="168.00" font-size="13.00" text-anchor="middle" fill="#111" textLength="140.00" lengthAdjust="spacingAndGlyphs" transform="rotate(90 365.30 168.00)">Misorientation angle (deg)</text>
<rect x="31.2" y="326.4" width="24.6" height="4.4" rx="1.6" fill="#d8d8d8" stroke="#b8b8b8" stroke-width="0.6"/>
<text x="58.00" y="332.40" font-size="11.30" text-anchor="start" fill="#222" textLength="126.40" lengthAdjust="spacingAndGlyphs">:Prior austenite boundary</text>
<rect x="31.20" y="341.50" width="24.60" height="4.00" fill="#000"/>
<text x="58.00" y="346.90" font-size="11.30" text-anchor="start" fill="#222" textLength="106.00" lengthAdjust="spacingAndGlyphs">:Martensite boundary</text>
<rect x="198.50" y="327.60" width="23.20" height="4.00" fill="#ee1111"/>
<text x="225.00" y="332.40" font-size="11.30" text-anchor="start" fill="#222" textLength="57.00" lengthAdjust="spacingAndGlyphs">: Sub-grain</text>
<text x="226.00" y="346.90" font-size="11.30" text-anchor="start" fill="#222" textLength="50.00" lengthAdjust="spacingAndGlyphs">boundary</text>
</g>
<g id="panel_g">
<text x="1.8" y="567.6" font-size="14" fill="#111" textLength="322.2" lengthAdjust="spacingAndGlyphs">g) TKD:&#160; Misorientation angle/axis 51.7˚/ [<tspan text-decoration="overline">7</tspan> 4 <tspan text-decoration="overline">7</tspan>])</text>
<polygon points="6.7,578.0 44.7,583.5 78.3,588.0 107.3,592.5 134.2,597.6 141.5,599.6 146.0,601.8 148.8,604.6 150.0,608.1 150.0,608.1 149.0,611.8 146.5,614.5 142.0,616.8 134.2,619.3 111.8,624.9 85.0,629.4 44.7,635.0 6.7,638.3" fill="#8e1212" filter="url(#gblur)" stroke="#8e1212" stroke-width="3.2" stroke-linejoin="round"/>
<polygon points="6.7,578.0 44.7,583.5 78.3,588.0 107.3,592.5 134.2,597.6 141.5,599.6 146.0,601.8 148.8,604.6 150.0,608.1 150.0,608.1 149.0,611.8 146.5,614.5 142.0,616.8 134.2,619.3 111.8,624.9 85.0,629.4 44.7,635.0 6.7,638.3" fill="#ff0a0a" stroke="#9a1414" stroke-width="1.6" stroke-linejoin="round"/>
<clipPath id="g1c"><polygon points="6.7,578.0 44.7,583.5 78.3,588.0 107.3,592.5 134.2,597.6 141.5,599.6 146.0,601.8 148.8,604.6 150.0,608.1 150.0,608.1 149.0,611.8 146.5,614.5 142.0,616.8 134.2,619.3 111.8,624.9 85.0,629.4 44.7,635.0 6.7,638.3"/></clipPath>
<g clip-path="url(#g1c)">
<polygon points="106.2,592.5 105.1,594.7 103.3,595.8 103.3,598.1 101.7,599.2 101.7,602.5 100.2,603.7 100.6,608.6 98.8,609.9 98.4,614.8 95.0,615.3 93.9,616.6 91.7,617.1 90.6,619.3 89.0,619.8 88.3,622.7 86.8,624.9 86.1,627.1 85.0,629.6 111.8,624.9 134.2,619.3 145.5,614.8 148.8,612.0 149.9,608.1 148.6,604.5 143.5,601.5 134.2,598.0" fill="#5a4ef2"/>
<circle cx="101.8" cy="601.2" r="1.8" fill="#f060d8"/>
<circle cx="20.5" cy="581.5" r="1.4" fill="#f080e0"/>
<ellipse cx="12.5" cy="634.5" rx="3" ry="2.2" fill="#6a50f0"/>
</g>
<polygon points="6.7,578.0 44.7,583.5 78.3,588.0 107.3,592.5 134.2,597.6 141.5,599.6 146.0,601.8 148.8,604.6 150.0,608.1 150.0,608.1 149.0,611.8 146.5,614.5 142.0,616.8 134.2,619.3 111.8,624.9 85.0,629.4 44.7,635.0 6.7,638.3" fill="none" stroke="#8a0e0e" stroke-width="1.4" stroke-linejoin="round" stroke-opacity="0.9"/>
<text x="111.80" y="589.60" font-size="14.20" text-anchor="start" fill="#8a1a1a" textLength="32.40" lengthAdjust="spacingAndGlyphs">LC+B</text>
<rect x="115.8" y="629.4" width="31.8" height="13.4" fill="#fff" stroke="#444" stroke-width="0.8"/>
<text x="117.50" y="639.30" font-size="11.00" text-anchor="start" fill="#111" textLength="28.00" lengthAdjust="spacingAndGlyphs">40 nm</text>
<rect x="120.60" y="640.60" width="17.00" height="1.30" fill="#111"/>
<polygon points="171.5,588.3 242.0,597.8 296.7,603.3 324.0,606.9 329.5,607.6 333.0,608.8 335.3,610.8 336.5,613.4 336.5,614.8 335.3,617.4 333.0,619.0 329.5,619.8 324.0,620.0 296.7,621.0 266.6,623.6 214.7,627.9 171.5,630.6" fill="#f5a090" filter="url(#gblur2)" stroke="#f3907a" stroke-width="4" stroke-linejoin="round"/>
<polygon points="171.5,588.3 242.0,597.8 296.7,603.3 324.0,606.9 329.5,607.6 333.0,608.8 335.3,610.8 336.5,613.4 336.5,614.8 335.3,617.4 333.0,619.0 329.5,619.8 324.0,620.0 296.7,621.0 266.6,623.6 214.7,627.9 171.5,630.6" fill="#ff1010"/>
<clipPath id="g2c"><polygon points="171.5,588.3 242.0,597.8 296.7,603.3 324.0,606.9 329.5,607.6 333.0,608.8 335.3,610.8 336.5,613.4 336.5,614.8 335.3,617.4 333.0,619.0 329.5,619.8 324.0,620.0 296.7,621.0 266.6,623.6 214.7,627.9 171.5,630.6"/></clipPath>
<g clip-path="url(#g2c)">
<polygon points="239.3,596.0 243.0,601.0 250.2,608.8 258.0,613.0 263.9,615.6 266.6,619.0 267.0,624.5 296.7,621.0 340.0,620.0 340.0,600.0 296.7,600.0" fill="#4b55f5"/>
<polygon points="177.0,590.0 186.0,590.0 188.0,596.0 184.0,600.5 177.0,601.0" fill="#4a48f0"/>
<circle cx="177.5" cy="601.5" r="2.6" fill="#ee70e8"/>
<circle cx="182.5" cy="591.5" r="1.8" fill="#f070e0"/>
<polygon points="239.5,599.0 242.0,597.0 245.0,598.5 245.0,602.5 242.0,604.0 239.5,602.5" fill="#6a70f8"/>
<polygon points="266.5,599.5 269.0,598.0 272.0,599.5 272.0,603.5 269.0,605.0 266.5,603.5" fill="#f080e8"/>
</g>
<polygon points="171.5,588.3 242.0,597.8 296.7,603.3 324.0,606.9 329.5,607.6 333.0,608.8 335.3,610.8 336.5,613.4 336.5,614.8 335.3,617.4 333.0,619.0 329.5,619.8 324.0,620.0 296.7,621.0 266.6,623.6 214.7,627.9 171.5,630.6" fill="none" stroke="#f08a76" stroke-width="1.2" stroke-linejoin="round"/>
<text x="266.60" y="589.20" font-size="14.20" text-anchor="start" fill="#e2684f" textLength="65.60" lengthAdjust="spacingAndGlyphs">LC+B+LTT</text>
<rect x="273.4" y="629.8" width="32.8" height="13.9" fill="#fff" stroke="#444" stroke-width="0.8"/>
<text x="275.00" y="640.00" font-size="11.00" text-anchor="start" fill="#111" textLength="28.50" lengthAdjust="spacingAndGlyphs">40 nm</text>
<rect x="278.60" y="641.40" width="17.00" height="1.30" fill="#111"/>
<path d="M325.3 635.3 L365.0 635.3 Q364.2 619 358.7 603.3 Z" fill="#000"/>
<path d="M325.3 635.3 L365.0 635.3 Q364.2 619 358.7 603.3 Z" fill="url(#ipfR)" style="mix-blend-mode:screen"/>
<path d="M325.3 635.3 L365.0 635.3 Q364.2 619 358.7 603.3 Z" fill="url(#ipfG)" style="mix-blend-mode:screen"/>
<path d="M325.3 635.3 L365.0 635.3 Q364.2 619 358.7 603.3 Z" fill="url(#ipfB)" style="mix-blend-mode:screen"/>
<text x="315.50" y="642.60" font-size="8.00" text-anchor="start" fill="#222" textLength="20.00" lengthAdjust="spacingAndGlyphs">[001]</text>
<text x="355.00" y="642.60" font-size="8.00" text-anchor="start" fill="#222" textLength="20.00" lengthAdjust="spacingAndGlyphs">[011]</text>
<text x="348.8" y="600.6" font-size="8" fill="#222" textLength="19.5" lengthAdjust="spacingAndGlyphs">[<tspan text-decoration="overline">1</tspan>11]</text>
</g>
<g id="panel_h">
<text x="2.00" y="673.60" font-size="14.00" text-anchor="start" fill="#111" textLength="349.30" lengthAdjust="spacingAndGlyphs">h) APT: Carbon segregation at martensite boundaries</text>
<path d="M54.9 695.6h.1M98.5 720.5h.1M88.5 726.3h.1M22.7 728.0h.1M30.5 715.1h.1M91.3 713.2h.1M143.1 714.3h.1M82.2 722.5h.1M24.5 721.6h.1M23.3 707.9h.1M94.5 714.3h.1M75.1 714.8h.1M76.9 726.8h.1M29.7 718.2h.1M116.6 704.1h.1M82.5 707.4h.1M37.9 722.9h.1M77.0 724.6h.1M74.7 729.8h.1M11.9 733.0h.1M27.5 695.7h.1M33.4 714.2h.1M88.7 730.8h.1M26.2 712.4h.1M68.8 707.5h.1M87.6 712.3h.1M20.8 736.3h.1M46.5 693.9h.1M66.4 707.0h.1M94.0 726.9h.1M34.9 706.2h.1M44.2 731.7h.1M28.7 717.1h.1M80.4 717.8h.1M114.9 714.2h.1M74.9 713.8h.1M76.1 703.6h.1M125.5 716.3h.1M68.0 708.6h.1M26.0 740.4h.1M61.8 709.6h.1M142.6 718.6h.1M21.8 706.6h.1M62.5 706.4h.1M146.5 715.2h.1M24.4 695.8h.1M21.0 731.7h.1M84.0 712.1h.1M64.0 699.8h.1M60.4 709.8h.1M122.2 729.5h.1M136.3 714.9h.1M14.7 688.9h.1M60.5 706.2h.1M111.4 721.3h.1M60.3 732.0h.1M31.7 711.5h.1M97.0 725.8h.1M81.0 700.3h.1M14.6 703.8h.1M72.7 701.9h.1M137.0 711.4h.1M51.8 735.2h.1M147.5 714.8h.1M95.2 723.6h.1M14.7 719.3h.1M80.5 697.2h.1M80.6 724.8h.1M113.1 731.8h.1M101.7 732.2h.1M32.9 732.2h.1M73.3 717.0h.1M41.6 722.4h.1M68.3 707.9h.1M27.7 700.0h.1M66.0 702.1h.1M44.2 739.0h.1M52.9 704.2h.1M46.0 724.1h.1M76.0 717.5h.1M13.3 694.9h.1M107.9 729.4h.1M37.2 742.0h.1M38.1 693.4h.1M129.9 722.6h.1M89.3 728.1h.1M120.9 727.1h.1M114.8 711.3h.1M93.3 726.7h.1M45.7 742.0h.1M47.8 693.2h.1M70.4 701.9h.1M136.0 705.8h.1M64.1 715.2h.1M85.8 728.3h.1M112.5 722.3h.1M44.8 708.9h.1M74.6 696.4h.1M77.0 711.6h.1M127.0 723.4h.1M19.1 703.8h.1M95.5 726.6h.1M36.9 726.9h.1M114.3 712.2h.1M126.4 714.2h.1M43.9 696.4h.1M62.2 711.1h.1M34.6 707.7h.1M87.7 710.3h.1M96.5 723.1h.1M11.8 719.6h.1M79.6 717.0h.1M76.5 710.7h.1M98.0 711.5h.1M73.0 729.8h.1M13.4 690.4h.1M75.7 696.5h.1M89.4 703.8h.1M123.6 703.2h.1M92.3 734.0h.1M48.8 721.9h.1M78.1 735.7h.1M131.5 723.8h.1M54.2 700.4h.1M17.3 718.8h.1M16.8 695.3h.1M51.4 721.0h.1M71.6 733.5h.1M75.4 739.6h.1M31.2 735.0h.1M54.7 700.4h.1M88.5 735.1h.1M50.0 738.6h.1M91.7 698.6h.1M107.3 716.9h.1M14.1 727.4h.1M59.5 740.7h.1M32.8 704.9h.1M83.2 727.4h.1M107.5 721.3h.1M54.5 710.0h.1M44.3 711.3h.1M60.7 717.5h.1M55.0 698.5h.1M98.9 733.6h.1M139.3 722.9h.1M97.2 701.4h.1M64.0 712.3h.1M67.2 718.6h.1M107.2 730.0h.1M33.2 705.3h.1M126.3 716.5h.1M17.5 719.5h.1M31.2 730.7h.1M125.9 722.3h.1M33.0 702.3h.1M12.1 737.0h.1M26.7 730.2h.1M53.1 709.4h.1M54.5 725.1h.1M36.3 728.4h.1M104.1 720.1h.1M86.2 701.3h.1M32.8 706.9h.1M24.6 704.7h.1M50.0 719.1h.1M69.4 703.2h.1M111.9 708.8h.1M97.0 733.7h.1M131.9 717.5h.1M34.5 738.3h.1M40.3 735.2h.1M41.2 713.3h.1M89.5 736.0h.1M80.4 716.2h.1M36.1 714.3h.1M28.3 731.7h.1M28.2 739.3h.1M114.8 706.6h.1M86.9 733.2h.1M133.0 722.1h.1M135.9 720.9h.1M118.9 723.4h.1M19.3 697.9h.1M118.9 711.6h.1M48.1 701.8h.1M27.2 689.7h.1M47.4 724.0h.1M39.1 705.8h.1M33.7 736.7h.1M38.8 717.5h.1M12.9 694.6h.1M74.3 705.6h.1M24.2 729.2h.1M24.8 743.1h.1M13.6 700.4h.1M90.6 727.2h.1M15.8 738.5h.1M98.9 718.4h.1M84.2 735.3h.1M11.1 702.4h.1M46.9 705.7h.1M102.6 734.6h.1M44.8 719.0h.1M79.5 738.9h.1M78.7 716.4h.1M40.3 691.4h.1M81.5 711.1h.1M45.4 698.6h.1M73.8 727.7h.1M70.5 723.8h.1M56.2 710.1h.1M48.7 704.4h.1M91.1 704.2h.1M93.5 713.5h.1M22.3 737.6h.1M30.7 702.5h.1M55.0 701.1h.1M84.9 700.7h.1M30.7 702.1h.1M69.2 722.9h.1M50.4 738.3h.1M93.5 732.1h.1M115.2 721.2h.1M133.6 720.1h.1M126.2 710.3h.1M64.9 713.8h.1M26.1 726.3h.1M17.0 735.1h.1M112.5 730.2h.1M143.6 714.7h.1M29.4 720.8h.1M98.0 700.8h.1M31.9 720.1h.1M37.4 733.5h.1M94.6 734.7h.1M34.0 728.6h.1M27.9 706.4h.1M80.0 738.7h.1M95.9 702.8h.1M52.8 707.7h.1M60.0 727.3h.1M28.6 702.8h.1M80.6 711.4h.1M36.0 722.4h.1M19.8 738.7h.1M51.0 732.3h.1M12.8 733.8h.1M135.2 717.7h.1M117.1 719.8h.1M22.2 743.2h.1M46.3 695.8h.1M129.9 719.0h.1M80.3 722.7h.1M82.7 726.0h.1M127.9 728.3h.1M142.2 710.4h.1M101.0 699.5h.1M110.4 711.8h.1M60.3 695.1h.1M139.7 712.9h.1M72.1 728.9h.1M104.2 702.9h.1M29.3 692.5h.1M61.5 696.5h.1M32.5 730.8h.1M74.3 728.0h.1M138.2 711.5h.1M24.5 741.4h.1M123.5 723.3h.1M77.3 697.3h.1M98.1 733.7h.1M100.4 726.5h.1M34.1 710.7h.1M28.5 700.8h.1M142.8 710.4h.1M70.8 734.2h.1M101.8 716.5h.1M45.5 734.3h.1M33.8 714.7h.1M92.6 698.3h.1M11.6 693.5h.1M32.0 692.2h.1M74.5 698.3h.1M17.9 726.4h.1M108.0 728.2h.1M74.0 718.7h.1M105.9 725.0h.1M117.4 721.9h.1M125.0 724.1h.1M85.5 706.3h.1M105.1 724.5h.1M112.6 707.7h.1M23.2 705.8h.1M113.9 707.2h.1M38.5 718.2h.1M23.3 732.7h.1M31.3 723.7h.1M78.7 730.3h.1M11.4 724.4h.1M132.3 707.8h.1M127.7 711.4h.1M31.9 699.5h.1M29.2 720.9h.1M100.6 713.7h.1M87.7 725.1h.1M25.3 738.7h.1M79.3 707.9h.1M18.4 733.7h.1M31.7 726.7h.1M29.8 700.1h.1M24.1 695.2h.1M14.3 690.1h.1M72.3 714.8h.1M121.7 723.0h.1M72.2 722.8h.1M120.2 718.5h.1M33.8 709.0h.1M80.0 740.1h.1M103.3 722.4h.1M149.4 715.3h.1M106.0 727.1h.1M55.6 706.7h.1M50.5 727.9h.1M68.7 699.0h.1M38.1 716.2h.1M24.6 703.4h.1M53.4 719.7h.1M104.8 709.1h.1M82.0 711.6h.1M32.0 695.7h.1M52.8 719.6h.1M88.5 710.7h.1M28.9 740.3h.1M73.2 715.9h.1M116.1 706.4h.1M70.3 740.6h.1M70.5 725.1h.1M18.7 691.8h.1M15.3 728.2h.1M24.9 705.5h.1M147.9 712.2h.1M102.5 701.9h.1M15.1 703.8h.1M86.2 703.8h.1M109.7 713.2h.1M110.2 707.2h.1M56.0 736.0h.1M26.1 719.9h.1M56.3 700.8h.1M86.8 709.2h.1M144.6 708.2h.1M32.3 739.8h.1M125.7 724.6h.1M53.5 723.5h.1M27.6 708.4h.1M12.1 728.4h.1M51.6 729.3h.1M27.8 704.5h.1M111.6 707.3h.1M46.4 707.0h.1M71.4 716.0h.1M87.2 729.2h.1M17.4 719.9h.1M25.1 699.8h.1M29.2 709.6h.1M56.7 694.3h.1M25.3 729.1h.1M82.7 719.0h.1M138.3 712.3h.1M51.7 728.2h.1M80.5 723.7h.1M87.4 721.8h.1M143.1 710.5h.1M51.4 702.8h.1M124.0 719.1h.1M65.6 696.9h.1M149.9 713.8h.1M20.6 698.8h.1M72.6 699.2h.1M58.0 696.2h.1M15.6 715.8h.1M75.3 719.6h.1M17.1 712.6h.1M77.2 710.7h.1M67.7 735.9h.1M98.5 710.9h.1M37.7 706.3h.1M92.2 720.4h.1M79.9 717.3h.1M78.8 710.2h.1M79.7 711.8h.1M98.2 721.7h.1M138.7 719.6h.1M97.5 714.5h.1M10.9 705.4h.1M47.4 715.3h.1M127.6 726.2h.1M62.9 740.6h.1M78.1 735.2h.1M43.3 727.1h.1M37.6 704.6h.1M31.9 691.1h.1M21.9 725.4h.1M26.8 713.1h.1M68.4 703.7h.1M52.1 722.8h.1M81.5 697.9h.1M62.3 694.0h.1M33.5 701.6h.1M108.1 726.3h.1M79.9 716.4h.1M71.7 717.9h.1M101.9 699.8h.1M84.6 723.8h.1M53.1 706.7h.1M45.1 741.7h.1M79.8 708.0h.1M58.7 715.7h.1M82.5 714.4h.1M81.8 738.1h.1M35.6 728.9h.1M27.5 710.7h.1M70.7 727.1h.1M79.7 720.6h.1M79.3 697.0h.1M61.1 700.7h.1M132.6 725.8h.1M67.0 715.9h.1M18.2 737.2h.1M99.6 706.7h.1M120.8 726.0h.1M45.3 735.8h.1M49.0 702.6h.1M42.2 731.8h.1M34.4 737.3h.1M32.4 708.4h.1M27.2 703.9h.1M66.3 733.1h.1M117.6 717.8h.1M73.8 724.6h.1M57.2 705.4h.1M18.9 737.0h.1M28.6 725.7h.1M126.6 709.9h.1M12.2 702.7h.1M99.3 716.1h.1M61.4 722.2h.1M29.1 732.5h.1M92.7 734.5h.1M53.5 699.6h.1M11.2 689.7h.1M22.4 740.0h.1M84.6 701.6h.1M21.0 743.4h.1M88.6 715.4h.1M9.1 691.0h.1M85.9 702.1h.1M17.1 725.3h.1M95.5 733.6h.1M114.9 707.5h.1M11.5 731.4h.1M24.8 728.8h.1M84.1 723.5h.1M85.8 715.0h.1M63.2 698.7h.1M142.9 713.1h.1M40.0 721.0h.1M12.7 692.3h.1M118.3 718.0h.1M23.9 714.8h.1M64.1 694.6h.1M54.5 710.7h.1M146.1 712.2h.1M145.0 717.7h.1M47.4 715.0h.1M143.5 714.0h.1M40.8 702.3h.1M81.2 722.1h.1M144.4 721.2h.1M52.8 735.0h.1M31.1 731.9h.1M135.2 712.9h.1M42.3 705.6h.1M22.2 705.8h.1M26.0 693.0h.1M42.3 721.2h.1M9.6 694.6h.1M88.8 722.0h.1M118.5 716.7h.1M23.2 697.2h.1M25.2 694.4h.1M19.0 723.3h.1M31.7 708.0h.1M105.6 720.7h.1M25.5 716.7h.1M13.3 727.3h.1M101.6 715.8h.1M63.3 716.9h.1M36.3 735.4h.1M141.9 715.3h.1M18.4 702.6h.1M78.9 709.1h.1M48.2 716.6h.1M22.9 703.7h.1M60.6 702.8h.1M38.9 732.3h.1M59.9 709.3h.1M38.2 717.5h.1M122.4 711.8h.1M66.9 739.2h.1M76.5 740.7h.1M11.9 736.7h.1M126.5 724.5h.1M142.5 709.5h.1M68.6 716.1h.1M12.0 696.4h.1M145.0 715.1h.1M39.3 741.5h.1M39.7 710.3h.1M92.2 713.7h.1M46.1 739.3h.1M60.1 729.2h.1M86.1 707.3h.1M88.3 735.1h.1M24.9 716.9h.1M81.5 738.6h.1M76.8 733.1h.1M26.5 707.5h.1M119.7 716.4h.1M46.1 699.9h.1M82.0 719.1h.1M136.1 707.9h.1M113.4 702.4h.1M129.1 727.1h.1M81.4 720.0h.1M71.0 707.1h.1M116.0 727.9h.1M43.1 714.3h.1M115.8 720.1h.1M99.3 718.0h.1M18.4 701.3h.1M125.8 716.2h.1M28.4 727.2h.1M40.4 739.7h.1M38.6 716.2h.1M134.1 716.7h.1M40.9 705.3h.1M11.8 700.2h.1M35.7 696.9h.1M97.2 704.3h.1M62.4 726.6h.1M30.9 728.8h.1M117.6 728.4h.1M99.9 727.0h.1M21.1 699.4h.1M69.6 724.8h.1M20.1 690.4h.1M27.7 733.6h.1M54.9 700.7h.1M36.1 698.1h.1M92.7 718.7h.1M23.1 707.1h.1M142.6 712.7h.1M27.5 713.4h.1M77.5 699.5h.1M84.2 705.1h.1M119.2 705.9h.1M116.8 719.1h.1M65.2 736.4h.1M14.0 742.4h.1M16.7 699.7h.1M54.5 728.9h.1M63.1 726.2h.1M30.8 743.4h.1M112.7 710.7h.1M46.9 723.6h.1M82.5 730.2h.1M142.1 707.2h.1M41.6 724.4h.1M128.3 720.6h.1M70.3 707.9h.1M53.9 703.8h.1M148.5 714.0h.1M84.4 709.3h.1M57.6 704.8h.1M121.8 706.5h.1M92.1 729.8h.1M112.9 724.8h.1M136.1 721.3h.1M53.0 701.4h.1M15.7 725.5h.1M47.9 695.9h.1M31.7 710.5h.1M101.2 699.6h.1M91.1 731.5h.1M79.4 703.3h.1M44.4 737.1h.1M115.7 713.2h.1M132.9 705.4h.1M72.9 734.1h.1M80.6 718.3h.1M21.7 694.1h.1M114.0 722.8h.1M73.6 713.7h.1M60.8 734.3h.1M94.2 718.8h.1M62.9 701.6h.1M107.1 711.9h.1M60.6 731.3h.1M135.6 705.6h.1M84.0 727.4h.1M53.6 736.7h.1M40.2 724.4h.1M64.0 734.4h.1M72.4 717.8h.1M89.2 730.8h.1M124.0 709.4h.1M36.9 705.2h.1M64.6 730.4h.1M87.8 721.3h.1M113.7 732.0h.1M33.7 707.0h.1M61.2 720.8h.1M84.1 735.4h.1M31.5 721.7h.1M113.4 731.3h.1M33.2 703.7h.1M77.9 723.9h.1M57.9 714.8h.1M23.0 738.3h.1M126.5 720.1h.1M16.8 707.0h.1M41.8 709.3h.1M18.2 739.2h.1M134.4 705.3h.1M71.5 712.4h.1M136.9 706.8h.1M62.3 729.3h.1M115.9 729.1h.1M14.7 724.3h.1M28.8 734.9h.1M61.3 716.0h.1M75.5 712.4h.1M24.1 691.7h.1M20.8 713.9h.1M94.3 717.2h.1M108.4 727.0h.1M28.0 689.6h.1M108.9 725.3h.1M150.1 713.9h.1M24.1 717.0h.1M87.7 719.6h.1M60.7 699.4h.1M126.7 724.8h.1M48.7 717.4h.1M42.6 729.1h.1M85.2 712.9h.1M107.8 708.3h.1M116.7 702.3h.1M82.1 728.9h.1M90.0 703.9h.1M14.6 726.2h.1M119.9 721.7h.1M71.8 739.4h.1M56.6 702.9h.1M21.8 739.1h.1M58.8 742.0h.1M46.0 738.6h.1M89.9 704.3h.1M109.5 706.4h.1M86.0 733.3h.1M41.9 692.7h.1M21.6 703.3h.1M80.3 703.7h.1M70.0 732.7h.1M20.9 699.3h.1M16.9 699.4h.1M123.7 721.0h.1M74.2 740.5h.1M117.8 731.0h.1M11.9 691.0h.1M135.5 706.7h.1M35.0 699.8h.1M10.4 693.9h.1M42.7 737.4h.1M36.6 715.1h.1M77.5 720.9h.1M142.8 713.0h.1M122.1 717.6h.1M28.4 729.9h.1M63.4 703.0h.1M138.8 706.1h.1M59.3 739.2h.1M43.4 732.6h.1M46.1 693.2h.1M64.8 704.1h.1M52.1 703.9h.1M55.7 734.8h.1M29.4 725.9h.1M57.6 739.3h.1M26.6 744.0h.1M63.6 725.3h.1M112.4 710.9h.1M16.7 691.8h.1M56.1 720.4h.1M41.6 694.0h.1M33.6 700.3h.1M16.9 691.9h.1M46.8 696.3h.1M41.1 733.4h.1M35.2 728.6h.1M146.1 708.1h.1M37.2 713.8h.1M65.0 699.6h.1M31.8 711.3h.1M58.5 715.8h.1M123.5 712.8h.1M56.3 734.1h.1M137.8 722.2h.1M114.9 723.5h.1M71.8 712.9h.1M70.2 710.8h.1M89.5 716.4h.1M142.4 723.5h.1M12.9 739.6h.1M84.4 697.7h.1M41.3 729.6h.1M54.0 703.1h.1M10.9 698.1h.1M138.1 720.1h.1M42.1 715.6h.1M96.4 720.4h.1M25.6 693.8h.1M55.0 721.7h.1M20.1 699.3h.1M55.7 695.6h.1M96.6 705.8h.1M71.6 741.1h.1M125.5 704.3h.1M41.1 729.3h.1M25.1 732.0h.1M72.9 695.7h.1M47.5 701.3h.1M134.4 718.5h.1M99.0 726.6h.1M28.0 729.1h.1M125.7 705.3h.1M131.1 715.4h.1M87.6 720.0h.1M21.2 695.0h.1M54.5 724.6h.1M42.9 739.0h.1M72.5 699.2h.1M123.0 727.9h.1M119.1 706.7h.1M62.6 710.2h.1M15.7 688.8h.1M52.8 740.4h.1M116.5 707.2h.1M32.6 703.4h.1M33.7 733.9h.1M87.8 701.2h.1M117.1 706.0h.1M116.3 715.0h.1M88.4 737.7h.1M40.0 713.6h.1M93.7 701.2h.1M60.6 707.6h.1M66.3 705.4h.1M118.8 702.0h.1M77.5 706.9h.1M90.2 721.4h.1M27.3 738.0h.1M27.5 703.3h.1M14.5 714.8h.1M85.0 735.4h.1M35.6 717.5h.1M118.3 705.1h.1M14.2 694.9h.1M75.9 712.8h.1M86.3 709.4h.1M46.8 717.3h.1M139.3 719.6h.1M76.8 712.6h.1M36.3 701.0h.1M46.9 737.9h.1M40.5 738.1h.1M69.3 719.8h.1M105.7 725.0h.1M36.7 716.3h.1M71.5 712.0h.1M15.3 734.8h.1M133.7 704.9h.1M108.8 717.4h.1M53.0 736.9h.1M21.8 709.2h.1M19.8 721.3h.1M104.4 705.8h.1M122.2 719.9h.1M77.8 706.3h.1M46.4 727.6h.1M29.4 729.5h.1M142.5 710.3h.1M44.3 736.0h.1M68.9 713.6h.1M126.8 728.1h.1M30.6 735.7h.1M103.4 724.7h.1M80.5 711.9h.1M98.7 699.2h.1M139.9 722.7h.1M97.0 727.9h.1M34.4 727.0h.1M16.7 739.9h.1M50.0 715.4h.1M48.2 726.4h.1M29.3 733.7h.1M65.0 712.7h.1M42.6 720.4h.1M16.6 735.8h.1M66.1 714.4h.1M37.6 728.1h.1M50.6 722.0h.1M32.9 726.9h.1M39.7 719.4h.1M42.6 724.9h.1M25.6 726.5h.1M13.2 741.1h.1M46.7 725.4h.1M40.5 729.0h.1M27.2 731.4h.1M24.6 725.3h.1M53.4 721.1h.1M57.8 720.4h.1M36.3 731.3h.1M41.0 720.9h.1M26.8 735.5h.1M30.5 723.4h.1M19.2 731.5h.1M50.5 719.6h.1M33.2 726.5h.1M47.9 720.0h.1M59.2 715.6h.1M36.2 732.6h.1M51.1 720.6h.1M31.9 732.3h.1M28.1 728.9h.1M43.7 723.7h.1M46.0 724.7h.1M34.1 726.5h.1M28.0 731.6h.1M21.3 736.3h.1M26.0 728.2h.1M29.0 732.7h.1M44.2 723.0h.1M16.7 734.1h.1M17.6 737.7h.1M41.9 727.2h.1M29.6 732.7h.1M28.5 730.7h.1M53.3 721.0h.1M58.4 717.4h.1M50.2 721.1h.1M38.5 731.1h.1M12.5 734.6h.1M40.4 725.7h.1M20.4 734.1h.1M37.4 726.2h.1M47.3 721.3h.1M32.0 732.2h.1M65.9 720.5h.1M34.0 726.5h.1M58.3 714.2h.1M37.3 733.1h.1M43.6 724.6h.1M27.6 727.0h.1M64.7 717.0h.1M59.3 716.0h.1M15.2 733.9h.1M25.5 732.0h.1M29.6 730.3h.1M62.4 719.9h.1M59.5 718.5h.1M62.7 720.6h.1M27.9 729.1h.1M14.9 732.3h.1M29.4 730.6h.1M48.5 726.5h.1M56.2 721.0h.1M29.1 730.4h.1M49.1 723.6h.1M31.7 726.7h.1M36.5 722.4h.1M13.7 735.0h.1M27.0 736.0h.1M33.5 727.2h.1M66.8 714.1h.1M17.8 735.5h.1M62.5 719.3h.1M54.2 717.6h.1M56.1 719.8h.1M27.7 730.5h.1M54.6 720.8h.1M56.7 715.8h.1M29.3 730.1h.1M40.6 719.3h.1M41.2 724.1h.1M49.6 719.5h.1M29.8 733.8h.1M21.6 728.2h.1M31.1 726.4h.1M66.3 716.8h.1M42.4 723.4h.1M44.5 728.5h.1M36.7 731.1h.1M61.5 722.3h.1M56.1 722.0h.1M14.3 740.4h.1M53.4 719.8h.1M37.4 721.8h.1M51.0 721.8h.1M50.0 720.9h.1M22.7 738.7h.1M64.4 716.5h.1M24.0 732.3h.1M35.4 729.3h.1M39.4 724.0h.1M65.1 717.2h.1M33.9 729.9h.1M48.5 719.3h.1M12.3 740.0h.1M32.5 732.5h.1M45.6 726.8h.1M33.8 724.3h.1M38.0 726.9h.1M23.7 724.8h.1M35.6 728.0h.1M62.2 715.4h.1M55.8 715.1h.1M35.9 727.0h.1M47.8 721.9h.1M25.2 732.3h.1M38.2 726.3h.1M65.9 710.6h.1M39.1 723.3h.1M22.0 735.8h.1M16.4 733.7h.1M31.5 732.3h.1M40.0 728.7h.1M44.4 727.3h.1M15.5 736.5h.1M17.7 735.0h.1M23.1 733.5h.1M41.8 724.2h.1M68.3 714.7h.1M21.3 731.3h.1M59.8 720.5h.1M44.1 727.0h.1M35.5 728.0h.1M60.3 717.7h.1M25.4 728.0h.1M53.3 718.8h.1M32.1 730.9h.1M59.8 718.6h.1M60.1 717.2h.1M43.8 724.7h.1M59.5 719.5h.1M42.0 723.7h.1M12.8 739.7h.1M24.1 736.3h.1M38.6 724.5h.1M60.2 720.9h.1M61.3 715.7h.1M33.2 725.6h.1M58.7 717.2h.1M20.9 735.3h.1M24.4 729.4h.1M43.7 726.6h.1M28.0 729.4h.1M83.6 733.3h.1M97.0 720.3h.1M105.1 713.1h.1M102.0 710.9h.1M92.2 720.0h.1M90.7 721.7h.1M110.8 711.5h.1M85.7 729.5h.1M97.1 720.7h.1M107.1 713.3h.1M97.5 718.4h.1M92.7 722.7h.1M108.0 713.7h.1M84.5 728.9h.1M106.3 717.3h.1M82.7 733.4h.1M89.0 725.6h.1M84.4 724.7h.1M94.2 722.3h.1M84.7 733.8h.1M111.6 706.9h.1M108.9 709.0h.1M102.5 708.5h.1M94.5 715.3h.1M113.6 701.2h.1M81.7 736.7h.1M76.4 735.1h.1M85.1 726.3h.1M95.2 716.8h.1M78.8 738.4h.1M109.5 700.4h.1M87.7 732.6h.1M81.4 730.7h.1M111.2 708.2h.1M95.2 714.8h.1M91.7 727.9h.1M80.1 737.1h.1M96.4 719.0h.1M76.9 737.9h.1M96.5 721.1h.1M92.7 721.0h.1M103.2 717.1h.1M92.0 717.9h.1M80.6 737.0h.1M100.7 712.4h.1M87.2 726.9h.1M101.1 715.9h.1M89.9 732.5h.1M85.7 720.7h.1M96.7 717.8h.1M100.4 722.1h.1M93.8 722.6h.1M100.8 708.3h.1M82.5 737.0h.1M111.5 707.9h.1M79.0 732.7h.1M88.1 729.6h.1M87.9 725.3h.1M75.4 739.2h.1M106.5 712.8h.1M79.1 736.5h.1M78.9 738.2h.1M83.1 729.7h.1M74.6 739.7h.1M103.4 714.1h.1M88.2 725.2h.1M82.6 738.6h.1M92.2 719.3h.1M82.8 732.7h.1M88.4 726.8h.1M73.9 740.3h.1M104.9 719.6h.1M106.1 714.1h.1M91.4 719.6h.1M89.8 724.3h.1M98.2 712.5h.1M92.1 724.5h.1M80.1 732.8h.1M104.4 710.5h.1M96.4 714.5h.1M105.2 706.7h.1M80.9 736.2h.1M86.0 726.8h.1M81.7 733.7h.1M89.6 725.9h.1M97.9 719.4h.1M90.2 731.2h.1M95.9 715.9h.1M89.5 730.1h.1M99.6 709.9h.1M109.6 711.0h.1M104.6 712.5h.1M97.8 714.9h.1M82.2 731.1h.1M106.1 714.6h.1M90.9 723.3h.1M105.7 710.4h.1M108.8 705.5h.1M109.2 705.5h.1M81.1 729.4h.1M87.9 725.9h.1M96.7 715.9h.1M110.5 708.9h.1M104.0 717.2h.1M102.2 710.0h.1M79.7 735.5h.1M103.2 719.0h.1M82.1 732.0h.1M108.0 702.1h.1M102.1 716.6h.1M102.6 715.3h.1M76.4 733.8h.1M110.4 706.6h.1M102.2 712.6h.1M107.0 709.1h.1M76.9 736.4h.1M88.9 723.5h.1M74.6 737.3h.1M97.4 715.9h.1M87.2 729.1h.1M127.2 716.4h.1M133.0 716.2h.1M132.1 712.6h.1M127.8 715.8h.1M129.2 712.9h.1M128.2 716.8h.1M135.2 716.6h.1M131.7 716.1h.1M131.5 713.6h.1M129.5 714.1h.1M131.9 716.7h.1M133.8 710.0h.1M133.7 713.0h.1M129.5 719.4h.1M127.7 711.9h.1M130.9 719.0h.1M130.4 707.5h.1M139.7 713.0h.1M129.2 719.1h.1M132.3 713.8h.1M127.4 713.1h.1M124.8 721.2h.1M129.4 716.8h.1M133.7 714.2h.1M130.4 716.7h.1M134.2 714.7h.1M132.6 713.2h.1M131.7 710.7h.1M133.6 715.9h.1M131.3 717.0h.1M130.7 720.2h.1M127.2 718.4h.1M124.5 715.0h.1M134.3 714.6h.1M133.6 714.0h.1M125.8 708.9h.1M129.8 717.9h.1M131.6 715.1h.1M134.2 716.4h.1M131.5 713.9h.1M135.2 714.3h.1M130.6 713.6h.1M124.7 713.0h.1M135.6 714.5h.1M127.2 711.8h.1M131.3 713.9h.1M130.8 710.4h.1M126.1 714.5h.1M132.1 713.7h.1M130.1 719.8h.1M129.8 721.2h.1M133.4 718.6h.1M130.6 712.8h.1M129.0 712.8h.1M136.6 718.4h.1M131.2 714.3h.1M131.1 713.3h.1M127.1 707.6h.1M15.3 692.9h.1M15.4 691.0h.1M15.3 688.7h.1M14.7 689.7h.1M15.0 688.6h.1M15.6 693.4h.1M13.1 691.3h.1M17.1 691.5h.1M15.4 690.6h.1M18.4 688.7h.1M18.8 690.2h.1M11.3 690.5h.1M18.9 688.9h.1M17.6 691.5h.1M12.2 688.2h.1M16.1 693.5h.1M14.5 692.1h.1M16.1 690.2h.1M17.5 692.9h.1M12.9 690.7h.1M17.4 691.0h.1M17.9 691.5h.1M16.8 691.0h.1M14.2 692.7h.1M13.0 688.5h.1M12.0 691.5h.1M13.1 690.9h.1M13.1 687.8h.1M13.8 687.7h.1M15.1 689.5h.1M18.4 689.7h.1M16.3 688.1h.1M11.1 689.2h.1M16.1 691.1h.1M61.5 711.6h.1M31.6 705.1h.1M43.4 708.9h.1M31.3 701.3h.1M30.6 693.7h.1M59.6 722.4h.1M61.9 718.7h.1M43.5 719.7h.1M52.7 723.0h.1M37.6 716.1h.1M46.1 714.7h.1M64.1 721.0h.1M38.2 722.5h.1M56.6 718.8h.1M65.3 720.0h.1M29.3 700.3h.1M38.6 711.9h.1M59.0 707.9h.1M49.0 715.3h.1M39.5 711.3h.1M55.8 710.2h.1M46.9 715.7h.1M47.8 727.3h.1M60.4 728.9h.1M31.5 705.1h.1M42.6 714.4h.1M60.5 713.5h.1M45.6 707.7h.1M35.9 694.5h.1M31.6 701.2h.1M54.3 723.3h.1M59.6 721.0h.1M25.0 698.9h.1M57.5 722.9h.1M55.8 709.8h.1M48.8 723.2h.1M45.1 717.6h.1M53.3 717.0h.1M54.9 732.7h.1M58.5 722.8h.1M42.1 702.8h.1M59.7 718.7h.1M46.4 717.0h.1M56.3 715.1h.1M54.7 718.5h.1M36.8 707.2h.1M30.0 697.9h.1M50.9 714.8h.1M38.1 697.9h.1M39.5 702.6h.1M48.1 700.3h.1M40.0 721.1h.1M40.8 710.4h.1M68.8 730.1h.1M57.8 730.2h.1M57.0 728.9h.1M12.2 693.5h.1M34.0 719.0h.1M39.7 714.8h.1M43.5 700.8h.1M48.5 713.4h.1M48.3 714.4h.1M63.8 713.2h.1M46.9 708.5h.1M46.2 720.8h.1M54.3 717.3h.1M48.4 724.0h.1M58.7 728.2h.1M36.0 703.6h.1" stroke="#eaa0b4" stroke-width="0.85" stroke-linecap="round" stroke-opacity="1"/>
<path d="M17.3 719.5h.1M90.9 709.8h.1M60.3 701.2h.1M12.1 713.5h.1M95.7 715.4h.1M33.9 700.3h.1M34.8 703.2h.1M18.5 698.9h.1M138.0 707.4h.1M99.3 722.3h.1M144.6 707.9h.1M64.1 728.0h.1M102.3 707.1h.1M70.5 737.2h.1M12.9 699.2h.1M95.4 731.7h.1M71.9 722.2h.1M104.3 711.6h.1M104.0 732.1h.1M119.6 702.5h.1M14.2 688.0h.1M39.5 700.1h.1M127.2 727.7h.1M76.3 715.9h.1M52.1 700.3h.1M30.1 728.7h.1M126.3 720.6h.1M88.3 723.1h.1M117.9 722.5h.1M101.5 726.9h.1M72.8 702.4h.1M105.8 710.3h.1M16.2 725.1h.1M132.5 714.9h.1M88.1 709.7h.1M80.0 733.7h.1M69.6 718.5h.1M54.3 708.2h.1M67.6 710.8h.1M26.8 715.9h.1M23.0 704.2h.1M48.5 705.2h.1M76.4 700.4h.1M24.4 722.9h.1M64.8 699.2h.1M67.9 727.9h.1M21.4 727.6h.1M61.9 740.0h.1M81.6 709.5h.1M37.2 701.2h.1M42.4 703.1h.1M55.3 709.8h.1M23.4 714.3h.1M16.1 721.5h.1M141.1 708.4h.1M39.8 708.2h.1M14.3 729.1h.1M23.3 709.7h.1M58.3 696.2h.1M78.6 733.3h.1M137.4 722.7h.1M97.2 722.4h.1M39.9 710.0h.1M44.0 728.7h.1M101.1 704.7h.1M96.8 715.1h.1M49.8 733.7h.1M106.4 728.5h.1M80.3 740.0h.1M93.0 722.4h.1M113.1 730.0h.1M17.6 688.4h.1M21.0 716.2h.1M45.9 700.5h.1M130.8 712.1h.1M89.9 704.7h.1M64.5 720.7h.1M110.0 709.0h.1M23.1 692.5h.1M78.7 732.9h.1M144.9 716.6h.1M49.2 699.3h.1M58.4 705.7h.1M74.6 738.0h.1M81.0 702.3h.1M31.8 705.8h.1M32.3 724.9h.1M94.7 710.3h.1M129.1 725.4h.1M65.8 728.0h.1M11.7 736.4h.1M14.3 718.3h.1M142.5 717.3h.1M100.2 728.5h.1M75.4 703.9h.1M119.7 714.0h.1M91.1 736.2h.1M119.2 706.9h.1M38.5 710.1h.1M87.8 702.2h.1M77.7 730.6h.1M13.7 728.3h.1M57.4 731.8h.1M63.9 721.1h.1M20.7 714.1h.1M11.4 728.4h.1M60.9 730.0h.1M64.2 704.9h.1M54.6 702.4h.1M49.9 695.0h.1M87.6 732.9h.1M120.8 728.6h.1M80.8 698.5h.1M98.8 732.3h.1M14.3 698.5h.1M64.8 712.8h.1M61.6 700.5h.1M26.5 714.7h.1M110.3 718.8h.1M90.0 704.0h.1M136.1 725.5h.1M70.3 702.0h.1M123.6 706.6h.1M39.9 719.9h.1M128.7 717.0h.1M28.4 725.6h.1M43.5 692.0h.1M24.5 693.9h.1M85.9 700.0h.1M49.8 704.5h.1M20.9 721.0h.1M128.2 722.1h.1M13.3 706.2h.1M10.6 707.2h.1M50.9 731.5h.1M68.1 725.5h.1M47.1 723.3h.1M51.5 717.9h.1M70.8 708.7h.1M62.1 710.0h.1M135.1 711.2h.1M83.4 734.0h.1M80.6 697.8h.1M11.1 688.6h.1M37.1 721.6h.1M71.4 722.7h.1M40.6 696.1h.1M105.1 725.8h.1M33.5 707.6h.1M68.9 739.6h.1M103.3 706.6h.1M43.3 694.4h.1M47.2 735.1h.1M87.8 713.8h.1M38.5 741.8h.1M41.2 713.0h.1M84.9 710.2h.1M13.0 728.3h.1M107.6 731.7h.1M58.9 723.2h.1M50.3 702.5h.1M14.6 696.2h.1M113.8 718.8h.1M92.0 727.1h.1M107.6 709.6h.1M81.2 725.9h.1M69.8 716.4h.1M33.7 696.3h.1M37.5 704.8h.1M27.9 727.7h.1M128.2 710.3h.1M78.4 712.0h.1M35.3 723.7h.1M114.4 705.7h.1M100.9 707.5h.1M79.2 715.7h.1M82.3 711.6h.1M114.0 726.8h.1M14.8 727.4h.1M13.8 739.4h.1M24.6 733.1h.1M107.4 712.8h.1M15.3 695.3h.1M59.6 720.0h.1M88.6 731.4h.1M60.5 703.1h.1M114.0 716.3h.1M80.5 738.5h.1M141.0 720.8h.1M128.1 705.3h.1M116.7 723.0h.1M131.7 724.3h.1M57.4 694.8h.1M85.4 720.9h.1M86.1 698.7h.1M45.7 721.9h.1M84.0 707.1h.1M71.6 736.5h.1M104.7 707.1h.1M143.2 723.1h.1M133.9 715.7h.1M14.3 716.0h.1M69.8 697.2h.1M58.6 699.3h.1M112.8 702.7h.1M136.5 723.5h.1M98.3 718.2h.1M83.1 714.4h.1M116.5 707.9h.1M83.9 733.8h.1M27.4 715.1h.1M59.0 709.1h.1M23.4 692.0h.1M97.9 705.4h.1M102.2 727.9h.1M60.9 733.1h.1M66.6 728.9h.1M34.5 740.1h.1M122.9 717.7h.1M29.6 739.9h.1M82.3 713.8h.1M30.9 690.2h.1M122.2 727.7h.1M52.9 701.8h.1M30.5 733.0h.1M62.9 723.9h.1M102.0 727.0h.1M37.5 714.0h.1M22.5 718.7h.1M80.9 708.1h.1M49.2 718.9h.1M78.3 732.5h.1M106.8 700.1h.1M103.2 699.5h.1M39.4 731.5h.1M13.5 732.4h.1M113.2 726.1h.1M104.5 729.9h.1M43.0 720.8h.1M67.3 704.2h.1M66.8 718.0h.1M52.7 705.3h.1M88.1 712.7h.1M121.7 706.9h.1M31.9 729.5h.1M119.3 707.7h.1M80.1 710.5h.1M119.5 705.1h.1M58.6 697.6h.1M42.4 711.9h.1M90.4 702.7h.1M30.4 725.6h.1M26.2 741.9h.1M146.0 717.5h.1M39.9 732.7h.1M91.0 728.0h.1M81.7 720.9h.1M66.1 703.2h.1M71.2 698.3h.1M56.9 705.3h.1M118.9 728.8h.1M77.8 723.8h.1M75.6 737.7h.1M17.8 700.7h.1M113.8 724.3h.1M14.3 689.7h.1M22.6 695.2h.1M73.9 725.6h.1M38.6 727.8h.1M19.6 693.5h.1M140.2 720.0h.1M12.9 709.0h.1M31.8 717.5h.1M132.0 723.9h.1M45.1 709.7h.1M63.3 724.5h.1M145.8 707.9h.1M40.7 698.1h.1M66.4 714.9h.1M61.2 739.0h.1M36.1 730.1h.1M142.4 710.1h.1M89.7 731.3h.1M47.8 710.9h.1M54.5 730.4h.1M89.9 699.8h.1M107.2 701.7h.1M76.4 726.0h.1M75.0 705.6h.1M27.0 699.7h.1M100.1 723.5h.1M13.0 733.0h.1M21.1 701.3h.1M41.6 702.2h.1M57.5 715.3h.1M22.3 720.7h.1M28.5 698.0h.1M24.2 723.5h.1M21.6 689.7h.1M30.4 740.7h.1M18.4 733.3h.1M27.8 736.4h.1M13.4 739.4h.1M109.5 707.8h.1M64.8 698.5h.1M81.8 733.9h.1M116.4 731.3h.1M71.0 704.6h.1M75.7 713.5h.1M92.9 711.8h.1M51.8 705.9h.1M88.6 732.8h.1M80.3 738.8h.1M120.1 718.0h.1M82.3 697.0h.1M29.1 713.4h.1M75.9 698.3h.1M144.2 722.7h.1M19.7 699.0h.1M22.1 737.3h.1M14.4 705.8h.1M24.9 696.2h.1M37.0 707.6h.1M33.8 697.3h.1M102.7 716.4h.1M128.9 707.8h.1M56.3 714.6h.1M16.5 743.9h.1M58.9 736.0h.1M50.3 735.4h.1M56.7 696.4h.1M41.9 713.6h.1M106.3 707.8h.1M86.1 736.7h.1M82.1 707.1h.1M10.8 698.6h.1M139.5 708.3h.1M92.5 733.1h.1M43.3 734.4h.1M109.3 711.6h.1M92.3 715.6h.1M15.7 717.0h.1M81.5 696.6h.1M43.0 713.9h.1M46.7 725.6h.1M80.3 715.1h.1M27.0 726.5h.1M66.7 734.6h.1M131.8 723.6h.1M25.3 708.9h.1M84.7 704.9h.1M59.3 719.2h.1M96.9 725.0h.1M80.5 711.1h.1M125.2 714.7h.1M116.1 729.2h.1M56.8 693.2h.1M31.0 695.8h.1M25.1 705.4h.1M105.5 722.9h.1M38.3 720.3h.1M50.6 698.5h.1M43.1 736.3h.1M103.2 713.6h.1M133.7 704.8h.1M25.1 703.6h.1M86.5 733.1h.1M18.5 697.0h.1M45.7 724.1h.1M47.8 704.3h.1M86.5 722.5h.1M79.0 718.6h.1M20.4 722.9h.1M46.9 735.7h.1M12.2 722.6h.1M84.6 736.7h.1M62.4 733.4h.1M47.4 741.9h.1M139.4 714.1h.1M77.4 708.6h.1M45.0 734.8h.1M48.3 692.7h.1M31.8 720.7h.1M98.5 721.2h.1M108.0 731.9h.1M39.6 741.9h.1M98.0 723.4h.1M51.6 728.0h.1M71.7 705.7h.1M121.9 726.6h.1M63.3 712.0h.1M60.3 721.7h.1M69.3 741.1h.1M138.7 716.5h.1M45.4 733.9h.1M28.1 718.5h.1M45.7 722.5h.1M51.6 733.1h.1M43.1 729.8h.1M56.1 721.6h.1M128.9 725.5h.1M21.5 738.4h.1M76.9 736.8h.1M143.2 710.2h.1M91.6 716.0h.1M25.0 729.8h.1M70.1 737.8h.1M46.2 729.2h.1M122.8 716.2h.1M96.2 708.4h.1M24.0 707.0h.1M25.5 709.8h.1M120.4 717.6h.1M45.7 692.8h.1M140.5 714.5h.1M62.1 734.7h.1M21.5 743.3h.1M102.9 719.8h.1M14.9 690.7h.1M79.8 719.9h.1M38.5 732.1h.1M45.7 725.3h.1M99.3 712.5h.1M49.4 715.3h.1M51.1 739.7h.1M40.5 700.1h.1M45.6 726.7h.1M13.7 727.3h.1M47.9 693.7h.1M78.7 715.1h.1M25.6 735.9h.1M35.6 697.1h.1M109.0 728.9h.1M14.7 694.8h.1M81.6 716.5h.1M28.4 692.2h.1M77.7 737.6h.1M116.7 704.3h.1M101.0 731.9h.1M103.5 714.2h.1M92.4 712.3h.1M24.6 710.6h.1M72.6 705.5h.1M33.2 704.6h.1M46.1 712.2h.1M92.4 712.5h.1M126.3 724.1h.1M147.8 717.2h.1M63.1 702.6h.1M81.8 721.4h.1M87.1 705.8h.1M95.9 707.1h.1M61.2 716.6h.1M11.5 705.2h.1M12.5 690.4h.1M54.3 694.6h.1M63.6 718.7h.1M89.5 722.1h.1M11.6 692.5h.1M138.7 718.0h.1M10.4 700.6h.1M62.5 737.7h.1M78.4 735.9h.1M78.0 735.9h.1M26.5 706.8h.1M93.8 704.2h.1M72.8 700.5h.1M67.0 719.1h.1M22.0 728.1h.1M27.1 712.5h.1M11.5 711.8h.1M38.6 691.2h.1M87.0 738.6h.1M55.6 699.8h.1M80.5 715.4h.1M83.0 697.7h.1M55.1 699.0h.1M10.8 692.3h.1M20.6 730.2h.1M108.6 716.9h.1M112.8 722.4h.1M14.1 694.1h.1M97.1 711.2h.1M17.3 704.3h.1M101.2 729.2h.1M19.3 744.2h.1M9.6 697.5h.1M84.3 724.9h.1M90.5 725.8h.1M28.2 702.9h.1M83.5 736.1h.1M89.2 719.2h.1M40.9 706.0h.1M100.1 721.2h.1M135.4 707.5h.1M26.9 734.8h.1M90.4 736.7h.1M24.2 702.1h.1M44.4 723.6h.1M28.6 716.1h.1M78.4 699.3h.1M33.8 720.0h.1M43.0 705.9h.1M64.8 705.5h.1M86.7 707.5h.1M26.6 739.1h.1M54.5 739.2h.1M24.0 692.4h.1M77.4 725.3h.1M50.8 733.8h.1M18.8 707.5h.1M111.2 721.6h.1M18.7 741.8h.1M10.9 720.2h.1M17.6 719.3h.1M86.7 734.5h.1M77.3 729.8h.1M112.4 720.3h.1M101.8 726.7h.1M17.6 716.5h.1M29.7 697.5h.1M42.1 735.5h.1M70.9 711.4h.1M103.8 715.4h.1M17.0 695.9h.1M62.4 716.5h.1M103.7 718.1h.1M105.9 709.8h.1M70.3 735.3h.1M94.9 717.5h.1M21.4 737.8h.1M95.6 717.3h.1M60.4 713.8h.1M77.1 736.4h.1M38.3 722.1h.1M64.6 711.1h.1M18.0 698.8h.1M123.2 712.6h.1M138.1 721.9h.1M138.6 719.2h.1M33.2 739.8h.1M89.2 717.3h.1M39.7 694.0h.1M19.2 734.1h.1M96.7 716.8h.1M144.2 715.5h.1M19.9 701.6h.1M23.9 734.4h.1M88.4 723.9h.1M103.7 702.3h.1M49.0 702.8h.1M94.3 735.4h.1M93.8 715.3h.1M92.0 711.4h.1M41.8 714.4h.1M101.6 734.1h.1M17.6 738.0h.1M48.4 716.7h.1M73.9 709.5h.1M37.4 706.5h.1M46.4 727.1h.1M49.2 711.3h.1M96.8 724.1h.1M93.0 729.0h.1M13.1 736.4h.1M134.7 713.2h.1M119.9 709.2h.1M103.1 730.5h.1M83.8 733.4h.1M17.2 729.1h.1M34.4 719.7h.1M83.7 719.4h.1M97.5 727.0h.1M66.7 715.1h.1M107.9 707.5h.1M94.0 705.9h.1M23.4 725.8h.1M71.9 711.1h.1M38.3 701.6h.1M52.0 713.8h.1M16.0 715.0h.1M45.1 727.9h.1M51.2 727.9h.1M111.1 705.4h.1M28.9 741.4h.1M87.7 717.1h.1M85.4 735.4h.1M30.0 700.0h.1M24.6 713.6h.1M15.4 720.9h.1M70.9 714.8h.1M68.7 724.0h.1M11.9 703.1h.1M93.0 714.0h.1M116.2 727.6h.1M76.9 720.6h.1M69.8 715.0h.1M136.2 717.2h.1M64.4 728.8h.1M38.0 725.4h.1M96.5 710.4h.1M128.8 714.6h.1M19.6 705.2h.1M97.4 724.0h.1M100.8 726.0h.1M21.9 709.7h.1M41.6 697.8h.1M30.3 710.0h.1M127.8 726.0h.1M70.9 716.4h.1M45.2 716.5h.1M52.8 707.2h.1M114.6 703.3h.1M106.7 730.9h.1M14.4 724.5h.1M97.8 734.3h.1M30.3 742.9h.1M19.8 724.8h.1M98.6 724.0h.1M76.7 735.1h.1M45.8 707.0h.1M28.0 725.7h.1M116.7 702.8h.1M56.8 704.4h.1M124.6 710.3h.1M30.3 720.1h.1M101.1 712.1h.1M117.0 702.1h.1M60.7 697.4h.1M36.5 733.8h.1M58.6 713.7h.1M10.7 711.3h.1M83.2 729.0h.1M57.4 718.7h.1M126.0 719.6h.1M93.4 713.8h.1M54.6 714.2h.1M114.6 704.1h.1M48.0 729.9h.1M131.1 718.2h.1M25.4 693.1h.1M112.9 707.8h.1M43.1 712.3h.1M102.0 734.6h.1M148.9 712.1h.1M49.7 711.9h.1M38.5 711.1h.1M12.6 712.3h.1M115.6 705.1h.1M94.8 702.3h.1M112.0 725.9h.1M12.1 700.9h.1M53.0 734.4h.1M42.5 725.4h.1M10.8 718.8h.1M139.9 725.5h.1M23.7 737.1h.1M78.8 717.6h.1M45.7 714.5h.1M61.5 718.1h.1M28.7 731.7h.1M61.2 702.3h.1M25.9 711.0h.1M56.2 696.7h.1M49.4 738.9h.1M139.2 707.2h.1M25.8 710.8h.1M69.5 718.1h.1M80.6 711.8h.1M55.4 705.2h.1M47.9 731.4h.1M34.9 711.1h.1M39.6 735.3h.1M147.0 708.1h.1M67.7 732.3h.1M105.9 705.3h.1M55.4 721.9h.1M22.5 727.0h.1M28.6 709.3h.1M54.0 727.0h.1M84.0 722.8h.1M134.4 707.6h.1M87.6 704.5h.1M56.5 706.1h.1M42.9 702.1h.1M12.3 698.7h.1M96.9 707.3h.1M44.9 726.8h.1M143.6 709.0h.1M133.6 704.8h.1M68.5 704.3h.1M126.5 726.8h.1M115.5 705.9h.1M51.3 729.7h.1M80.6 709.7h.1M57.4 724.4h.1M74.1 709.9h.1M104.6 713.6h.1M39.0 722.8h.1M75.8 703.9h.1M76.7 722.4h.1M60.2 713.8h.1M24.3 726.6h.1M22.8 704.4h.1M51.9 702.6h.1M124.2 726.0h.1M80.8 730.1h.1M111.2 713.9h.1M50.4 733.1h.1M42.3 711.5h.1M61.7 701.8h.1M25.9 689.3h.1M92.0 720.2h.1M84.8 739.1h.1M127.1 718.1h.1M117.4 710.8h.1M74.0 716.0h.1M56.6 720.2h.1M36.2 699.4h.1M87.3 722.6h.1M117.1 731.2h.1M14.7 742.4h.1M27.4 698.5h.1M68.7 737.3h.1M64.5 720.2h.1M31.8 709.1h.1M128.2 723.5h.1M52.0 700.7h.1M42.2 711.7h.1M87.3 731.5h.1M82.1 712.5h.1M13.4 743.5h.1M16.9 744.0h.1M36.1 707.9h.1M71.7 726.4h.1M103.5 731.8h.1M36.2 720.9h.1M75.5 702.8h.1M102.4 727.0h.1M84.2 705.1h.1M135.5 707.3h.1M122.3 713.1h.1M109.1 722.1h.1M55.6 738.7h.1M49.3 719.9h.1M66.8 736.6h.1M70.8 710.8h.1M38.5 697.4h.1M145.0 718.3h.1M42.7 725.2h.1M76.9 711.8h.1M83.4 706.9h.1M44.2 699.9h.1M15.7 688.1h.1M126.6 712.3h.1M60.4 700.3h.1M36.8 716.2h.1M105.0 718.7h.1M64.0 708.6h.1M65.7 719.2h.1M14.1 732.3h.1M11.0 724.6h.1M114.7 719.6h.1M44.5 725.7h.1M145.1 718.2h.1M22.8 712.4h.1M37.5 698.3h.1M35.5 724.9h.1M101.2 725.5h.1M58.7 721.2h.1M12.5 711.6h.1M36.2 715.8h.1M40.5 741.9h.1M11.1 689.0h.1M47.6 713.6h.1M82.3 730.1h.1M142.9 713.3h.1M99.2 718.2h.1M96.7 702.1h.1M65.7 735.4h.1M33.1 736.0h.1M25.1 736.9h.1M54.5 717.3h.1M54.8 693.6h.1M109.9 731.3h.1M117.8 706.8h.1M119.2 725.5h.1M69.4 718.0h.1M45.9 741.0h.1M31.5 691.3h.1M30.4 717.1h.1M20.5 688.7h.1M27.0 714.4h.1M115.4 723.7h.1M19.3 693.4h.1M28.6 728.0h.1M56.0 730.6h.1M127.6 711.5h.1M48.6 742.1h.1M129.0 708.0h.1M119.5 729.1h.1M27.8 722.1h.1M60.1 702.1h.1M42.8 732.0h.1M32.2 741.2h.1M13.6 742.5h.1M21.9 723.3h.1M39.4 729.9h.1M107.5 723.5h.1M85.9 710.0h.1M113.8 718.7h.1M16.5 696.6h.1M102.6 717.7h.1M107.6 708.2h.1M53.7 718.6h.1M111.1 708.3h.1M51.7 708.9h.1M14.4 711.4h.1M19.6 690.1h.1M146.3 712.1h.1M20.3 720.5h.1M91.7 701.6h.1M27.4 730.5h.1M13.9 734.7h.1M22.5 737.0h.1M35.3 725.9h.1M58.1 720.3h.1M33.0 725.7h.1M62.2 713.2h.1M32.3 729.3h.1M33.9 725.9h.1M62.0 713.9h.1M18.5 731.6h.1M17.4 734.4h.1M40.6 726.8h.1M63.4 714.0h.1M16.9 735.9h.1M34.2 730.0h.1M45.3 723.7h.1M58.0 712.1h.1M24.6 733.8h.1M36.4 725.2h.1M56.6 717.8h.1M43.1 722.4h.1M63.2 720.9h.1M43.2 726.9h.1M56.6 717.7h.1M66.1 716.2h.1M46.5 723.2h.1M68.1 714.8h.1M12.1 740.1h.1M59.2 716.5h.1M34.8 730.0h.1M55.2 717.9h.1M25.6 734.6h.1M20.3 733.4h.1M17.6 739.3h.1M65.7 718.5h.1M63.2 720.2h.1M48.4 721.7h.1M21.9 730.9h.1M33.9 726.8h.1M30.0 731.5h.1M23.2 736.8h.1M17.8 741.0h.1M14.9 739.5h.1M33.8 727.0h.1M22.9 736.9h.1M18.3 733.6h.1M35.4 722.6h.1M26.2 731.4h.1M44.3 726.2h.1M21.7 737.7h.1M62.1 715.5h.1M37.8 725.4h.1M64.4 711.8h.1M17.5 739.4h.1M19.0 736.2h.1M55.5 721.7h.1M29.7 728.7h.1M52.1 714.8h.1M51.3 716.6h.1M39.2 727.2h.1M55.1 718.7h.1M25.2 737.2h.1M21.0 741.1h.1M43.9 722.0h.1M31.8 727.7h.1M62.0 714.2h.1M11.5 732.7h.1M16.8 734.2h.1M29.4 731.0h.1M32.3 724.1h.1M42.2 726.1h.1M20.9 732.5h.1M38.7 729.1h.1M33.6 733.4h.1M26.3 735.5h.1M65.9 717.5h.1M57.2 718.1h.1M34.2 731.0h.1M14.0 736.3h.1M35.5 728.2h.1M31.6 727.6h.1M50.2 722.1h.1M16.5 738.4h.1M36.2 720.7h.1M55.1 722.0h.1M38.4 729.5h.1M56.4 719.6h.1M15.5 736.7h.1M37.5 727.6h.1M43.2 720.3h.1M39.1 731.7h.1M59.3 718.7h.1M39.2 721.6h.1M63.7 713.5h.1M48.5 722.2h.1M64.6 716.4h.1M62.1 724.5h.1M29.4 732.5h.1M30.5 729.4h.1M46.1 722.5h.1M16.4 733.2h.1M37.1 724.7h.1M12.3 735.1h.1M34.3 725.6h.1M61.7 711.2h.1M12.5 730.9h.1M42.3 722.6h.1M37.4 724.0h.1M34.1 725.4h.1M20.0 732.5h.1M29.9 733.0h.1M29.9 724.2h.1M30.3 732.7h.1M34.7 728.7h.1M42.2 722.5h.1M51.0 720.4h.1M22.0 730.1h.1M50.3 720.0h.1M69.3 712.2h.1M37.1 731.0h.1M30.7 726.6h.1M28.0 728.8h.1M25.1 728.6h.1M40.2 723.4h.1M58.3 719.6h.1M20.5 740.5h.1M56.7 717.5h.1M36.0 728.3h.1M21.2 731.7h.1M58.2 713.0h.1M53.2 714.9h.1M30.5 729.3h.1M45.0 722.9h.1M31.1 732.0h.1M52.0 725.7h.1M18.4 731.4h.1M25.2 727.4h.1M61.3 716.4h.1M41.7 728.1h.1M27.2 730.8h.1M31.9 733.7h.1M27.9 735.5h.1M65.4 722.3h.1M65.6 717.2h.1M33.4 728.1h.1M48.9 724.7h.1M52.4 720.9h.1M30.5 729.9h.1M17.0 737.4h.1M52.7 717.9h.1M50.3 724.4h.1M22.4 729.1h.1M25.5 732.8h.1M20.2 737.2h.1M30.2 726.1h.1M32.9 726.5h.1M39.9 725.7h.1M17.9 736.8h.1M58.8 712.7h.1M27.3 736.2h.1M29.0 733.6h.1M11.9 734.3h.1M38.2 727.7h.1M58.8 717.9h.1M44.3 726.2h.1M24.1 727.7h.1M57.8 718.0h.1M53.9 714.3h.1M42.8 724.0h.1M12.0 737.5h.1M63.7 713.2h.1M81.6 736.8h.1M85.4 726.9h.1M98.9 711.2h.1M98.3 719.9h.1M75.0 735.1h.1M90.7 724.7h.1M107.0 703.2h.1M75.7 737.6h.1M101.8 716.7h.1M78.8 733.1h.1M105.3 711.3h.1M79.9 734.5h.1M104.0 709.9h.1M82.6 733.7h.1M104.6 713.3h.1M100.9 711.7h.1M94.9 719.9h.1M92.1 725.1h.1M104.0 708.5h.1M74.7 733.9h.1M103.3 708.0h.1M96.6 714.8h.1M95.6 722.0h.1M103.1 710.5h.1M105.6 707.1h.1M102.0 713.5h.1M105.4 710.3h.1M78.1 735.1h.1M107.8 707.1h.1M89.1 724.9h.1M87.3 731.6h.1M112.0 703.8h.1M88.7 721.8h.1M84.1 733.1h.1M98.6 711.3h.1M107.0 706.5h.1M84.7 728.6h.1M96.5 715.2h.1M92.6 724.5h.1M98.2 717.5h.1M92.2 719.9h.1M98.8 715.7h.1M97.7 718.1h.1M79.7 735.9h.1M111.5 705.2h.1M84.1 734.3h.1M87.2 725.4h.1M104.9 710.7h.1M100.8 712.9h.1M90.1 729.5h.1M76.2 738.9h.1M77.4 738.1h.1M94.4 719.3h.1M105.0 711.1h.1M90.4 730.5h.1M108.1 708.0h.1M105.1 711.8h.1M88.9 722.7h.1M82.6 734.6h.1M98.4 719.6h.1M93.8 718.3h.1M94.1 718.6h.1M87.8 727.7h.1M106.4 711.5h.1M87.2 729.1h.1M97.8 719.8h.1M101.3 715.5h.1M99.4 712.5h.1M76.5 738.2h.1M97.4 718.9h.1M85.7 728.9h.1M102.1 712.5h.1M89.2 729.5h.1M110.1 708.5h.1M106.5 712.5h.1M82.1 731.0h.1M102.5 717.4h.1M83.1 732.3h.1M110.0 710.2h.1M86.6 726.5h.1M79.3 739.3h.1M85.5 724.6h.1M112.6 708.3h.1M80.9 735.1h.1M107.3 714.6h.1M88.4 725.1h.1M92.1 729.1h.1M83.3 733.0h.1M97.1 720.0h.1M92.8 717.3h.1M83.3 734.9h.1M97.6 719.4h.1M84.8 730.5h.1M110.3 703.8h.1M99.9 713.6h.1M91.7 731.9h.1M101.1 712.5h.1M73.8 735.4h.1M98.9 715.5h.1M96.4 717.8h.1M80.7 738.4h.1M82.9 731.4h.1M92.0 720.6h.1M82.9 728.9h.1M95.7 712.3h.1M105.8 712.8h.1M84.8 730.3h.1M78.9 733.7h.1M92.7 726.6h.1M82.2 735.5h.1M81.8 730.6h.1M91.2 727.1h.1M97.9 716.7h.1M79.0 737.4h.1M79.5 737.2h.1M90.3 726.5h.1M91.1 723.7h.1M107.8 706.9h.1M110.3 705.9h.1M80.1 737.2h.1M130.6 713.2h.1M129.6 708.4h.1M133.0 716.2h.1M131.7 718.5h.1M134.5 716.6h.1M130.2 714.5h.1M133.0 716.9h.1M134.1 714.5h.1M132.1 712.9h.1M135.1 714.7h.1M131.2 714.3h.1M131.9 718.2h.1M134.1 717.4h.1M130.7 711.4h.1M132.0 716.2h.1M136.3 719.9h.1M132.7 716.8h.1M128.3 717.6h.1M132.4 718.3h.1M132.3 712.8h.1M125.1 717.0h.1M131.2 712.7h.1M129.2 715.2h.1M129.0 716.4h.1M133.4 714.2h.1M130.0 715.5h.1M132.6 716.3h.1M129.2 715.8h.1M126.2 718.3h.1M129.7 718.7h.1M127.2 713.3h.1M135.5 714.9h.1M133.6 716.4h.1M130.1 712.4h.1M131.5 715.8h.1M129.8 708.1h.1M133.2 713.1h.1M128.5 714.5h.1M126.8 715.0h.1M132.5 717.0h.1M132.8 716.1h.1M135.5 712.8h.1M135.7 715.1h.1M135.6 718.9h.1M127.8 712.2h.1M137.7 713.6h.1M136.7 716.8h.1M129.6 713.6h.1M134.3 716.6h.1M135.9 714.1h.1M127.0 722.6h.1M133.7 708.9h.1M139.2 714.5h.1M131.1 719.7h.1M132.4 709.3h.1M127.5 720.0h.1M132.1 713.8h.1M131.6 717.5h.1M13.9 692.9h.1M13.0 687.9h.1M14.4 691.1h.1M16.9 688.1h.1M12.9 688.8h.1M19.4 688.5h.1M16.5 688.5h.1M13.4 692.5h.1M15.9 692.2h.1M15.3 688.6h.1M18.3 691.5h.1M13.7 689.7h.1M15.3 690.6h.1M15.0 689.6h.1M12.8 690.4h.1M13.9 691.7h.1M18.8 692.3h.1M16.5 692.9h.1M15.0 690.5h.1M21.5 688.7h.1M17.9 689.6h.1M19.6 688.5h.1M14.4 689.3h.1M17.6 690.3h.1M18.1 689.2h.1M13.4 689.0h.1M11.0 688.9h.1M19.2 689.5h.1M19.3 690.7h.1M38.0 701.7h.1M39.5 722.3h.1M52.8 719.4h.1M41.5 712.4h.1M57.6 725.7h.1M24.2 700.4h.1M62.5 721.2h.1M48.3 707.8h.1M56.6 722.8h.1M35.0 698.5h.1M47.0 703.0h.1M29.7 714.6h.1M31.6 693.7h.1M44.9 709.1h.1M32.2 701.9h.1M37.2 717.9h.1M31.6 701.4h.1M56.0 724.5h.1M61.2 721.1h.1M49.3 700.8h.1M47.0 717.8h.1M44.2 703.7h.1M51.2 726.8h.1M53.2 722.9h.1M51.2 719.3h.1M49.7 720.9h.1M44.1 706.4h.1M63.4 723.9h.1M37.0 713.0h.1M39.8 707.7h.1M39.1 705.6h.1M56.1 723.1h.1M58.4 714.6h.1M51.8 720.6h.1M38.5 705.8h.1M20.6 705.6h.1M42.8 727.6h.1M48.9 726.7h.1M48.0 741.1h.1M51.3 714.1h.1M38.6 698.8h.1M55.8 712.2h.1M42.0 712.8h.1M45.9 712.0h.1M60.7 718.1h.1M39.1 709.6h.1M45.7 713.4h.1M54.9 722.8h.1M46.5 720.8h.1M53.1 697.8h.1M29.1 702.6h.1M48.7 706.2h.1M36.0 723.3h.1M49.6 716.8h.1M35.9 703.2h.1M41.0 708.1h.1M37.4 719.1h.1M62.9 724.1h.1M46.3 709.1h.1M37.6 702.2h.1M46.8 715.5h.1M35.7 701.1h.1M36.6 713.9h.1M45.9 706.8h.1M36.7 728.6h.1M39.9 714.8h.1M17.1 695.2h.1M29.3 693.1h.1M52.1 705.4h.1M32.3 706.3h.1M52.5 720.6h.1M31.1 715.6h.1M49.9 728.0h.1M57.2 714.4h.1M38.0 709.0h.1M34.4 703.2h.1M46.4 713.8h.1M40.5 717.0h.1M21.9 702.2h.1M40.5 706.7h.1M45.6 717.1h.1M52.7 713.6h.1M44.6 711.8h.1M43.5 721.5h.1M57.2 716.9h.1M33.2 700.0h.1M54.1 732.0h.1" stroke="#e07890" stroke-width="0.85" stroke-linecap="round" stroke-opacity="1"/>
<path d="M19.2 717.8h.1M15.5 736.4h.1M68.5 718.1h.1M91.5 723.8h.1M108.2 701.0h.1M25.7 711.0h.1M88.2 732.4h.1M49.3 709.2h.1M20.4 712.8h.1M68.4 708.2h.1M30.0 701.5h.1M29.4 730.2h.1M38.1 741.8h.1M107.8 702.0h.1M84.6 731.9h.1M76.0 698.1h.1M72.5 741.0h.1M23.4 714.0h.1M76.8 697.2h.1M88.5 701.2h.1M81.1 701.2h.1M142.4 724.0h.1M63.5 716.8h.1M11.3 692.0h.1M57.1 718.8h.1M34.6 740.7h.1M80.0 697.2h.1M103.4 708.9h.1M92.3 709.6h.1M21.0 689.3h.1M19.8 739.4h.1M19.9 695.4h.1M10.7 690.4h.1M39.8 715.2h.1M19.5 692.1h.1M60.2 711.6h.1M44.3 702.2h.1M33.2 710.8h.1M51.2 729.5h.1M79.7 720.0h.1M65.7 712.6h.1M139.6 724.1h.1M13.1 710.7h.1M38.1 742.9h.1M75.0 702.2h.1M64.8 738.7h.1M36.6 690.5h.1M46.2 728.2h.1M13.7 718.8h.1M119.7 703.9h.1M89.5 708.4h.1M23.9 721.3h.1M67.0 708.4h.1M21.6 722.8h.1M94.1 718.6h.1M18.2 707.1h.1M31.5 738.6h.1M137.5 713.2h.1M34.8 696.2h.1M51.0 716.7h.1M92.2 725.2h.1M59.7 699.8h.1M22.5 723.7h.1M16.9 734.3h.1M56.6 730.2h.1M55.3 737.7h.1M24.1 740.5h.1M50.7 706.3h.1M11.9 701.7h.1M15.8 730.7h.1M132.2 712.9h.1M33.0 712.2h.1M111.7 721.7h.1M107.4 715.8h.1M99.7 734.7h.1M98.2 725.8h.1M46.9 708.6h.1M77.3 733.4h.1M59.8 724.7h.1M102.6 707.8h.1M11.8 689.5h.1M57.0 736.6h.1M49.3 706.6h.1M87.6 734.6h.1M59.4 715.4h.1M80.5 702.6h.1M121.4 706.0h.1M52.9 727.9h.1M97.3 724.5h.1M11.1 695.6h.1M65.1 727.8h.1M63.6 718.1h.1M36.2 697.3h.1M92.3 699.2h.1M33.4 741.2h.1M98.2 713.0h.1M67.4 695.9h.1M45.5 698.5h.1M71.9 732.5h.1M82.6 707.0h.1M138.2 714.4h.1M44.2 719.4h.1M26.1 728.1h.1M79.0 715.8h.1M65.1 741.2h.1M57.0 700.8h.1M55.1 695.4h.1M13.8 723.9h.1M26.0 721.2h.1M71.4 716.4h.1M139.0 720.2h.1M43.5 692.0h.1M109.8 713.5h.1M96.0 714.0h.1M54.9 705.7h.1M87.2 721.9h.1M104.9 722.5h.1M90.2 711.0h.1M129.9 726.9h.1M83.7 721.3h.1M21.4 740.0h.1M51.5 717.9h.1M64.3 707.5h.1M78.1 712.3h.1M102.1 703.9h.1M67.4 732.3h.1M109.9 718.8h.1M79.6 718.8h.1M101.3 726.4h.1M29.4 700.6h.1M65.2 707.8h.1M63.9 713.8h.1M93.6 712.3h.1M18.6 739.6h.1M105.5 725.2h.1M24.8 731.0h.1M54.2 731.7h.1M143.4 711.4h.1M78.5 697.8h.1M27.8 723.9h.1M25.2 703.6h.1M31.8 712.6h.1M120.3 705.5h.1M139.6 724.1h.1M65.1 695.3h.1M23.4 728.4h.1M61.3 718.7h.1M77.0 699.5h.1M82.0 711.2h.1M71.9 719.4h.1M89.5 714.0h.1M111.6 706.0h.1M89.2 711.2h.1M77.2 724.3h.1M61.9 729.4h.1M127.7 720.8h.1M85.4 726.7h.1M60.2 717.4h.1M56.0 713.9h.1M47.6 702.7h.1M105.7 704.4h.1M56.4 727.5h.1M66.4 709.8h.1M51.7 704.7h.1M92.0 704.5h.1M65.7 698.5h.1M101.1 710.3h.1M12.6 705.2h.1M16.9 722.3h.1M59.7 707.8h.1M102.3 721.6h.1M88.4 707.8h.1M76.5 724.7h.1M43.3 707.3h.1M116.8 724.0h.1M76.7 740.8h.1M27.9 704.4h.1M101.7 718.3h.1M110.7 710.3h.1M106.2 712.4h.1M46.2 735.4h.1M26.4 695.8h.1M62.2 707.9h.1M34.3 728.3h.1M69.0 732.6h.1M70.1 721.9h.1M61.8 725.3h.1M46.2 705.0h.1M18.5 741.8h.1M79.7 725.8h.1M67.8 724.9h.1M14.8 735.1h.1M142.4 717.3h.1M77.3 705.9h.1M34.3 732.4h.1M91.0 707.3h.1M112.3 729.3h.1M33.0 741.2h.1M127.8 704.4h.1M37.9 740.3h.1M14.3 717.2h.1M22.0 728.3h.1M45.7 726.9h.1M92.8 712.0h.1M18.6 732.1h.1M64.6 732.1h.1M41.3 725.7h.1M69.5 704.5h.1M56.6 699.2h.1M47.5 742.2h.1M43.8 719.5h.1M28.1 730.4h.1M97.6 712.5h.1M60.1 739.0h.1M66.2 726.2h.1M115.8 702.8h.1M110.8 709.7h.1M84.5 727.2h.1M59.2 741.1h.1M119.0 709.7h.1M65.7 715.7h.1M84.5 717.0h.1M118.5 721.8h.1M40.8 723.2h.1M16.7 708.3h.1M98.4 702.1h.1M98.1 719.5h.1M15.2 697.0h.1M110.2 731.5h.1M129.7 717.4h.1M81.1 699.0h.1M9.9 698.7h.1M109.2 725.1h.1M61.1 704.4h.1M29.9 721.9h.1M16.7 722.6h.1M71.7 727.7h.1M85.3 706.6h.1M126.2 705.0h.1M71.1 726.5h.1M115.9 701.2h.1M111.6 724.3h.1M131.3 713.5h.1M21.6 732.0h.1M17.7 704.0h.1M28.6 732.4h.1M43.1 738.4h.1M25.7 690.8h.1M72.0 700.7h.1M43.0 696.7h.1M39.1 691.7h.1M38.1 725.2h.1M60.7 709.3h.1M72.3 715.7h.1M36.3 691.3h.1M97.6 714.1h.1M41.9 729.3h.1M62.9 715.4h.1M142.8 720.2h.1M57.9 730.7h.1M61.4 736.0h.1M93.5 710.7h.1M56.6 717.0h.1M50.4 730.0h.1M56.2 740.4h.1M107.9 702.1h.1M128.1 711.3h.1M115.6 715.8h.1M38.0 704.9h.1M121.8 704.8h.1M83.2 704.6h.1M120.5 728.3h.1M106.3 714.4h.1M119.7 728.7h.1M73.7 723.6h.1M84.2 727.3h.1M78.7 737.0h.1M53.4 729.0h.1M46.7 708.0h.1M96.7 709.7h.1M58.0 735.6h.1M75.8 738.8h.1M83.3 734.2h.1M28.3 726.6h.1M16.6 731.5h.1M110.1 727.9h.1M59.6 712.1h.1M93.0 714.2h.1M80.0 700.3h.1M60.9 736.0h.1M92.7 726.0h.1M87.3 724.5h.1M58.6 717.6h.1M99.7 714.4h.1M45.1 722.1h.1M70.6 709.5h.1M73.1 737.8h.1M53.9 708.6h.1M54.1 730.6h.1M71.7 728.8h.1M20.5 712.8h.1M22.8 715.4h.1M39.4 724.7h.1M118.2 726.9h.1M15.5 735.1h.1M116.6 724.1h.1M76.2 732.2h.1M136.6 714.0h.1M63.6 718.5h.1M26.5 703.3h.1M60.1 721.8h.1M15.9 711.5h.1M38.8 693.9h.1M24.6 730.0h.1M112.1 718.7h.1M18.8 691.6h.1M43.6 695.8h.1M66.9 717.8h.1M40.3 741.6h.1M58.3 727.0h.1M9.4 689.3h.1M20.9 704.6h.1M77.5 706.4h.1M118.3 727.5h.1M70.3 729.3h.1M99.2 726.9h.1M13.5 742.4h.1M78.2 708.2h.1M69.6 698.0h.1M47.5 716.4h.1M35.3 732.0h.1M42.1 720.7h.1M82.7 718.6h.1M73.6 739.9h.1M40.2 709.3h.1M94.4 719.2h.1M37.0 717.6h.1M13.0 699.6h.1M108.7 731.4h.1M104.4 729.8h.1M89.4 730.4h.1M31.6 703.8h.1M71.5 732.8h.1M17.3 703.4h.1M40.7 699.4h.1M12.7 730.4h.1M53.8 733.5h.1M33.4 738.6h.1M39.8 732.0h.1M31.3 704.6h.1M37.0 698.8h.1M49.7 732.5h.1M92.2 724.5h.1M71.5 730.9h.1M20.5 722.3h.1M71.6 720.7h.1M18.0 726.9h.1M11.9 713.2h.1M22.3 716.7h.1M41.4 693.5h.1M45.5 727.5h.1M64.5 711.4h.1M103.6 719.3h.1M35.6 741.7h.1M29.3 718.7h.1M30.8 718.0h.1M109.5 720.0h.1M124.4 719.6h.1M14.3 701.6h.1M38.7 699.0h.1M92.2 700.6h.1M100.6 716.1h.1M25.4 721.5h.1M15.4 737.6h.1M76.3 738.7h.1M90.9 708.8h.1M114.9 728.3h.1M72.6 735.6h.1M39.7 741.1h.1M99.0 734.9h.1M89.5 702.8h.1M43.3 732.4h.1M39.3 705.7h.1M77.3 709.0h.1M140.1 725.0h.1M55.0 734.8h.1M53.0 698.6h.1M143.2 723.4h.1M64.2 699.9h.1M39.5 715.7h.1M106.8 708.8h.1M60.3 695.1h.1M52.1 707.8h.1M87.8 709.0h.1M120.1 728.4h.1M51.3 728.6h.1M88.6 714.5h.1M47.3 737.9h.1M117.6 726.1h.1M57.5 729.0h.1M49.0 716.5h.1M28.4 708.0h.1M57.7 739.9h.1M88.7 714.3h.1M62.3 704.4h.1M75.7 740.7h.1M120.2 728.6h.1M23.7 718.1h.1M75.9 733.8h.1M71.2 721.2h.1M29.7 738.7h.1M133.4 711.1h.1M21.0 693.6h.1M57.8 734.5h.1M38.8 693.1h.1M139.8 724.3h.1M29.8 702.0h.1M30.4 689.9h.1M35.4 733.5h.1M95.9 735.7h.1M136.9 716.6h.1M72.4 728.8h.1M34.1 706.3h.1M45.8 699.1h.1M15.2 696.4h.1M36.3 715.1h.1M73.5 735.9h.1M65.4 731.9h.1M109.7 730.0h.1M101.9 706.5h.1M44.1 696.4h.1M135.7 724.3h.1M72.2 697.3h.1M109.2 732.8h.1M54.0 695.3h.1M107.4 708.3h.1M106.1 707.4h.1M14.5 733.6h.1M94.1 725.0h.1M91.3 717.5h.1M42.8 700.8h.1M75.8 713.7h.1M78.3 697.0h.1M55.6 720.5h.1M63.9 730.3h.1M55.8 728.3h.1M67.0 701.8h.1M68.1 741.4h.1M140.5 717.6h.1M57.7 710.5h.1M12.8 735.7h.1M114.9 725.5h.1M79.4 740.5h.1M37.8 706.8h.1M11.7 706.5h.1M65.1 699.7h.1M64.5 736.5h.1M19.8 692.5h.1M47.1 695.5h.1M77.4 739.4h.1M31.7 718.2h.1M124.6 726.5h.1M28.1 702.1h.1M19.8 707.1h.1M120.6 710.7h.1M32.2 735.0h.1M134.2 712.2h.1M76.8 702.9h.1M61.0 695.6h.1M30.1 742.6h.1M139.4 708.2h.1M149.7 716.1h.1M38.7 732.3h.1M91.3 712.6h.1M20.2 693.1h.1M34.6 720.5h.1M30.3 737.1h.1M12.6 737.9h.1M56.8 712.4h.1M75.5 716.8h.1M57.4 695.2h.1M78.9 705.7h.1M109.8 713.4h.1M46.9 731.4h.1M19.3 714.1h.1M104.9 709.0h.1M123.3 724.5h.1M45.1 710.6h.1M87.8 731.0h.1M84.9 715.6h.1M17.6 688.2h.1M64.2 711.4h.1M83.8 737.0h.1M78.8 697.8h.1M27.5 736.9h.1M17.3 690.5h.1M86.6 734.2h.1M147.8 718.6h.1M74.7 728.0h.1M66.1 716.9h.1M36.4 706.9h.1M105.0 707.9h.1M136.2 715.3h.1M50.3 713.2h.1M127.5 713.6h.1M61.9 708.4h.1M106.5 716.3h.1M12.4 694.4h.1M133.1 722.4h.1M26.2 737.1h.1M100.9 718.9h.1M59.9 716.6h.1M63.8 727.8h.1M58.4 732.3h.1M29.3 725.3h.1M53.4 735.9h.1M18.5 708.2h.1M21.3 735.8h.1M30.1 733.9h.1M65.0 741.4h.1M21.0 701.0h.1M57.7 729.7h.1M96.6 709.2h.1M61.3 728.7h.1M60.1 739.1h.1M20.5 689.6h.1M92.8 715.3h.1M45.7 705.0h.1M61.6 727.3h.1M123.5 710.9h.1M86.2 733.0h.1M32.2 733.0h.1M34.9 735.7h.1M99.2 730.5h.1M40.1 711.1h.1M22.0 714.5h.1M85.6 707.6h.1M109.4 721.8h.1M27.5 693.0h.1M36.3 697.0h.1M13.8 732.0h.1M97.5 700.4h.1M72.6 701.0h.1M60.3 734.2h.1M41.3 699.4h.1M116.7 706.1h.1M70.9 702.7h.1M46.8 732.5h.1M21.4 726.1h.1M12.3 690.4h.1M95.2 729.9h.1M40.5 691.4h.1M88.3 702.2h.1M37.5 696.9h.1M65.7 718.9h.1M25.4 734.3h.1M110.9 706.6h.1M63.1 731.4h.1M47.4 719.5h.1M68.2 727.7h.1M47.3 740.7h.1M14.8 736.7h.1M12.2 729.4h.1M65.8 711.3h.1M73.9 703.6h.1M135.8 719.8h.1M135.5 719.9h.1M79.9 716.6h.1M96.4 731.0h.1M51.6 726.0h.1M60.5 711.1h.1M88.4 724.0h.1M116.5 727.5h.1M35.1 718.2h.1M111.3 721.6h.1M121.8 704.4h.1M33.3 703.6h.1M88.9 717.8h.1M77.6 719.2h.1M122.7 728.5h.1M28.3 697.0h.1M25.3 716.6h.1M120.9 721.3h.1M122.9 709.9h.1M11.9 739.6h.1M52.4 741.0h.1M61.8 727.5h.1M87.0 718.3h.1M96.9 731.9h.1M20.4 734.7h.1M34.6 713.5h.1M43.6 726.7h.1M118.9 718.9h.1M117.3 702.9h.1M146.2 717.9h.1M81.0 713.1h.1M12.3 710.3h.1M90.5 722.9h.1M38.9 725.5h.1M46.2 717.5h.1M105.3 710.6h.1M56.5 713.8h.1M69.9 712.6h.1M52.1 730.9h.1M66.6 726.0h.1M15.4 738.2h.1M11.9 710.0h.1M70.4 722.5h.1M50.9 692.8h.1M42.0 734.9h.1M15.3 732.2h.1M54.7 726.7h.1M101.0 706.2h.1M18.9 700.2h.1M66.2 730.9h.1M69.6 700.2h.1M110.5 732.4h.1M70.6 740.4h.1M29.2 692.8h.1M18.9 733.2h.1M27.4 724.4h.1M17.2 721.3h.1M13.3 735.1h.1M39.0 701.8h.1M33.4 732.3h.1M110.8 715.5h.1M110.3 732.7h.1M59.7 720.3h.1M49.3 739.5h.1M60.8 693.7h.1M72.5 717.2h.1M149.6 713.4h.1M47.3 708.3h.1M82.9 725.9h.1M125.4 726.1h.1M53.6 699.3h.1M82.6 721.5h.1M147.1 719.5h.1M122.9 705.3h.1M18.9 711.3h.1M33.1 703.2h.1M10.5 714.7h.1M70.6 706.4h.1M28.5 733.4h.1M109.2 712.6h.1M139.9 717.5h.1M131.9 725.4h.1M26.5 702.9h.1M101.2 703.9h.1M79.2 716.5h.1M43.3 706.7h.1M48.2 697.6h.1M62.4 702.6h.1M107.7 713.7h.1M79.3 738.7h.1M38.8 726.7h.1M102.6 712.0h.1M76.6 696.9h.1M60.9 718.0h.1M97.9 703.2h.1M82.9 730.9h.1M11.5 704.6h.1M80.0 725.1h.1M131.4 719.7h.1M102.2 703.4h.1M73.6 718.6h.1M93.5 728.5h.1M97.0 729.2h.1M105.4 723.8h.1M21.2 695.0h.1M12.4 696.1h.1M39.5 696.9h.1M56.6 713.6h.1M84.3 697.1h.1M54.6 730.1h.1M21.8 690.3h.1M46.5 727.9h.1M84.2 718.1h.1M72.9 738.4h.1M51.5 725.2h.1M117.1 705.9h.1M77.0 710.0h.1M117.2 706.3h.1M105.1 701.8h.1M33.4 730.0h.1M32.2 701.4h.1M111.8 728.4h.1M56.1 741.0h.1M112.4 719.6h.1M101.5 715.6h.1M130.7 708.5h.1M78.4 715.9h.1M85.3 733.7h.1M15.3 703.3h.1M108.3 709.5h.1M52.4 701.8h.1M46.4 696.3h.1M28.3 697.4h.1M47.4 694.8h.1M137.2 717.5h.1M58.6 704.1h.1M29.2 701.3h.1M60.6 732.4h.1M27.6 730.7h.1M29.9 732.6h.1M37.9 709.7h.1M77.0 738.2h.1M122.2 718.2h.1M29.2 698.9h.1M107.4 715.6h.1M31.6 707.8h.1M45.8 698.4h.1M34.4 702.6h.1M90.0 732.7h.1M45.9 731.3h.1M70.1 702.5h.1M89.1 730.6h.1M54.7 704.2h.1M35.2 711.2h.1M83.2 704.5h.1M136.3 720.5h.1M109.9 716.6h.1M21.9 714.8h.1M24.2 735.5h.1M57.2 698.3h.1M44.1 709.2h.1M66.4 735.7h.1M27.0 698.1h.1M72.9 721.5h.1M90.4 720.6h.1M31.3 723.7h.1M20.0 739.7h.1M45.0 706.0h.1M43.0 706.5h.1M94.2 734.5h.1M67.1 729.7h.1M39.0 719.1h.1M25.0 700.5h.1M108.7 713.8h.1M25.9 716.2h.1M94.5 726.7h.1M51.4 725.7h.1M104.5 712.6h.1M147.5 711.0h.1M102.5 702.8h.1M115.4 713.1h.1M102.3 724.6h.1M13.9 716.8h.1M78.5 713.1h.1M26.0 690.6h.1M84.1 703.8h.1M70.6 696.7h.1M132.4 718.7h.1M109.9 718.5h.1M19.4 692.0h.1M74.5 698.7h.1M43.2 726.0h.1M84.9 704.2h.1M81.6 724.2h.1M45.1 733.1h.1M137.6 718.0h.1M30.0 731.3h.1M40.5 726.7h.1M117.4 715.5h.1M98.3 720.2h.1M17.9 727.7h.1M132.3 707.0h.1M79.6 733.9h.1M59.8 706.6h.1M77.7 697.1h.1M81.7 718.7h.1M54.9 728.0h.1M12.0 716.4h.1M35.4 703.7h.1M11.9 723.5h.1M23.5 737.5h.1M48.4 718.4h.1M66.0 711.3h.1M49.8 722.2h.1M50.9 718.7h.1M15.4 731.5h.1M35.6 726.7h.1M63.5 711.1h.1M20.1 733.1h.1M22.9 732.8h.1M67.4 714.4h.1M17.9 740.3h.1M23.0 730.0h.1M40.9 726.0h.1M52.6 719.2h.1M44.7 715.0h.1M67.1 715.7h.1M65.4 716.3h.1M61.4 710.9h.1M43.0 729.8h.1M16.9 738.9h.1M42.4 721.9h.1M19.0 738.5h.1M21.5 731.0h.1M12.0 734.7h.1M62.7 715.0h.1M53.0 723.2h.1M60.4 717.8h.1M53.5 722.6h.1M44.7 724.1h.1M15.6 739.7h.1M32.6 729.4h.1M28.1 725.2h.1M45.0 725.2h.1M39.4 725.6h.1M54.4 721.9h.1M42.3 724.4h.1M46.3 720.0h.1M15.3 738.3h.1M21.2 732.3h.1M39.2 724.9h.1M13.1 729.1h.1M60.3 717.0h.1M53.1 717.8h.1M12.1 740.9h.1M31.7 726.1h.1M30.5 731.3h.1M33.6 721.8h.1M18.6 735.3h.1M41.1 723.1h.1M11.9 737.3h.1M26.5 731.1h.1M15.5 736.5h.1M19.9 737.0h.1M13.5 734.9h.1M58.4 718.6h.1M13.0 737.9h.1M43.2 723.2h.1M14.8 738.2h.1M24.5 731.5h.1M41.6 724.0h.1M15.8 736.1h.1M13.2 743.5h.1M15.3 732.9h.1M47.8 722.6h.1M28.4 734.8h.1M56.6 717.0h.1M17.4 734.5h.1M49.1 718.3h.1M47.3 723.7h.1M34.7 726.2h.1M58.4 718.4h.1M26.0 730.8h.1M61.9 718.6h.1M52.9 722.6h.1M17.5 738.5h.1M29.6 729.8h.1M51.1 714.9h.1M63.8 716.6h.1M34.1 729.9h.1M45.1 724.9h.1M42.4 724.4h.1M51.2 720.4h.1M56.0 719.8h.1M36.3 727.1h.1M47.7 727.2h.1M65.6 716.9h.1M41.9 723.9h.1M50.7 722.6h.1M60.8 720.8h.1M44.3 722.8h.1M43.9 721.8h.1M23.4 733.5h.1M25.4 735.8h.1M44.0 722.9h.1M31.0 731.6h.1M22.6 727.8h.1M62.4 717.3h.1M31.9 733.2h.1M31.8 725.7h.1M61.4 717.8h.1M41.1 722.1h.1M58.1 719.8h.1M41.7 719.2h.1M62.6 714.0h.1M36.2 729.0h.1M40.1 722.6h.1M37.2 724.6h.1M48.3 723.2h.1M38.9 726.1h.1M19.5 738.0h.1M48.1 723.0h.1M48.4 723.6h.1M35.9 725.6h.1M37.0 727.6h.1M44.2 727.2h.1M71.7 718.3h.1M20.7 726.9h.1M28.8 728.6h.1M32.9 728.3h.1M43.9 717.6h.1M62.6 715.7h.1M30.3 729.8h.1M40.4 722.1h.1M47.3 719.7h.1M37.4 726.7h.1M35.1 726.0h.1M31.2 730.4h.1M62.7 714.5h.1M23.2 731.5h.1M22.0 725.2h.1M18.5 737.9h.1M30.8 733.4h.1M44.9 715.5h.1M66.0 718.7h.1M52.8 722.7h.1M34.5 725.1h.1M19.0 732.9h.1M62.7 718.7h.1M43.4 722.2h.1M52.7 719.9h.1M43.3 730.2h.1M63.1 717.7h.1M60.0 719.0h.1M57.4 721.4h.1M31.8 732.9h.1M45.0 725.9h.1M67.4 710.5h.1M37.1 730.1h.1M64.3 712.2h.1M21.6 730.6h.1M34.1 731.9h.1M33.2 728.3h.1M16.9 732.5h.1M56.2 717.6h.1M53.5 718.4h.1M55.8 719.7h.1M36.0 726.7h.1M41.3 724.7h.1M31.0 726.1h.1M44.4 731.2h.1M37.1 726.1h.1M19.1 739.6h.1M47.7 720.0h.1M57.8 720.5h.1M29.8 733.2h.1M63.3 711.1h.1M52.4 721.2h.1M63.8 714.9h.1M38.6 730.8h.1M13.7 732.4h.1M28.6 737.2h.1M17.2 732.0h.1M26.1 725.2h.1M37.4 725.6h.1M89.8 730.3h.1M100.8 713.2h.1M97.2 713.2h.1M98.8 716.1h.1M108.3 708.4h.1M81.0 735.7h.1M110.2 708.0h.1M91.0 722.7h.1M97.3 711.7h.1M106.3 706.4h.1M111.6 705.5h.1M79.8 738.4h.1M102.4 710.2h.1M77.3 736.5h.1M89.0 726.0h.1M88.8 725.0h.1M100.1 710.4h.1M85.8 731.8h.1M86.1 734.5h.1M84.0 731.2h.1M93.5 717.4h.1M110.7 703.1h.1M77.7 736.8h.1M95.2 717.9h.1M106.1 706.7h.1M95.8 717.7h.1M102.3 712.3h.1M82.4 734.9h.1M94.2 729.0h.1M104.6 707.4h.1M88.4 731.9h.1M77.9 730.5h.1M101.2 715.3h.1M108.4 710.1h.1M83.9 736.6h.1M79.1 732.7h.1M85.4 732.3h.1M112.1 702.8h.1M96.5 723.5h.1M100.6 705.5h.1M82.5 727.4h.1M104.8 713.3h.1M100.1 717.6h.1M103.1 715.9h.1M90.6 721.8h.1M88.5 731.8h.1M99.4 719.3h.1M78.3 740.0h.1M84.3 730.0h.1M104.6 708.0h.1M90.2 725.3h.1M79.2 734.1h.1M104.1 712.3h.1M100.4 710.2h.1M78.4 738.0h.1M106.3 709.4h.1M102.6 710.1h.1M90.2 729.4h.1M78.3 730.5h.1M102.3 711.9h.1M98.7 718.2h.1M107.0 706.8h.1M91.9 719.6h.1M98.8 711.6h.1M80.3 739.3h.1M106.2 708.4h.1M101.6 712.5h.1M95.6 720.8h.1M94.4 724.0h.1M112.9 707.8h.1M89.4 725.1h.1M81.4 736.9h.1M86.6 731.3h.1M94.7 722.0h.1M109.7 705.8h.1M90.9 719.7h.1M95.0 715.7h.1M97.2 718.0h.1M78.4 734.5h.1M110.2 706.3h.1M102.7 711.4h.1M99.3 716.5h.1M89.3 726.4h.1M103.2 710.5h.1M91.3 725.6h.1M81.5 733.0h.1M107.0 706.2h.1M77.7 736.4h.1M111.0 707.2h.1M107.5 703.1h.1M97.4 717.0h.1M102.5 715.3h.1M80.9 730.1h.1M109.9 708.3h.1M92.1 722.2h.1M86.9 728.3h.1M100.2 712.2h.1M78.2 735.2h.1M83.4 727.5h.1M88.6 729.2h.1M91.9 726.9h.1M94.7 722.9h.1M80.5 733.0h.1M87.8 731.2h.1M109.4 704.4h.1M83.2 726.3h.1M78.7 737.8h.1M92.6 721.2h.1M103.8 710.5h.1M99.1 713.0h.1M104.1 705.8h.1M112.4 709.7h.1M95.6 721.2h.1M108.3 703.8h.1M86.7 726.9h.1M82.2 737.5h.1M101.7 716.0h.1M81.6 731.3h.1M110.1 701.4h.1M109.1 704.8h.1M88.0 725.2h.1M115.5 706.2h.1M92.2 721.4h.1M106.9 703.5h.1M109.3 707.9h.1M87.3 727.0h.1M88.3 719.5h.1M91.2 727.1h.1M98.5 717.7h.1M100.2 718.4h.1M81.9 736.2h.1M90.6 723.1h.1M78.5 737.8h.1M111.5 702.8h.1M103.5 704.4h.1M97.3 712.6h.1M102.1 716.2h.1M86.7 731.1h.1M84.7 726.0h.1M128.1 716.3h.1M123.6 709.8h.1M128.7 712.4h.1M134.0 717.6h.1M132.0 719.2h.1M129.9 717.8h.1M132.7 715.5h.1M129.9 714.6h.1M121.5 712.5h.1M135.0 712.3h.1M127.6 715.2h.1M131.0 711.7h.1M128.8 712.9h.1M137.6 715.6h.1M132.9 714.6h.1M126.4 716.6h.1M130.3 714.2h.1M124.9 718.0h.1M128.0 715.0h.1M127.5 713.0h.1M126.3 713.3h.1M128.8 716.8h.1M130.2 715.4h.1M134.9 718.2h.1M126.6 717.5h.1M135.8 715.6h.1M135.2 716.0h.1M131.1 711.6h.1M130.4 711.9h.1M127.7 719.8h.1M137.5 709.6h.1M128.6 715.9h.1M126.8 716.3h.1M130.8 714.9h.1M130.5 715.4h.1M132.7 716.8h.1M124.8 717.4h.1M132.3 709.5h.1M133.7 710.2h.1M134.1 709.8h.1M127.8 713.6h.1M18.0 689.4h.1M20.3 695.5h.1M14.6 690.9h.1M14.7 690.7h.1M11.7 687.3h.1M15.0 689.1h.1M12.8 693.4h.1M15.8 689.5h.1M13.7 690.4h.1M14.9 689.0h.1M13.5 690.6h.1M12.7 691.1h.1M18.8 691.8h.1M18.2 690.9h.1M13.2 688.5h.1M13.4 689.4h.1M16.1 689.8h.1M18.0 692.9h.1M14.3 691.7h.1M17.3 690.3h.1M16.4 689.3h.1M14.1 696.1h.1M11.9 692.7h.1M14.2 691.5h.1M17.3 690.6h.1M13.2 689.9h.1M15.4 692.0h.1M13.0 690.9h.1M14.1 690.4h.1M19.4 695.4h.1M11.5 688.2h.1M14.5 688.0h.1M13.3 692.2h.1M16.8 692.8h.1M18.3 690.6h.1M15.9 689.8h.1M20.6 689.4h.1M15.0 689.7h.1M53.0 726.0h.1M41.4 706.6h.1M40.1 724.1h.1M32.5 695.6h.1M34.0 699.9h.1M65.2 717.6h.1M31.3 701.0h.1M47.8 717.8h.1M50.6 714.3h.1M58.5 716.1h.1M64.0 708.7h.1M44.6 704.2h.1M42.8 699.3h.1M44.0 702.7h.1M41.6 704.2h.1M34.9 705.3h.1M59.0 715.7h.1M50.3 717.8h.1M42.4 705.5h.1M49.4 728.3h.1M57.8 722.1h.1M43.4 721.0h.1M47.0 704.7h.1M43.7 715.3h.1M39.8 709.5h.1M51.0 714.4h.1M54.1 724.7h.1M36.7 711.4h.1M61.6 718.7h.1M62.5 722.9h.1M34.5 700.5h.1M53.1 725.7h.1M39.9 703.9h.1M44.7 724.4h.1M33.5 697.0h.1M48.2 715.2h.1M49.9 714.1h.1M48.0 713.7h.1M50.3 725.2h.1M54.7 713.3h.1M37.6 708.1h.1M59.1 718.5h.1M41.0 711.9h.1M48.9 727.2h.1M42.8 715.7h.1M54.6 720.1h.1M58.5 720.6h.1M52.4 705.4h.1M38.8 699.6h.1M52.1 714.7h.1M44.8 714.3h.1M42.2 695.9h.1M26.8 695.8h.1M44.8 719.6h.1M42.3 721.6h.1M40.1 704.8h.1M66.6 721.6h.1" stroke="#d04868" stroke-width="0.85" stroke-linecap="round" stroke-opacity="1"/>
<path d="M39.4 691.9h.1M18.8 692.1h.1M96.9 715.5h.1M119.3 713.8h.1M83.5 737.4h.1M57.2 707.1h.1M17.5 727.4h.1M44.1 709.5h.1M67.9 707.6h.1M73.8 737.2h.1M65.5 709.6h.1M18.9 698.9h.1M21.2 741.5h.1M27.0 695.6h.1M117.4 705.7h.1M103.0 733.9h.1M88.0 705.7h.1M14.9 692.5h.1M107.3 713.0h.1M37.7 712.7h.1M29.2 737.8h.1M40.1 741.9h.1M103.8 699.8h.1M66.6 717.9h.1M17.1 726.6h.1M84.4 698.8h.1M82.0 701.1h.1M24.0 734.2h.1M102.2 718.4h.1M74.2 696.0h.1M46.4 692.1h.1M102.3 728.2h.1M117.5 728.5h.1M15.1 735.1h.1M145.2 708.6h.1M101.3 713.5h.1M108.8 700.3h.1M64.9 696.1h.1M35.9 708.4h.1M15.9 729.2h.1M66.6 700.7h.1M73.3 706.1h.1M22.1 738.6h.1M12.0 688.8h.1M64.5 740.4h.1M100.9 731.0h.1M10.4 704.3h.1M16.8 698.1h.1M20.4 700.0h.1M13.7 706.4h.1M35.3 740.9h.1M13.4 725.2h.1M20.0 691.6h.1M59.6 734.3h.1M54.8 729.4h.1M13.2 710.6h.1M12.3 700.4h.1M110.6 713.8h.1M42.5 736.6h.1M20.8 692.5h.1M33.5 694.6h.1M20.0 688.7h.1M32.2 727.0h.1M100.5 709.4h.1M66.6 737.8h.1M16.2 695.1h.1M103.8 705.6h.1M69.4 724.9h.1M72.4 722.6h.1M59.9 708.0h.1M16.6 716.0h.1M36.4 743.5h.1M44.7 717.8h.1M113.8 708.3h.1M60.1 731.0h.1M30.1 722.4h.1M92.6 698.7h.1M122.8 727.7h.1M93.4 720.3h.1M29.1 698.4h.1M76.8 718.0h.1M75.0 729.7h.1M110.0 702.2h.1M94.3 708.8h.1M115.7 723.4h.1M118.2 721.6h.1M90.5 703.5h.1M98.1 707.4h.1M61.8 704.4h.1M137.0 715.8h.1M121.9 729.2h.1M48.8 738.0h.1M13.7 709.9h.1M137.9 711.7h.1M105.5 723.9h.1M44.4 711.3h.1M37.3 707.0h.1M38.8 726.4h.1M10.8 711.1h.1M24.4 704.4h.1M123.9 723.5h.1M59.1 723.8h.1M77.7 739.1h.1M31.7 705.4h.1M15.5 734.3h.1M95.4 724.9h.1M39.1 725.4h.1M118.9 711.2h.1M98.2 727.8h.1M95.4 705.1h.1M60.5 724.1h.1M76.7 731.8h.1M43.9 709.3h.1M47.8 736.0h.1M134.7 717.0h.1M60.5 719.5h.1M43.9 740.1h.1M13.7 744.0h.1M13.8 708.2h.1M120.6 727.8h.1M75.8 708.3h.1M71.3 695.5h.1M45.9 693.2h.1M29.4 723.8h.1M35.3 712.0h.1M20.2 691.9h.1M50.3 693.1h.1M113.9 702.0h.1M34.3 702.7h.1M29.8 720.0h.1M32.3 734.6h.1M40.9 711.2h.1M81.7 709.0h.1M125.6 716.8h.1M132.9 721.9h.1M111.6 703.8h.1M43.4 705.7h.1M12.5 701.7h.1M82.4 716.7h.1M18.6 700.1h.1M13.0 691.3h.1M17.9 698.0h.1M11.7 699.6h.1M53.6 738.8h.1M52.1 721.7h.1M67.7 709.9h.1M84.7 709.1h.1M31.5 707.3h.1M86.0 702.5h.1M41.1 694.2h.1M49.0 710.2h.1M108.9 713.6h.1M89.1 700.0h.1M110.7 701.6h.1M107.2 729.5h.1M106.4 715.0h.1M42.7 700.8h.1M56.3 733.9h.1M103.6 721.4h.1M17.1 693.1h.1M41.2 694.9h.1M21.6 689.2h.1M102.8 708.4h.1M60.1 700.8h.1M35.5 725.6h.1M82.1 713.4h.1M45.1 698.0h.1M11.9 743.9h.1M30.2 740.6h.1M57.6 695.6h.1M13.9 697.4h.1M38.9 734.2h.1M53.6 706.3h.1M58.7 718.7h.1M38.1 738.2h.1M21.3 722.3h.1M41.6 722.6h.1M52.8 731.5h.1M30.3 723.2h.1M99.3 706.8h.1M89.1 710.6h.1M13.3 688.1h.1M44.4 705.4h.1M118.9 712.2h.1M22.8 696.6h.1M21.7 706.5h.1M65.6 705.3h.1M63.3 695.6h.1M45.1 722.1h.1M73.6 720.2h.1M81.4 721.1h.1M42.2 723.2h.1M54.7 707.8h.1M107.7 712.8h.1M97.4 717.1h.1M46.6 712.2h.1M72.2 709.6h.1M24.2 719.4h.1M108.5 712.1h.1M33.9 690.7h.1M104.2 729.6h.1M50.7 705.9h.1M105.7 727.9h.1M131.5 718.7h.1M103.2 704.1h.1M52.5 701.2h.1M38.4 724.5h.1M13.9 699.6h.1M50.3 727.9h.1M28.4 737.7h.1M109.3 712.4h.1M74.9 728.9h.1M16.0 706.1h.1M123.9 728.7h.1M14.5 720.3h.1M124.7 706.6h.1M54.0 740.6h.1M97.7 735.7h.1M91.7 733.3h.1M24.6 733.8h.1M47.4 727.4h.1M62.3 738.6h.1M32.7 707.2h.1M113.6 725.9h.1M60.3 725.0h.1M17.4 724.7h.1M101.1 733.3h.1M47.6 738.3h.1M36.9 705.4h.1M64.9 709.1h.1M46.8 698.7h.1M48.5 717.8h.1M27.6 727.5h.1M85.3 713.9h.1M21.6 693.4h.1M102.4 701.4h.1M90.7 711.8h.1M24.1 695.8h.1M36.3 703.0h.1M39.3 720.7h.1M130.9 706.4h.1M37.3 713.2h.1M25.7 715.6h.1M87.9 720.3h.1M96.4 705.6h.1M12.3 734.8h.1M82.8 713.2h.1M47.9 701.3h.1M61.1 717.9h.1M102.1 721.4h.1M40.5 729.8h.1M18.6 727.5h.1M85.2 700.4h.1M74.1 728.7h.1M42.0 714.4h.1M75.7 704.8h.1M95.2 701.8h.1M76.4 718.5h.1M42.2 696.6h.1M28.6 691.1h.1M146.9 718.2h.1M81.4 737.9h.1M100.7 714.0h.1M105.0 732.0h.1M32.1 690.6h.1M121.7 713.0h.1M22.2 725.2h.1M50.2 723.8h.1M27.5 690.5h.1M18.9 709.2h.1M72.8 736.1h.1M118.4 708.3h.1M115.6 731.4h.1M32.2 717.6h.1M32.9 696.9h.1M45.8 729.6h.1M94.7 703.6h.1M24.6 700.0h.1M44.9 724.7h.1M61.5 722.4h.1M74.6 710.1h.1M101.9 719.7h.1M40.0 737.9h.1M98.6 733.3h.1M42.1 699.4h.1M92.1 728.5h.1M136.5 719.2h.1M37.2 696.2h.1M80.6 697.5h.1M66.2 707.3h.1M56.6 727.6h.1M14.8 732.2h.1M59.3 723.2h.1M96.5 733.4h.1M48.1 706.1h.1M79.5 729.0h.1M89.9 728.9h.1M122.7 706.3h.1M30.1 730.8h.1M137.8 720.7h.1M62.4 737.5h.1M81.1 715.8h.1M73.7 736.7h.1M45.8 716.1h.1M13.8 713.7h.1M17.9 709.0h.1M39.1 710.9h.1M123.4 726.3h.1M106.1 718.9h.1M118.4 705.2h.1M18.5 734.8h.1M92.6 711.7h.1M69.1 704.7h.1M14.3 710.9h.1M23.0 740.3h.1M50.4 740.8h.1M26.9 690.8h.1M27.7 718.3h.1M82.4 701.3h.1M86.8 706.6h.1M27.5 706.5h.1M132.2 712.2h.1M39.1 704.9h.1M41.3 706.1h.1M47.2 731.7h.1M32.9 716.4h.1M66.6 700.3h.1M105.9 725.9h.1M50.2 717.7h.1M71.4 734.8h.1M21.9 740.3h.1M29.3 727.3h.1M74.5 707.0h.1M65.9 696.1h.1M112.9 724.9h.1M31.1 731.0h.1M146.9 712.0h.1M71.0 725.8h.1M35.8 692.7h.1M40.3 736.9h.1M118.0 719.8h.1M101.0 708.3h.1M44.8 691.9h.1M43.4 737.6h.1M25.2 730.2h.1M116.5 710.7h.1M40.7 711.0h.1M105.1 720.6h.1M47.9 734.7h.1M25.7 726.4h.1M109.1 722.5h.1M74.8 715.0h.1M62.9 698.4h.1M100.7 734.9h.1M23.4 733.1h.1M124.1 707.9h.1M28.4 734.3h.1M105.2 703.6h.1M111.1 708.5h.1M76.5 724.4h.1M15.0 697.9h.1M66.1 719.8h.1M46.9 732.3h.1M75.2 712.3h.1M12.4 692.6h.1M107.7 718.6h.1M119.4 712.6h.1M35.6 706.1h.1M14.2 732.4h.1M12.7 735.5h.1M130.9 715.2h.1M56.1 718.2h.1M23.3 712.3h.1M32.1 735.4h.1M22.8 731.1h.1M35.2 727.6h.1M48.9 731.4h.1M123.5 718.1h.1M133.0 710.5h.1M35.6 737.4h.1M142.4 712.8h.1M12.5 735.8h.1M82.6 720.6h.1M43.0 723.1h.1M55.7 709.1h.1M20.1 705.6h.1M97.8 703.0h.1M75.4 696.1h.1M10.7 712.6h.1M13.1 718.4h.1M98.5 724.3h.1M22.6 701.4h.1M57.5 716.2h.1M44.4 720.3h.1M27.5 726.2h.1M36.2 723.0h.1M141.5 709.1h.1M131.0 726.0h.1M66.5 694.7h.1M33.8 731.8h.1M53.4 694.1h.1M34.7 692.2h.1M29.3 726.2h.1M92.6 715.4h.1M69.4 711.2h.1M43.0 716.9h.1M11.3 728.5h.1M104.0 712.8h.1M25.2 721.2h.1M69.2 699.3h.1M23.1 720.9h.1M90.3 705.6h.1M125.2 704.5h.1M27.2 739.6h.1M87.6 728.8h.1M84.1 721.9h.1M133.3 705.5h.1M59.1 726.9h.1M107.5 724.8h.1M87.6 718.0h.1M31.1 717.3h.1M41.9 705.1h.1M26.4 691.3h.1M54.6 702.0h.1M100.9 712.6h.1M11.1 711.0h.1M88.6 707.7h.1M42.5 727.8h.1M29.3 691.4h.1M141.8 706.5h.1M29.7 740.1h.1M43.2 693.0h.1M24.2 699.8h.1M75.8 696.0h.1M23.3 723.1h.1M105.0 710.7h.1M62.5 694.8h.1M44.1 726.7h.1M18.2 704.6h.1M34.5 713.6h.1M37.6 736.3h.1M12.4 742.4h.1M13.9 734.8h.1M53.3 702.3h.1M95.2 726.6h.1M56.7 710.8h.1M52.8 735.8h.1M90.4 710.4h.1M33.4 702.1h.1M42.0 738.9h.1M98.2 722.7h.1M58.1 698.5h.1M48.4 698.3h.1M44.9 710.6h.1M38.3 697.6h.1M23.8 708.2h.1M84.2 706.5h.1M39.7 719.7h.1M138.0 711.8h.1M40.3 727.9h.1M46.4 725.5h.1M79.6 715.8h.1M68.1 715.2h.1M82.3 700.3h.1M75.9 738.3h.1M61.3 736.1h.1M100.5 722.5h.1M18.7 709.3h.1M53.5 705.6h.1M22.4 730.2h.1M26.7 716.2h.1M26.6 732.6h.1M34.7 698.2h.1M112.9 708.8h.1M91.5 700.7h.1M130.5 708.2h.1M74.8 708.9h.1M53.5 721.5h.1M84.6 699.8h.1M51.9 724.2h.1M140.2 718.9h.1M13.4 690.0h.1M47.1 742.3h.1M10.0 690.6h.1M56.1 695.5h.1M29.1 693.0h.1M51.0 707.9h.1M15.7 727.5h.1M50.5 693.5h.1M78.5 718.4h.1M84.6 723.3h.1M111.0 724.5h.1M68.8 704.0h.1M20.8 691.1h.1M69.8 722.0h.1M20.6 727.8h.1M15.3 741.1h.1M106.9 722.5h.1M125.7 726.1h.1M13.4 687.7h.1M22.0 708.5h.1M85.6 713.6h.1M35.0 728.0h.1M72.7 704.3h.1M133.5 712.0h.1M60.3 725.1h.1M33.7 704.6h.1M117.6 702.9h.1M98.7 700.7h.1M110.5 705.9h.1M78.3 696.2h.1M127.9 727.5h.1M75.7 730.8h.1M52.1 727.9h.1M122.8 726.5h.1M90.4 729.3h.1M13.6 733.0h.1M141.3 708.3h.1M21.3 728.7h.1M41.3 736.8h.1M76.9 702.4h.1M55.2 694.5h.1M101.4 704.2h.1M115.6 704.0h.1M74.3 716.3h.1M39.5 742.3h.1M31.6 723.2h.1M129.5 727.0h.1M60.4 730.8h.1M103.4 715.3h.1M31.6 695.0h.1M114.5 713.3h.1M79.4 698.9h.1M142.0 719.1h.1M109.3 704.2h.1M16.8 709.6h.1M124.3 729.4h.1M20.7 717.1h.1M44.9 734.2h.1M76.8 718.6h.1M38.1 736.3h.1M99.4 706.5h.1M132.8 717.3h.1M56.4 730.4h.1M21.8 740.4h.1M110.5 720.5h.1M121.8 715.3h.1M68.4 734.3h.1M25.4 723.6h.1M22.3 694.6h.1M12.4 695.7h.1M145.2 720.3h.1M57.3 707.5h.1M59.7 731.8h.1M146.5 714.3h.1M47.0 710.9h.1M61.4 717.3h.1M64.9 722.5h.1M50.3 698.8h.1M79.4 696.4h.1M40.9 696.8h.1M60.9 705.9h.1M60.8 699.7h.1M31.0 719.7h.1M69.2 705.0h.1M62.3 725.8h.1M111.6 728.4h.1M34.1 731.4h.1M26.6 717.5h.1M108.0 710.8h.1M50.3 711.4h.1M73.3 705.1h.1M57.9 711.9h.1M112.3 723.0h.1M117.6 727.0h.1M91.2 697.8h.1M19.3 721.3h.1M19.7 739.9h.1M62.4 726.8h.1M129.4 710.9h.1M66.9 721.2h.1M110.9 707.7h.1M122.7 714.2h.1M117.2 716.8h.1M92.7 717.2h.1M66.1 715.3h.1M10.8 691.1h.1M132.9 711.5h.1M116.2 728.1h.1M120.0 708.3h.1M55.8 702.0h.1M27.5 697.4h.1M28.2 721.3h.1M93.2 710.4h.1M45.3 710.2h.1M57.7 726.8h.1M78.8 711.2h.1M110.9 715.1h.1M91.4 702.5h.1M10.4 687.1h.1M59.7 734.0h.1M57.8 740.3h.1M81.2 696.4h.1M128.2 727.1h.1M77.1 730.6h.1M92.3 736.0h.1M58.9 715.5h.1M10.4 710.3h.1M27.5 716.1h.1M108.4 727.2h.1M29.5 694.0h.1M28.8 702.3h.1M73.6 739.9h.1M52.7 740.5h.1M105.9 702.0h.1M42.9 740.3h.1M124.3 711.0h.1M68.8 734.9h.1M112.2 720.0h.1M36.3 705.1h.1M118.2 717.2h.1M112.9 712.7h.1M66.9 706.7h.1M115.3 716.5h.1M41.7 699.1h.1M70.1 699.2h.1M61.0 703.9h.1M41.5 696.0h.1M127.0 711.2h.1M20.7 725.4h.1M47.5 701.2h.1M134.7 722.0h.1M25.3 737.3h.1M126.5 718.6h.1M134.4 710.7h.1M30.0 721.2h.1M85.3 707.2h.1M110.0 723.5h.1M127.2 704.7h.1M139.3 711.9h.1M85.5 721.5h.1M48.7 740.9h.1M46.3 698.0h.1M75.6 722.6h.1M105.6 725.9h.1M18.0 717.6h.1M83.7 718.6h.1M60.7 725.2h.1M25.8 701.4h.1M16.1 710.6h.1M47.0 738.2h.1M92.3 706.7h.1M92.1 725.3h.1M33.4 694.2h.1M14.3 714.1h.1M57.0 717.3h.1M109.4 731.4h.1M21.2 703.4h.1M34.4 700.4h.1M54.6 707.2h.1M138.0 715.1h.1M80.5 729.9h.1M81.2 710.2h.1M117.7 722.5h.1M22.4 705.0h.1M93.6 701.3h.1M23.4 735.2h.1M117.4 711.0h.1M101.6 720.5h.1M41.8 721.9h.1M44.8 709.9h.1M45.8 691.9h.1M55.5 722.3h.1M93.0 710.4h.1M74.5 722.2h.1M20.1 725.5h.1M41.1 728.4h.1M48.6 719.5h.1M109.2 709.1h.1M144.9 717.0h.1M149.5 712.1h.1M40.7 701.0h.1M28.6 703.8h.1M63.6 702.0h.1M81.7 737.9h.1M115.1 705.5h.1M46.6 728.4h.1M21.1 700.5h.1M145.6 711.9h.1M62.7 699.5h.1M32.0 720.0h.1M44.0 726.6h.1M22.4 701.4h.1M50.5 718.1h.1M60.5 712.2h.1M18.5 736.9h.1M20.9 715.8h.1M21.4 725.2h.1M67.4 698.0h.1M34.5 738.7h.1M36.4 730.8h.1M122.5 729.4h.1M110.4 710.5h.1M27.2 736.1h.1M11.9 694.8h.1M104.7 706.1h.1M88.7 719.7h.1M51.5 714.8h.1M40.9 738.3h.1M13.0 734.4h.1M75.5 697.4h.1M36.8 739.6h.1M70.2 696.5h.1M13.3 730.7h.1M51.9 711.0h.1M16.6 714.7h.1M127.0 705.4h.1M47.5 713.1h.1M32.4 692.2h.1M76.0 735.8h.1M13.7 732.8h.1M47.6 692.0h.1M71.8 726.7h.1M71.4 716.9h.1M51.9 729.0h.1M23.0 697.8h.1M78.3 719.8h.1M103.8 725.8h.1M49.8 726.3h.1M56.9 741.2h.1M53.1 692.7h.1M43.1 705.3h.1M69.9 720.3h.1M122.4 726.5h.1M109.5 718.9h.1M63.1 697.6h.1M50.7 711.0h.1M79.5 719.4h.1M38.9 696.2h.1M79.6 723.7h.1M103.1 699.8h.1M128.6 727.9h.1M100.9 722.5h.1M135.7 705.1h.1M118.0 701.9h.1M37.5 715.5h.1M60.6 708.8h.1M53.8 703.2h.1M93.5 720.3h.1M75.1 712.7h.1M72.4 705.9h.1M41.5 706.8h.1M65.8 710.7h.1M24.8 691.1h.1M98.6 702.0h.1M53.0 693.4h.1M42.0 711.8h.1M108.5 732.7h.1M61.5 728.9h.1M15.2 734.1h.1M88.3 723.7h.1M22.0 732.8h.1M72.9 733.7h.1M135.5 722.5h.1M34.3 730.3h.1M16.2 721.2h.1M101.2 717.6h.1M41.0 700.0h.1M55.2 725.3h.1M74.1 716.4h.1M147.8 709.9h.1M34.7 696.0h.1M87.9 705.7h.1M67.9 708.0h.1M88.4 732.3h.1M77.4 705.9h.1M84.1 728.0h.1M30.5 728.2h.1M20.1 694.5h.1M75.9 699.4h.1M75.3 734.7h.1M84.2 717.8h.1M125.2 725.7h.1M36.5 710.0h.1M47.0 707.0h.1M65.9 709.8h.1M101.3 716.8h.1M31.9 702.4h.1M114.9 707.5h.1M86.5 699.0h.1M65.6 709.9h.1M13.2 738.0h.1M54.0 715.8h.1M62.0 713.6h.1M41.6 723.8h.1M61.6 719.8h.1M11.5 731.2h.1M18.6 732.9h.1M44.8 722.0h.1M44.5 719.6h.1M62.5 715.0h.1M39.3 724.9h.1M19.0 733.2h.1M30.5 727.8h.1M28.1 735.1h.1M36.0 727.0h.1M45.8 712.9h.1M38.6 722.3h.1M40.4 724.0h.1M24.1 735.3h.1M62.6 710.6h.1M32.1 737.5h.1M53.1 715.8h.1M14.6 738.0h.1M43.2 725.0h.1M45.3 725.0h.1M22.5 725.9h.1M52.1 721.9h.1M31.6 730.8h.1M43.4 720.7h.1M60.5 715.1h.1M46.2 724.1h.1M24.7 729.1h.1M26.1 736.6h.1M47.3 717.4h.1M35.8 725.0h.1M35.9 726.1h.1M35.6 725.4h.1M53.7 715.8h.1M35.0 729.3h.1M17.7 736.1h.1M29.9 733.1h.1M28.9 730.0h.1M53.3 723.0h.1M58.1 712.8h.1M59.0 713.4h.1M21.2 732.3h.1M27.0 727.5h.1M30.6 727.6h.1M45.7 727.4h.1M32.9 730.8h.1M59.8 717.4h.1M40.4 729.6h.1M43.6 729.6h.1M54.0 722.5h.1M40.1 729.5h.1M29.8 727.4h.1M61.3 716.3h.1M45.0 725.8h.1M67.1 716.3h.1M15.2 735.4h.1M21.3 734.1h.1M56.3 722.6h.1M29.9 732.4h.1M63.8 714.7h.1M13.8 738.6h.1M15.1 738.2h.1M66.8 710.2h.1M23.6 733.0h.1M25.1 735.8h.1M52.1 720.7h.1M35.1 727.5h.1M15.6 733.5h.1M56.2 718.4h.1M66.2 715.1h.1M58.6 715.2h.1M52.4 717.6h.1M41.1 728.3h.1M46.7 723.5h.1M25.9 731.2h.1M57.2 713.4h.1M28.7 731.9h.1M21.1 730.9h.1M30.2 729.8h.1M34.7 726.6h.1M52.7 722.5h.1M55.7 725.2h.1M65.9 715.7h.1M34.8 725.5h.1M42.5 727.2h.1M41.5 723.5h.1M26.9 731.9h.1M40.4 727.5h.1M48.4 727.2h.1M40.1 720.7h.1M49.9 715.8h.1M14.9 734.2h.1M57.3 718.2h.1M29.3 728.8h.1M19.7 734.1h.1M45.7 718.2h.1M15.8 732.2h.1M54.2 712.2h.1M15.6 733.5h.1M58.4 718.7h.1M16.7 732.2h.1M33.0 730.1h.1M30.0 727.4h.1M25.7 728.2h.1M38.4 727.6h.1M18.8 737.6h.1M54.2 713.6h.1M51.0 725.4h.1M12.8 735.6h.1M31.1 729.2h.1M38.6 724.4h.1M39.9 720.5h.1M56.3 723.0h.1M56.3 723.1h.1M21.1 732.6h.1M13.4 739.7h.1M36.8 720.9h.1M43.5 723.6h.1M31.0 731.5h.1M26.0 736.0h.1M58.3 713.8h.1M56.1 718.3h.1M50.8 724.6h.1M29.9 731.4h.1M22.8 743.5h.1M25.0 728.9h.1M19.3 730.4h.1M31.4 730.4h.1M28.4 734.1h.1M53.6 721.4h.1M51.2 714.7h.1M48.5 726.9h.1M56.1 719.1h.1M44.0 720.1h.1M40.6 725.3h.1M53.3 716.5h.1M26.0 735.0h.1M51.1 717.8h.1M30.6 725.7h.1M28.6 728.6h.1M59.0 719.3h.1M31.3 727.8h.1M24.1 728.2h.1M57.3 715.0h.1M51.8 716.2h.1M16.1 731.8h.1M36.2 733.2h.1M22.7 736.9h.1M47.9 721.3h.1M59.2 713.1h.1M31.4 723.5h.1M58.1 718.4h.1M41.3 724.1h.1M60.7 719.4h.1M56.3 720.8h.1M53.8 714.5h.1M37.3 728.2h.1M15.9 737.8h.1M41.0 725.3h.1M48.8 725.3h.1M52.9 715.3h.1M27.8 723.4h.1M31.3 725.3h.1M66.1 719.7h.1M62.0 716.6h.1M27.4 731.7h.1M25.9 732.7h.1M106.4 708.3h.1M93.7 717.8h.1M103.1 709.9h.1M105.5 715.2h.1M89.0 724.6h.1M86.6 726.2h.1M109.6 701.7h.1M86.7 729.8h.1M101.5 712.6h.1M89.4 726.4h.1M88.8 724.6h.1M104.1 711.3h.1M78.6 734.2h.1M94.4 720.3h.1M99.0 719.4h.1M83.2 729.9h.1M99.2 711.6h.1M83.9 730.3h.1M90.2 725.9h.1M81.6 729.7h.1M81.3 729.8h.1M85.1 728.1h.1M86.5 731.3h.1M75.9 740.1h.1M97.4 720.4h.1M97.7 723.2h.1M74.9 739.7h.1M87.5 727.7h.1M96.2 721.4h.1M106.0 707.4h.1M104.8 709.7h.1M95.9 723.2h.1M93.9 725.6h.1M108.8 708.6h.1M107.5 700.4h.1M91.9 726.8h.1M106.9 706.1h.1M96.1 719.1h.1M81.6 732.7h.1M101.7 710.1h.1M76.3 739.1h.1M85.6 729.5h.1M76.0 737.5h.1M85.0 729.8h.1M80.1 735.2h.1M102.9 709.9h.1M106.2 711.0h.1M92.9 726.1h.1M96.4 719.5h.1M89.7 718.5h.1M77.3 740.2h.1M93.7 720.7h.1M77.6 736.5h.1M88.1 725.0h.1M75.5 737.3h.1M106.4 709.2h.1M73.1 740.8h.1M106.1 705.5h.1M90.1 723.5h.1M88.2 723.8h.1M102.0 708.1h.1M103.3 714.4h.1M83.2 732.2h.1M106.4 706.6h.1M77.8 738.0h.1M108.3 701.3h.1M82.0 738.7h.1M94.6 716.5h.1M96.5 721.0h.1M104.6 715.2h.1M93.5 723.0h.1M84.5 736.3h.1M103.7 712.5h.1M105.2 709.9h.1M91.9 731.4h.1M96.4 718.4h.1M91.5 721.7h.1M104.0 713.4h.1M96.8 721.1h.1M100.5 712.0h.1M82.5 730.7h.1M78.5 735.0h.1M105.6 709.9h.1M79.1 733.8h.1M84.3 730.6h.1M80.1 732.8h.1M80.8 739.0h.1M104.2 713.5h.1M85.7 728.4h.1M100.4 717.9h.1M109.9 704.1h.1M92.0 717.4h.1M104.3 711.8h.1M107.6 707.7h.1M87.6 726.4h.1M88.8 724.6h.1M90.4 723.2h.1M88.3 730.3h.1M102.3 710.6h.1M101.3 717.6h.1M100.8 714.5h.1M78.4 740.0h.1M98.4 717.7h.1M83.8 729.5h.1M114.2 706.3h.1M85.3 733.3h.1M106.7 712.2h.1M80.8 734.0h.1M102.0 714.6h.1M86.2 726.8h.1M82.7 734.4h.1M87.2 728.6h.1M95.1 717.4h.1M128.3 713.3h.1M130.2 711.4h.1M130.0 720.2h.1M126.9 714.3h.1M133.5 716.2h.1M130.1 720.7h.1M130.7 709.9h.1M132.6 716.4h.1M132.5 713.3h.1M128.2 714.5h.1M128.0 713.1h.1M134.5 714.1h.1M135.7 716.7h.1M137.4 715.2h.1M136.6 716.4h.1M129.7 713.2h.1M132.0 708.6h.1M127.2 713.2h.1M134.2 711.8h.1M130.7 711.6h.1M133.6 712.8h.1M128.7 721.1h.1M129.3 715.5h.1M132.1 713.5h.1M131.3 713.8h.1M132.6 714.6h.1M134.9 719.5h.1M127.4 716.6h.1M130.7 712.6h.1M131.4 719.4h.1M132.7 716.6h.1M128.6 714.0h.1M135.5 712.3h.1M125.5 715.7h.1M130.0 718.9h.1M133.5 717.6h.1M130.2 715.5h.1M131.2 713.9h.1M127.2 715.3h.1M130.8 715.8h.1M128.2 714.6h.1M128.0 714.8h.1M131.2 712.7h.1M129.0 716.1h.1M133.5 711.9h.1M136.1 714.5h.1M129.1 710.1h.1M130.5 715.8h.1M127.8 718.2h.1M126.5 712.0h.1M131.4 715.3h.1M130.1 716.1h.1M131.4 710.5h.1M130.6 714.6h.1M132.6 713.9h.1M130.5 711.7h.1M132.9 719.8h.1M131.5 714.5h.1M130.8 718.6h.1M130.2 715.0h.1M127.2 711.8h.1M132.3 714.7h.1M130.5 717.1h.1M20.0 692.8h.1M17.0 690.4h.1M16.1 689.1h.1M13.9 689.2h.1M10.0 691.6h.1M18.7 692.3h.1M11.4 694.6h.1M13.0 687.9h.1M20.2 690.8h.1M14.2 693.2h.1M10.0 694.1h.1M12.1 687.5h.1M14.9 692.2h.1M12.4 690.7h.1M18.6 693.2h.1M12.7 689.0h.1M16.5 690.5h.1M12.9 690.9h.1M17.4 692.7h.1M18.5 688.7h.1M13.7 689.6h.1M11.4 688.3h.1M13.9 689.0h.1M14.3 688.3h.1M11.9 690.2h.1M19.2 695.6h.1M14.5 690.7h.1M17.1 690.3h.1M15.0 692.0h.1M33.9 705.6h.1M28.6 692.5h.1M51.7 716.1h.1M29.0 709.5h.1M47.2 709.4h.1M50.9 717.2h.1M57.4 705.7h.1M50.3 717.9h.1M29.2 699.1h.1M40.0 707.6h.1M36.9 703.1h.1M44.2 711.5h.1M27.6 698.0h.1M43.7 709.9h.1M66.4 723.5h.1M56.6 720.6h.1M61.0 717.3h.1M49.1 726.8h.1M30.7 705.5h.1M46.3 704.2h.1M63.9 722.4h.1M41.7 706.1h.1M44.1 713.1h.1M32.1 708.1h.1M57.6 713.5h.1M26.0 703.6h.1M56.1 723.1h.1M53.8 722.0h.1M50.4 707.2h.1M33.6 696.5h.1M56.1 731.9h.1M35.1 719.3h.1M31.3 703.3h.1M31.0 703.6h.1M38.4 714.5h.1M41.3 708.8h.1M50.6 717.5h.1M60.9 723.5h.1M30.8 708.5h.1M32.0 708.5h.1M60.2 717.8h.1M36.2 704.8h.1M47.9 715.2h.1M30.0 703.1h.1M44.4 705.5h.1M27.5 693.7h.1M53.0 723.5h.1M40.4 719.4h.1M29.9 704.1h.1M48.0 730.6h.1M44.8 708.6h.1M50.5 726.6h.1M45.9 719.5h.1M64.2 720.9h.1M34.9 694.0h.1M47.2 715.7h.1M46.4 710.5h.1M55.8 717.9h.1M33.4 698.9h.1M42.5 714.6h.1M62.7 723.1h.1M36.4 712.5h.1M56.1 707.5h.1M43.9 700.2h.1M50.6 725.2h.1M37.9 699.9h.1M44.8 708.8h.1M30.0 704.2h.1M52.4 716.9h.1M40.2 708.0h.1M52.3 724.2h.1M51.3 723.3h.1M67.0 721.3h.1M32.3 697.0h.1M32.3 694.7h.1M38.6 709.9h.1M22.6 709.7h.1M56.9 716.7h.1M31.7 718.3h.1M46.8 709.3h.1M44.3 705.6h.1M34.9 717.4h.1M32.9 721.4h.1M45.5 706.2h.1M25.3 703.0h.1M43.1 717.6h.1" stroke="#b83058" stroke-width="0.85" stroke-linecap="round" stroke-opacity="1"/>
<polygon points="97.4,687.9 129.2,721.7 97.4,753.5 65.6,719.7" fill="#78dbdd" fill-opacity="0.78"/>
<path d="M101.6 722.0h.1M119.3 717.8h.1M88.9 702.1h.1M92.7 696.5h.1M105.5 718.0h.1M100.5 738.6h.1M95.2 702.1h.1M93.9 730.4h.1M85.4 726.5h.1M114.1 717.5h.1M108.0 725.0h.1M115.2 719.1h.1M101.3 737.4h.1M88.9 709.8h.1M111.3 711.8h.1M110.3 726.2h.1M69.5 722.4h.1M85.1 706.3h.1M87.5 740.8h.1M114.2 723.6h.1M107.5 720.9h.1M94.6 694.7h.1M86.6 739.1h.1M115.5 735.2h.1M118.3 724.6h.1M84.6 706.7h.1M79.4 722.8h.1M94.2 735.3h.1M71.4 717.5h.1M94.1 698.4h.1M125.3 723.6h.1M98.8 694.1h.1M85.7 718.7h.1M100.2 729.6h.1M112.1 704.3h.1M92.6 747.1h.1M113.6 732.2h.1M89.0 725.2h.1M105.3 732.2h.1M114.3 730.0h.1M102.5 742.4h.1M97.9 692.6h.1M89.5 718.8h.1M94.7 704.5h.1M82.1 714.1h.1M107.9 722.3h.1M73.8 718.8h.1M92.3 726.1h.1M107.6 726.6h.1M101.6 745.5h.1M97.6 689.2h.1M95.2 726.9h.1M91.6 725.8h.1M112.8 734.1h.1M100.3 734.5h.1M93.1 741.3h.1M86.9 709.8h.1M84.0 711.1h.1M109.7 739.1h.1M88.8 742.2h.1M103.9 706.8h.1M79.4 712.5h.1M105.9 706.0h.1M100.9 744.6h.1M94.3 725.0h.1M104.5 740.9h.1M116.3 733.2h.1M99.5 734.7h.1M103.1 719.0h.1M103.0 713.0h.1M110.2 728.6h.1M96.4 740.0h.1M117.9 729.4h.1M107.7 706.7h.1M118.6 713.3h.1M103.6 717.7h.1M83.3 707.6h.1M84.7 719.8h.1M107.6 728.6h.1M78.2 718.4h.1M107.7 702.3h.1M89.7 744.2h.1M87.4 735.8h.1M108.3 723.1h.1M110.0 738.9h.1M104.8 735.5h.1M79.2 711.7h.1M95.0 722.9h.1M96.8 708.3h.1M103.7 698.5h.1M104.5 736.0h.1M102.8 696.0h.1M82.8 737.2h.1M85.6 705.2h.1M82.3 726.2h.1M79.5 724.3h.1M97.8 691.7h.1M100.8 702.0h.1M100.4 704.6h.1M119.8 717.4h.1M121.1 724.7h.1M119.7 718.7h.1M112.2 705.1h.1M96.9 700.7h.1M103.9 740.9h.1M106.4 707.2h.1M68.7 721.1h.1M97.4 729.0h.1M121.1 726.5h.1M99.3 733.1h.1M97.8 725.6h.1M97.1 701.0h.1M90.2 709.7h.1M75.9 713.7h.1M105.6 729.7h.1M125.2 718.8h.1M103.2 724.1h.1M126.6 719.5h.1M95.7 714.7h.1M89.3 725.5h.1M126.6 722.1h.1M81.7 734.7h.1M87.5 726.0h.1M88.8 730.8h.1M82.5 728.8h.1M89.1 724.5h.1M83.2 727.7h.1M97.9 719.2h.1M100.4 711.1h.1M102.4 709.1h.1M85.5 726.2h.1M94.8 721.5h.1M99.2 717.3h.1M109.6 711.4h.1M101.3 713.7h.1M86.3 727.5h.1M107.1 706.6h.1M96.3 721.2h.1M95.5 724.5h.1M102.3 713.7h.1M110.6 707.0h.1M80.7 731.9h.1M88.5 724.5h.1M104.5 712.7h.1M100.4 718.3h.1M105.2 709.9h.1M92.6 725.2h.1M87.7 728.8h.1M107.8 711.1h.1M104.7 706.9h.1M80.8 732.8h.1M90.5 728.0h.1M108.9 716.7h.1M98.1 715.7h.1M80.5 732.1h.1M97.5 720.9h.1M105.2 712.0h.1M95.8 722.4h.1M88.3 724.5h.1M83.4 731.2h.1M83.3 728.5h.1M82.8 733.0h.1M109.6 704.6h.1M101.8 717.7h.1M99.9 716.5h.1M88.9 733.2h.1M90.1 725.0h.1M105.6 709.8h.1M100.6 711.1h.1M103.7 715.5h.1M106.8 707.5h.1M99.8 717.9h.1M102.5 710.8h.1M100.2 712.2h.1M99.9 717.0h.1M95.0 718.2h.1M83.6 733.8h.1M99.3 717.6h.1M105.9 712.0h.1M84.6 728.5h.1M87.5 726.8h.1M106.4 711.0h.1M106.7 707.2h.1M93.7 727.4h.1M82.8 731.2h.1M99.3 718.0h.1M106.5 708.9h.1M79.9 733.6h.1M90.7 725.4h.1M98.5 718.0h.1M84.0 733.5h.1M101.6 713.2h.1M94.6 722.0h.1M81.3 735.6h.1M84.5 734.7h.1M87.6 731.2h.1M89.4 723.6h.1M98.5 724.6h.1M83.4 728.9h.1M87.2 727.7h.1M84.2 731.4h.1M97.1 718.2h.1M110.1 705.4h.1M86.9 729.8h.1M105.3 711.1h.1M89.7 727.3h.1M105.6 706.1h.1M89.2 724.3h.1M92.1 719.2h.1M109.0 702.2h.1M83.4 731.6h.1M104.7 709.0h.1M94.0 724.3h.1M104.9 714.8h.1M88.6 730.5h.1M85.7 727.5h.1M101.7 710.1h.1M102.9 711.9h.1M109.2 705.1h.1M103.9 711.1h.1M103.6 711.1h.1M99.9 717.3h.1M92.3 722.1h.1M107.8 705.7h.1M80.0 733.6h.1M79.6 731.5h.1M98.0 720.2h.1M82.3 732.7h.1M105.6 711.2h.1M109.4 701.1h.1M106.3 707.1h.1M91.4 721.1h.1M87.4 726.2h.1M104.8 713.5h.1M87.7 729.0h.1M105.6 707.6h.1M88.4 724.5h.1M110.8 706.6h.1M80.1 733.5h.1M82.3 730.4h.1M99.1 719.4h.1M82.8 734.7h.1M112.9 706.6h.1M106.9 708.4h.1M108.9 707.0h.1M87.2 722.4h.1M84.0 728.9h.1M118.5 710.7h.1M105.2 710.6h.1M98.7 712.4h.1M104.7 712.3h.1M107.3 704.9h.1M108.1 710.8h.1M117.4 712.8h.1M106.2 706.8h.1M114.4 713.7h.1M114.4 717.4h.1M106.7 713.4h.1M107.8 712.8h.1M118.2 711.3h.1M114.7 713.0h.1M101.1 706.4h.1M120.4 712.7h.1M110.6 714.8h.1M116.1 715.5h.1M122.0 716.9h.1M113.9 711.7h.1M110.6 707.1h.1M110.4 710.1h.1M99.3 706.5h.1M99.6 709.5h.1M103.3 707.7h.1M98.5 711.7h.1M103.3 704.6h.1M110.3 712.2h.1M98.5 710.6h.1M106.4 708.2h.1" stroke="#6a6a90" stroke-width="0.9" stroke-linecap="round" stroke-opacity="0.6"/>
<path d="M73.0 718.3h.1M85.6 718.9h.1M87.6 733.4h.1M115.3 728.0h.1M91.4 727.0h.1M93.9 708.5h.1M113.2 737.4h.1M97.7 719.6h.1M85.1 733.7h.1M114.9 719.2h.1M81.2 715.5h.1M99.4 708.3h.1M90.0 695.9h.1M86.8 739.8h.1M82.2 708.4h.1M107.4 703.5h.1M109.6 706.2h.1M93.6 732.7h.1M95.3 721.6h.1M100.1 747.2h.1M110.5 704.1h.1M96.7 695.5h.1M101.5 711.7h.1M84.8 712.9h.1M92.3 743.5h.1M77.7 717.6h.1M108.8 718.9h.1M104.5 733.0h.1M97.3 714.4h.1M105.1 699.9h.1M99.1 750.6h.1M100.1 736.5h.1M114.5 718.0h.1M91.9 743.1h.1M112.2 725.5h.1M95.1 698.1h.1M114.7 723.4h.1M116.8 711.4h.1M91.1 714.3h.1M76.9 716.4h.1M82.8 722.1h.1M103.7 695.0h.1M108.8 701.8h.1M107.9 708.1h.1M104.8 727.4h.1M106.1 721.5h.1M93.3 748.1h.1M106.5 730.7h.1M72.9 722.6h.1M91.0 723.1h.1M115.6 725.7h.1M106.0 722.8h.1M93.5 710.6h.1M85.0 705.5h.1M89.5 721.9h.1M106.2 708.6h.1M96.7 733.7h.1M88.4 722.4h.1M85.1 725.9h.1M101.2 725.6h.1M89.0 713.4h.1M85.2 727.2h.1M86.8 735.3h.1M91.4 714.8h.1M86.1 699.3h.1M98.0 732.9h.1M114.8 709.5h.1M94.7 730.4h.1M83.4 711.1h.1M94.7 711.8h.1M93.5 712.4h.1M86.1 708.1h.1M95.9 727.8h.1M96.1 704.1h.1M90.5 711.8h.1M94.4 748.4h.1M86.9 721.4h.1M82.0 726.4h.1M94.6 731.2h.1M106.2 730.7h.1M85.0 732.4h.1M98.2 748.3h.1M89.1 735.6h.1M124.2 722.8h.1M90.6 724.2h.1M72.2 722.1h.1M118.4 719.0h.1M94.2 730.6h.1M97.9 698.4h.1M109.8 715.6h.1M81.2 705.8h.1M112.1 736.3h.1M95.5 705.0h.1M75.4 716.5h.1M86.1 723.0h.1M92.0 693.6h.1M111.6 731.1h.1M83.7 721.8h.1M112.5 709.4h.1M73.2 724.6h.1M82.5 730.4h.1M87.7 706.2h.1M121.3 718.4h.1M81.2 710.5h.1M111.2 721.4h.1M109.0 741.5h.1M94.1 705.0h.1M74.6 714.1h.1M79.0 723.7h.1M70.0 722.7h.1M96.6 706.0h.1M77.5 721.1h.1M85.1 708.3h.1M101.3 738.0h.1M71.2 723.1h.1M95.4 742.9h.1M127.6 722.5h.1M112.6 714.8h.1M88.7 743.9h.1M95.2 710.5h.1M90.0 698.9h.1M109.9 709.6h.1M97.0 721.0h.1M88.1 709.8h.1M96.5 691.9h.1M72.9 715.9h.1M89.3 714.9h.1M90.9 723.9h.1M90.2 713.0h.1M93.3 720.0h.1M83.8 728.2h.1M98.7 713.1h.1M90.2 730.8h.1M90.3 727.9h.1M101.6 712.1h.1M102.0 714.3h.1M91.4 727.0h.1M86.5 727.1h.1M82.9 731.7h.1M107.7 706.1h.1M90.5 728.1h.1M103.5 710.0h.1M87.1 729.0h.1M91.8 723.9h.1M80.6 730.7h.1M111.5 707.4h.1M89.2 725.3h.1M109.8 710.7h.1M100.5 719.0h.1M94.2 723.3h.1M97.3 723.8h.1M102.7 709.5h.1M109.7 705.5h.1M91.3 723.3h.1M90.0 722.6h.1M92.5 718.5h.1M101.7 716.0h.1M86.0 728.6h.1M97.8 713.2h.1M85.1 728.6h.1M88.9 722.1h.1M109.8 705.9h.1M104.7 709.8h.1M110.4 707.4h.1M93.9 719.4h.1M86.5 728.9h.1M102.6 711.4h.1M79.2 734.1h.1M105.0 709.2h.1M86.7 727.5h.1M84.6 726.9h.1M112.5 704.3h.1M83.5 733.0h.1M104.1 705.4h.1M95.8 717.1h.1M90.8 722.3h.1M82.1 735.1h.1M92.1 722.6h.1M79.4 731.2h.1M97.3 718.7h.1M97.8 719.1h.1M108.9 709.1h.1M107.4 705.1h.1M95.3 714.6h.1M86.2 728.1h.1M106.7 709.5h.1M103.6 712.3h.1M97.5 720.5h.1M109.4 705.6h.1M78.1 731.7h.1M110.8 708.9h.1M98.2 716.7h.1M100.0 717.2h.1M97.0 717.4h.1M89.1 730.3h.1M102.9 711.5h.1M99.8 713.4h.1M90.4 720.6h.1M103.7 713.7h.1M103.0 715.0h.1M104.6 710.4h.1M86.2 733.6h.1M80.4 730.7h.1M90.9 725.1h.1M83.8 730.7h.1M101.2 715.8h.1M84.5 728.0h.1M91.6 722.0h.1M91.9 722.7h.1M107.7 710.7h.1M93.1 715.9h.1M107.0 707.6h.1M93.0 721.9h.1M97.4 715.0h.1M108.4 709.2h.1M98.8 715.9h.1M85.2 730.3h.1M90.6 727.3h.1M106.9 707.1h.1M101.9 708.7h.1M101.7 711.7h.1M98.2 715.2h.1M91.2 726.7h.1M103.4 704.2h.1M107.1 706.1h.1M96.6 724.4h.1M107.4 706.0h.1M87.0 725.4h.1M105.6 712.2h.1M101.5 710.9h.1M120.8 713.4h.1M111.1 709.9h.1M107.2 712.8h.1M113.8 713.1h.1M119.9 712.9h.1M114.0 711.8h.1M110.8 712.1h.1M117.5 713.1h.1M112.5 715.6h.1M105.5 707.3h.1M114.5 713.4h.1M119.4 713.7h.1M116.7 710.2h.1M112.6 713.0h.1M113.1 711.5h.1M116.1 713.0h.1M105.3 716.4h.1M115.9 712.1h.1M108.3 711.7h.1M111.9 707.3h.1M107.8 712.9h.1M118.3 712.5h.1M97.2 710.2h.1M98.8 715.8h.1M114.0 711.2h.1M112.8 713.0h.1M105.9 711.5h.1M104.7 713.2h.1M108.7 708.6h.1M110.4 708.1h.1M104.0 707.6h.1M96.0 715.4h.1" stroke="#5a4a78" stroke-width="0.9" stroke-linecap="round" stroke-opacity="0.6"/>
<line x1="106.30" y1="733.60" x2="88.60" y2="711.60" stroke="#0b2a3a" stroke-width="1.5"/>
<polygon points="85.5,707.8 86.0,714.6 91.4,710.4" fill="#0b2a3a"/>
<rect x="115.3" y="737.6" width="32.2" height="13.9" fill="#fff" stroke="#444" stroke-width="0.8"/>
<text x="117.40" y="746.60" font-size="10.60" text-anchor="start" fill="#111" textLength="27.60" lengthAdjust="spacingAndGlyphs">20 nm</text>
<rect x="122.20" y="748.40" width="17.00" height="1.60" fill="#b0682c"/>
<path d="M182.1 727.8h.1M294.2 721.6h.1M182.1 704.2h.1M259.0 718.8h.1M312.1 721.9h.1M192.6 730.0h.1M208.1 736.9h.1M263.1 727.4h.1M215.3 706.7h.1M307.2 724.3h.1M301.7 720.3h.1M180.4 730.9h.1M177.2 732.9h.1M252.2 725.4h.1M198.6 707.5h.1M286.1 713.2h.1M177.8 702.0h.1M270.0 714.1h.1M206.1 718.1h.1M292.2 716.5h.1M258.8 727.0h.1M278.6 716.9h.1M188.5 726.2h.1M211.1 711.3h.1M307.0 727.9h.1M263.2 710.9h.1M175.9 721.6h.1M208.3 731.5h.1M279.5 713.5h.1M208.3 735.8h.1M288.7 724.4h.1M181.1 731.8h.1M207.7 707.7h.1M271.5 718.8h.1M285.5 725.5h.1M313.1 716.4h.1M273.0 732.0h.1M240.6 724.8h.1M273.7 723.2h.1M275.2 713.6h.1M285.4 727.4h.1M232.4 720.6h.1M230.0 719.0h.1M250.8 709.5h.1M250.5 711.2h.1M250.1 729.4h.1M271.5 711.9h.1M204.6 704.0h.1M248.3 729.9h.1M292.2 721.9h.1M179.7 729.7h.1M317.6 717.3h.1M208.8 728.9h.1M189.1 727.3h.1M243.8 725.0h.1M177.4 711.0h.1M176.6 728.5h.1M215.7 733.5h.1M268.5 726.8h.1M198.0 708.8h.1M184.9 727.2h.1M263.2 719.2h.1M204.3 710.6h.1M187.1 715.1h.1M192.1 714.2h.1M213.3 728.2h.1M300.5 727.1h.1M237.3 710.1h.1M178.4 721.3h.1M309.0 720.3h.1M224.4 721.3h.1M177.3 723.8h.1M172.7 731.8h.1M193.7 735.1h.1M206.1 733.9h.1M295.8 730.7h.1M251.3 710.6h.1M317.7 716.3h.1M256.9 723.3h.1M203.1 716.6h.1M243.2 709.9h.1M201.8 720.4h.1M224.8 712.7h.1M188.0 725.3h.1M177.4 721.0h.1M206.2 707.3h.1M212.7 714.3h.1M305.7 723.1h.1M227.4 714.3h.1M261.9 730.5h.1M235.7 708.8h.1M317.2 722.2h.1M300.1 715.8h.1M314.6 721.7h.1M177.5 711.4h.1M237.2 711.1h.1M182.6 719.7h.1M193.5 729.5h.1M223.0 712.9h.1M198.7 730.3h.1M286.1 725.9h.1M222.0 732.7h.1M270.3 732.6h.1M219.6 737.3h.1M205.8 731.5h.1M180.3 711.1h.1M214.9 726.3h.1M305.3 716.6h.1M295.4 722.9h.1M177.4 735.2h.1M207.5 719.1h.1M311.0 726.9h.1M221.8 712.9h.1M235.1 719.3h.1M278.8 724.9h.1M173.2 708.6h.1M187.5 718.0h.1M258.2 715.7h.1M231.0 724.4h.1M185.7 703.2h.1M275.6 713.7h.1M266.5 717.8h.1M264.6 728.2h.1M242.8 728.6h.1M184.1 711.7h.1M212.4 722.5h.1M303.8 726.0h.1M258.6 721.3h.1M201.1 736.3h.1M254.4 729.9h.1M275.7 731.9h.1M267.5 727.8h.1M271.9 730.4h.1M181.0 704.6h.1M268.4 713.2h.1M333.3 723.4h.1M193.4 713.1h.1M253.0 718.6h.1M268.7 724.3h.1M324.2 721.9h.1M189.9 735.4h.1M189.7 730.1h.1M243.1 725.3h.1M309.0 717.9h.1M308.3 717.5h.1M189.3 718.1h.1M295.1 729.8h.1M201.8 719.0h.1M201.1 705.7h.1M174.4 705.5h.1M178.7 706.8h.1M266.2 718.7h.1M245.8 731.0h.1M289.2 724.7h.1M201.0 708.6h.1M218.3 720.9h.1M172.6 724.9h.1M199.9 708.5h.1M291.5 729.4h.1M237.6 715.0h.1M193.8 727.3h.1M182.8 709.2h.1M259.1 727.6h.1M178.4 710.0h.1M206.6 731.8h.1M246.6 714.6h.1M194.9 721.6h.1M251.2 721.2h.1M210.0 709.2h.1M202.5 714.4h.1M210.7 735.7h.1M209.6 733.8h.1M179.2 734.3h.1M317.4 722.3h.1M252.5 718.7h.1M246.0 714.6h.1M199.6 716.7h.1M315.0 721.8h.1M293.7 723.8h.1M202.0 730.0h.1M291.7 724.2h.1M194.7 721.5h.1M311.1 726.6h.1M248.9 709.1h.1M198.4 707.8h.1M214.3 715.8h.1M228.8 727.4h.1M310.6 725.7h.1M300.7 723.4h.1M206.4 725.1h.1M253.3 719.4h.1M227.9 720.1h.1M219.1 734.6h.1M256.3 717.8h.1M220.7 720.2h.1M181.9 703.8h.1M265.1 727.7h.1M192.9 728.8h.1M173.1 702.0h.1M208.0 709.9h.1M259.8 720.3h.1M251.2 717.8h.1M189.9 733.6h.1M189.2 718.0h.1M273.3 731.8h.1M255.2 734.2h.1M203.9 710.6h.1M256.6 732.3h.1M272.5 713.7h.1M237.9 723.9h.1M199.4 709.2h.1M323.0 725.9h.1M301.8 718.9h.1M310.1 723.0h.1M260.9 713.3h.1M249.4 730.8h.1M232.7 729.6h.1M206.4 711.0h.1M289.4 731.2h.1M282.9 717.3h.1M256.8 720.4h.1M249.6 724.3h.1M204.7 712.1h.1M216.4 715.6h.1M211.6 714.0h.1M207.7 711.0h.1M255.1 724.7h.1M218.8 714.2h.1M201.2 710.5h.1M247.9 721.1h.1M199.8 709.7h.1M189.4 709.2h.1M226.3 713.2h.1M220.1 714.7h.1M257.5 725.6h.1M198.1 708.6h.1M258.3 722.6h.1M187.1 708.0h.1M240.3 719.4h.1M255.5 722.2h.1M196.5 707.8h.1M202.8 709.6h.1M202.5 711.6h.1M192.6 707.9h.1M237.8 717.2h.1M252.3 721.7h.1M209.1 711.4h.1M243.6 717.0h.1M256.4 726.8h.1M216.0 714.7h.1M260.2 724.5h.1M242.6 721.3h.1M238.0 718.6h.1M235.1 718.0h.1M231.8 717.9h.1M242.6 718.6h.1M194.9 709.2h.1M257.3 724.9h.1M219.1 716.2h.1M215.3 711.8h.1M196.5 707.8h.1M204.2 709.8h.1M208.7 710.3h.1M251.3 725.2h.1M240.2 721.2h.1M240.3 720.1h.1M204.4 707.9h.1M212.0 713.3h.1M189.0 705.1h.1M245.8 721.7h.1M200.3 711.8h.1M191.9 705.9h.1M247.7 722.6h.1M231.3 718.0h.1M192.6 706.3h.1M190.6 705.8h.1M217.3 713.7h.1M233.4 720.5h.1M248.6 722.4h.1M226.5 717.2h.1M231.4 716.9h.1M193.1 708.6h.1M252.8 721.5h.1M195.1 707.7h.1M210.6 709.1h.1M240.4 720.1h.1M254.9 724.6h.1M207.3 712.8h.1M213.9 711.9h.1M211.7 715.6h.1M212.4 714.9h.1M203.4 711.1h.1M249.3 722.6h.1M233.7 719.1h.1M222.2 714.2h.1M206.6 712.6h.1M235.3 714.7h.1M217.3 713.2h.1M239.8 722.4h.1M230.5 718.1h.1M194.2 704.7h.1M203.3 710.3h.1M209.4 710.8h.1M230.4 717.6h.1M254.0 723.1h.1M188.7 706.5h.1M206.1 712.0h.1M239.8 720.3h.1M240.2 720.5h.1M223.8 716.9h.1M189.3 708.7h.1M239.0 719.8h.1M242.4 722.3h.1M207.7 712.1h.1M242.3 720.0h.1M211.1 714.5h.1M223.9 715.5h.1M194.9 705.4h.1M190.3 711.6h.1M235.5 717.8h.1M229.8 718.7h.1M210.1 714.3h.1M251.5 722.5h.1M198.5 708.2h.1M208.1 712.5h.1M229.4 714.3h.1M205.9 714.3h.1M238.3 720.4h.1M232.3 717.6h.1M217.5 714.3h.1M246.1 723.0h.1M190.8 708.0h.1M257.1 727.0h.1M235.4 720.2h.1M201.1 709.5h.1M209.5 713.8h.1M208.7 713.1h.1M244.7 720.8h.1M227.1 715.9h.1M197.9 710.0h.1M248.1 718.4h.1M190.6 709.7h.1M217.1 715.4h.1M213.2 721.6h.1M213.9 724.3h.1M223.9 725.4h.1M230.2 722.6h.1M249.6 729.0h.1M260.5 728.5h.1M223.2 724.4h.1M220.7 727.6h.1M235.6 725.5h.1M224.6 725.6h.1M246.9 731.1h.1M215.1 723.1h.1M219.2 721.9h.1M254.5 728.4h.1M218.1 724.9h.1M248.5 731.5h.1M214.8 724.7h.1M211.6 720.3h.1M226.0 724.9h.1M218.4 724.9h.1M236.7 723.6h.1M216.0 720.8h.1M239.7 727.6h.1M242.3 725.5h.1M250.4 728.0h.1M223.9 724.9h.1M248.7 726.1h.1M242.3 728.5h.1M248.1 728.3h.1M253.4 729.1h.1M218.8 722.8h.1M221.2 723.5h.1M229.7 726.2h.1M220.0 725.4h.1M215.9 725.0h.1M225.9 722.2h.1M227.4 725.3h.1M248.2 731.5h.1M215.0 722.4h.1M214.5 722.9h.1M241.1 728.4h.1M221.6 724.4h.1M256.7 727.6h.1M224.2 724.8h.1M238.8 725.5h.1M211.6 721.1h.1M228.6 723.1h.1M227.6 727.1h.1M329.6 721.3h.1M327.1 721.7h.1M312.9 718.0h.1M316.0 716.7h.1M327.6 721.1h.1M328.7 721.6h.1M309.4 716.6h.1M320.3 717.4h.1M315.2 722.3h.1M313.1 719.3h.1M182.4 714.8h.1M196.4 720.6h.1M181.5 725.9h.1M177.2 729.3h.1M180.4 723.3h.1M187.3 719.1h.1M188.5 719.4h.1M179.3 714.1h.1M194.6 722.6h.1M182.8 709.2h.1M196.7 713.1h.1M187.6 721.0h.1M173.9 724.5h.1M193.8 722.3h.1M199.1 738.4h.1M177.8 723.5h.1M189.7 706.6h.1M187.7 716.6h.1M177.6 706.0h.1M179.3 714.1h.1M182.4 702.2h.1M191.1 723.5h.1M187.1 719.4h.1M173.5 730.2h.1M175.6 722.6h.1M180.6 719.0h.1M191.4 725.7h.1M182.7 714.5h.1M173.6 722.6h.1M184.7 727.5h.1M188.3 717.8h.1M187.9 711.5h.1M187.9 711.9h.1M194.3 720.0h.1M184.2 718.0h.1M190.0 727.4h.1M186.4 710.1h.1M177.8 726.3h.1M174.6 711.7h.1M182.3 706.9h.1M191.8 716.6h.1M188.0 703.1h.1M193.3 715.1h.1M189.5 723.9h.1M184.6 707.1h.1M193.6 726.8h.1M183.4 719.6h.1M179.7 733.6h.1M179.8 726.4h.1M193.8 723.3h.1M188.9 725.8h.1M201.3 715.1h.1M184.4 719.8h.1M180.5 725.0h.1M188.2 725.0h.1M189.9 721.0h.1M187.3 726.7h.1M184.6 727.4h.1M178.6 736.4h.1M182.7 720.1h.1M198.1 715.9h.1M200.5 712.9h.1M178.2 714.3h.1M196.6 720.3h.1M189.1 718.7h.1M178.1 730.5h.1M192.8 719.2h.1M188.0 703.9h.1M186.4 724.1h.1M187.4 720.0h.1M185.7 719.9h.1M180.9 732.1h.1M182.8 703.7h.1M187.5 723.6h.1M178.4 715.1h.1M181.7 735.3h.1M175.9 709.9h.1M194.6 728.3h.1M181.2 719.1h.1M198.7 717.7h.1M184.3 737.4h.1M205.9 730.2h.1M187.1 726.6h.1M198.8 713.0h.1M176.7 718.3h.1M174.4 714.4h.1M183.7 720.7h.1M177.1 714.9h.1M190.7 720.2h.1M204.3 720.5h.1" stroke="#dcb498" stroke-width="0.8" stroke-linecap="round" stroke-opacity="1"/>
<path d="M199.9 732.7h.1M210.8 722.4h.1M231.0 712.3h.1M188.6 730.4h.1M218.8 735.2h.1M287.8 730.4h.1M329.2 723.4h.1M265.2 727.6h.1M298.7 728.7h.1M271.6 728.6h.1M288.5 718.8h.1M295.0 714.9h.1M314.7 718.2h.1M254.2 723.1h.1M184.7 709.2h.1M219.4 723.8h.1M286.8 729.3h.1M181.8 728.5h.1M260.2 729.4h.1M232.7 733.1h.1M175.9 724.6h.1M280.4 713.7h.1M245.0 728.9h.1M196.5 709.0h.1M176.6 729.6h.1M246.4 732.8h.1M189.4 716.4h.1M183.0 730.6h.1M270.0 726.5h.1M283.0 716.6h.1M316.0 722.0h.1M190.9 702.3h.1M202.4 729.4h.1M180.3 719.7h.1M227.1 733.7h.1M267.7 717.8h.1M259.4 711.2h.1M184.8 714.0h.1M197.5 709.1h.1M219.4 725.8h.1M250.1 729.2h.1M177.1 731.5h.1M213.5 721.8h.1M199.8 736.3h.1M198.7 734.9h.1M281.5 715.0h.1M245.1 735.1h.1M183.1 708.0h.1M267.1 727.0h.1M229.9 716.4h.1M313.4 720.5h.1M219.4 720.8h.1M260.5 711.7h.1M254.3 720.1h.1M301.4 721.4h.1M293.8 730.6h.1M239.2 709.1h.1M236.2 722.7h.1M272.1 730.5h.1M260.8 717.2h.1M252.9 717.2h.1M258.2 732.7h.1M284.3 728.0h.1M218.3 709.5h.1M217.1 713.2h.1M298.8 721.5h.1M185.0 721.0h.1M200.9 729.9h.1M230.7 718.7h.1M301.7 725.3h.1M308.2 717.4h.1M175.3 722.7h.1M177.7 738.2h.1M226.6 726.0h.1M265.3 716.2h.1M323.3 722.9h.1M287.1 720.8h.1M185.0 733.8h.1M216.0 705.4h.1M308.4 716.0h.1M230.6 711.7h.1M213.0 734.1h.1M221.4 714.6h.1M293.9 717.6h.1M265.1 729.3h.1M297.5 718.1h.1M214.4 715.0h.1M210.8 735.7h.1M253.7 723.7h.1M258.1 723.1h.1M181.4 704.2h.1M281.5 730.3h.1M305.8 720.6h.1M211.5 715.0h.1M214.9 721.4h.1M223.6 731.8h.1M177.7 710.0h.1M244.2 723.3h.1M210.6 725.2h.1M175.3 721.6h.1M234.5 724.3h.1M209.8 725.6h.1M220.7 736.9h.1M255.1 732.0h.1M276.5 715.1h.1M243.2 722.4h.1M198.1 723.1h.1M189.8 733.5h.1M248.3 726.8h.1M257.8 717.6h.1M287.6 720.9h.1M305.3 727.3h.1M222.3 727.7h.1M210.9 734.2h.1M187.7 718.3h.1M240.0 734.7h.1M245.7 730.4h.1M238.0 726.9h.1M225.3 714.7h.1M199.0 719.4h.1M190.9 705.9h.1M188.9 723.2h.1M215.5 724.2h.1M274.4 725.0h.1M181.6 718.0h.1M175.9 716.9h.1M278.4 722.2h.1M314.3 717.9h.1M241.2 720.0h.1M229.5 730.9h.1M225.4 706.7h.1M312.9 720.0h.1M261.2 732.8h.1M195.0 705.9h.1M269.9 712.1h.1M230.6 709.2h.1M195.1 731.1h.1M192.7 731.8h.1M265.5 725.5h.1M222.5 721.9h.1M255.8 715.6h.1M274.8 716.6h.1M176.6 738.6h.1M202.2 730.7h.1M232.6 719.2h.1M196.4 702.3h.1M230.7 709.7h.1M172.8 716.7h.1M208.8 725.8h.1M187.5 705.8h.1M196.4 706.0h.1M226.1 715.8h.1M183.8 730.0h.1M185.4 736.6h.1M243.9 724.7h.1M251.4 720.2h.1M221.8 707.2h.1M260.0 714.9h.1M295.3 726.0h.1M190.2 705.0h.1M296.9 715.7h.1M221.1 730.2h.1M205.5 715.3h.1M216.7 723.0h.1M193.1 705.4h.1M276.1 724.5h.1M189.9 730.3h.1M261.5 733.8h.1M262.4 730.5h.1M309.7 727.1h.1M183.7 726.3h.1M212.8 708.8h.1M232.6 727.5h.1M192.9 711.8h.1M295.0 715.5h.1M178.9 718.2h.1M261.1 730.3h.1M255.8 728.5h.1M240.0 735.2h.1M172.4 706.5h.1M286.1 731.3h.1M233.2 731.3h.1M179.2 727.0h.1M248.6 714.5h.1M281.9 714.0h.1M213.6 730.8h.1M238.1 711.9h.1M235.4 722.1h.1M284.0 725.7h.1M190.0 726.9h.1M322.7 717.9h.1M222.9 717.8h.1M242.5 720.5h.1M199.5 709.0h.1M229.5 716.5h.1M203.0 711.0h.1M263.0 724.8h.1M206.5 714.9h.1M203.1 708.8h.1M230.7 714.4h.1M224.8 716.5h.1M257.0 723.1h.1M224.6 716.0h.1M204.2 711.7h.1M210.0 713.6h.1M234.6 717.6h.1M250.2 724.8h.1M247.0 723.7h.1M260.1 725.3h.1M188.4 707.7h.1M207.9 713.3h.1M210.2 709.8h.1M215.2 710.4h.1M227.0 719.0h.1M252.6 722.8h.1M230.7 716.1h.1M187.8 706.1h.1M247.6 721.4h.1M240.1 721.0h.1M186.7 707.2h.1M240.3 718.8h.1M216.0 714.0h.1M228.2 716.1h.1M262.9 724.3h.1M228.9 716.1h.1M186.3 707.7h.1M213.4 714.0h.1M212.5 709.8h.1M195.2 708.6h.1M238.5 717.3h.1M189.0 708.1h.1M210.3 713.5h.1M251.4 723.1h.1M205.7 711.7h.1M192.7 706.9h.1M212.1 713.6h.1M257.4 724.2h.1M248.9 722.3h.1M235.2 719.6h.1M226.5 717.9h.1M224.0 716.6h.1M242.6 720.7h.1M240.8 719.4h.1M214.7 715.6h.1M213.2 713.3h.1M185.2 705.6h.1M237.2 718.9h.1M204.0 708.8h.1M235.9 718.4h.1M192.1 707.6h.1M231.7 716.2h.1M227.0 716.8h.1M208.6 712.2h.1M192.6 706.2h.1M202.5 708.6h.1M215.8 713.6h.1M251.9 724.4h.1M236.0 720.7h.1M191.1 706.3h.1M250.9 721.8h.1M229.0 715.7h.1M196.1 707.6h.1M248.0 721.6h.1M249.4 723.0h.1M238.2 718.7h.1M212.0 714.0h.1M247.5 719.0h.1M210.3 712.2h.1M208.1 710.9h.1M245.2 720.4h.1M234.3 717.6h.1M193.2 709.1h.1M192.5 705.3h.1M230.8 719.7h.1M189.8 708.8h.1M244.0 718.2h.1M250.8 723.8h.1M221.0 714.6h.1M243.4 717.9h.1M197.6 708.3h.1M247.2 720.0h.1M259.6 725.4h.1M223.1 715.3h.1M255.3 725.8h.1M239.9 721.2h.1M258.0 726.5h.1M200.5 710.4h.1M204.8 708.6h.1M223.7 713.5h.1M213.3 713.2h.1M216.2 712.5h.1M195.3 705.0h.1M196.0 708.7h.1M249.3 723.2h.1M198.0 704.9h.1M232.5 718.6h.1M220.6 713.4h.1M249.0 720.2h.1M190.0 706.0h.1M193.7 706.2h.1M257.3 725.7h.1M207.9 712.1h.1M252.4 721.7h.1M237.7 719.9h.1M248.4 721.8h.1M242.5 722.0h.1M201.6 709.1h.1M249.7 721.4h.1M207.8 712.3h.1M192.5 709.4h.1M250.2 724.0h.1M203.4 710.9h.1M233.2 720.4h.1M214.0 714.4h.1M202.7 710.6h.1M252.1 727.8h.1M241.1 725.9h.1M214.9 722.5h.1M234.2 728.9h.1M218.8 722.0h.1M248.9 728.3h.1M250.9 732.9h.1M217.5 724.0h.1M211.4 722.4h.1M232.7 728.1h.1M215.1 722.9h.1M240.2 725.4h.1M209.9 721.8h.1M230.9 724.7h.1M215.2 724.6h.1M213.3 722.4h.1M243.2 725.7h.1M244.2 729.4h.1M211.9 724.5h.1M248.8 730.7h.1M233.7 726.9h.1M248.5 728.2h.1M238.1 726.3h.1M238.3 726.4h.1M216.4 721.4h.1M229.9 727.3h.1M250.3 731.8h.1M252.2 728.8h.1M227.6 727.9h.1M220.7 724.3h.1M210.4 723.3h.1M235.4 726.2h.1M242.7 730.1h.1M221.6 724.6h.1M229.6 725.7h.1M215.8 721.9h.1M227.3 724.6h.1M227.4 726.5h.1M240.7 726.1h.1M251.9 732.5h.1M238.6 725.7h.1M229.8 721.5h.1M235.0 726.0h.1M253.7 728.7h.1M229.6 728.3h.1M319.3 715.8h.1M326.1 720.3h.1M319.9 721.4h.1M317.7 723.2h.1M312.9 721.1h.1M327.9 722.0h.1M312.3 722.2h.1M187.1 718.5h.1M194.2 727.0h.1M186.3 710.1h.1M184.7 729.1h.1M184.9 718.8h.1M172.8 723.9h.1M186.9 730.2h.1M184.3 734.2h.1M190.9 716.3h.1M180.7 734.7h.1M191.6 705.2h.1M189.0 724.5h.1M182.2 710.0h.1M184.1 714.4h.1M189.1 722.6h.1M179.9 709.4h.1M184.6 709.8h.1M181.6 704.7h.1M190.3 735.4h.1M177.4 724.4h.1M175.7 719.4h.1M189.0 724.0h.1M194.6 727.6h.1M172.5 724.9h.1M182.7 712.5h.1M175.3 730.4h.1M189.8 724.2h.1M200.0 731.6h.1M191.9 720.8h.1M174.4 733.5h.1M179.7 716.2h.1M179.7 735.1h.1M190.4 718.1h.1M189.6 718.4h.1M181.3 722.8h.1M186.8 718.0h.1M180.4 728.7h.1M199.0 717.5h.1M183.4 733.9h.1M191.6 728.4h.1M184.5 701.8h.1M190.4 723.1h.1M188.3 729.4h.1M176.3 727.5h.1M194.4 718.0h.1M195.9 723.5h.1M196.6 719.5h.1M179.7 730.4h.1M175.7 728.0h.1M190.4 722.5h.1M181.0 724.2h.1M189.0 723.2h.1M181.2 705.2h.1M191.8 722.3h.1M177.7 720.8h.1M190.1 718.5h.1M192.1 727.3h.1M181.4 727.2h.1M190.8 713.6h.1M194.9 719.7h.1M191.2 705.2h.1M201.3 711.6h.1M187.3 721.8h.1M201.0 723.0h.1M180.1 708.1h.1M174.2 718.2h.1M195.0 723.5h.1M183.9 728.5h.1M176.1 728.0h.1M173.9 709.6h.1M172.6 724.3h.1M192.0 725.7h.1M177.3 717.4h.1M188.8 732.7h.1M198.8 715.2h.1M175.6 737.6h.1M182.2 719.1h.1M176.6 722.7h.1M176.7 717.6h.1M180.4 720.1h.1M186.2 728.2h.1M183.5 711.6h.1M185.2 714.6h.1M193.0 713.1h.1M189.4 731.7h.1M187.1 719.7h.1M173.0 714.1h.1M186.1 707.5h.1M206.6 723.9h.1M195.4 718.0h.1M178.0 727.6h.1M174.7 725.5h.1" stroke="#c09070" stroke-width="0.8" stroke-linecap="round" stroke-opacity="1"/>
<path d="M215.4 722.0h.1M243.6 725.5h.1M233.8 718.3h.1M243.7 723.4h.1M249.5 726.2h.1M203.5 703.3h.1M202.9 731.7h.1M296.8 717.2h.1M292.1 717.6h.1M246.1 716.1h.1M211.8 724.3h.1M306.9 727.0h.1M231.6 717.2h.1M247.2 726.2h.1M293.5 719.9h.1M317.2 718.8h.1M205.5 736.4h.1M265.9 717.6h.1M173.7 719.5h.1M178.4 703.1h.1M249.0 714.6h.1M284.8 721.4h.1M200.1 719.5h.1M186.4 730.4h.1M276.1 724.6h.1M263.4 712.9h.1M325.0 717.3h.1M184.3 735.5h.1M203.5 737.3h.1M271.2 719.1h.1M198.8 712.5h.1M251.2 723.4h.1M258.2 715.3h.1M194.0 715.3h.1M294.7 718.5h.1M224.8 733.2h.1M186.8 714.0h.1M190.9 704.6h.1M305.1 724.5h.1M301.0 716.8h.1M298.8 724.3h.1M183.4 713.6h.1M185.2 737.1h.1M294.8 727.1h.1M201.5 707.8h.1M176.4 720.6h.1M229.1 717.4h.1M184.7 724.8h.1M290.2 717.3h.1M285.8 729.3h.1M178.1 714.8h.1M320.5 722.3h.1M204.6 729.8h.1M317.8 715.6h.1M183.7 711.3h.1M316.1 717.4h.1M266.5 719.6h.1M271.9 729.7h.1M188.5 736.7h.1M292.7 714.2h.1M258.1 723.2h.1M272.3 718.8h.1M210.6 705.9h.1M206.8 713.2h.1M183.5 734.4h.1M318.3 726.0h.1M179.5 737.6h.1M232.3 717.8h.1M297.1 719.6h.1M187.1 707.1h.1M211.8 723.2h.1M286.3 715.7h.1M205.5 714.0h.1M275.7 718.4h.1M313.5 725.3h.1M204.8 733.6h.1M184.3 732.3h.1M261.1 727.4h.1M257.5 731.1h.1M302.7 724.1h.1M281.5 712.7h.1M290.8 719.4h.1M192.9 718.8h.1M231.1 719.0h.1M184.0 708.8h.1M238.5 723.3h.1M274.1 714.9h.1M311.5 715.6h.1M253.0 729.3h.1M268.6 726.8h.1M275.8 726.3h.1M314.9 717.6h.1M295.0 726.2h.1M217.7 721.2h.1M206.1 703.6h.1M243.5 727.1h.1M290.8 719.2h.1M270.3 725.0h.1M327.3 722.2h.1M187.6 705.1h.1M182.6 724.5h.1M213.8 713.3h.1M219.6 713.4h.1M258.2 713.1h.1M190.8 706.0h.1M217.8 731.3h.1M323.4 719.3h.1M179.8 717.6h.1M247.5 726.0h.1M176.4 725.3h.1M265.3 728.6h.1M219.2 706.4h.1M268.0 732.9h.1M241.6 732.8h.1M284.2 713.1h.1M283.2 723.3h.1M215.8 718.0h.1M238.1 710.0h.1M275.9 729.2h.1M224.6 725.5h.1M209.0 703.4h.1M239.5 714.4h.1M268.8 730.5h.1M176.8 709.1h.1M297.8 727.4h.1M203.1 733.7h.1M222.5 710.2h.1M184.9 723.5h.1M280.9 725.3h.1M329.5 725.5h.1M247.6 716.2h.1M309.9 715.0h.1M252.4 725.5h.1M250.6 724.3h.1M203.5 706.1h.1M220.8 722.9h.1M246.7 717.8h.1M254.8 724.4h.1M286.2 715.7h.1M212.4 726.1h.1M251.6 712.7h.1M303.7 724.2h.1M184.9 731.8h.1M188.2 731.3h.1M280.1 714.3h.1M283.0 725.1h.1M274.5 713.3h.1M237.4 720.1h.1M179.5 714.9h.1M256.5 710.9h.1M213.3 709.5h.1M297.9 723.0h.1M269.8 722.2h.1M181.5 723.2h.1M230.3 710.3h.1M291.8 718.8h.1M189.3 711.7h.1M207.6 729.0h.1M250.2 723.8h.1M322.0 723.5h.1M233.3 718.6h.1M236.6 732.4h.1M173.0 738.8h.1M309.1 720.8h.1M185.8 722.8h.1M322.7 720.8h.1M244.1 733.7h.1M180.9 709.8h.1M194.8 725.8h.1M317.9 727.7h.1M287.3 715.5h.1M200.5 722.3h.1M173.6 717.0h.1M190.3 705.5h.1M204.7 730.8h.1M263.0 713.6h.1M195.6 726.4h.1M179.6 730.5h.1M223.8 717.2h.1M178.1 727.5h.1M180.1 714.7h.1M273.2 727.7h.1M234.5 729.4h.1M280.7 728.7h.1M251.9 720.6h.1M290.9 723.7h.1M198.7 704.9h.1M205.8 715.3h.1M256.9 727.3h.1M253.6 725.8h.1M192.2 711.6h.1M201.0 710.5h.1M233.4 718.9h.1M213.4 713.6h.1M257.7 723.1h.1M210.4 712.3h.1M218.4 717.1h.1M214.2 711.0h.1M254.5 723.1h.1M193.8 706.2h.1M207.8 712.1h.1M257.7 722.8h.1M200.9 708.9h.1M256.4 723.8h.1M256.6 724.3h.1M255.4 723.8h.1M196.7 708.0h.1M230.8 716.9h.1M198.1 707.4h.1M250.0 723.9h.1M234.6 718.2h.1M198.4 708.3h.1M203.4 712.2h.1M251.8 723.2h.1M241.4 720.3h.1M214.9 713.2h.1M231.4 717.1h.1M244.5 722.6h.1M197.3 706.4h.1M235.8 719.4h.1M194.9 709.8h.1M220.8 716.2h.1M188.3 707.2h.1M221.8 716.1h.1M252.9 719.9h.1M209.4 713.9h.1M243.5 723.1h.1M243.1 721.3h.1M206.0 709.6h.1M205.8 709.4h.1M214.5 713.7h.1M199.3 712.2h.1M210.8 710.7h.1M220.8 716.3h.1M213.3 715.0h.1M219.6 718.5h.1M189.5 707.8h.1M213.2 714.8h.1M252.9 722.3h.1M232.4 718.9h.1M234.7 715.8h.1M227.9 716.5h.1M243.5 718.4h.1M264.9 724.7h.1M233.7 720.5h.1M243.0 722.1h.1M242.5 721.5h.1M215.4 713.6h.1M203.3 711.1h.1M212.1 713.9h.1M216.0 713.6h.1M200.8 712.0h.1M258.1 724.6h.1M205.8 710.5h.1M254.7 725.0h.1M199.8 710.0h.1M195.9 710.9h.1M239.3 721.1h.1M246.7 724.6h.1M247.3 721.7h.1M252.3 721.9h.1M193.7 711.1h.1M229.0 718.2h.1M243.7 720.7h.1M222.1 713.8h.1M250.2 722.2h.1M189.3 707.3h.1M234.3 719.4h.1M217.7 716.0h.1M244.7 723.8h.1M245.8 722.6h.1M227.7 715.5h.1M225.5 715.9h.1M205.8 710.8h.1M208.3 712.8h.1M195.0 705.8h.1M243.7 717.8h.1M220.9 714.2h.1M201.7 710.5h.1M251.9 723.5h.1M256.2 724.3h.1M245.4 720.6h.1M233.1 720.1h.1M227.4 715.0h.1M240.4 720.0h.1M213.5 715.0h.1M202.1 708.7h.1M262.1 725.5h.1M236.4 720.6h.1M244.1 717.0h.1M198.2 710.4h.1M217.2 711.3h.1M197.1 708.7h.1M233.3 717.5h.1M242.6 720.8h.1M219.5 715.3h.1M232.7 718.4h.1M227.5 718.7h.1M227.6 714.8h.1M229.0 716.7h.1M226.9 717.9h.1M221.9 717.2h.1M238.6 719.6h.1M218.8 713.3h.1M226.4 714.1h.1M257.4 725.3h.1M226.8 713.6h.1M198.9 710.8h.1M256.2 723.8h.1M200.7 711.9h.1M240.0 720.2h.1M239.4 726.6h.1M245.9 727.0h.1M244.6 727.9h.1M246.6 727.1h.1M210.7 720.1h.1M234.6 725.0h.1M252.2 728.2h.1M219.8 726.6h.1M255.4 731.8h.1M250.8 728.6h.1M212.3 722.8h.1M235.4 723.7h.1M212.1 720.3h.1M239.3 729.5h.1M231.3 725.9h.1M222.8 723.9h.1M222.0 725.2h.1M244.3 727.7h.1M257.3 731.0h.1M211.0 722.4h.1M227.5 727.0h.1M213.4 721.2h.1M212.5 723.2h.1M251.4 730.1h.1M235.9 727.2h.1M238.0 729.7h.1M241.9 727.1h.1M253.8 730.8h.1M249.4 731.3h.1M211.5 723.6h.1M258.2 730.8h.1M236.2 727.9h.1M220.3 725.9h.1M256.4 730.0h.1M245.1 729.3h.1M227.0 726.0h.1M222.9 725.3h.1M240.4 729.3h.1M217.3 722.4h.1M212.1 722.4h.1M242.8 726.5h.1M240.0 726.1h.1M219.4 722.2h.1M224.6 725.3h.1M236.6 727.0h.1M245.3 729.2h.1M229.7 723.9h.1M235.5 725.0h.1M219.0 723.8h.1M252.2 729.0h.1M234.5 724.5h.1M257.0 732.0h.1M244.2 726.0h.1M215.8 722.8h.1M221.8 722.1h.1M220.7 726.0h.1M250.5 731.9h.1M235.3 727.1h.1M326.7 719.4h.1M314.6 718.9h.1M318.4 719.3h.1M327.5 721.1h.1M325.5 721.6h.1M320.0 721.3h.1M194.1 723.9h.1M199.8 715.8h.1M172.9 736.4h.1M182.4 717.1h.1M188.4 731.8h.1M174.5 725.9h.1M178.9 726.1h.1M184.7 733.9h.1M189.6 725.0h.1M200.5 709.4h.1M191.6 711.8h.1M187.0 714.4h.1M186.2 716.4h.1M192.3 715.5h.1M191.0 727.5h.1M188.3 703.1h.1M180.8 716.0h.1M183.9 722.7h.1M175.2 734.4h.1M183.4 731.7h.1M184.6 708.5h.1M192.2 717.5h.1M178.2 732.0h.1M201.8 719.5h.1M190.3 725.5h.1M179.1 722.7h.1M196.1 721.5h.1M194.8 718.3h.1M186.3 716.1h.1M176.0 725.1h.1M177.0 731.0h.1M187.6 714.4h.1M191.1 711.7h.1M184.9 713.5h.1M181.0 734.5h.1M178.6 710.7h.1M173.1 728.7h.1M186.8 719.1h.1M173.5 718.8h.1M189.2 714.2h.1M204.5 719.9h.1M179.0 720.7h.1M186.3 720.5h.1M195.4 728.8h.1M191.7 721.5h.1M187.6 716.4h.1M206.3 724.4h.1M184.2 720.5h.1M182.6 714.3h.1M173.8 731.2h.1M183.8 716.3h.1M184.5 713.4h.1M191.6 727.8h.1M176.9 716.8h.1M182.9 721.3h.1M189.7 730.8h.1M186.2 733.0h.1M180.1 724.0h.1M186.4 726.9h.1M185.7 729.7h.1M180.0 711.7h.1M190.9 706.9h.1M182.4 705.0h.1M195.8 717.9h.1M211.0 723.8h.1M190.6 722.6h.1M188.2 713.9h.1M186.8 729.7h.1M176.0 722.2h.1M173.2 736.1h.1M183.2 719.9h.1M198.4 722.1h.1M181.7 721.4h.1M182.7 710.2h.1M201.7 723.4h.1M190.5 738.7h.1M180.4 719.2h.1M191.0 721.3h.1M176.1 711.8h.1" stroke="#a8703e" stroke-width="0.8" stroke-linecap="round" stroke-opacity="1"/>
<path d="M216.0 710.1h.1M225.6 728.7h.1M177.3 703.1h.1M196.1 721.3h.1M238.9 725.1h.1M179.9 707.5h.1M221.4 718.3h.1M323.9 722.8h.1M221.0 716.9h.1M234.0 715.1h.1M258.5 724.9h.1M246.5 718.6h.1M230.2 716.1h.1M184.8 732.1h.1M203.4 728.8h.1M239.9 723.9h.1M200.3 715.0h.1M191.8 713.9h.1M276.0 716.0h.1M197.2 707.0h.1M182.6 723.3h.1M311.4 721.9h.1M255.3 710.7h.1M262.8 720.9h.1M267.1 720.6h.1M189.2 724.8h.1M244.3 727.1h.1M261.4 725.3h.1M251.4 733.3h.1M205.6 734.2h.1M195.2 726.2h.1M183.5 718.4h.1M183.6 711.2h.1M174.6 736.3h.1M267.0 714.7h.1M211.7 737.1h.1M181.7 705.5h.1M186.9 730.9h.1M235.1 714.3h.1M178.8 719.0h.1M203.6 717.4h.1M174.1 709.7h.1M295.5 721.0h.1M280.5 716.1h.1M275.1 716.6h.1M198.6 714.1h.1M314.2 722.0h.1M213.1 715.8h.1M307.8 715.5h.1M192.4 717.2h.1M277.4 725.4h.1M216.6 733.1h.1M292.5 723.2h.1M226.2 714.1h.1M197.9 715.0h.1M267.2 718.6h.1M258.2 733.4h.1M187.3 737.9h.1M286.1 723.8h.1M297.8 722.7h.1M248.1 734.4h.1M230.4 722.2h.1M235.3 728.1h.1M274.0 714.5h.1M179.4 727.4h.1M208.8 706.1h.1M227.0 715.1h.1M179.1 702.8h.1M248.1 719.4h.1M234.6 724.3h.1M266.9 716.3h.1M227.8 723.7h.1M230.2 736.2h.1M204.6 722.5h.1M237.5 708.5h.1M254.1 728.2h.1M213.2 731.3h.1M233.8 715.6h.1M254.6 710.3h.1M187.5 723.4h.1M286.2 723.6h.1M181.1 734.2h.1M182.5 714.0h.1M265.8 716.6h.1M250.4 717.4h.1M196.9 708.1h.1M272.8 717.2h.1M181.4 706.9h.1M187.6 723.9h.1M281.7 727.5h.1M325.8 726.0h.1M306.5 715.9h.1M192.5 721.8h.1M219.4 730.8h.1M251.1 719.3h.1M283.8 729.7h.1M223.0 708.3h.1M288.2 722.5h.1M321.2 724.1h.1M190.5 706.0h.1M190.8 731.6h.1M195.5 738.4h.1M245.5 725.9h.1M199.5 724.9h.1M210.7 723.1h.1M204.3 718.0h.1M198.7 717.5h.1M230.2 725.8h.1M177.9 733.7h.1M246.9 724.5h.1M277.2 732.5h.1M211.4 728.5h.1M183.0 729.5h.1M206.8 725.1h.1M278.0 718.0h.1M190.4 706.6h.1M246.4 718.2h.1M328.3 725.9h.1M235.8 726.6h.1M220.5 715.7h.1M178.2 719.2h.1M212.5 725.9h.1M258.0 731.5h.1M256.3 721.2h.1M280.1 718.9h.1M181.3 704.2h.1M291.5 721.0h.1M239.2 712.8h.1M210.9 710.1h.1M199.6 715.7h.1M188.6 720.5h.1M276.1 720.0h.1M251.9 723.7h.1M236.9 721.6h.1M204.3 723.4h.1M284.0 723.3h.1M249.9 732.1h.1M259.2 716.7h.1M192.8 718.6h.1M252.3 725.4h.1M260.3 715.8h.1M213.4 714.1h.1M289.0 722.3h.1M305.2 722.5h.1M257.7 719.9h.1M200.7 734.1h.1M201.6 713.6h.1M329.2 717.6h.1M306.1 715.0h.1M258.0 729.4h.1M328.6 717.3h.1M267.7 711.7h.1M180.4 707.3h.1M249.0 710.7h.1M180.4 735.4h.1M177.7 722.7h.1M191.4 732.3h.1M221.1 706.8h.1M200.6 736.6h.1M299.5 726.1h.1M260.4 721.2h.1M177.5 729.3h.1M178.6 712.8h.1M221.4 720.7h.1M204.4 703.7h.1M204.7 723.4h.1M267.6 726.2h.1M248.9 719.5h.1M205.2 715.8h.1M246.3 729.2h.1M299.5 727.6h.1M178.9 710.4h.1M242.3 731.3h.1M211.5 726.7h.1M225.9 722.0h.1M259.5 722.9h.1M252.9 710.4h.1M200.6 728.5h.1M280.7 719.8h.1M211.0 718.8h.1M227.9 711.7h.1M214.3 715.2h.1M250.7 718.0h.1M242.1 718.1h.1M269.8 718.1h.1M290.5 725.3h.1M229.6 707.3h.1M279.5 729.6h.1M213.9 727.2h.1M271.7 720.1h.1M238.5 711.8h.1M207.7 707.4h.1M247.7 730.7h.1M279.3 720.4h.1M191.3 705.6h.1M204.4 724.8h.1M229.5 716.0h.1M279.0 715.8h.1M218.9 718.5h.1M192.5 709.5h.1M227.0 721.7h.1M186.2 713.2h.1M220.8 717.1h.1M233.1 718.3h.1M245.1 722.7h.1M207.1 710.7h.1M201.6 709.2h.1M221.0 715.6h.1M210.0 711.7h.1M228.9 719.2h.1M220.9 712.2h.1M232.2 722.0h.1M201.5 711.1h.1M256.8 724.9h.1M207.2 711.2h.1M192.4 704.6h.1M240.8 721.4h.1M194.2 706.1h.1M216.2 713.1h.1M234.0 719.5h.1M196.6 708.9h.1M191.6 705.1h.1M253.6 722.9h.1M204.9 709.2h.1M194.5 709.1h.1M231.1 719.7h.1M235.1 716.5h.1M220.0 713.0h.1M242.4 721.8h.1M207.1 712.3h.1M207.2 711.6h.1M240.4 717.4h.1M212.3 711.4h.1M259.4 725.1h.1M221.0 716.6h.1M195.4 708.2h.1M239.1 717.7h.1M211.7 710.2h.1M205.5 708.5h.1M232.8 716.2h.1M248.7 720.2h.1M220.2 715.2h.1M258.9 722.7h.1M207.0 709.5h.1M239.8 720.2h.1M215.2 712.5h.1M207.6 711.3h.1M199.1 708.1h.1M249.6 721.0h.1M215.0 713.6h.1M204.3 710.4h.1M233.7 721.7h.1M225.6 716.4h.1M195.0 706.6h.1M255.6 723.7h.1M246.4 720.8h.1M251.1 722.8h.1M205.9 711.6h.1M240.2 719.6h.1M251.2 723.4h.1M261.0 724.5h.1M223.1 714.6h.1M225.1 716.9h.1M247.6 722.0h.1M227.6 715.3h.1M252.2 722.4h.1M231.5 718.3h.1M198.2 708.2h.1M224.8 714.0h.1M201.9 711.1h.1M211.4 714.0h.1M260.2 724.2h.1M190.2 707.5h.1M252.5 723.9h.1M245.0 720.1h.1M205.1 708.5h.1M226.8 715.8h.1M249.7 721.4h.1M215.1 711.5h.1M247.4 721.9h.1M217.1 715.6h.1M204.9 713.7h.1M242.4 719.4h.1M232.6 718.0h.1M247.6 720.7h.1M246.0 725.5h.1M187.1 709.2h.1M203.6 709.3h.1M259.1 727.2h.1M210.6 712.4h.1M220.6 712.1h.1M248.8 718.7h.1M258.8 724.6h.1M207.0 711.0h.1M219.7 713.1h.1M200.9 710.1h.1M259.2 724.7h.1M261.0 723.8h.1M185.9 705.8h.1M203.7 712.3h.1M212.5 711.3h.1M207.4 710.7h.1M251.0 723.1h.1M204.0 710.7h.1M221.0 714.7h.1M193.0 709.9h.1M250.8 723.5h.1M220.0 718.1h.1M255.6 723.4h.1M262.2 726.9h.1M204.0 711.7h.1M237.8 719.3h.1M191.3 708.4h.1M192.4 704.7h.1M205.4 711.2h.1M226.2 717.2h.1M258.8 723.9h.1M246.6 721.7h.1M253.2 723.3h.1M199.2 710.7h.1M199.4 709.5h.1M186.4 705.3h.1M210.7 714.4h.1M187.1 706.7h.1M226.1 718.0h.1M255.4 722.1h.1M194.1 708.6h.1M223.5 716.4h.1M228.0 715.5h.1M220.2 716.1h.1M220.7 712.8h.1M220.8 722.9h.1M234.9 723.1h.1M251.7 730.6h.1M255.9 730.4h.1M229.0 726.0h.1M226.6 726.6h.1M230.2 725.4h.1M240.8 728.7h.1M218.0 725.0h.1M218.5 723.9h.1M225.8 727.7h.1M257.4 730.3h.1M220.8 726.4h.1M234.0 726.0h.1M246.8 730.3h.1M253.0 730.0h.1M218.8 723.8h.1M254.7 730.2h.1M214.8 723.3h.1M218.3 724.1h.1M246.0 729.5h.1M218.6 723.4h.1M215.1 722.7h.1M228.9 725.3h.1M248.6 728.3h.1M226.7 725.6h.1M251.1 730.0h.1M218.5 723.3h.1M221.0 726.0h.1M257.1 731.2h.1M231.1 726.8h.1M242.4 727.1h.1M257.5 731.3h.1M227.3 726.0h.1M243.3 728.8h.1M234.5 727.6h.1M213.1 721.9h.1M239.3 727.0h.1M226.4 725.3h.1M213.2 724.5h.1M249.4 729.9h.1M240.1 725.8h.1M233.7 727.6h.1M246.8 728.2h.1M240.4 725.2h.1M252.0 729.3h.1M254.1 729.7h.1M250.0 730.6h.1M257.9 731.3h.1M322.7 719.9h.1M324.3 718.3h.1M314.3 719.4h.1M324.9 721.1h.1M329.5 718.7h.1M314.0 720.5h.1M312.9 716.4h.1M315.0 725.2h.1M187.4 733.6h.1M189.9 722.3h.1M185.1 720.9h.1M176.9 711.6h.1M198.8 727.1h.1M201.0 728.4h.1M184.1 716.8h.1M189.9 724.4h.1M204.0 717.6h.1M177.8 726.0h.1M197.8 724.1h.1M198.8 732.6h.1M190.0 707.8h.1M196.0 717.7h.1M190.7 718.9h.1M184.6 704.4h.1M186.8 710.3h.1M177.7 734.0h.1M189.1 726.4h.1M194.8 703.6h.1M192.7 713.3h.1M181.2 706.1h.1M185.1 713.6h.1M184.5 727.3h.1M187.7 722.3h.1M189.2 718.4h.1M183.5 717.3h.1M186.5 729.6h.1M182.1 729.0h.1M186.0 735.8h.1M191.6 719.4h.1M195.5 714.1h.1M197.1 728.6h.1M194.9 715.6h.1M203.6 725.1h.1M191.2 716.3h.1M201.2 718.7h.1M190.7 729.1h.1M182.1 711.0h.1M189.1 721.0h.1M192.2 733.6h.1M200.8 721.1h.1M191.9 719.5h.1M183.3 718.9h.1M172.8 724.8h.1M183.9 717.9h.1M184.4 719.7h.1M187.5 719.7h.1M194.7 706.5h.1M188.2 728.8h.1M202.0 725.1h.1M188.4 730.4h.1M183.8 711.3h.1M182.7 723.7h.1M180.2 717.1h.1M197.6 724.2h.1M192.6 725.0h.1M196.9 712.0h.1M195.7 730.5h.1M196.6 719.8h.1M185.4 723.4h.1M183.8 725.2h.1M186.9 726.4h.1M197.5 731.3h.1M178.1 710.0h.1M181.7 713.7h.1M188.6 722.6h.1M187.1 711.5h.1M195.0 729.2h.1M192.2 707.6h.1M189.1 717.0h.1M208.9 715.1h.1M198.6 723.6h.1M179.8 724.7h.1M181.6 722.4h.1M198.2 716.6h.1M197.5 710.7h.1M183.0 725.8h.1M193.1 735.6h.1M192.9 708.8h.1M205.4 718.3h.1M194.1 719.2h.1M190.0 712.5h.1M178.4 719.9h.1M180.1 727.4h.1M204.4 732.9h.1M181.1 729.6h.1M198.6 715.1h.1M180.8 730.0h.1M172.5 716.2h.1M173.4 708.6h.1M184.3 714.4h.1M189.5 710.2h.1M188.8 729.5h.1" stroke="#8a5430" stroke-width="0.8" stroke-linecap="round" stroke-opacity="1"/>
<polygon points="235.2,680.5 274.8,699.6 247.5,754.3 207.8,735.2" fill="#78dbdd" fill-opacity="0.8"/>
<path d="M220.1 726.9h.1M269.0 702.5h.1M224.9 732.2h.1M248.5 696.8h.1M242.4 750.3h.1M251.4 741.7h.1M238.1 715.5h.1M216.4 718.2h.1M244.0 744.4h.1M233.1 691.4h.1M238.5 734.8h.1M244.3 709.4h.1M264.3 696.5h.1M228.4 730.3h.1M268.5 705.1h.1M247.3 732.2h.1M232.6 688.9h.1M238.8 693.1h.1M223.0 741.8h.1M217.5 732.4h.1M243.3 733.8h.1M221.2 714.6h.1M231.6 715.8h.1M256.8 722.7h.1M239.7 720.2h.1M238.4 719.4h.1M252.9 725.2h.1M244.7 723.8h.1M222.3 716.0h.1M232.4 719.6h.1M226.6 716.6h.1M258.4 723.9h.1M240.3 718.3h.1M259.8 723.6h.1M227.9 716.0h.1M218.5 714.9h.1M247.3 721.0h.1M250.5 723.2h.1M253.2 722.3h.1M231.3 717.1h.1M232.3 719.0h.1M252.9 721.1h.1M243.0 721.4h.1M254.6 724.0h.1M258.6 724.2h.1M242.0 720.5h.1M261.4 723.9h.1M248.6 723.9h.1M245.7 720.6h.1M226.3 716.0h.1M228.9 717.8h.1M252.7 725.0h.1M223.6 715.6h.1M226.0 714.7h.1M241.1 719.2h.1M248.1 721.5h.1M238.1 717.3h.1M225.7 715.6h.1M252.2 723.2h.1M261.0 725.4h.1M232.0 717.7h.1M235.0 716.8h.1M250.4 722.1h.1M232.1 719.1h.1M219.4 717.6h.1M227.1 717.7h.1M218.3 715.3h.1M221.8 716.7h.1M224.1 715.9h.1M252.0 723.8h.1M253.7 722.6h.1M260.0 724.9h.1M250.9 722.8h.1M253.5 722.8h.1M245.1 718.6h.1M231.0 718.5h.1M246.9 719.8h.1M225.1 716.6h.1M223.6 716.1h.1M252.9 723.5h.1M246.4 719.8h.1M253.7 724.6h.1M260.2 727.3h.1M229.9 717.1h.1M235.2 716.6h.1M252.0 721.4h.1M237.8 719.9h.1M226.8 714.7h.1M218.6 714.9h.1M234.9 721.2h.1M226.6 716.9h.1M258.6 725.3h.1M221.4 714.3h.1M257.3 725.7h.1M261.7 725.3h.1M237.5 720.8h.1M257.2 723.3h.1M230.5 717.1h.1M243.0 721.5h.1M259.3 724.3h.1M253.8 728.3h.1M237.7 728.0h.1M247.2 728.5h.1M251.8 726.5h.1M241.3 727.5h.1M234.6 726.1h.1M257.6 731.8h.1M246.8 730.1h.1M254.8 728.1h.1M245.9 729.2h.1M248.3 730.5h.1M248.6 729.3h.1M235.2 728.1h.1M244.1 726.4h.1M221.4 725.8h.1M234.0 728.7h.1M241.6 729.4h.1M248.9 729.5h.1M246.9 726.8h.1M231.9 728.4h.1M256.2 728.8h.1M214.5 724.0h.1M251.2 728.6h.1M245.3 728.5h.1M216.6 721.4h.1M229.1 723.6h.1M225.8 726.7h.1M214.4 722.8h.1M221.5 722.2h.1M248.5 730.3h.1M234.2 724.6h.1M249.2 730.3h.1M257.5 732.1h.1M228.0 726.8h.1M216.1 721.9h.1M220.4 724.2h.1M242.0 726.2h.1M221.2 724.6h.1M254.9 729.0h.1M226.2 725.3h.1M222.7 724.6h.1M226.3 726.2h.1M247.1 727.1h.1M227.4 723.7h.1M220.2 721.4h.1M231.2 726.0h.1M257.5 731.8h.1M217.2 721.6h.1M244.3 728.7h.1M229.5 725.8h.1M226.4 726.4h.1M250.2 728.6h.1M251.9 731.5h.1M216.2 723.9h.1M253.9 730.0h.1M226.9 725.7h.1M230.1 723.8h.1" stroke="#8a7060" stroke-width="0.9" stroke-linecap="round" stroke-opacity="0.7"/>
<path d="M217.8 723.5h.1M229.1 694.1h.1M244.8 744.2h.1M255.6 692.5h.1M259.2 711.7h.1M238.1 714.4h.1M256.7 724.8h.1M251.0 695.4h.1M221.9 715.3h.1M242.5 694.6h.1M227.3 743.0h.1M232.9 745.1h.1M220.0 738.6h.1M259.4 721.3h.1M224.9 741.4h.1M223.0 739.8h.1M242.9 702.3h.1M225.2 731.1h.1M238.0 734.5h.1M232.9 713.7h.1M222.7 728.7h.1M220.2 738.5h.1M222.9 732.0h.1M238.0 689.5h.1M225.4 714.2h.1M219.5 734.5h.1M237.7 714.9h.1M230.0 711.2h.1M242.0 704.6h.1M257.7 697.3h.1M235.6 748.5h.1M236.2 681.1h.1M262.6 693.7h.1M256.5 700.7h.1M251.5 714.7h.1M225.2 737.8h.1M229.2 706.5h.1M246.7 696.2h.1M220.2 734.0h.1M247.2 720.1h.1M232.1 719.5h.1M244.3 722.3h.1M235.2 717.6h.1M251.0 724.0h.1M243.5 721.6h.1M262.5 723.6h.1M240.0 719.5h.1M220.4 712.9h.1M253.9 722.7h.1M236.9 718.0h.1M252.1 721.3h.1M225.7 716.4h.1M247.1 721.3h.1M249.7 722.7h.1M224.1 716.2h.1M237.7 717.9h.1M219.7 715.2h.1M233.9 716.6h.1M229.3 718.9h.1M224.7 716.4h.1M228.3 718.9h.1M248.0 721.7h.1M218.9 713.7h.1M224.1 718.2h.1M245.1 720.8h.1M254.0 724.4h.1M240.8 720.1h.1M232.7 717.7h.1M257.2 724.5h.1M238.5 718.6h.1M232.7 714.9h.1M226.8 718.6h.1M221.3 717.3h.1M258.1 724.8h.1M251.0 721.0h.1M228.1 715.7h.1M231.8 717.6h.1M238.9 720.4h.1M262.3 723.0h.1M222.1 715.0h.1M225.4 715.3h.1M246.3 723.2h.1M244.6 719.8h.1M257.1 723.5h.1M255.9 723.4h.1M251.5 723.6h.1M219.6 714.8h.1M250.6 722.6h.1M221.0 715.3h.1M218.9 714.7h.1M250.1 720.6h.1M261.6 726.0h.1M223.4 716.6h.1M260.1 724.2h.1M236.7 718.2h.1M234.4 717.0h.1M220.8 714.0h.1M240.4 719.3h.1M221.1 717.5h.1M254.7 722.8h.1M245.4 721.8h.1M235.9 717.2h.1M250.5 722.9h.1M241.8 719.6h.1M255.0 726.1h.1M250.5 723.2h.1M233.2 717.9h.1M249.3 722.5h.1M245.6 722.0h.1M251.5 730.3h.1M221.9 724.3h.1M242.2 726.7h.1M223.3 724.6h.1M255.0 729.2h.1M230.5 724.8h.1M250.0 728.6h.1M228.1 725.4h.1M217.3 725.9h.1M231.2 724.1h.1M257.9 731.1h.1M235.7 728.8h.1M251.7 727.9h.1M229.7 725.3h.1M223.5 723.3h.1M253.6 730.4h.1M223.2 724.0h.1M226.8 722.9h.1M231.4 726.3h.1M216.0 722.2h.1M231.4 725.7h.1M223.1 721.8h.1M214.9 724.7h.1M241.1 728.1h.1M222.7 725.3h.1M237.9 725.1h.1M254.6 730.7h.1M258.5 729.3h.1M257.6 732.3h.1M234.4 728.3h.1M221.3 724.6h.1M220.3 723.3h.1M222.3 724.4h.1M220.1 722.0h.1M238.4 727.7h.1M239.2 723.6h.1M232.2 722.8h.1M226.5 723.1h.1M216.9 725.7h.1M239.4 726.5h.1M225.9 726.3h.1M239.5 725.2h.1M225.4 726.2h.1M238.6 727.9h.1M255.8 730.7h.1M214.8 721.4h.1M215.9 724.3h.1M221.6 724.2h.1M243.9 726.6h.1M245.6 726.7h.1M226.1 725.1h.1M240.9 727.9h.1M251.1 730.4h.1" stroke="#7a5a48" stroke-width="0.9" stroke-linecap="round" stroke-opacity="0.7"/>
<line x1="248.80" y1="705.90" x2="235.00" y2="731.00" stroke="#0b2a3a" stroke-width="1.5"/>
<polygon points="233.2,734.3 232.0,727.8 237.6,730.0" fill="#0b2a3a"/>
<rect x="306.2" y="737.3" width="32.0" height="13.7" fill="#fff" stroke="#444" stroke-width="0.8"/>
<text x="308.30" y="746.40" font-size="10.60" text-anchor="start" fill="#111" textLength="27.60" lengthAdjust="spacingAndGlyphs">20 nm</text>
<rect x="313.00" y="748.20" width="17.00" height="1.60" fill="#b0682c"/>
</g>
<g id="panel_i">
<text x="380.40" y="555.30" font-size="14.20" text-anchor="start" fill="#111">i)</text>
<polygon points="557.1,758.5 559.9,758.5 564.7,752.1 569.4,744.6 574.2,728.6 579.0,719.0 583.7,703.0 588.5,671.0 593.3,633.7 598.0,596.4 602.8,569.7 604.7,561.7 607.6,574.0 612.3,576.1 617.1,581.4 621.9,631.0 626.6,660.4 631.4,686.5 636.2,700.3 640.9,711.0 645.7,719.0 650.4,726.5 655.2,735.0 660.0,740.3 664.7,743.0 669.5,745.7 674.3,747.3 679.0,748.3 683.8,749.9 688.6,751.0 693.3,752.1 698.1,753.1 702.9,754.2 707.6,755.3 712.4,755.8 717.2,756.3 721.9,757.4 726.7,757.9 726.7,759.0" fill="#f6b2a2" fill-opacity="0.6"/>
<line x1="557.06" y1="758.47" x2="726.69" y2="759.00" stroke="#e8694c" stroke-width="1.2"/>
<polygon points="541.8,747.8 545.6,740.3 550.4,738.2 555.1,737.1 559.9,735.0 564.7,733.4 569.4,731.3 574.2,728.6 579.0,724.3 583.7,720.1 588.5,697.7 593.3,673.7 598.0,657.7 602.8,647.0 607.6,660.4 612.3,664.6 617.1,671.0 621.9,683.8 626.6,692.3 631.4,701.9 636.2,719.0 640.9,723.3 645.7,727.5 650.4,732.3 655.2,736.1 660.0,737.7 664.7,737.1 669.5,738.2 674.3,740.3 679.0,741.4 683.8,743.5 688.6,745.1 693.3,744.6 698.1,745.1 702.9,743.5 707.6,742.5 712.4,744.6 717.2,748.3 718.1,748.3" fill="#c83a3a" fill-opacity="0.45"/>
<line x1="541.81" y1="747.80" x2="718.11" y2="748.34" stroke="#7a0e0e" stroke-width="1.2"/>
<polyline points="412.2,761.7 417.0,763.8 421.7,761.1 426.5,760.6 431.3,761.7 436.0,760.1 440.8,761.1 445.6,760.1 450.3,760.6 455.1,758.5 459.8,759.0 464.6,754.2 469.4,759.0 474.1,756.3 478.9,757.4 483.7,756.3 488.4,752.1 493.2,757.4 498.0,756.3 502.7,757.9 507.5,757.4 512.3,758.5 517.0,756.3 521.8,755.3 526.6,755.8 531.3,755.3 536.1,756.3 540.9,754.2 545.6,757.4 550.4,758.5 555.1,757.9 559.9,758.5 564.7,752.1 569.4,744.6 574.2,728.6 579.0,719.0 583.7,703.0 588.5,671.0 593.3,633.7 598.0,596.4 602.8,569.7 604.7,561.7 607.6,574.0 612.3,576.1 617.1,581.4 621.9,631.0 626.6,660.4 631.4,686.5 636.2,700.3 640.9,711.0 645.7,719.0 650.4,726.5 655.2,735.0 660.0,740.3 664.7,743.0 669.5,745.7 674.3,747.3 679.0,748.3 683.8,749.9 688.6,751.0 693.3,752.1 698.1,753.1 702.9,754.2 707.6,755.3 712.4,755.8 717.2,756.3 721.9,757.4 726.7,757.9 731.5,758.5 736.2,758.5 741.0,759.0 745.8,758.5 750.5,757.9 755.3,757.4 760.0,755.3 764.8,752.1 769.6,751.5 774.3,751.0 779.1,745.7 783.9,737.7 788.6,729.7 793.4,721.1" fill="none" stroke="#e8694c" stroke-width="1.8" stroke-linejoin="round"/>
<path d="M412.2 758.5V764.9M417.0 760.6V767.0M421.7 757.9V764.3M426.5 757.4V763.8M431.3 758.5V764.9M436.0 756.9V763.3M440.8 757.9V764.3M445.6 756.9V763.3M450.3 757.4V763.8M455.1 755.3V761.7M459.8 755.8V762.2M464.6 751.0V757.4M469.4 755.8V762.2M474.1 753.1V759.5M478.9 754.2V760.6M483.7 753.1V759.5M488.4 748.9V755.3M493.2 754.2V760.6M498.0 753.1V759.5M502.7 754.7V761.1M507.5 754.2V760.6M512.3 755.3V761.7M517.0 753.1V759.5M521.8 752.1V758.5M526.6 752.6V759.0M531.3 752.1V758.5M536.1 753.1V759.5M540.9 751.0V757.4M545.6 754.2V760.6M550.4 755.3V761.7M555.1 754.7V761.1M559.9 755.3V761.7M564.7 748.9V755.3M569.4 741.4V747.8M574.2 725.4V731.8M579.0 715.8V722.2M583.7 699.8V706.2M588.5 667.8V674.2M593.3 630.5V636.9M598.0 593.2V599.6M602.8 566.5V572.9M604.7 558.5V564.9M607.6 570.8V577.2M612.3 572.9V579.3M617.1 578.2V584.6M621.9 627.8V634.2M626.6 657.2V663.5M631.4 683.3V689.7M636.2 697.1V703.5M640.9 707.8V714.2M645.7 715.8V722.2M650.4 723.3V729.7M655.2 731.8V738.2M660.0 737.1V743.5M664.7 739.8V746.2M669.5 742.5V748.9M674.3 744.1V750.5M679.0 745.1V751.5M683.8 746.7V753.1M688.6 747.8V754.2M693.3 748.9V755.3M698.1 749.9V756.3M702.9 751.0V757.4M707.6 752.1V758.5M712.4 752.6V759.0M717.2 753.1V759.5M721.9 754.2V760.6M726.7 754.7V761.1M731.5 755.3V761.7M736.2 755.3V761.7M741.0 755.8V762.2M745.8 755.3V761.7M750.5 754.7V761.1M755.3 754.2V760.6M760.0 752.1V758.5M764.8 748.9V755.3M769.6 748.3V754.7M774.3 747.8V754.2M779.1 742.5V748.9M783.9 734.5V740.9M788.6 726.5V732.9M793.4 717.9V724.3" stroke="#e8694c" stroke-width="1.2" fill="none"/>
<polyline points="412.2,736.6 417.0,736.1 421.7,737.7 426.5,733.4 431.3,728.6 436.0,725.4 440.8,730.7 445.6,728.1 450.3,735.0 455.1,740.3 459.8,744.1 464.6,746.7 469.4,748.9 474.1,747.3 478.9,745.7 483.7,745.1 488.4,747.3 493.2,747.8 498.0,743.0 502.7,745.7 507.5,748.3 512.3,747.3 517.0,745.7 521.8,743.0 526.6,743.5 531.3,746.7 536.1,748.9 540.9,747.8 545.6,740.3 550.4,738.2 555.1,737.1 559.9,735.0 564.7,733.4 569.4,731.3 574.2,728.6 579.0,724.3 583.7,720.1 588.5,697.7 593.3,673.7 598.0,657.7 602.8,647.0 607.6,660.4 612.3,664.6 617.1,671.0 621.9,683.8 626.6,692.3 631.4,701.9 636.2,719.0 640.9,723.3 645.7,727.5 650.4,732.3 655.2,736.1 660.0,737.7 664.7,737.1 669.5,738.2 674.3,740.3 679.0,741.4 683.8,743.5 688.6,745.1 693.3,744.6 698.1,745.1 702.9,743.5 707.6,742.5 712.4,744.6 717.2,748.3 721.9,747.8 726.7,747.3 731.5,748.9 736.2,750.5 741.0,749.4 745.8,751.0 750.5,751.5 755.3,750.5 760.0,752.1 764.8,754.2 769.6,752.6 774.3,752.1 779.1,751.0 783.9,752.1 788.6,751.5 793.4,761.7" fill="none" stroke="#7a0e0e" stroke-width="1.8" stroke-linejoin="round"/>
<path d="M412.2 732.9V740.3M417.0 732.3V739.8M421.7 733.9V741.4M426.5 729.7V737.1M431.3 724.9V732.3M436.0 721.7V729.1M440.8 727.0V734.5M445.6 724.3V731.8M450.3 731.3V738.7M455.1 736.6V744.1M459.8 740.3V747.8M464.6 743.0V750.5M469.4 745.1V752.6M474.1 743.5V751.0M478.9 741.9V749.4M483.7 741.4V748.9M488.4 743.5V751.0M493.2 744.1V751.5M498.0 739.3V746.7M502.7 741.9V749.4M507.5 744.6V752.1M512.3 743.5V751.0M517.0 741.9V749.4M521.8 739.3V746.7M526.6 739.8V747.3M531.3 743.0V750.5M536.1 745.1V752.6M540.9 744.1V751.5M545.6 736.6V744.1M550.4 734.5V741.9M555.1 733.4V740.9M559.9 731.3V738.7M564.7 729.7V737.1M569.4 727.5V735.0M574.2 724.9V732.3M579.0 720.6V728.1M583.7 716.3V723.8M588.5 693.9V701.4M593.3 669.9V677.4M598.0 654.0V661.4M602.8 643.3V650.8M607.6 656.6V664.1M612.3 660.9V668.3M617.1 667.3V674.7M621.9 680.1V687.5M626.6 688.6V696.1M631.4 698.2V705.7M636.2 715.3V722.7M640.9 719.5V727.0M645.7 723.8V731.3M650.4 728.6V736.1M655.2 732.3V739.8M660.0 733.9V741.4M664.7 733.4V740.9M669.5 734.5V741.9M674.3 736.6V744.1M679.0 737.7V745.1M683.8 739.8V747.3M688.6 741.4V748.9M693.3 740.9V748.3M698.1 741.4V748.9M702.9 739.8V747.3M707.6 738.7V746.2M712.4 740.9V748.3M717.2 744.6V752.1M721.9 744.1V751.5M726.7 743.5V751.0M731.5 745.1V752.6M736.2 746.7V754.2M741.0 745.7V753.1M745.8 747.3V754.7M750.5 747.8V755.3M755.3 746.7V754.2M760.0 748.3V755.8M764.8 750.5V757.9M769.6 748.9V756.3M774.3 748.3V755.8M779.1 747.3V754.7M783.9 748.3V755.8M788.6 747.8V755.3M793.4 757.9V765.4" stroke="#7a0e0e" stroke-width="1.2" fill="none"/>
<rect x="412.2" y="553.7" width="381.2" height="213.3" fill="none" stroke="#a8a8a8" stroke-width="1"/>
<line x1="408.70" y1="767.00" x2="412.20" y2="767.00" stroke="#a8a8a8" stroke-width="1"/>
<text x="409.20" y="771.70" font-size="14.42" text-anchor="end" fill="#262626" textLength="8.65" lengthAdjust="spacingAndGlyphs">0</text>
<line x1="408.70" y1="713.67" x2="412.20" y2="713.67" stroke="#a8a8a8" stroke-width="1"/>
<text x="409.20" y="718.38" font-size="14.42" text-anchor="end" fill="#262626" textLength="8.65" lengthAdjust="spacingAndGlyphs">1</text>
<line x1="408.70" y1="660.35" x2="412.20" y2="660.35" stroke="#a8a8a8" stroke-width="1"/>
<text x="409.20" y="665.05" font-size="14.42" text-anchor="end" fill="#262626" textLength="8.65" lengthAdjust="spacingAndGlyphs">2</text>
<line x1="408.70" y1="607.03" x2="412.20" y2="607.03" stroke="#a8a8a8" stroke-width="1"/>
<text x="409.20" y="611.73" font-size="14.42" text-anchor="end" fill="#262626" textLength="8.65" lengthAdjust="spacingAndGlyphs">3</text>
<line x1="408.70" y1="553.70" x2="412.20" y2="553.70" stroke="#a8a8a8" stroke-width="1"/>
<text x="409.20" y="558.40" font-size="14.42" text-anchor="end" fill="#262626" textLength="8.65" lengthAdjust="spacingAndGlyphs">4</text>
<line x1="412.20" y1="767.00" x2="412.20" y2="770.50" stroke="#a8a8a8" stroke-width="1"/>
<text x="412.20" y="781.20" font-size="14.42" text-anchor="middle" fill="#262626" textLength="8.65" lengthAdjust="spacingAndGlyphs">0</text>
<line x1="507.50" y1="767.00" x2="507.50" y2="770.50" stroke="#a8a8a8" stroke-width="1"/>
<text x="507.50" y="781.20" font-size="14.42" text-anchor="middle" fill="#262626" textLength="17.31" lengthAdjust="spacingAndGlyphs">10</text>
<line x1="602.80" y1="767.00" x2="602.80" y2="770.50" stroke="#a8a8a8" stroke-width="1"/>
<text x="602.80" y="781.20" font-size="14.42" text-anchor="middle" fill="#262626" textLength="17.31" lengthAdjust="spacingAndGlyphs">20</text>
<line x1="698.10" y1="767.00" x2="698.10" y2="770.50" stroke="#a8a8a8" stroke-width="1"/>
<text x="698.10" y="781.20" font-size="14.42" text-anchor="middle" fill="#262626" textLength="17.31" lengthAdjust="spacingAndGlyphs">30</text>
<line x1="793.40" y1="767.00" x2="793.40" y2="770.50" stroke="#a8a8a8" stroke-width="1"/>
<text x="793.40" y="781.20" font-size="14.42" text-anchor="middle" fill="#262626" textLength="17.31" lengthAdjust="spacingAndGlyphs">40</text>
<text x="602.80" y="796.00" font-size="14.20" text-anchor="middle" fill="#262626" textLength="94.86" lengthAdjust="spacingAndGlyphs">Distance (nm)</text>
<text x="396.80" y="659.50" font-size="14.42" text-anchor="middle" fill="#262626" textLength="189.04" lengthAdjust="spacingAndGlyphs" transform="rotate(-90 396.80 659.50)">Carbon concentration (at%)</text>
<rect x="666.1" y="560.8" width="121.0" height="44.1" rx="2.5" fill="#fff" fill-opacity="0.85" stroke="#dcdcdc" stroke-width="1"/>
<line x1="671.50" y1="572.00" x2="699.50" y2="572.00" stroke="#e8694c" stroke-width="1.6"/>
<line x1="685.50" y1="565.50" x2="685.50" y2="578.50" stroke="#e8694c" stroke-width="1.4"/>
<text x="710.20" y="577.00" font-size="14.42" text-anchor="start" fill="#262626" textLength="71.27" lengthAdjust="spacingAndGlyphs">LC+B+LTT</text>
<line x1="671.50" y1="592.00" x2="699.50" y2="592.00" stroke="#7a0e0e" stroke-width="1.6"/>
<line x1="685.50" y1="585.50" x2="685.50" y2="598.50" stroke="#7a0e0e" stroke-width="1.4"/>
<text x="710.20" y="597.00" font-size="14.42" text-anchor="start" fill="#262626" textLength="37.80" lengthAdjust="spacingAndGlyphs">LC+B</text>
<text x="413.2" y="566.6" font-size="13" fill="#e07458" textLength="192" lengthAdjust="spacingAndGlyphs">Γ<tspan font-size="9" dy="3">C</tspan><tspan dy="-3">(LC+B+LTT) = 13.91 at%.nm</tspan><tspan font-size="8.5" dy="-5">-2</tspan></text>
<text x="413.2" y="581.0" font-size="13" fill="#7a1212" textLength="152.5" lengthAdjust="spacingAndGlyphs">Γ<tspan font-size="9" dy="3">C</tspan><tspan dy="-3">(LC+B) = 9.00 at%.nm</tspan><tspan font-size="8.5" dy="-5">-2</tspan></text>
</g>
</svg>
</body></html>
